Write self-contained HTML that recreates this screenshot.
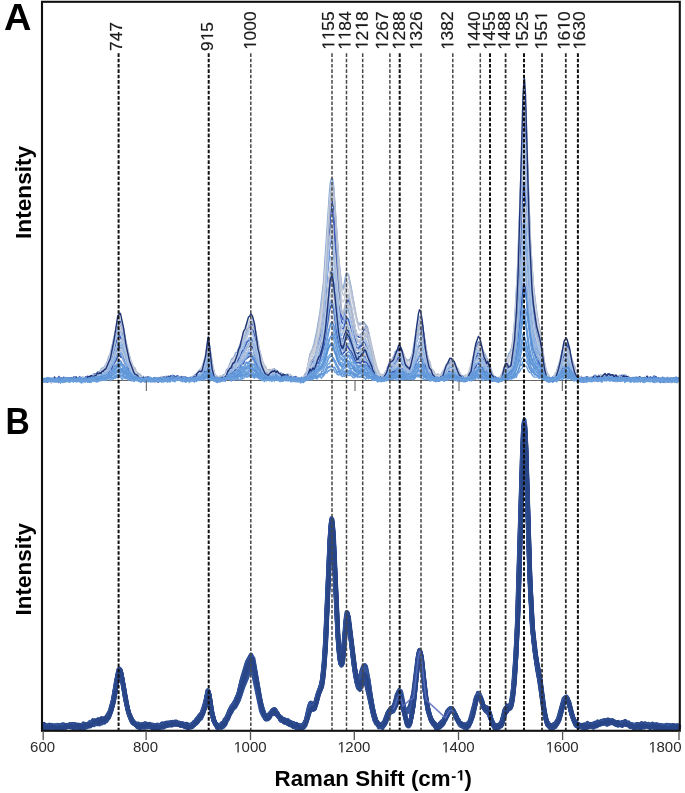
<!DOCTYPE html>
<html><head><meta charset="utf-8"><style>
html,body{margin:0;padding:0;background:#fff;width:685px;height:793px;overflow:hidden}
svg{display:block;will-change:transform;filter:blur(0.4px)}
text{font-family:"Liberation Sans",sans-serif}
</style></head><body>
<svg width="685" height="793" viewBox="0 0 685 793">
<rect width="685" height="793" fill="#fff"/>
<line x1="42" y1="380.5" x2="680" y2="380.5" stroke="#666" stroke-width="1"/>
<g>
<path d="M43 726.5l.5 .2 1.5-1.2 .5 .7 2-.6 .5 1 .5-.3 .5 .3 .5-.7 .5 .3 .5-.5 1.5 2.3 1-.2 1.5-1.3 1.5 .3 .5-.5 .5 .4 3-.4 1.5-1.4 .5 .8 1 .3 .5-.8 3.5 0 2 .6 1-1.6 1.5 1.1 2-.4 2.5 1.6 .5-.6 3 .1 1-.9 2.5 1.4 2.5-1.9 3.5 .5 2-.4 2-2 .5-.1 1 .8 1-1.2 1.5 .3 2.5-1.8 .5 1 2.5-1.6 1.5 .6 3-4.1 .5 .2 1-.9 1-2.4 4.5-17.1 3-19.4 2-6 .5-.3 .5 .5 2 7.1 4 24.3 3 13 3.5 5.4 .5 1.8 1 1.5 1.5 .7 .5-.8 1.5 .6 .5-.2 1.5 1.2 1-.8 1.5 .7 1-.8 1.5 .9 1.5-1.6 1 .8 1-.7 5 2.8 1.5-1 1.5 .5 1-1 1 .2 .5 .8 .5-.9 1.5 .8 .5-.8 2-1.1 1.5 .6 1-1.5 1-.2 .5 .5 1-.6 .5 .3 1.5-1.2 1.5 .7 .5-.6 1-.2 .5 1 1.5-.9 3 1.9 1.5-1.8 2 1.2 .5-.5 .5 .1 1.5 2.8 .5-.4 1.5 .5 .5-1 1-.4 2.5 .9 1-.7 1.5 .6 1.5-1.3 3-5.8 2-1.6 4.5-7.3 2.5-9.8 1.5-9.4 .5 .1 .5 2.4 3.5 21.8 1.5 5.6 3.5 5.8 1 .5 1.5-.8 1 .1 2-2.1 .5 .4 1.5-2.2 1-.6 4.5-10.8 1-.8 1.5-2.8 1-.6 1.5-3.8 2.5-3.8 4.5-15 3-8.1 1.5-6 3-6.6 1-.6 1 .5 2 5.3 7 37.7 2.5 6.9 2.5 4 1.5 .7 1.5-2.8 1 .8 1.5-3.3 2-2.7 .5-.4 .5 .5 .5-.5 1 .8 .5 1.6 4 6 .5 .4 1-.8 1.5 3.1 1.5-1.3 1.5 1.3 1-.4 3 4.1 1-.9 1.5 1.4 1-1.3 1.5 2.1 1-.7 .5 .3 1 1.9 1-.4 .5-.8 1.5 1.2 1.5-1 1-1.6 1 0 1-3 1.5-1.2 2-8.2 1.5-3.8 2-.7 .5 .5 .5-.7 .5 .5 1-1.3 3.5-12.3 2.5-6.7 2-10.2 1.5-15.4 1.5-25.4 4.5-103.8 1-11.4 .5-1.4 1 5.3 1 17.5 4 91.2 1.5 20.3 1 7.1 1 3.4 .5-.4 1-5.4 3.5-39.8 .5-3.1 .5-1.5 .5-.1 6.5 52.8 3 14.5 .5 .9 1.5-.4 .5-.7 3.5-9.1 1-1.4 1.5 2.3 2 6.4 2.5 16.9 4 20.1 2.5 5.8 1 .2 1.5 2.7 1-.3 1.5 1.2 1-1.5 1.5-.8 4.5-10.7 1-.3 1.5-2.4 1.5 .9 .5-.5 4.5-12.6 1.5-1.8 2.5 4.6 1.5 5.8 2 5.2 1 1 1.5-1.6 1-.2 2-5.1 3.5-15.7 4-34.1 1-4.5 1 .5 1 4.9 3.5 32.8 3 18.9 3.5 12 1 1.3 .5-.1 1.5 2.1 1-.1 1.5 2.9 1.5-1.7 2 0 2-3.7 1-.6 1.5-2.7 .5 .1 .5-.8 1.5-4.1 4-4.8 1 .2 .5 .7 2 4.9 .5-.6 1 1.4 2.5 7.1 1 1.6 .5-.4 1.5 .6 1 1.2 1.5-1.1 2 1.9 1-.6 1-.9 3.5-7.5 4.5-18.9 2-4.4 2 1.5 3.5 11.7 1.5 2.3 .5 .4 .5-1.4 .5 .1 1.5 2.1 1.5 5.5 3.5 8.4 2 2.8 1.5-1.5 .5-.1 .5 .6 .5-.4 1.5 .3 1.5-1.7 4-12.9 1-.6 1-2.5 1-.7 1.5 0 1-1.6 1-4.5 2-16.4 2-26.9 2-43.9 4.5-155.8 1-25.9 1-9.7 1.5 20.9 4 131.5 2.5 50.4 2 20.9 3 22.2 2 10.4 4.5 30.7 3.5 13.9 .5 .9 .5-.5 1.5 1.4 1-.9 1 1.3 1.5 .2 1.5-2.1 .5 .4 1-.7 .5-1 .5 .1 2.5-6.9 3.5-13.3 1.5-4.3 1-1.2 1.5 2.6 1 .6 4 15.3 3 6.2 2 2.9 .5 .4 1.5-.6 1.5 1.8 1 .3 .5-.6 1-.1 .5 .9 1-.4 1.5-1.7 1-.2 .5 .8 2.5 .2 .5-.9 1-.1 .5 .4 1-.9 1.5 .8 1-.3 1.5-1.9 1-.2 1.5 1 .5-.2 .5-1.2 1.5 .2 3.5-2.5 1.5 2.1 1-.8 2-.1 1.5-.7 1.5 1.9 1.5 0 1.5 1.9 1-.9 3.5 1.5 1.5-2.8 .5-.1 .5 .6 1-1 .5 .2 .5 1.3 1.5 0 2 1.7 1.5-1.1 1.5 2.8 .5 0 .5-.8 2 .3 1.5-1.7 1 .8 2.5 .5 1-.6 1 .4 1-.9 1.5 1.4 1 0 1.5-1.1 1.5 1 1-1.2 1.5 .7 1.5-.4 1.5 1.2 2-.8 1.5 1.6 1.5-1.3 2.5 1 .5-.4 2.5 .1 1-.9 1 .4 1.5-1 2.5 3.1 1.5-1.7 1.5-.7 1 1.7 1.5-1.9 2 1.8 1-.1 .5-.6 .5 .4" stroke="#2c4b8e" stroke-width="4.0" fill="none" stroke-linejoin="round"/>
<path d="M43 725.6l1.5 .4 .5 1 1 .2 1-.1 1-1.2 2.5 .3 1.5-1.4 1 1.6 2-.3 .5 .9 2-2.2 4 1.4 2-1.9 .5 .6 1.5 .1 1 1.2 4-1.3 .5 .6 1.5-1.4 3 1.5 1.5-.8 1 .3 2 1.9 1.5-1.3 2-.2 1-1.1 1 .1 .5 1.2 .5-.1 2-1.2 1-1.5 1 .2 1.5-1.4 1 .6 .5-1.1 1-.6 1 .7 2.5-2.1 1.5 1.4 .5-1.4 1.5 .4 .5-1 1 .3 .5 1 1.5-2.1 1 .7 2-3 1.5-3.4 .5-.1 1-3.4 2.5-10.5 4-22.9 1-4.5 1-2.1 1 1.1 1 4.4 4.5 26.4 3.5 14.4 .5 1.2 .5-.4 2.5 6.5 1.5 .2 .5 1.3 1.5 1.4 .5 .3 1-1.8 1.5 2.5 3-2.1 1 1.2 .5 0 .5-.7 .5 .2 1.5-.9 2.5 1.1 3.5 .5 .5-.3 1.5 1.3 1.5-1.1 .5 .9 .5-.7 .5 .4 .5-.9 .5 .7 .5-.3 .5 .4 1-1 1-.2 1-1.2 1.5 1.8 2-.8 1.5-1.7 3.5 .8 1.5-1.8 3.5 2.1 1.5-1.4 .5 .9 1 .2 .5-.4 2 .7 1.5 1.2 1.5-.6 1.5 1.2 .5-1.1 1.5 2.5 1-1 .5 .5 1-.4 .5-.9 .5 .1 1.5-1.4 .5-.9 .5 .4 1-.9 1-2.8 1.5-.7 2-3.7 1.5-.9 2-3.4 2-6.5 3-13.9 .5 .4 .5 2.2 2.5 17.3 2.5 10.1 .5 1 .5 .1 1.5 2.9 2.5 1.4 1-.2 .5 .3 1.5-2.1 1 .1 1.5-2 2-4.8 1.5-1.9 1.5-4.5 2-3.8 2.5-4.1 2-1.8 4-11.1 4-15.8 6-15.4 2 1.3 1.5 3.7 4 23.6 4 19.5 2 6 1.5 3 1-.3 1 1.2 1-.4 4-6.1 1.5 1.5 .5-.6 1 .2 2 2.7 3.5 2.9 1.5 2.7 1.5 .9 2-.3 1.5 .9 1-1.3 .5 1.1 1.5 .6 1 1.7 2-.2 1.5 2.3 .5 0 .5-.9 1.5 0 1.5 1.6 3.5-.3 .5 .6 3-4.8 2-6.9 2.5-11.5 .5-.5 1 0 2 2 .5 1.1 .5-.5 7.5-23.4 2-18.2 1-14 5-112 1-15.4 .5-3.1 .5-.1 1.5 19.4 4.5 98.5 1.5 19.4 1 6.1 1 .1 .5-.8 1-5.1 3-37.7 1-6.5 .5 .3 1 5.1 7 54.3 2.5 6.9 .5-.3 2-4.4 1.5-5.5 1.5-3.6 .5-.4 .5 .4 .5-.3 1 1.4 2 10.4 4.5 29.6 3.5 14 1.5 2.2 1 .6 1.5 2.3 1.5-1 1-.1 2-2.2 3.5-9.9 2-1.2 1.5-2.3 .5-.2 1.5 .7 1-.7 3.5-11.7 .5 .5 .5-.6 1 .8 1 2.7 4.5 17.3 2 5.1 .5 .9 1.5-1.6 1.5-4.7 2-12.5 4.5-42.9 1-8.4 1-3.8 1 1.9 1 6.2 3.5 33.5 2.5 15.3 2.5 9.8 .5 .2 1.5 4 2.5 2.2 1 2.7 .5 .4 .5-.6 1-.1 .5 .4 1-1 1.5 1.2 5-8.5 4-8.6 .5 .5 1-.5 1.5 .9 .5-.3 2.5 5.8 .5 .2 1.5 3.8 2 3.2 1.5 .5 2.5 3.4 2.5-1.5 1.5 1.4 2-2.7 2-4.9 4-17.3 2.5-5.5 .5-.1 2 3.5 2.5 6.8 2 2.1 1.5 .1 .5-.7 .5 .4 1.5 4.8 1.5 1.8 1 5.4 1.5 2.3 1 2.9 .5 .5 1.5-.2 .5 .8 1.5-.7 1 1.4 2.5-4.4 1-3 2.5-10.8 .5-.9 1-.3 .5-1.6 1 0 .5 .7 1-.8 .5 .1 1-2.1 2-10.2 1.5-15.7 2-33.5 1.5-35.6 5-166.1 .5-9.1 .5-4.7 .5-.7 1.5 26.6 4 129.7 2.5 44.5 1 11.7 2 14.4 4 20.2 5.5 38.1 2.5 9.3 .5-.2 .5 .5 1 2.4 .5 .2 1-.5 1 .8 1 0 1.5-2.1 1.5-.7 1.5-1.7 2-4.3 4.5-17.4 1.5 .2 .5-.6 1.5 .6 1 2 2.5 10.7 2.5 7.6 .5 .9 .5-.2 .5 .5 1.5 3 1 .5 1.5 1.9 1.5 .2 1.5-2 1 1.2 1.5-1.3 2 .8 1.5-.6 1.5 .4 1.5-1.4 1.5 .2 1-.5 1 .4 .5-.6 1 .4 .5 .8 1.5-2.5 1.5 .9 1.5-.9 1-1.6 2.5-.5 1.5 1.3 1.5-1.9 1.5 2.5 1-1.1 1.5 .5 1-1.1 1.5 1.9 1.5-.4 1.5 1.7 3-.2 1 1.1 .5-1.7 .5 .2 .5-.8 .5 .7 1-1.4 1-.4 .5 2.1 1 1.1 .5-.7 .5 .9 .5-.8 .5 .3 .5-.4 2 1.3 2-.3 1 1.3 .5-.4 1.5 0 2-1.2 3 .6 1.5-1.3 1.5 .9 1-1.1 1.5 1.3 2-.9 2 2.3 .5-.5 .5 .5 .5-.7 .5 .9 1.5-1.6 1 1 1-.8 1.5 1 2-1.1 1.5 1.6 2.5-.8 1.5 .6 1.5-1.3 .5 .8 2.5 .1 1-.5 2.5 2.1 1-.9 .5 .4 3-.6 1.5 .6 .5-.9" stroke="#2f4f93" stroke-width="4.0" fill="none" stroke-linejoin="round"/>
<path d="M43 727.1l.5-.5 1.5 .2 .5 .5 .5-.5 1.5 .4 1-.9 1 .2 .5 .9 1 .4 1-1.2 1.5 .4 1.5-.7 2.5 1 1.5-1.6 2 1.7 4-.8 .5 .8 1.5-1.7 1.5 1.3 .5-.7 .5 .6 .5-1.1 .5 .3 .5-.4 3 1.1 1-1.1 1.5 2.1 1-.6 .5 .4 1.5-1.7 .5 .8 1 .4 1-1.4 1.5 1.6 2-1.9 .5-.2 1 .7 1.5-1.7 2-.7 1.5 1.2 .5-.3 1-1.2 1.5-.2 .5-1.6 1-.7 .5 .8 1-.9 1.5 1.4 1 0 5-4.2 1 1.1 .5-.1 2.5-4.1 2.5-7.1 5.5-30.2 1-4.2 1-1.7 1 .6 2 8.6 3.5 21.1 3.5 13.7 2.5 5.8 1.5 1.8 2 .6 1.5 3.1 .5-.8 1-.4 1 .3 .5-.7 .5 .6 .5-.5 .5 .6 .5-.9 1.5 1.5 1-.9 2 1.4 2-1.4 1.5 .4 .5 .9 2-.9 1.5 1.3 .5-.9 1 0 1 .2 1 .9 1-.9 2.5 .3 1.5-1 .5 .6 1.5-.7 1.5 .3 2.5-2.5 .5 0 1 1.2 1.5-2.1 .5 .7 3 .4 .5 .8 .5-.5 .5 .3 .5-.7 .5 .5 2 .4 1.5-.9 1 1.4 .5 .2 1.5-.8 1.5 1.5 1-1.1 1.5 2 1-.1 .5-1.1 1.5 1.1 1.5-.4 2-3 .5 .1 1-1 1-2.2 1.5-1.1 4-5.9 3-8.7 2-9.9 1-2.9 1 3.9 3 19.5 2.5 7.9 1 2.5 2 .5 .5 1 .5-1 .5 .8 .5-.7 1.5 1.5 1-1.8 1-.3 2.5-3.5 3.5-9.2 .5 0 1-1.4 1-2.4 1.5-.7 4.5-8.7 5-16.6 4.5-12.8 2.5-6.1 1-1.4 4 11.9 5 28.4 2 6.7 .5 .4 1.5 5 1.5 3.1 1 .5 1-.5 4-5.8 .5-.1 1-1.5 1 0 .5 .7 .5-.3 1.5 2.4 2 1.5 1.5 3.4 2 2.4 1 0 1 1.1 .5-.7 1 0 .5 .7 1-.4 1.5 2.1 1.5-.3 1.5 1.6 1-.8 3 1.7 .5-.2 1 1.1 1-1 1.5 .3 1.5 1.6 1.5-1.1 1 .2 1.5-3.6 1.5-2.1 4-14.8 1 .3 1.5 2.9 1-1 2.5-6.5 2-8.5 3-7.4 1-6.2 1.5-13.2 2-30.9 4-96.7 1.5-20 1 3.1 1 14.4 4 91.1 2.5 31.5 1.5 3.6 .5 .3 .5-1.4 1.5-13.3 2.5-31.4 1-2.8 1 3 6.5 56.1 2.5 13.4 .5 1.3 2 1.8 3-6.8 2-.3 1 1.6 8 34.2 2 5.1 1 .5 .5-.6 1 1.4 .5 2 1-.1 3-2.5 3-5.4 3-8.8 2-2.6 1.5 .7 .5-1.2 .5 .3 1-1.1 1.5-2.7 1.5-6.6 1-.3 1 .8 1 .1 1 2.5 5.5 23 1.5 2.3 1-.9 3.5-15.9 4.5-44.5 1-7.7 1-3.9 .5 0 .5 .4 1 5.5 4 36.3 2.5 15.2 2 6.8 1.5 2.8 .5 2 2 2 1.5 2.9 1 1.1 1 0 1-1.2 .5 .3 2.5-2.6 .5 .5 1-.4 4.5-10 1.5-2.3 1.5-.8 .5-1 1.5 1.1 .5-.1 3.5 8.4 1 1.2 .5 0 .5 1.8 .5 .1 2 3.5 1.5-1.1 1.5 2.1 .5-.2 .5 .7 1.5-1.4 1 .1 1-.7 1-.9 2.5-7.8 4-16.3 2-5.2 1-.9 2 3.9 2.5 9.1 2.5 4.1 1.5 .4 .5 .8 2 3.9 2.5 6.9 2.5 3.3 1.5-.3 .5 .7 .5-.3 .5 .4 1-.3 1-1.6 1.5-.7 4-14.8 .5 .2 2-2.9 .5 .3 .5-.4 1 .9 .5-.6 2.5-12.7 1.5-14.9 3-54.4 5-169.4 1-24.5 1-7.6 1.5 23.6 4.5 145.5 2 35.5 2.5 23.1 4 21.6 4.5 32.6 2.5 13.8 2 5.5 .5 .6 .5-.1 1.5 2.7 1.5-1.8 .5 .4 .5-.5 .5 .5 2-2.4 1-.7 .5 .2 2.5-5.7 4.5-15.6 1-2.2 1-1 1 .8 .5-.3 .5 .8 4 15.3 3.5 7.7 3 2.5 1-.5 2 .8 .5 .7 2.5 .2 .5-.7 .5 .4 .5-.4 .5 .3 1.5-1.5 2 1.1 1-.7 1 0 1.5-1.3 1.5 1.6 .5-1.4 1-.8 .5 1.8 2.5-3.1 2-.3 .5 .7 1.5-.6 .5 .2 1-.7 1 .5 1-.9 1.5 0 .5-1.1 1.5 1.7 1-.7 1 .2 4.5 3.4 1-.8 1.5 .5 .5-1.3 .5-.2 1.5 2.2 1.5-2.5 1 .9 1.5-1.1 1 .5 1 1.7 1.5-1 1 1.6 1 .5 .5-.3 .5 .8 1-.6 .5-1.2 .5 0 2 2.3 1-.6 .5-1.4 1 .3 1.5 1.7 1.5-1.8 2 .4 .5-.3 .5 .5 1.5-.9 2.5 1.7 1.5 .5 1.5-.7 1.5 .6 .5-.7 .5 .9 .5-.3 .5 1.4 1-.5 .5-1.5 1-.3 1 1.1 1.5 0 1.5-.7 1 1.1 1.5-.8 .5 .9 1.5-2.2 .5 .1 1.5 1.9 3 .2 1.5-1.1 .5 1.3 1 .1 .5-1.2 .5 .2 .5-.5 .5 .9 1 .3 1-.7 .5 .3 .5-.8" stroke="#2a4789" stroke-width="4.0" fill="none" stroke-linejoin="round"/>
<path d="M43 726.6l.5-.6 .5 .9 1 .2 .5-1 1 .8 1 .1 3-1.3 1.5 .9 1.5-.8 1.5 1.4 2.5-.3 .5 .6 .5-.5 1 .3 1.5-1.4 1 .4 2-.8 .5 .6 2.5 .3 1-1.3 .5 .4 1.5-.4 .5 .7 1.5-1.7 .5 .5 1-.4 .5 .8 1 .3 .5-.9 .5 .1 1 1.2 .5-.3 1 .5 .5 1 1 0 1-.6 .5 .3 1.5-2.5 1 1.3 1.5-.8 1.5 1.1 2-1.6 1-.4 .5 .3 1.5-1.7 1 .6 .5-.3 .5-1.4 .5-.1 1 1.2 1.5-.9 3 .3 2.5-2.4 .5 .9 3-.9 1.5-2.3 .5 .1 2-3.9 3-11 4.5-25.5 1-2.7 1-.9 .5 .2 1.5 4.8 3.5 20.4 3 13.2 2.5 6.8 3.5 4.8 2.5 1.3 .5 .9 2.5-.8 2.5 1.8 1.5-2.1 .5 .6 1 .1 1-1.1 1 1.5 1.5-.6 1 .4 .5 1 1 .2 1-1.6 1.5 2.2 1-.5 .5-1 1.5 1 2-1.6 .5 .3 .5-.3 .5 .6 .5-.3 .5 .5 2-.2 1.5-1.3 2.5 .3 1-.1 .5-.6 1 .1 1-1.2 1.5 1.5 1 .1 2-2 3 2 2-1.1 1.5 1.3 1.5-.3 1 .8 1.5-.5 1 1 .5-1.1 1.5 1.7 1-.9 .5 .8 1 .2 1.5-2.4 .5-.4 1 1.2 1.5-2.2 2-1.1 1.5-3.3 2-2.1 3.5-9 2.5-12.7 1-3.1 5 28.3 2.5 4.5 .5 .4 .5-.3 1.5 2.1 1-.8 1.5 .7 1.5-2.5 1.5-.4 1.5-1.4 5.5-13.9 1.5-.9 1-1.5 2-3.9 1-3.3 2-3 3.5-14.2 3-8.7 1-4.4 2-5.7 2.5-5 .5 1.1 1.5 1.3 1 3.3 2.5 11.7 2.5 17.2 2.5 11.9 1.5 4 1 4.7 2 3.5 .5-.8 1 .4 .5 1.5 1-.2 1.5-3 2.5-2.1 1 0 1.5-.7 3 4.4 1 .3 1.5 2.6 .5-.6 .5 .5 1 2.1 1-.8 1 .1 1.5 2.7 1.5-.5 .5 .5 2 .6 .5 .9 1.5 .5 1.5 1.2 1.5-1.9 1.5 3.2 1-1.5 2.5 1.8 2.5-1.9 1 .5 1-.4 1-1.4 3.5-16.1 1-2.9 1-2.1 1 1.9 1.5 1 .5 1 1-.9 4-13.7 1-1.9 2.5-9.6 2-19.7 1-15.7 4.5-103.8 1-16.6 1-6.9 1 8.2 1 17.1 4 91 1.5 20.4 1 7.3 1 2.2 .5-.1 .5-2.1 4-42.6 1-3.8 1.5 5.7 5.5 45.7 2.5 13.5 .5 .8 2 .6 1.5-2.8 1.5-4.9 1-1.8 1.5-.6 1 .6 .5 1 7 39.4 1.5 5.3 1 2.3 1.5 1.3 1.5 4.8 1-1.7 1.5 1 1.5-1.8 .5 .4 1-.4 3-7.2 .5 .1 1.5-3.6 3.5-3.8 2.5-6.4 1.5-7.9 2.5-5.2 1 .9 .5 1.3 4 16.8 1.5 2.3 2 .4 1-1.1 3-9.4 1.5-7.6 4-34.2 1-6.3 1-2.6 1 2.1 .5 3.1 4 37.9 2.5 16.5 3 9.1 4.5 5.7 3 1.5 1.5-2.2 2 0 3-6 .5-.3 1.5-4.1 1-.8 1.5-3.4 .5 .3 1.5-1.9 3.5 5.6 .5 2.1 1.5 1.9 1.5 4.1 3 4 1.5-1 1.5 1.5 .5-.8 1-.1 1 1.1 2.5-4.3 .5 .1 2.5-7.2 5-19.7 .5 .1 .5-1 1-.1 4 12.5 .5 .7 1-.1 1.5 2.1 .5-.4 1.5 2.2 .5 1.7 .5 .3 2.5 8.2 1.5 1.7 1.5 3.6 1-.3 .5-1 2.5-.4 .5 .7 .5-.6 .5 .1 1.5-2.3 1.5-6.6 1.5-3.8 1-1.6 .5 .3 .5-2.1 1-1.5 1 1.3 .5-.4 2-5.6 1.5-9 2-21 2.5-47.8 5-168.7 1-25.9 .5-7.8 .5-1.8 1.5 22.5 4.5 145.6 2.5 42.1 2.5 22 5.5 33.4 3.5 25.3 2.5 11.3 1 2.4 .5-.1 .5 .5 .5-.9 1-.3 1 .9 2.5 .4 1-.1 1-.8 3.5-7.6 4-15.1 2.5-4.2 1.5 1.9 2.5 5.9 1.5 7.1 3 8.3 2.5 2.4 .5-.3 1.5 2.1 1 0 .5 .8 2-1.5 2.5 1.2 1.5-1.2 .5 .2 .5 1.5 1.5-2.1 .5 .6 1-.1 1.5 .9 2-2.2 .5-.2 1 1.4 1.5-1.5 1 .6 1-.4 2-2.1 .5 1 1 .5 2-2.7 1.5 1.6 1.5-1.4 1.5 1 .5-.9 .5 0 1.5 1.1 2-.1 2 2.8 1-1.4 1-.1 .5 .9 1-.3 .5-.9 2 1.5 1-1.3 .5-.2 .5 .8 .5-.7 1-.3 .5 .8 1.5 0 .5 1.1 1.5-.3 .5 .8 1.5-.7 3 2 2.5-1.3 5 .6 .5-.7 1-.1 2.5 .9 2.5-.5 1-.8 1.5 1.3 2-1.4 3 1.6 1 .1 .5-.7 .5 1.5 2-1.2 1.5 1.8 1.5-1.8 .5 .7 .5-.1 2 1 1.5-1.7 .5 .8 3-.3 3 1.4 2-1.3 2-.1 .5-.8 .5 .7 1.5 .4" stroke="#32529a" stroke-width="4.0" fill="none" stroke-linejoin="round"/>
<path d="M43 726.6l1.5-.2 1 1.2 1.5-.7 .5 .5 1-.4 .5 .6 .5-.6 .5 .5 .5-.8 .5 .1 1-.7 1.5 .6 .5-.5 1.5-.1 1 .4 .5 1 1 0 .5-.8 1.5 .1 1.5-1.2 1.5 .3 2-.2 1 .6 1.5-1.2 1 .9 2.5-.8 1 .2 1-.9 1 1.1 1-.8 1 .1 .5 .8 .5-.1 .5 1.4 1.5-1.6 .5 .6 .5-.6 1 .7 1.5-1 1 .7 3.5-.1 2-1.4 1.5 .4 1-.3 1-.7 1.5-2.5 2 .6 .5-.7 2-.6 2 .6 1.5-1.1 1 .8 2.5-2.6 .5 .2 1-.4 1.5-2.8 .5 0 3.5-9.4 2-9.4 3-18.8 1.5-5.5 1-1.8 .5 .2 1 3.1 5.5 32.1 2 7.5 2 5.5 1.5 2.2 2 1.4 2 2.8 1 .5 .5-.5 1 .7 1 2.1 1.5-2.2 1.5-.9 2 1.4 .5-.6 .5 .8 2-.5 .5-.5 1 .1 .5 .9 1 .1 1-1.4 1.5 .6 .5-.4 .5 .2 .5 1.1 2-.3 .5-.6 1.5 .9 .5-.7 .5 .7 2.5-1.1 .5-.9 1.5-.5 .5-.7 1.5 1.3 1.5-1.1 4-1.3 1.5 .8 1.5-.9 3 1.8 1-1 2.5 2 1-1 1.5 .9 .5-.5 1.5 2.1 1-.7 .5-1.2 .5 0 1 2.2 1.5-2.1 .5 .5 .5-.5 .5 .6 2 0 1-1.1 1.5-3.7 1 .1 1.5-2.9 3.5-4.4 3-8.2 3-13.9 1.5 6.7 2 14.3 2.5 9.3 2.5 3.8 1-.4 2 1.2 1-.6 .5-1.1 1-.2 .5 .5 1.5-2.7 1.5-1.1 1.5-4.9 3-5.3 1.5-4.4 .5 0 1.5-3.3 2-2.9 1.5-4.7 .5 0 4-17.3 5-16.4 4-7.1 2.5 4.2 6.5 38.6 2 9.1 3 9.2 2.5 .5 1-1.6 1.5 1.2 1-2.6 1-.8 1.5-3.1 1-.3 1 .6 .5 1.5 1.5 1.8 1 3.2 1.5 2.5 .5-.1 1.5 2 .5 .2 .5-.8 .5 1.5 1 .8 .5-1.2 .5 0 1.5 1.4 1.5 .2 .5 1.2 1.5-.9 .5 .8 1-.5 1 .7 1-.5 1.5 2.3 .5 .1 1.5-.9 .5 .8 2 .8 1.5-1.1 1 .5 .5-.6 .5 .4 .5-.5 .5 .4 3-8.1 2.5-10.2 1-.9 1-.2 1.5 2.3 .5 .4 .5-.3 1.5-6.4 4.5-13.1 2.5-11.1 2.5-29.1 5-114.2 .5-8.5 .5-4.5 .5-.3 1.5 12.3 4.5 100.3 1.5 19.4 1 7.2 1 3.8 .5-.3 .5-2.4 1.5-11.8 2.5-31 1-4.9 .5 .9 5.5 43.4 3 20.1 1.5 4.4 1 .4 2.5-3.4 1-3.5 1.5-2.9 1 .1 3 9.4 3 17.5 3 13.8 3.5 9.8 .5 .6 1 .2 1 1.1 1-1 1 .9 1-.5 2.5-3.9 4-11.2 .5-.5 .5 1.3 1.5-1.2 1 .4 1-1.4 5.5-13.1 1 1.1 2.5 8.9 2.5 12.2 2.5 7.1 .5 .7 .5 0 2.5-7.8 1-5.7 2.5-19.2 3-30.2 1-6.5 1-3.3 .5-.3 1 4.5 4 37.2 1.5 9.9 3.5 13.7 1.5 1.8 2.5 5.2 .5 .2 1-.4 1 1.9 .5 0 .5-.1 .5-1.3 1.5-.4 .5-1.2 1.5-.1 1.5-2.4 .5 0 3.5-8.2 1.5-.7 2-4 1-.2 2 2.8 1 3.5 2 4.5 1.5 1.3 1.5 3.6 .5-.2 3.5 2.5 1 .2 4-2.3 4-9.3 3.5-16.4 1-2.4 2-.9 4 10.9 2.5 3 .5-.3 .5 .5 .5-.5 1 1.5 2 6.5 3.5 8.2 .5-.3 1 .3 1 2.5 1.5-1.6 1 .3 1-1.5 .5 .2 1-1.1 1-2.3 2.5-8.9 1.5-1.2 1-2.5 1 .1 1-1 2-3.6 3-23 1.5-21.3 2-42.4 5-168 .5-12.8 1-10.9 .5 1.9 1 16.7 4 130.2 2.5 51.4 3 26.9 3 19.3 1.5 5.4 2.5 20.9 3.5 20.6 1 1.6 1.5 4.5 1 .6 2-.2 .5-.6 1.5 2.3 1-2.1 1.5-.1 3-6.3 5-17.2 1-2.4 2-.9 .5 0 3.5 10.6 3 12 .5 .8 1-.7 1.5 4.1 1 .2 1 1 1.5-1.3 1.5 0 1 2.2 .5-.1 .5-.7 1.5-.4 1-1.2 2.5 1 2-1.7 .5 .7 .5-.5 .5 .3 2-.6 .5 1.2 1 0 1.5-1 .5 .4 .5-.3 1-1.6 1.5 .7 1.5-1.6 1.5 0 1.5 .7 1-1.7 1 1 1-.7 1.5 .1 .5-.7 2 1.2 1.5-.7 1 2 2-.7 1.5 2.5 1.5-.3 .5-.7 .5 .4 1-.2 1.5-1.6 3 1.1 .5 .7 1.5-.8 1.5 2.3 1.5 .6 3.5-1.6 1.5 1.6 2-1.5 1 1 1.5-1.2 2.5 1.4 1.5-2 2 2.4 2-1.5 1.5 1.1 .5-.6 .5 .1 .5 1 1 .5 1.5-2 .5-.1 1.5 1.5 1.5-1.6 .5 .6 1.5-.2 1 1.1 .5-.6 2 2.2 .5-.9 1.5-1 2 .2 .5-.6 3.5 1.5 .5-.7 1.5 .5 1-.5 1.5 .3 1.5-1 1.5 1.4 .5-.5" stroke="#2d4c90" stroke-width="4.0" fill="none" stroke-linejoin="round"/>
<path d="M43 727.4l1.5 1.1 1.5-1.6 1 1 .5-.4 1.5 .5 1-1.2 1.5 .5 1.5-.1 .5-.9 1-.4 1 1.4 1-.8 1.5-.3 2 1.9 1.5-1.1 .5 .2 1-.5 1 .6 1.5-1.3 1-.1 .5 0 .5 .8 1.5 0 .5 .5 1-1.7 1.5-.5 1.5 1.6 .5-.6 1.5 .8 1-1 1.5 1.4 2.5-1.2 1 1 .5-.7 1-.1 1 .6 1.5-.6 1 .2 2.5-2.2 .5 .6 1-.1 .5-.8 .5 .3 1-.8 1 .3 2-2 .5 0 1 1.6 1.5-.8 1 .2 1-1.4 1 0 1-.8 1 .9 .5-.2 3.5-3 2.5-4.3 1-2.6 2.5-8.8 4.5-26.2 1-3.6 1-.8 1 .7 .5 2 6 32.9 2 7.6 4 7.9 1.5 .1 1 1.3 1.5 .2 2 2.6 3.5-1.9 1.5 1.1 .5 0 .5-1 1 .3 1 1.7 1-.2 .5-1.1 1 1 2-.7 2.5 .7 .5 .6 .5-.4 .5 .5 1-.3 .5-1.1 1.5 1 1.5-1.2 .5 .6 .5-.4 .5 .3 1-.9 1.5 .4 1.5-2.4 1 .3 .5 .9 1 0 1-.8 1.5 .3 .5-.5 .5 .5 .5-.8 .5 .4 1.5-.3 1.5 .9 .5-.9 1-.7 1.5 1.2 .5-.3 1 .5 .5 1 1 .6 .5-.8 .5 .3 1.5-.6 1 .8 2 .3 .5-.4 2 .9 .5-1.2 1 .3 .5 1.4 .5-.1 3.5-5.6 1 .2 .5 .6 3.5-6.1 .5 .7 .5-.6 1.5-5.2 2-4.8 2.5-13.5 .5-.9 1 3.3 1.5 11.6 3 13.6 1.5 3.3 3 2.4 1.5-1.3 2.5 1.2 2.5-2.5 1.5-4 1-.9 1.5-5.2 4.5-6.5 4-8.8 1.5-5.9 1.5-3.2 2.5-11.6 5-15.9 3-3.6 1-.1 2 5.8 6.5 37.9 2.5 9.7 3 7 1.5-.1 .5 1.1 .5-.3 1.5-3.9 3.5-4.2 2.5 1.6 1 2.1 1.5 1.2 .5 1.4 3.5 3.6 .5-.1 1.5 .9 1-.4 1.5 1.6 1-1.2 .5 .1 1.5 2.6 2 .4 1.5 1.1 3 .3 1 .6 1-.9 1.5 1.3 1.5-.2 1.5 .6 .5-.4 3-5.6 4.5-14.6 .5 0 1.5 2.1 1.5 .2 .5-1 2-6.5 1.5-7.9 2-3.2 2.5-11.1 2.5-28.9 5-112.5 1.5-15.7 .5 .3 .5 3.6 .5 7.1 4.5 99.2 1 16.3 1.5 13.2 1 3.3 1-1.6 1.5-12.2 2.5-29.6 .5-4.3 .5-1.9 .5 .1 6.5 51 2.5 15 2 4.3 1 .4 4-7.5 .5-.3 1 1 3 8.2 5 27.5 2.5 6.4 1.5 1.1 1 2.1 1.5 1.4 1.5 .6 .5 .1 1.5-1.1 3-6.4 1.5-1.2 1.5-4.8 .5 0 .5-1.2 .5 .3 1-1 2.5-4.1 3.5-15.3 1-1.4 1-.1 1 .6 1 4 4.5 25.1 1.5 4.5 1 .6 2-6 1.5-7.3 2.5-19.4 3-30.4 1.5-9.1 .5-1.5 .5-.1 2 12.4 3.5 32.7 2.5 15.2 .5 2.4 3 7.8 1.5 .9 .5 1.1 1 .5 1 1.3 .5-.2 1.5 1.7 2-2.6 .5 .3 2.5-1.7 1-3.7 .5-.8 .5 .3 1-1 1.5-4.9 1-1.4 .5 .2 1.5-1.7 1.5-.4 1 .2 2 2.8 3.5 8.7 3.5 4.3 .5 .5 .5-.6 1.5 .9 1.5-1 2 .9 2.5-5.7 1.5-2.3 4-17.4 2.5-7.9 2.5 3.9 1.5 5.8 3 5.9 .5-.9 1-.2 2 2.9 3.5 12.1 1 1.9 2 1.6 1.5-.8 1 1.5 1 0 .5-1.2 .5 .2 1-.9 1.5-2.6 3.5-12.3 1.5-2 1 .1 .5 .6 2-3.5 1.5-5.3 2-17.1 2-29.5 1.5-33.8 5-169 1.5-23.9 .5 1.2 .5 5.7 .5 10.2 4 129.8 2.5 51.6 1 12 4 31.8 2.5 13.2 4.5 31.1 2 8.1 1.5 1.8 .5 1.8 1.5 .9 1-.1 .5-.5 1.5 3 1.5-3.7 1 .5 .5-1.2 .5 .5 1.5-3.3 1.5-1.1 4.5-17.3 2-2.6 1.5 .4 2 3.9 3 11.9 1.5 3.5 1 4.4 .5 .4 .5-.5 1 .6 1 1.4 1 .1 .5-.7 .5 1.1 .5-.7 .5 .3 .5-.4 1 1.2 .5-.4 .5 .7 .5-1.2 1 .6 .5 1.2 1.5-1.5 2.5-.4 1.5-1.4 2 .6 1.5-.7 1 .4 1.5-.8 1 .2 1.5-1.9 1-.2 1 .5 1.5-1 1.5 1.6 3-2.5 .5 1.2 1.5-.3 1.5 .8 1.5-1.2 1 1.7 1.5 .2 .5 .6 1-.3 1.5 .7 2-1 1 .2 1 1.1 1-.6 .5-1.4 1.5 .4 1-1.1 1.5 2.2 1.5 .1 1 2 .5 .1 2.5-1.5 1.5 1.3 1.5 .3 1.5-.4 2 1.7 2.5-2.6 1-.1 1.5 2.1 1.5-1.7 2 .8 2.5-.6 1 0 .5 .6 .5-.3 .5 .5 .5-.4 1.5 1.6 1.5-1 .5 .9 .5-.1 1-1.1 1 1 1 .1 1-.6 1 .9 1.5-.8 .5 .7 1-.3 1-1.1 1.5 1.3 1-.6 1-1.7 2 2.1 .5-.4 .5 .5 2-.6 .5 1 2-2 1-.1 1 1.8" stroke="#35569c" stroke-width="4.0" fill="none" stroke-linejoin="round"/>
<path d="M43 727.6l.5 .8 2-1.6 1.5 .6 1-.7 1.5-.1 1.5 1.4 1.5-.1 3-1.7 1.5-.2 2.5 .6 1-.9 1 .3 .5 .7 2 .3 2-1.2 3 1.3 2.5-1 1.5-1.2 1 .8 .5-.5 2 1.8 2-2 1 .4 .5 .9 1.5-.4 1-.9 1 .3 1.5 2 1-1.4 3.5-2 2 .1 1.5-1 .5 .6 .5-.2 1-1.6 1 .3 1.5-1.7 .5 .9 1.5 .7 1.5-1.5 .5 .5 1.5-.6 .5 .4 1.5-2.3 1 0 .5-.9 .5 .6 1-.2 2-4.9 2.5-9.8 5.5-30.5 1.5-3.8 1 1.4 1.5 6.2 4 24.7 2.5 11.3 2 5.2 3.5 5.2 2.5 1.8 1.5-.4 1.5 2.3 2-.8 .5-1.1 1-.1 .5 .7 1.5-.5 .5 .3 2-1.3 1 1.5 2.5 .4 1.5 1.1 .5-.1 .5 .7 1-.1 .5-.8 .5 .7 .5-.8 .5 .4 .5-.8 1.5-.8 .5 .6 1 .2 .5-1.4 1-.8 .5 .9 .5-.2 1.5 1.4 1-1.6 .5-.3 2 .5 1-1.3 1 .4 .5 .7 1.5-.7 1.5 .9 1.5-2.2 2.5 1.6 1-.8 .5 0 1.5 2 1-.3 1 .6 .5-.9 1-.2 .5 .6 .5-.5 1 .4 1.5 1.9 3-1 1 .7 4-3.9 1-.1 2-4.1 2-.8 .5-1.2 1-.5 4-10.5 1.5-8.9 1-3.7 .5-.2 3 18.6 2 9.1 1.5 2 1 2.8 .5 .5 1-1 2 2.3 .5-.7 1.5-.6 .5 .3 1.5-1.3 1.5-4.3 1 .1 .5-.5 2-3.5 1.5-4.3 .5 .1 1-.9 .5-2 1-1.6 1-.4 3-3.6 2-4.8 4.5-14 3.5-8.6 1.5-5.6 .5-.1 2-3.4 1 1.1 2 4.5 4 22.1 3 13.4 2 5.8 3 5.3 2.5-2.6 .5 .3 2.5-4.5 1-.1 .5 1.3 1.5-1.7 1.5 1.2 1.5 2.5 1.5 1.4 1.5 2.9 1.5 .1 .5 .9 .5-.3 2.5 2.2 1.5-.3 1 .3 1 1.9 1-.1 .5-1.1 1-.4 .5 1.3 1 .6 .5-.3 1 1.2 2 .3 .5-.7 1 0 .5 .8 1.5 0 1 1 1-1.3 1.5-.3 .5-1 1-.4 .5-1.1 5-17.4 1.5 .7 .5 1.3 .5 .2 1.5-.8 .5-1.2 2-9.1 3.5-7.9 2-10 1.5-13 2-30.1 4-95 1-14.6 .5-2.6 .5-.4 1.5 17.3 4.5 98.2 1 13.9 1 6.8 1.5 4.5 1-3.4 3.5-40.8 .5-4.5 1-2.6 1 4.8 5.5 45.6 3 17.5 .5 1.3 .5-.1 2-2.2 2.5-8 1.5-1.9 .5-.2 1 1.5 2 6.6 5.5 33 2.5 8.8 2 4.2 1.5 .7 2 2.1 2-1.6 3-6.7 1.5-2.1 1.5-4.7 2.5-3.2 1.5-.5 1-1.6 4-12 .5-1 1-.6 2 5.1 3.5 12.6 1 1.1 1 .1 1-.6 .5 .1 1-.9 1.5-3.7 2.5-9.5 5-41.8 1-4.6 .5 .2 .5 1.9 1.5 10.4 4.5 39.7 1 3 1.5 8 2.5 6.5 1 2.1 .5 .1 1.5 3.6 1.5-.4 1 .6 .5-.9 1.5 .7 1.5-1.4 .5-1.4 1-.5 .5 .4 7.5-14.8 1 1.1 2.5 1.1 1.5 4.6 1.5 2.9 1.5 1.6 3 5.2 2 1.2 .5-.9 1-.3 1 1.5 1.5-1.6 .5 .3 1-.4 .5 .5 1-1.9 3-10.4 3.5-15.3 1.5-2 1-.1 1.5 2 3.5 11.6 2.5 1.5 1.5 2.7 .5-.2 .5 1.6 .5 .2 3 10.1 1 1.6 1.5-.9 1.5 1.2 1-.8 1.5 1.4 .5-1.3 1.5-1.2 4.5-12.2 .5-.9 .5 .4 2-3.3 .5 .5 .5-.8 1-3.9 1-1.7 1-4.8 1.5-14.7 2-29 1.5-32.5 5-169.3 1.5-27.1 .5 .1 .5 4.5 1 20.1 3.5 116.9 2.5 55.7 2 21.8 3 21.9 3.5 19.1 2 16.2 3.5 18 2 4.6 2 1.9 .5-.6 1.5 .9 1.5 0 2-2.5 .5 .1 1-1.1 3-8.1 1.5-7.1 3-9.2 .5 .1 .5-1 1-.4 2 3.6 3 12.4 3 7.8 2.5 3.6 .5-.2 1 .9 1-.9 1.5 1.6 2-1.4 1 1.3 .5-.2 .5 .6 .5-.3 .5 .7 .5-1.4 1-.5 .5 .6 2-.7 .5 .4 1-.3 2 .4 1.5-1.6 .5 1.6 1-.7 1-1.6 .5 .7 1 .2 .5-.8 2-1.2 3 .4 1.5-1.3 2 .1 .5-.4 2 .7 1 1.7 1 0 .5-.5 1.5 .6 1.5-.3 1.5 1.1 .5-.6 1-.1 .5 .9 .5-.4 .5 .3 .5-1.4 1-.1 .5 1 .5 0 1.5-2 1.5 1.7 1.5-.3 2.5 3.5 1.5-.7 .5 .7 .5-.6 1-.3 .5 .9 2-.4 1.5 .8 1.5-1.6 1 .1 .5 .8 1 .3 .5-.7 1.5-.1 1.5-1.4 1.5 1.8 1-.6 1 .4 1-.9 .5 .5 .5-.5 .5 .2 .5-.9 1.5 .7 .5 .8 1.5-.4 1.5 1.3 1 .1 .5-.6 1 1 2.5-.9 .5 .3 1-.7 3 1.4 3-1.6 2 .3 1 .8 1-1.8 1.5 1.6 1 .1 .5 1.2 1-.3 .5-1 .5 .5 .5-.5 .5 .5 .5-.5" stroke="#284588" stroke-width="4.0" fill="none" stroke-linejoin="round"/>
<path d="M43 725.9l2 1.5 .5-1.3 1-.5 .5 .9 1 .3 2-.6 1.5 1 1-1 1.5 .6 1-.3 2.5 1.4 1-.7 2.5-.1 1.5-.8 .5 .5 1.5-.7 1.5 1.5 2-2.8 1.5 1.1 1.5-1.2 1 0 2 2.2 1-.4 1-1.6 .5 .1 .5 1.4 .5 .1 1-1.9 2.5 1.9 2-.9 2 1.3 .5-.8 1.5 .1 3.5-3.1 2 1 .5-1.1 .5 .4 .5-1.3 .5 .3 .5-.4 .5 .9 1.5-2.4 .5 .8 .5-.6 1 0 1 1.2 1-.7 1 0 1.5-1.8 .5 .8 1 .4 3.5-4.9 2.5-5.1 3.5-15.9 3.5-20.7 1-2.5 1-.9 .5 .6 2 8.5 3.5 22 4 15.1 1 2.4 2 1.9 1.5 2.3 2 1.3 1 2 3-1.5 .5 .9 1 .4 1-.6 2.5-.3 2 1.2 1.5-2 1.5 2.6 1-1.3 1 0 1.5 2.2 .5-.7 .5 .3 .5-.8 2-.6 .5 .2 .5-.3 .5 .8 2.5-2.7 1.5 1.4 2.5-.4 1-1.1 1.5-.5 1 1.6 1.5-2.9 1.5 1 1-1.5 2-.4 2 1.3 .5 .9 2.5-.3 1.5 1.2 .5-.3 1.5 1.8 3-1 .5 .9 .5-.2 .5 .5 .5-.4 .5 .6 .5-1.1 1-.7 .5 1.6 .5 .5 .5-.1 1-2.8 1-1 .5 .6 3.5-5.3 1.5-.8 1-2.6 1.5-1.6 1-2.8 1-.7 2-7.1 2-11.1 .5 0 .5 2.1 2.5 17.7 2.5 9.7 3 4.4 1.5-.3 .5 1.1 1 .4 .5-.8 1.5 .3 3-3.7 .5-1.9 4.5-9.5 1.5-4.8 2-.9 2-3.9 1.5-1.8 10.5-33.8 2-5.1 1.5-.1 .5 .1 1 1.5 2 6.2 4 25.7 3.5 15.2 2.5 6.4 2 .8 1.5-.5 1 .7 1.5-2.5 1-.5 1.5-2.3 1 0 .5 .8 1.5-.2 .5 .5 1.5 3.7 .5-.4 3 4.3 3-.6 3 3 1.5-.9 1 .2 .5 1.2 2 1.6 2.5-.4 1.5 2.4 1.5 .2 1.5-1.4 2.5 .7 .5-.5 .5 .6 1-.5 2.5-4.7 4-13.2 .5-.5 1 .4 1 1.6 .5 0 1-1.5 4-14.9 2-4.4 2.5-12.9 2.5-31.2 4.5-105.8 1.5-18.9 .5 .7 .5 4 1 14.8 4.5 97.9 1 14 1.5 12.7 .5 .8 1.5-5.2 2-19.3 1.5-21.3 1-5.8 .5-.3 1 4.5 6 49.1 2 10.6 1 2.8 .5 .3 1.5-1.5 .5-.6 1.5-6.7 1.5-3.3 1-1.5 1.5 1.4 1 2.2 2.5 12.8 1.5 12.3 4 21.5 4 8.4 .5-.7 .5 .9 .5-.3 1.5 1.2 1.5-1.6 .5-.2 .5 .3 4.5-11.9 2-2.9 1.5 1 1 .1 2.5-4.8 1.5-4.6 2-2.7 1 .7 2.5 5.4 4 17.6 1.5 1.2 2-1.7 2-7.6 2-15 4-40.4 1-7.1 1-1.2 1 3.1 1 6.7 2 20.8 3 24 2.5 9.7 1.5 2.2 .5 2.4 2 4.3 1 0 1 1.7 1 0 1 1.3 2.5-1.6 2.5-3.2 .5 .1 1-1.2 1.5-4.2 2.5-2.9 1.5-3.8 1.5-1.9 1.5 2.4 2 1.9 5.5 11.3 3.5 3.2 .5 0 1-2.2 1.5 1 1 .1 2.5-3.9 2.5-6.7 3.5-15.6 1-3.8 1-1.9 1.5 1.8 2 4.7 1.5 5 .5 .3 1 2.6 .5 .5 1-.1 .5 1.5 1.5 1 1 1.6 1.5 5.1 2.5 5.9 1.5 1.3 1.5 .3 1 1.4 1.5-1.8 .5 .8 1-.2 1.5-2.3 1.5-4.2 2.5-9.9 1.5-.4 1.5-2.3 1.5 .6 1-2.6 1.5-7.2 1.5-12.5 2-29.4 1.5-32 5-169 1-24.3 .5-5 .5-.9 1.5 26.3 4.5 142.9 2 34.6 1 11.2 3.5 26.3 4 22.4 1 9.2 2.5 15.4 2.5 9.4 2 3.6 1 .6 .5-.3 .5 1.1 1.5-1.4 1 .8 1-1.2 .5 .3 1-1 2.5-4.8 5-17.8 2-3.9 2.5 1.1 2 6.9 1.5 7.8 4 9.4 1 1.8 1.5-.5 1.5 1.3 1.5 .4 1.5-1.1 1.5 .1 1.5 1.1 .5-.5 2-.1 .5 .7 1-1.2 1.5 .1 .5-.9 1 .4 .5-.8 1-.2 1 1.1 1-.4 .5-1.3 1.5 1.6 1-1.4 1.5 .2 2-2 .5-.1 1 1.3 1-.8 1-.2 .5 .5 1.5-1.9 2 1.6 .5-.8 1.5 .4 1-.4 1.5 1.1 .5-.1 1.5 1.8 .5-1 1-.5 1 2 1 .4 .5-1.1 1.5 .3 1.5-.6 .5-1.3 .5 .2 .5-.9 .5 1.2 1 .7 1-.6 .5 .9 .5-.1 2 1.5 .5-.6 .5 .8 1.5-.5 1 1.3 1.5-.3 1.5 .7 .5-.9 .5 .3 .5-.9 1.5 .6 1-.6 1 1.4 1.5-1.6 2.5-.7 1.5 1.8 2-1.1 3 1 .5-.9 1.5 2.6 2-1.6 2.5 .6 1 1.2 .5 0 1-1.6 1-.3 2 1.4 1 0 1-.6 1.5 1 1-.7 1.5 .7 .5-.9 1-.2 .5 .6 3-1.1 1 .5 .5-.3 .5 .7 .5-.9 .5 .6 .5-1 .5 1" stroke="#2c4b8e" stroke-width="4.0" fill="none" stroke-linejoin="round"/>
<path d="M43 726.9l1 0 .5 .7 .5-.7 1 .2 1.5-.7 1 1.2 2-1.4 2 .8 1.5-.6 2 .6 1-1.4 1 .3 .5 1.7 1.5-.9 1 .1 .5-.7 1 1.7 3-1.4 1 1.2 .5-.1 1-1.6 1.5-.4 1.5 .6 .5-.6 1.5 .6 1.5-1.4 .5 .5 .5-.2 .5 .8 .5-.1 1 1 1 .2 .5-.7 1.5 .5 1.5-.2 1 .5 1.5-1.2 2-.4 2-1.5 1.5 .2 1.5-2.1 .5 .9 .5-.6 1 0 .5 .6 .5-.2 .5-1.3 2.5-.2 .5 .6 .5-1.3 .5 0 1.5 1.1 .5-.9 1 .4 .5-.3 1-1.9 1 .6 1-1.4 1.5-.3 1-.8 1-1.9 3-8.5 5-26.9 1-4.8 1-2.6 1 .6 1.5 4 4 23.3 2 8.9 2 5.3 1.5 6.1 1 2.1 1.5-.4 3 2.9 .5-.4 2 1.7 1.5-.3 .5 .4 1.5-1 .5 .2 1.5-.6 1.5 1.9 1-1.3 2.5-.5 1 .4 1 1.6 2-1.6 .5 .6 .5-.9 2 2.4 1-.2 1-1.8 1 1 .5-.1 1-.8 1-.1 1-1 1.5 1.2 .5-.1 1-1.6 1 .5 1-1.3 3 1.9 1.5-1.8 1 .7 1.5-.9 1.5 .4 1-.9 .5 .4 .5-.4 .5 1.8 1 1 .5-1.2 1.5 .5 .5-.7 1.5 2 2.5-1.7 1 .4 1.5 3 1.5-2.3 1 1.1 .5-.1 2.5-4.9 1-.4 1.5-2 .5 .2 1.5-3 1 .1 .5-.4 1-2.1 1-.6 3.5-12.1 1.5-8.6 1-.8 3 20.3 2 8 1 2.5 2 3.2 .5 .4 1.5-1.2 1.5 1.9 4-4.5 2-1.3 2-6.6 1-1.2 1.5-3.9 1.5-1.7 1.5-3.9 2-2.3 3-7.8 3.5-14.1 6-19.2 1-1.4 .5 .3 1.5-1.5 .5 1.2 .5-.1 1 3 2 9.1 5.5 32.4 3 10.7 1.5 2 1 .8 2 .2 1-1.5 .5 .6 1-1 .5-2.1 2-.7 1 1.5 1.5-1.3 .5 1.4 3 3 1.5 3.2 .5-.3 .5 .5 .5-.6 .5 .7 .5-.3 .5 .8 1.5 .5 1 .9 1-.4 2 .3 .5-.5 1 1.7 .5 .3 .5-.8 2.5 2.7 1 .4 .5-1 1-.2 2 2.3 2 .2 1-.3 1.5-1.7 .5 .5 2-3 4.5-15.2 2-.8 1.5 2.7 .5-.4 4-14.7 4-11.7 .5-3.4 2.5-27.3 4.5-101.4 1-18.7 1-8.5 1 5.5 1 14.7 4.5 97.3 1.5 16.7 1 5.9 1 1.5 1-4.5 3.5-40.4 .5-4.3 .5-1.7 .5 0 1 4.6 5.5 46.6 2.5 16.1 1 2.5 1 1.3 1 .3 2.5-7.5 1.5-.8 .5-.9 2 1.8 2.5 10.4 3 17.7 2 8.6 2 5.9 3 4.6 1 .4 1-1 .5 .3 .5-.7 .5 .2 .5-.9 1-.2 1-1 3-9.1 2-3.5 1 .3 1.5-1.6 .5-1.3 1-.9 .5 .5 4-11.6 .5-.3 1 .3 1 2 6 24.6 1.5 2.3 .5 .2 .5-.7 1-.3 3-16.8 5-47.4 1.5-6.9 .5 .2 2 10.5 3 29.3 3 18.6 2.5 8.7 1.5 2.6 1.5 1.2 1.5 2.4 1 0 1 1.5 2.5-2.9 1.5 1.4 3-4.7 1.5-4.3 1.5-1.8 .5-1.9 2-2.4 3.5 .1 1.5 2.8 .5 .1 3 7.4 3 4 1.5 .2 1 .9 1 0 1.5-1 .5 .9 1-.2 .5-1.3 1.5-1.3 2-5.1 3.5-14 1.5-8.2 1-.8 .5 .3 1-1.2 .5 .2 3.5 10.5 3 3.4 1.5 .3 1.5 1.9 2.5 10.4 1.5 2.2 1 2.5 1 .4 1-.2 1.5 1.6 1.5-2.2 1.5 .1 5-16.9 3-2.7 .5 .5 1.5-.9 2-8.6 1.5-13.9 2-29.2 1.5-32.3 5-167.3 1.5-27.2 .5 .7 1 14.6 4 129.3 2.5 52.3 2.5 23.6 2.5 15.7 2.5 11.7 5.5 40.1 1 5.2 1 2.6 2 3.3 1-.3 2 1.4 1 .1 2.5-3.1 3-4.9 5.5-20.2 1-1.6 .5 .3 1-1.3 1 1.8 4 15.9 1.5 2.6 1.5 5.7 1.5 1.9 .5-.3 1 .5 .5 2.1 .5 .2 1-1.1 1.5 1.3 .5-.6 .5 .7 1-.7 1-1.9 .5 0 1 1.2 4.5-.2 .5 .3 1.5-1.6 .5 .8 2 .9 1-1.5 1 .2 1-1.3 1.5 1.4 1-1.3 3.5-2.1 1.5 1.3 1.5-1.2 .5 .5 1.5-1.4 3 2 3-.8 1 2.3 1.5-.3 1 1.2 2.5-2 1.5 .7 3-.2 .5 .7 1.5-1 1 .1 .5 1.2 .5-.4 .5 .9 .5 0 1 1.9 1.5-1 .5 .3 1-.9 1.5 .6 1-.5 1 .2 1-.7 1.5 1.5 1-.4 1-1.2 1 1 1 .3 1-1.3 1.5 .1 1 1.3 1-.4 1 .7 1.5-1.2 1 1.8 1.5-1.4 1 .2 1-1.3 1.5 2.7 1-.2 .5 .9 2-1.6 .5 1 1-.5 .5-1.1 2 2.5 1-2.4 1.5 1.7 1-1.1 .5 .7 1 .3 1.5-1.4 1.5 .4 .5-.4 .5 .6 .5-.5 .5 .5 .5-.2 .5 1 1-1.1 1.5 1.3 .5-1 1 .7" stroke="#2f4f93" stroke-width="4.0" fill="none" stroke-linejoin="round"/>
<path d="M43 725l1-1.1 2.5 2 3-1.3 3 1.8 1.5-1 1 .3 1-.6 1 .2 .5 .7 .5-.6 1-.1 .5 .6 1.5 0 1-1.4 .5 0 1 .6 .5-.5 1 .7 1-.4 .5 .5 2 .1 1-1.1 1.5 1.5 1-1.5 1 .6 1.5-1 2 1 1.5-.1 3 1.3 1-.2 1.5-2.6 1.5 2.7 .5-1.4 .5 .6 .5-.6 .5 .3 2.5-2.4 .5 .5 1 0 2-3 1 .7 1-.5 1.5 1.6 1-1.1 .5 .4 .5-.5 .5 .3 .5-1.1 .5 .4 1.5-2.2 3 .5 1-.4 4-6.7 3.5-12 3-18.4 2.5-11.9 1 1.2 2 5.6 3 19.3 3.5 16.6 4 8.8 1 .3 1 2.2 1.5 .3 .5 .9 1.5 .4 .5 .9 1-1.9 1 .5 .5 .9 1 .3 3.5-2.4 2.5 2.1 2.5-1.4 1.5 1.5 .5 .1 .5-.9 .5 .2 1 1.4 1 .4 1.5-1.3 .5 .3 .5-.9 3 1.3 1.5-2.1 1 1.1 1.5-1.5 .5 .5 .5-.1 1-1.1 1 .8 1-1 1-.1 .5 .8 .5-.9 .5 .3 2-.7 .5 .5 1-.6 2-.3 1.5 1.7 1 .2 1.5 2 2.5-2 1.5 1.1 1.5-.8 1 .3 .5 1 .5-.2 .5 .7 .5-.5 1.5 .2 2.5-1.9 .5-1 1.5 .4 1.5-3 .5-.1 .5-1.6 4-4.6 3.5-11 2.5-11.8 .5 .4 .5 2.4 2.5 17.8 2.5 9.5 1.5 2.5 2 1.8 1.5 0 1.5 .7 1.5-2.4 .5-.5 1 .1 .5-.7 1-2.5 2-2.1 3-7.4 1.5-1.8 .5-1.7 2-2.8 .5-.5 .5 .3 .5-.7 2-4.3 4-11.4 1.5-6.7 6-17.7 2-1.5 1 .9 2 5.6 5 28.8 2 8.8 3 9.2 1 .1 1 1.7 1 .5 1-.1 1-.6 1.5-3.1 1.5-1 .5-.9 2-1.1 1 .4 .5 .9 .5-.1 1.5 4 1 0 2 3.6 .5 .3 1.5-.3 1.5 2 .5-.3 1 .6 .5-.3 .5 .5 .5-.3 2.5 .7 1 1.9 1-1.2 .5 0 .5 1.1 1.5 .4 .5 .9 1 0 1-1.2 1 .9 .5 1.4 1.5-1 1 .7 .5-.5 1.5 .8 3.5-5.9 2-8.2 2-5.8 .5-.3 1.5 1.7 1.5-.1 .5-.7 4-14.4 3-7.7 1-5.8 1.5-14.2 1.5-22.7 4.5-102.4 1.5-16.2 1 2.9 1 14.6 4.5 97.2 1.5 18.1 1 6 .5 1.3 .5-.1 1.5-7.2 3-37.1 1-6.8 .5-.3 1 4.5 6 51.6 1 7.1 2 9 1 1.5 .5-.3 .5 1.2 .5-.8 .5 .2 3.5-7 1 .1 1 1.7 1.5 5.4 6 28.9 2 5.5 2 2.3 .5 1.4 4 0 2.5-2.3 3.5-9.3 2.5-3.3 2-1 .5 .2 .5-.7 4-12.6 2-3.2 2 4.7 3.5 12.8 2 1.7 2-2.8 1.5-3.1 3-11 4.5-36.7 1.5-7.1 1 1.6 1 5.5 3.5 32.3 3.5 21 3 8.2 2 3.1 2 1.2 1 1.9 1.5-.4 .5 .6 3.5-4.1 1.5-.9 1.5-3 .5 .4 2-6.8 1.5-1.7 2.5-.6 .5 .7 .5-.2 .5 1.2 .5 0 2 4.4 3.5 4.7 1.5 3.6 1 .9 1-.4 1.5 2.9 1-.4 .5-1.9 1.5 .4 1-1.5 1-.4 1-1.3 5-18.4 .5-3.3 1-2.6 .5 .3 1.5-4.9 .5 1.3 1.5 1.7 3 9.6 1 .8 1 2.3 .5 .3 1-1.6 .5 .3 1.5 3 2 5.6 1.5 6.5 2.5 2.9 1.5-.3 1.5 1.2 3.5-4 2-5.8 1-5.6 .5-1.2 .5-.3 .5 .3 .5-.9 1-3.4 1 .6 1 1.7 .5-.5 1.5-5.3 2-14 2.5-34.7 1.5-32.8 5-167.8 1-22.9 .5-5.4 .5-1 1.5 27.8 4 130.7 2.5 46.8 3 25.6 4.5 26.8 3.5 26.9 2.5 11.8 .5 .4 1.5 4 .5-.5 2.5 2.5 1.5-1 .5 .3 .5-.3 1-1.4 1 .3 .5-.7 1-2.4 .5-.1 1-1.9 5.5-19.9 1-1.3 1.5-.4 .5-.7 1 1.6 3.5 13.8 2.5 6.7 .5 .5 1.5 5.2 .5 .1 1.5-1 .5 .9 .5-.3 2.5 1.4 1.5-.7 .5 .6 1.5-1.1 1 1.1 2-2.6 1 1.9 1.5-.7 1 .5 1.5-.6 .5 .5 1-1.4 .5-.2 1 .5 2-1.9 1.5 1.2 2-1.7 1 0 .5 .5 .5-.3 .5 .5 1-.5 1 .9 2.5-1.3 .5-1.1 1.5 3.3 1.5-2.4 1-.3 1 2.2 1.5-.3 .5 .6 1 0 1.5-.8 .5 1 .5-.2 .5 .5 .5-.6 .5 .4 .5-.4 .5 .2 .5-.8 .5 .7 .5-.7 2 .3 .5-1 1.5 2 1.5-.9 1.5 3.3 1-1.1 .5 .5 1-.6 1.5 1.5 1.5-1.6 2.5-.5 1.5 1.5 2-2.3 1 1.4 1.5-.8 .5 .9 1.5-1.1 1.5 1.1 3 .1 .5 .6 1.5-1.7 2 1.6 2-.1 .5-.9 1.5 1.6 1-.1 .5 .4 1.5-.5 2 .3 .5 1 1.5-1.6 1.5 1.3 .5-.4 .5 .2 1.5-1.2 2 .2 1 1.1 1.5-1.1 1.5 1.3 .5-.7 1-.1 1 .7 1.5-.1" stroke="#2a4789" stroke-width="4.0" fill="none" stroke-linejoin="round"/>
<path d="M43 726.4l.5 .4 1.5-.2 1 1.2 2.5-1.3 1 .9 1.5-.1 1-1.3 1 2.8 1.5-2.4 1 .6 .5-.2 .5 .8 3-1.4 1.5 1.9 1-.3 1-2.4 1.5 1.4 2-1.2 2 1.1 1.5-.3 1.5-1.1 1 1.4 1.5-.1 .5 .7 .5-.8 .5 .5 .5-.8 .5 1 .5-.6 .5 .4 1-.3 .5-.6 1.5 1 1-.5 .5-1.2 .5 .1 .5-.7 1.5 3.2 1.5-2.2 1.5 .2 1-1.6 1.5 .3 1-1.2 1 .4 1.5-.2 1 1 1.5-2 1-.3 .5 .8 1-.2 .5-.8 2 0 .5-.9 1.5 .6 2-3 1 .6 .5-.1 2-3.2 3-8.3 6.5-35.7 .5-1.6 1-.4 1 .8 1.5 7.1 5.5 31.5 3 9.3 .5 1.3 1.5 1.3 1.5 2.3 3 .8 3 2.1 1.5-1.9 2 2.6 2.5-3.1 1 1 1.5-.5 .5 1.1 3 0 1 1.2 1-.3 .5-1.4 1 .2 1 1.1 1-.3 1.5 .5 1.5-1.4 1.5 1.4 1.5-2.3 1 1.2 .5 0 3-2 1 .8 1.5-.4 .5 1 1-1.3 2 .4 1.5-.8 1 .1 1 1 1.5-1 1 1.3 1.5-.7 1.5 1.1 1 0 1 1.4 1.5-.6 .5 .6 .5-.7 .5 .5 .5-.7 .5 .4 .5-.6 1.5 1.1 1.5-1.8 .5 .3 .5-.6 .5 .2 1-1.9 1.5-.6 3-6 .5-.5 1 .4 1-3.7 1.5-2.8 4.5-19.1 1 3.9 3 21.5 2 6.2 1 2.2 2 .4 .5 1.3 1 .9 2-.8 1-1 1-.2 .5 .5 1-1.5 1.5-4.1 4-6.2 1-2.9 2.5-3.1 .5 .6 1-.5 1-1.2 3.5-6.7 4-12.1 4-9.5 1.5-4.8 1-.8 1 .4 1.5-1.8 1 2.2 8 37.7 2 4.3 2.5 3.5 1.5 .3 3.5-6.2 .5 .1 2-2.8 1.5 2.1 1.5-.5 .5 1.2 1 .7 2 4.2 .5-.2 1.5 1.7 1.5 .8 .5-.4 .5 .6 .5-.4 .5 1 1.5 .8 1-.7 2.5 3.3 .5-.5 .5 .9 1-.2 1-1.2 3 2.8 1 .4 .5-1 1.5 1.5 1.5-1.6 1.5 1 1.5-2.4 .5 .1 1-1.4 1-2.3 3.5-15 .5-.6 2 .7 1.5 2.6 .5-.5 2-5.9 2.5-9.9 2-4.3 2-9.5 1.5-15.5 1.5-24.2 4-94.2 1-16.5 1-6.7 .5 1.7 1 12.7 4.5 99.4 2.5 27.2 .5 1.9 1 .7 1-5.6 3-36 1-8.2 .5-.8 1.5 5.9 4.5 39.9 3.5 22.9 1 2.8 .5-.1 .5-.7 .5 .2 1-.7 2.5-7.3 1-.4 2 2.1 1.5 4.6 2 9.2 3.5 20 .5 .5 1.5 7.6 2 1.3 2.5 4.9 .5 .1 1-.8 1 .4 .5-.7 1.5-.6 5-12.4 .5-.8 1 .1 .5-.3 .5-1 1.5 .3 .5-.6 4-9.4 2-2.9 2 2.5 5.5 22.7 1 1.7 1-.4 .5-1.2 .5 0 1-3 1.5-7.8 2.5-20.2 3.5-35.1 1.5-5.7 .5 .4 1.5 8.9 4 36.7 2 11.4 3 9.6 .5 .1 1.5 4.1 .5-.3 .5 .9 .5 0 .5 1.5 1 .7 .5-.4 1.5 1.6 .5-1.2 1.5 .8 2-2.3 .5 .8 2.5-6.1 2-3.1 1.5-4.2 2.5-3.2 1.5 2.3 1.5 1.1 2 4.9 3 3.8 2 4.5 1.5-.3 3 2.4 1.5-.8 .5-1.4 1-.8 .5 .4 1-2.4 1-.5 6-24.4 2-1.4 .5 .9 .5-.2 2 3.9 1.5 6.9 1 .4 .5-.3 3 4.3 .5-.3 .5 .4 1.5 5.9 .5 .2 1.5 4.9 .5 .1 2 4 1 0 1.5-1.8 .5 .8 1 .5 1.5-1.7 1-.1 4.5-14.8 .5 .5 1.5-2.9 1 .3 .5-.3 2-2.6 1-5.1 2-18.7 3-52 5.5-181.8 1-19 .5-1.7 1.5 20.7 3.5 116.3 3 62.9 3.5 31.2 4.5 22.6 4.5 33.1 2.5 9.4 1.5 2.3 2 1.6 .5-.3 1.5 1.1 1-1.4 1.5-.4 1-1.2 2-5 .5 .2 5.5-20.4 .5-.1 1-1.8 3 5.8 4.5 16.3 1.5 2.1 .5 0 1.5 3.3 2 2.5 1-1.9 .5-.2 1 1 1.5-.7 1.5 .7 1-.8 3-.4 .5-.4 1.5 2 1-.6 1-1.4 1.5 .6 1-.8 .5 .5 1.5-2.1 1 .4 .5 .8 1-.2 .5-1.2 1-.5 .5 .2 1-1 1.5 1 1.5 .2 1.5-.6 1 .7 3.5-1.9 1.5 1.4 .5-.5 .5 .8 .5-.3 .5 1.2 4 1.6 2-1.1 1.5 .1 1-.5 1.5 .3 2-.9 3.5 2.8 3 .3 1 .6 1.5-1.5 1.5 1.8 1 0 .5-1 1.5 1.1 1-1.1 .5-1.5 1 1.2 .5 1.6 .5-.8 .5 1.1 1.5-3 .5-.2 1 1.4 1.5-.7 1 1.4 1-1.4 .5-.1 1 1.2 2 .4 .5-.5 1.5 1.3 .5-1 1.5 .8 1.5-1.4 .5 .3 .5-.3 .5 1.4 1 0 1-1.5 3 1.5 1.5-1 1 .1 2 2 2-1.7 1.5 .4 .5-.5 1 .1 .5 .7 .5-.3 .5 .8 1 .1 .5-1 1 .1" stroke="#32529a" stroke-width="4.0" fill="none" stroke-linejoin="round"/>
<path d="M43 728.6l1 0 1.5-1 1 .5 .5-.6 1.5 .7 1-1.1 1 .6 .5-.4 1.5 .4 .5-.8 1 .3 .5 1.2 2.5 0 1-1 1 0 2 1.1 1.5-1.4 1.5 .9 1.5-1.4 .5 .6 .5-1 .5 .7 .5-.5 1-.1 .5 .6 1.5-1.1 .5 1 .5-.6 .5 .4 1 1.6 2-.7 1 .2 1-1 1.5 1.7 .5 .1 .5-1.2 1 0 1 1 .5-.7 .5 1 1 .4 1.5-2.4 1 .1 .5 .6 .5-.5 .5 .3 1.5-1.6 1 1 1-1.2 2-1 1 .8 1.5-2 1.5 1.1 .5-.7 2 .9 .5-.5 1.5-.3 1-1.1 2 .2 1.5-1.7 .5 .2 2.5-3.7 2.5-6.7 2.5-9 4-24.1 2-6 1 1.4 .5 1.8 5 28.6 2.5 11.3 4 8.3 3 1.6 .5 1 .5-.1 .5 1.3 .5-.1 .5 .9 .5-.1 .5 .9 1 0 1.5-2.2 1 .2 1 1.1 1 .2 1.5-1 1.5 .2 1.5-.4 2 .8 1 1.1 1-1.3 1.5 1.3 1-.9 2 .4 1-1.1 2.5 .9 .5-.9 .5 .4 .5-.3 .5 .7 .5-1.1 1-.5 .5 .5 1.5-1 .5 .4 1.5-1.5 1 .2 .5 .6 2 .1 1-.8 2-.1 1-.7 1.5 .7 .5-.8 .5 1.3 1 .5 .5-.4 .5 .5 2 .2 2 1.4 1.5-.6 1 1.8 1-.9 .5-1.3 .5 .8 1 .4 2.5-2.1 3.5-1.9 3.5-4.5 1-.2 1.5-3.9 .5-.3 2-6.4 3-13.8 1-1.5 3.5 22.2 2.5 8.2 2 4.7 1 .1 .5-1.3 .5 .6 .5-.3 .5 .4 .5-.3 2 .3 1-.6 2-2.5 1.5-4.3 1-.7 2-5.8 1-.7 2.5-4.8 1-1.3 .5 .3 .5-.9 5-12.5 4.5-15.7 4.5-11 1-.9 2.5 .5 1 3 7 37.4 4.5 12.3 .5 .1 .5-.8 1.5 .7 .5-1.2 .5 .1 1-.8 2-4.6 1.5 .3 1-1.2 1-.1 3 4.5 .5-.3 2.5 4.8 2 .8 .5 .9 2.5 .8 .5-.6 1-.1 .5 .8 .5-.2 1.5 2.3 1-.6 .5 .9 1 .4 .5-.8 3 3.3 1-1.5 2.5 1.2 .5-.7 1-.3 1 .7 1-.5 2-2.2 2.5-7.7 1.5-7.3 2-5.1 1.5 3 1.5-.5 1.5-2.6 4.5-16 1.5-2.3 1-6.5 1.5-14.4 1.5-23 4.5-103.8 1-13.5 .5-3.3 .5-.2 1.5 20.2 4.5 98.2 2 22 1 3.1 1-1.7 .5-2.2 3-35 1-8.3 1-3 6 48 2.5 15.3 1 3.2 1 1 1.5-.6 1-1.1 2.5-7.4 1-2 .5-.2 2 5.3 1.5 6.7 4 24.4 3 12.8 1 2 1 .9 1.5 3.7 1.5-.5 2 1.2 .5-1.2 1.5-1.6 1.5-2.5 3.5-9.8 2.5-1.7 .5 .5 1-.6 4-9 1.5-4.5 1.5 1.6 1 .1 .5 1.5 1.5 9.7 3.5 14.6 1 1.1 1 .1 1-1.8 3.5-17.8 5-47.1 .5-4 1-3 1 1.4 1 4.8 4 38.9 2 10.2 3 12 2 4.5 1.5 .6 1.5 3.5 1.5-.2 1.5-1.8 .5 .9 .5-.1 1-1.5 1-.2 1-2.4 .5-.7 .5 0 1-2.3 1-1 1.5-4 .5-.2 1.5-2.9 2.5-3.1 2 4.3 1.5 .9 1 4.1 1.5 2.2 1.5 4 .5 .6 1.5 .2 1 1 .5-.1 1.5 1.5 1-.7 1.5 1.1 1.5-2.4 .5 .6 1.5-4.2 .5 .1 5.5-21.6 2-5.5 .5 0 3 6.2 1 3.1 1.5 2.8 1 3.8 .5 .3 .5-.9 1-.5 1 .8 6 17.9 1.5-2.3 1 1.8 1-.7 1.5 0 .5-.9 1-.2 1-1.2 4.5-15.7 1-.1 1.5-1.5 1.5 .4 1-2.1 1-4.4 1.5-12.1 2.5-35.5 2-45.6 4.5-158 1.5-24.6 .5 0 .5 4.4 .5 10.1 4.5 144.2 2.5 46.8 3.5 29.7 4 22.4 4.5 32.1 2.5 8.9 2 3.1 .5-.2 2 1.5 2-1.8 1-.5 .5 .3 1.5-3.2 1-.6 .5-1.1 5.5-19.8 1-2.8 1-1 2 2.7 1.5 3.5 2 9.5 1.5 2.9 1 4.5 2 4.3 1.5-.6 .5 1.1 .5-.2 .5 .7 .5-.8 1.5 1.5 2-.5 1.5 2 1-1.6 1 .6 1-1.3 1 .6 1.5-1.7 .5 .8 1 .4 .5-.4 .5 .9 1 .4 2-2.3 .5 .9 .5 .1 1.5-1.8 2 .2 1-2.1 1.5 1.1 1.5-.7 .5-.9 1 .3 .5 1.3 1 1 1.5-1.1 .5 .2 1.5-2 .5 0 2.5 .9 .5 .7 1.5 .2 1 1.2 1.5 .6 1.5-2.1 1 1.7 .5 .1 1-.3 .5 .4 1-.8 1.5 .3 .5-.7 2.5 .6 2 2.2 .5-.2 .5-1.2 1.5 1.9 1.5 .7 1-.6 .5 .5 .5-.9 .5 .4 .5-1 .5 1.2 .5-.3 .5 .5 1-1.1 1.5 1.3 1.5-1.7 2 .5 .5-.6 2.5 0 2.5 1.7 1.5-1.2 1 .6 1-.4 1 .8 1-.8 1 .3 .5-.4 1 .4 .5 1.2 3-1.1 .5 .7 .5-.7 1-.1 .5 .9 1.5-.9 1 1.1 1.5-1.5 2 1.3 1.5-.8 1 1.7 1.5-2.1 1 1.7 1-.1 1.5-2.5 1-.5 1 1.8" stroke="#2d4c90" stroke-width="4.0" fill="none" stroke-linejoin="round"/>
<path d="M43 726.7l.5 .6 1 .1 2-1.2 .5 .6 2 .5 2-1.1 2.5 2 1.5-2.7 .5 .9 .5-.5 .5 .5 .5-1 1 .3 1.5 1.7 2-1.6 .5 .7 .5-.7 .5 .4 1.5-1.2 1.5 .9 .5-.3 .5 .4 .5-.6 2 .4 1.5 1 1-1.3 .5 .3 1.5-1.1 1.5 1.9 1.5-.8 2.5 .9 1.5-1.3 1 .5 1-.9 .5 0 .5 1.2 1.5-1.9 1.5 1.2 3-3.6 1 .8 .5 1.3 .5-.9 .5 .4 .5-.6 .5 .9 2-1.8 1.5 .8 3-1.5 1.5 .7 2.5-2.3 1.5 .3 4-4.5 2.5-7.7 6.5-34.1 1-1.5 1-.3 1 2.2 2.5 13 2 13.9 2.5 10.9 2 6.2 1.5 .9 2 3.8 2 2.1 1-.5 3 2.4 1 .2 1.5-1.5 1-.2 1 .7 1.5-1.4 1 0 1.5 1.7 1.5-2 1.5 2 1-1.1 1.5 1.7 2.5-.5 1.5 .4 1.5-1.8 1 1.1 3-.2 1.5-1.8 .5 1 1 .3 1-.8 1.5 0 .5-1 1-.5 2.5 .3 1-1.1 1.5 1.6 1-1.1 1 .9 2.5-.3 1.5 1.2 .5-.9 .5 .7 2 .3 1.5 1.1 1-.3 1.5 1.2 .5-.4 1.5 .3 1.5-2.1 1.5-.2 1-1.8 .5-.4 1 .8 .5-.4 2.5-5.1 1.5 .3 1-1.6 2.5-7.1 .5 0 .5-1.1 3.5-15.9 1 2.9 3 19 2.5 8.9 1 1.6 .5-.3 1.5 1.8 1-.4 2 1.1 1.5-3.4 1-.3 1.5-1.6 .5 .4 6-14.8 2-2.2 1-1.9 1 .1 .5-.7 6-19 4.5-16.2 3.5-7.9 1-.5 1.5 .8 1 2.4 6.5 38.3 5.5 16.9 2 0 1-.9 1 0 3.5-4.7 2 .3 2 1.8 4 6 1.5 .7 1 2 1.5-.4 .5 1 .5 .3 .5-.4 1 1.2 1 .2 .5-.6 .5 1.2 3-.4 1.5 1.6 1-1 1.5 1.8 1-.7 .5 .5 2.5 .4 1.5-1.9 .5 .7 1-.6 1.5-1.4 1.5-2.4 2.5-10.9 1.5-3.7 1-1 .5 .4 1-.1 1.5 2.3 2.5-9.6 1.5-4.9 1.5-2.6 2.5-9.2 2-19.2 1.5-22.5 4-94.3 1-17 1-6.9 1 5.5 1 17 4 89.3 1 15 1.5 12.4 .5 2.2 .5 .9 .5-.1 1-4.7 3.5-40.6 1-4.5 .5 .5 6.5 50.4 3 15.9 .5 1.1 1 .2 4-12.7 1-1.5 .5 .5 .5-.7 .5 .8 2.5 8.8 2.5 16.9 3.5 18.5 3 9.9 .5 .4 .5-.5 1.5 3 .5 0 .5-1.3 1-.1 1 .9 .5-.5 2-3 4-9.2 .5-.7 1.5-.2 1-2.8 .5-.3 1 .6 2-4.2 2-6.7 2-3.6 1 .4 .5 1.1 3 10.6 2 4.3 1-.1 1.5 .8 1-2.7 1-1.2 .5 .1 2.5-10.1 1-6.3 3.5-30.9 1-6.8 1-3.3 1.5 5 5.5 47.8 4 14.9 1.5 3.5 1.5 1.1 1.5 2.9 .5-.4 2 1.6 1-.4 2.5-2.8 .5 .2 3.5-6.6 1.5-1.6 1.5-3.9 3-2.1 1.5 1.9 .5-.2 1.5 1.3 2.5 6.3 2.5 4.1 1 .8 .5-.3 1.5 1.8 1-.1 .5 .9 1-1.8 .5-.3 1 .6 1-1.7 2-1.1 3.5-10.6 4-16.5 1-1.4 .5 .4 .5-.4 2.5 6.3 2.5 8.7 .5 .5 1 .1 1.5 3.6 1.5 .2 1.5 5.5 2.5 4.7 3.5 2.9 1.5 0 1-.7 1.5 .3 1-1.1 1-2.6 3-10.5 2-3 .5 .2 1-1.8 1.5-1 1-2.3 1.5-8.5 2-21 1.5-24.7 2-48.2 4-143.2 1-27.3 1-11.3 1 7.5 .5 10.8 4 132.6 2.5 53.6 2 21.2 3.5 23.5 3 15.6 3.5 27.7 2 8.9 1.5 3.8 1 .8 1-.1 1.5 1.2 1.5-.3 2-2 .5 .3 1-.2 .5-1.8 1.5-2.4 3.5-11.7 .5-3.1 2-5.5 1-1.8 1-.8 1 .6 2 4.9 1.5 8 4 11.2 2 2.7 2.5 1.4 .5-.2 .5 .9 .5-.5 .5 .4 .5-.9 .5 .7 .5-.4 1 .9 3.5-2.7 2 1.5 1.5-.9 2 1 1.5-2.5 1 1.2 1.5 .2 1.5-2.2 1.5 .2 1-1.3 .5 .7 1 0 .5-.6 1.5 1.6 1.5-2 .5 .6 1.5 .1 1 .7 1.5-2.1 1.5 1.1 .5-.4 1 .3 1.5 1.6 1-.1 3 1.4 2-1.2 .5 .6 1.5-1.3 .5 .5 2 .1 .5 .5 1.5-.1 2.5 1.6 1.5-.9 1 .4 1 1.8 .5 .2 1-1.3 1 .4 3-.7 1 .9 .5-.7 1.5 .9 .5-1.1 4 .3 1-.9 1.5 1.4 1.5-.6 4 1 .5-.2 .5-1.4 1 .9 .5 1.4 1-1.4 1-.4 1.5 1.1 1-1 1.5 1.8 .5-.3 .5 .4 2-.3 1.5-1 3 1.2 3-1.3 1.5 1.4 .5-.8 2 .2 .5-.4 1.5 1.1" stroke="#35569c" stroke-width="4.0" fill="none" stroke-linejoin="round"/>
<path d="M43 728.1l1-.4 .5 .4 .5-1.2 2 .6 .5-.4 2 .3 4-.9 2 1.6 2-.1 1.5-1.1 .5 .4 1.5-.2 1.5 1.2 1.5-1.5 1-.2 .5-.8 1.5 1.1 1.5 .1 .5-.6 1.5 1.1 1-1.6 1 .2 .5 .8 1 0 2.5-1.1 1 .4 1-.5 1 1.2 .5 .1 .5-1 2.5 .9 1.5-1.5 .5 .5 1.5-1.1 1.5 .8 1.5-1.3 1.5 1.6 1.5-2.1 2.5-1.8 1.5-.3 .5 .7 2 0 1-1.7 1.5 .3 1.5-1.6 1 0 .5 .9 1.5-1.9 .5 .4 2-.9 2.5-6.4 2-6.9 2.5-12.2 2.5-15.7 1.5-5.6 .5-1.1 .5-.1 1 3.4 7 38 4.5 10.9 .5 .6 .5-.1 1.5 2.2 1 0 2 1.7 1.5-.5 .5 .8 1-1.6 1 .1 .5 1 .5-.6 1.5 .7 1.5-1.3 .5 .2 .5-.8 1.5 1.2 1-.8 1.5 2.1 1 .2 1.5-1.1 1 1 1-.3 .5-.8 1.5 1.8 1-1 1 1 .5-1 1.5-.1 .5-.7 .5 .6 1-.2 .5-1.3 1-.7 1 .5 2-.6 1.5 .6 1.5-1.5 1.5 .6 2-1 .5 .7 2 .4 .5 .7 .5-.4 .5 .3 .5-.6 1 .1 .5 .8 1 0 .5-.7 1.5 1.9 1 0 .5 .8 .5-.1 1-1.9 1.5 2.2 1-.5 1 .4 .5-.3 .5 .5 1-1.7 1.5-.4 1.5-3 1.5-.1 1.5-2.7 4.5-6 3-7.8 2-9.7 1-2.7 .5 1 3 19.3 2 7.3 2.5 5.7 .5 .3 .5-1 1.5 1.6 1.5 0 3-4.6 1 1.4 2-5.1 .5-.1 2.5-4.7 1.5-4.8 .5-.9 1-.2 1-1.8 1-.7 5-13.7 7-24.9 2-5.1 2-3.4 1.5 .4 .5 .8 9 48.1 2 6.2 1 1.3 .5 0 1 1.8 1 .6 1.5 0 1.5-3.2 3-4.2 .5 .1 1 1.8 2 1.5 1-.1 2.5 4.8 1 .4 .5-.2 1.5 2.2 1 .6 1.5-.1 .5-.5 2 2.8 .5 .1 1-1.3 3 4 1.5-1.2 1 .4 1-.8 2.5 1.8 1 .5 .5-.3 .5 .6 .5-.3 .5 .6 .5-1.3 .5-.1 1 .6 2.5-5.5 4.5-13.1 .5 .3 1.5-1.5 1 1.6 .5 0 .5-.7 3.5-13.5 3.5-8 1-5.7 1.5-14 1.5-21.6 4.5-104.9 1-16.1 .5-4.3 .5-.9 1.5 18 4.5 100.5 1 14.8 1 7.2 1.5 4.7 1-2.3 3.5-39.4 1.5-8.4 1 3.5 6.5 53.2 2.5 12.3 .5 .1 .5 1.3 .5-.4 .5 .3 .5-1.7 .5 .5 1-1.8 1-5.3 1-2.4 .5 .9 .5-.3 1.5 2.7 1.5 4.9 5 28.3 3.5 11.6 1 .5 1.5 2.4 1 .6 2.5-.3 2-1.4 5-12.6 2-2.2 1 .4 1-1.6 1 .2 1.5-3.5 .5-.1 1.5-5.9 2.5-2.1 .5 .3 2 7.1 2 11.2 2 7.5 .5 1.3 1 .6 1 0 1-1.4 3.5-19.6 4.5-43.1 1.5-8.5 1 1.3 1 4.9 4 36.7 2.5 15.6 2.5 9 .5 .9 1 0 1 3 1.5 1.1 1.5 2.3 1.5-.4 1.5 1.3 1.5-2.5 2-1.9 .5 .2 1.5-4.1 1.5-2.7 1-.7 1-2.8 1-.3 1.5-2.8 1 0 3 4.1 1 .7 1.5 5 2.5 3.1 1.5 .6 1.5 1.8 1.5 .2 .5 .6 .5-.3 .5 .4 .5-.7 1 .8 1-.6 4.5-9.3 4-18.1 1-1.7 1-.2 1.5 1.2 1 1.6 1 2.3 1.5 6.2 1 1.9 .5-.5 3.5 1.7 3 10.6 1.5 3.5 .5 .7 1-.1 1.5 1.8 .5 0 1.5-1.5 .5 1.2 1-.2 .5-1.3 .5 .3 .5-.9 2-5.3 2-7.8 .5-.7 1 .4 1.5-4 2 .5 1-2.2 1.5-7.5 2-18.8 3.5-66.9 5-170.1 .5-10.4 .5-5 .5-.7 1.5 23.3 4 131.7 2.5 46.8 3.5 29.9 4 20.9 4 29.9 2 10.7 1.5 4.9 1 1.4 2-.1 1.5 .8 1.5-.8 1 .3 1.5-1.2 1.5-4 .5 .1 1-2.1 4-15 1.5-2 1-2.3 1-.7 2 2.6 4.5 17.5 2.5 5.1 .5 0 1.5 2.4 1-1.1 1.5 .8 1.5-1.1 1.5 1.7 1-.1 1.5-1.2 1.5 1.4 1-.2 1.5-1.4 1.5 .5 1.5-.4 1 .5 1.5-1.6 2 1.1 1-.5 1.5-2.3 1.5 1.5 .5-.8 .5 .2 .5-.7 .5 .3 1.5-1.3 4.5 .7 .5-1 1.5 .5 .5-.6 1 .1 .5 .9 2.5 .4 1 1.5 .5 0 .5-1.1 1.5 1.8 1.5-.2 1.5 .7 1.5-2 2-.3 1.5 1.9 .5-.5 1 0 .5 .7 2.5 .2 1.5 1.8 .5-.6 1.5 .1 1-.8 1.5 .3 1-.9 1.5-.2 1.5 1.9 1.5-1.9 1.5 1 1 .1 1-.6 1 .9 1-.7 1.5 1.4 2-1.4 2 .6 1-1 1.5 1.8 1.5-1.6 2 1.9 2-.3 .5 .6 1-1 1-.1 1.5 1.4 1.5-.3 1 .7 1.5-1.2 1.5-.3 1-1.1 .5 1.1 1 .3 .5-1.7 1.5 1.1 1-.1 1 .8 .5-.6 .5 .3" stroke="#284588" stroke-width="4.0" fill="none" stroke-linejoin="round"/>
<path d="M393 709.3l1.5-2.5 3-8.6 1.5-2.4 1 .4 1 2.1 2 7.6 6-5.3 4.5-2.6 5-42.4 1-4 .5 0 1.5 7.4 3.5 32.4 1.5 8.9 19 17.6 2.5-5 2-2.5 1-.3 1 .3 2 2.5" stroke="#5a6fc0" stroke-width="1.6" fill="none" opacity=".85"/>
<path d="M43 379.7l.5-1.1 1 .3 .5 1.8 1-.2 .5-1 1.5 2 .5-.7 .5 .3 1.5-1.9 2 .1 1 1.8 1-1.1 1 .4 1-1 1 .9 .5-.4 1.5 .5 2.5-.4 .5 .4 1-.6 1-1.3 1.5 1.3 1.5-2 1.5 2 2-.7 1-1.2 1.5 1.9 .5-.3 .5 .6 1 .1 .5-.8 .5 .6 .5-.9 .5 .1 .5-.5 .5 .7 1-.9 1 1.4 1.5-1.4 .5 1 1 .6 2.5-2.7 1 1.8 .5-.3 1-2.1 1.5-.5 1.5 1.9 2-4.3 .5 .5 .5-.4 .5 .5 .5-.6 1.5 .1 1-1.9 .5-.1 .5 .6 2.5-4 3-1.7 3-5.8 1-3.8 1.5-2.9 7-29 1.5-4.4 1-1.4 .5 0 .5 .2 1.5 5 1 .9 2.5 14 3.5 14.7 2 7.7 1.5 2.5 1.5 4.5 2 4 .5-.4 .5 .8 2.5 1 3 3.8 1-.6 1 .2 1 .5 .5 1.1 2-.3 1.5 1.5 1-.5 .5-1 1.5 .5 1.5-1.4 2.5 1.8 .5-1.3 .5 .6 .5-.5 .5 1.8 2.5-1.9 1.5 .5 1-.7 .5 .5 .5-.6 .5 .6 .5-1 .5 .7 .5-.6 .5 .5 .5-.4 1 .8 1-.7 .5-2 .5-.1 1 1.1 .5 0 1-1.3 2 .4 1 1.4 1-.7 1-.2 .5 .5 1-.7 1 .5 .5 1.3 .5-.8 .5 .9 .5-.7 .5 1 2-.9 3 2.2 1-1.1 .5 .1 1-.8 .5 0 .5 1 .5-.2 1-2.7 .5 .6 2-2.2 .5 .3 .5-1.3 .5 .6 .5-.3 2-4.6 .5 .7 .5-.2 1-1.6 3.5-11 3-15.7 .5 .1 .5 1.5 3.5 23.5 1.5 6 1 1.7 .5-.3 1.5 4.4 .5 .6 .5-1.5 .5 .1 1.5 2.6 1.5-1.7 1.5-3.8 2.5-1.3 1-4.2 1.5-1.1 3.5-9 .5-.8 .5 .2 2-3.2 1-2.7 .5-.6 1 0 5-13.4 1.5-5.5 2-3.3 1-4.3 1-1.6 .5 .3 .5-1.9 .5 0 1.5-3.6 1 .6 .5-.4 1 1.6 1.5 4.8 6 28.6 3 9.8 1.5 2.4 1.5 3.8 2 .7 1.5-1.5 1.5 2.2 .5-1.6 2-1.4 .5 .1 1.5 3.1 .5-.5 1 1.1 .5-.5 1.5 2.6 1.5-2.1 1.5 3.4 .5-.7 1-.2 .5 .7 1-.7 .5 1.2 .5 0 1-1.4 1.5 1.9 1.5-1.9 1 2.2 1 .6 .5-.7 3 2.6 .5-.1 .5-1.1 .5 .5 .5-.5 1.5 1 2-.5 1-1.3 1 .6 3.5-7.6 3-16.5 2-3.6 2-6.7 2.5-11.4 3.5-20.1 3.5-30.1 6-90.5 1-10 1-3.5 1 .5 1 6.8 5 72 3 27.1 1.5 3 .5 0 2.5-13.3 .5-1 .5 1 .5-.9 1 1.9 2.5 11.4 5.5 31.9 2 6 1.5-1.5 .5 .8 1.5 .1 .5-1.4 1-.8 4 5.5 8.5 40.8 1.5 4.9 1.5-.3 1.5 5.2 1.5-3.1 1.5 1.2 1-2.7 2-2.5 3.5-10.5 1.5 .1 3-6 .5-2.3 .5-.7 1.5-.1 1.5-3.6 1.5 1.2 1-1.3 1.5 4.2 .5 .2 2 6.3 1 1.2 .5 .1 .5 1.2 .5-.1 .5 .5 .5-1.2 .5 .4 1-1 2-4 5.5-31.2 2-7.6 1 1.1 1.5 4.9 6 36.8 2.5 9 1 1.7 1-.5 2 4.6 .5-.2 .5 1.2 2.5 2.4 1-1.5 2-1.6 2.5-3.9 .5-.1 1.5-4 1.5-.5 1-2.5 1.5-2.1 2-1.7 1.5 2.1 .5-.4 1 1.1 4 9.5 .5-.4 1 1.5 1 2.9 1 .9 .5-1.3 1.5 2.1 .5-.8 .5 .3 .5-1 .5 .7 .5-.6 .5 .2 1.5-2.1 2-6.6 5.5-21.9 2-4 .5-.1 1.5 3.2 1.5 .9 1.5 5.3 1 2.1 .5-.2 2 4.6 1.5 2.2 2 6.4 1.5 7.4 2.5 2.2 1.5 2.7 .5-.3 1.5 1.8 .5-.8 .5 .3 .5-.6 .5 .4 3.5-7 3.5-13.7 1-.9 1.5-4.4 .5 .1 .5-1.1 1.5-4.4 1-5.5 2-20.7 3-52.5 5-139.1 1.5-21.9 .5 .1 .5 2.5 1 14.4 4.5 118.2 3 42.6 3 24.3 3 18.7 1 3.8 3.5 28.7 4 15.2 1 .6 .5-.3 1.5 2.1 .5 .1 .5-.8 .5 .3 1-.6 1.5-4.1 1.5-2.2 1.5-5.6 1-1.7 4-16.9 .5 0 1.5-4.3 1 1.3 1-1.5 1.5 4.2 .5-.7 1.5 7.9 4 14.5 .5 .9 .5-.1 2 6 .5-.6 .5 .3 1.5 2.3 .5-.1 .5 1 .5-.3 .5 1.6 .5-.7 .5 .3 1-2 1 2.1 .5-.1 .5-1.9 1-.5 .5 1.1 .5-.7 .5 1.2 .5-.2 .5 .5 1-.9 1.5 .8 1.5-1.4 .5 .2 .5-.4 1.5-2.2 1 3.5 1-.8 .5-1.2 .5 .7 1-.9 .5-1.5 .5 0 1 1.4 .5 1.6 .5-.9 .5 .5 .5-1.3 .5 .3 1-1.6 1.5 .9 1-1.7 1-.5 1.5 1.7 .5 .2 .5-.5 1 .9 1.5 0 .5-.4 1.5 1.3 2-.1 1.5-1.6 .5 0 2.5 3.2 2-3.4 1.5 2 .5-.5 1.5 .7 .5-.7 1.5 2.5 .5 .2 2-1.7 1 .6 .5 1.7 .5 0 .5 1 .5-1.8 1-.4 1 1.3 2.5-2.3 .5 .8 1-.1 .5-.5 .5 1.2 1 1 .5-.7 1 .6 1-2 .5-.2 .5 .9 3 1.5 1.5-2.3 .5 1.4 1.5 .9 1-1.9 .5-.1 1 2.3 1.5-.2 1-.6 1.5 .1 2 2.3 1-1.4 1.5-.4 .5-1.1 1.5 0 .5-.6 1.5 1.7 1-1 .5-1.7 1 .7 .5 2.4 .5 .1 1.5-2.2 1 .4 1.5 2.5 2-2.6 1 .9 .5 1.3" stroke="#86a9db" stroke-width="1.4" fill="none" stroke-linejoin="round"/>
<path d="M43 381.5l.5 0 1-1.6 .5 .4 1.5 0 1 1.3 1 .2 1-1.4 1 .9 1 0 .5-.8 .5 .4 .5-.3 .5 .8 .5-.2 .5 .6 2.5-2.1 1 1.1 .5-.8 .5 .6 .5-.6 1 1.1 .5-.1 .5 1 .5-1.1 .5 .6 .5-1.7 1-.5 2 1.8 3-2.3 2.5 .9 1.5-.5 1 .9 1.5-.9 .5 1.1 1.5-2.4 1 2.6 1.5 1.1 1-1.9 1 .1 .5 .8 1.5-2 1 1 1-1.4 .5-.1 1 1.2 1-.8 1.5 .4 1-.6 .5-1 1.5 .4 .5-1.6 1.5-1.8 .5 .9 .5-.7 .5 1.4 .5-1.7 1.5-.9 .5 .3 1-1.2 1-.3 1.5-3.2 1.5 1 2-5.6 3-4.4 3-11.5 1.5-9.3 2.5-10.3 2.5-7.8 .5-.7 .5-.3 .5 .3 .5-.6 3.5 13.6 3.5 18.1 3 11 1.5 2.4 3 7.8 .5-.3 1.5 2.5 1.5 .7 2.5 4.2 .5-1.1 1-.4 .5 .8 1.5 .3 1.5 1.7 1-1 .5 .2 1 1.6 1.5-2.2 1-.4 1.5 1.5 .5-1.1 1.5 1.5 1-.9 1 1 .5-.8 .5 .6 .5-.5 .5 .9 .5-1 .5 .2 .5-.5 .5 1.1 1-2 .5-.2 1 .5 1-1 1 .2 1 2.2 3-4.4 .5 1.9 .5 .3 1-1.5 .5 0 .5 1 1.5-1.9 1 1.2 1.5-1.6 .5 2 .5-.3 1.5 2 1.5-1 2 2.6 .5-1.7 1-1.2 2 3.5 1-1.3 1 .6 .5-.8 1 .9 1-2.3 3 .7 1.5-2.4 2-.6 1.5-2.9 1-.6 .5-1.8 1.5-1 1.5-3.4 1-.4 3-14.3 1.5-5 .5 .2 .5 1.5 3 17.3 3.5 13 .5-.5 1 .6 .5 1.3 1-.5 1.5-2.9 1.5 2.4 1-.3 1.5-3.7 1.5 .5 1.5-4.2 .5 .1 .5-1.9 .5-.4 .5-1.9 1.5-1.1 .5-.9 .5 .4 4-7.2 1-2.8 1.5-.7 2.5-8.5 1.5-1 1-4.1 2.5-4.3 1.5-5.4 1.5-2.5 1-3.1 1 .7 1-1.3 2.5 5.6 4 16.7 2 10.5 3 8.4 3.5 5.6 1.5-.5 1 1.6 1.5-.4 1.5-1.8 .5 .7 .5-.8 .5 .9 .5-.6 1-.1 .5 .7 1.5 .2 .5 1.3 1 .5 .5-.8 1.5 2.5 1-.8 1 .5 1 1.8 .5-.6 1.5 .5 1-1.1 1.5 2 1-.2 .5-1.9 1 1 .5 2.2 .5-1 1-.2 .5 1.6 .5 0 1.5 2 1-2.5 1.5 1.1 1-.4 .5 .4 1.5-1.8 1.5 1.3 .5-.8 1.5-.6 .5 .6 .5-1.1 .5-.1 .5-3 1.5-3.1 2.5-13 2-3 .5 1.5 2.5-6.3 7-30.8 2.5-23.1 4.5-54.6 1.5-12.7 .5-2.4 .5-.6 1 1.4 1 7.3 5.5 61.4 2.5 14.6 1 1.4 1-1.5 3.5-14.8 1 1.1 4.5 21.9 3.5 11.9 1.5 2.8 .5-.2 .5 .9 .5-.6 .5 .5 .5-.6 .5 .4 1-2.1 1-1.1 .5 0 .5-1.5 1-.4 1 .7 5 16.5 4 19.9 3.5 8.4 .5 0 2.5 3.5 1 .6 1.5-2.5 .5-.5 .5 .6 2-4.2 1-4.4 1.5-3.2 2-2.7 1 .5 .5-1.4 .5 .3 1-.7 1-2.6 .5 .1 1-2.2 1.5-1 1-1.9 1 .5 1.5 3 .5-.7 1 1.1 2 6.3 1 1.1 1.5 1 1.5-1.3 .5 .9 .5-.2 3.5-11.4 4-20.2 1.5-4.4 1-1.1 1 1.8 1 3.9 3.5 19.4 2 9.2 2 6.4 1 2 .5-.6 1 1.4 1 3.1 2 1.3 .5 1.4 .5-.5 .5 .9 .5-.4 1.5 .8 1-1.7 1 1.2 2.5-4.9 1.5-.9 .5-1.6 1.5-1.2 3-8.1 1.5 2.3 1-1 1 1.5 2 1.4 1 3.1 1 1.7 .5-.2 3 6.4 1.5 .7 .5 .8 .5-.4 .5 .3 .5 1.2 1-.2 1-1.8 3-3.4 2-4.9 3.5-14.8 3-8.5 1 .2 .5 1 1 .3 1.5 3.9 .5-.1 1.5 6.6 1 .5 .5-.9 1 1.3 .5 2.1 1 1.4 1 3.3 1 1.7 1.5 6.9 2.5 5.4 1.5 1.3 1 .2 .5-.3 2 1 .5-.6 .5 .5 .5-1 .5 .2 1.5-5.7 1-.8 1.5-4.9 .5-.1 .5-1.6 1.5-.8 1.5-3 1.5-5.4 1.5-3.3 2-15.8 2-23.9 1.5-26.7 5.5-149.2 1-15.4 .5-4.9 .5-.9 1.5 23.1 4 106.9 2.5 41.1 2 19.4 7 41.5 1.5 11.7 1.5 7.1 3 8.6 2 2.1 .5-.6 1.5 2.1 .5 0 1.5-3 1-.2 .5-1.1 .5 .2 .5-1.4 .5 0 2.5-6.8 1.5-6.9 1-2 1.5-6 3-4.4 1 .9 1.5 4.3 .5-.1 2 8 1 .6 1.5 7.2 1 .5 1.5 4.3 .5 .7 1 .3 1 1.9 1.5 .6 2.5 2 .5-.8 .5 .8 .5-.4 .5 .8 .5-.5 2-.4 .5 .6 2.5-2 1.5 1.3 1-.1 .5 .5 1.5-.7 1 .2 1.5-3.1 .5 .8 1 .3 1-.5 .5 1.2 .5-.5 .5 .5 .5-1.8 1.5 1.8 2-3.4 1.5 2.1 .5-.4 1.5 1.7 .5-1.3 .5 .7 .5-1.1 .5 .5 .5-2 .5-.1 .5 .2 1 2.1 1-.6 1 2.2 .5 .1 1-1.7 1.5 2 .5 0 2-2.2 1 .5 .5-.6 1.5 1.4 1-1.5 .5 .3 .5-.8 2 1.1 1 1.7 1-.7 .5 .3 1 1.9 1 0 .5-1.4 1-.8 1 1.3 .5 0 .5-.9 1 .1 1.5 1.1 .5 1.1 1.5-2.8 .5 .2 .5 1.6 .5-.8 .5 .1 .5-.6 .5 1.3 1 .2 .5-.7 2 .8 1-2.4 .5 .3 .5 2.5 1 .7 1.5-2.2 1.5 .4 1 1 .5-1.3 1.5 .4 .5-.9 1.5 2.4 2-.1 1.5-.7 .5 .5 .5-.4 .5 .7 .5-.7 .5 .8 .5-1.4 1.5 2.3 1-2.3 1.5 1.5 1-1.2 1 1.2 1-.9 .5 .6 1-.4 .5-1.4 1 .8 .5-.2 .5 .8 .5-.7 1 .4 1 1.1 .5-.7 .5 .3 .5-.4 .5 1" stroke="#c4cbd8" stroke-width="1.4" fill="none" stroke-linejoin="round"/>
<path d="M43 380.6l.5-1.6 1-.1 .5 .6 1.5-1.2 1.5 1.6 2.5 .9 1.5-2.8 1 1.2 .5-.3 1.5 1.3 1 0 1.5-2.3 1 1.1 1.5-1.7 1.5 .7 1 1.5 .5-.9 .5 .2 1 3 1.5-2.5 1.5-1.5 1 1.7 1-.5 .5-1.2 .5 .8 .5-.6 1.5 1.6 1.5-2.6 1 1.5 1-1.1 1 1.6 1.5-.1 1 1.1 1.5-1.2 1 .9 1 .3 1-1.9 1.5 1.1 1-1.5 .5 .8 .5-.2 1-1.8 1 .3 .5 .9 .5-.2 .5 .7 .5-.8 1 .3 .5-.5 1.5-2.2 1.5 1.5 1.5-4.1 1-.1 .5 .8 .5-.3 1 .9 4.5-5.7 2-.8 2.5-7.8 3-12.2 4-21 2-4.1 1.5 2.4 1 2.6 5 25.1 4 13.9 1.5 3.4 1.5 1.3 1.5 3.6 1 .5 .5-1 .5 1.3 1 .5 .5-.6 1 .8 1 2.2 .5 0 .5-.9 1 1.5 1.5-1 .5 .8 1.5 .3 1.5 1.3 1.5-2.7 1 1.6 1-.5 1.5 2.3 1.5-2 1.5 1 2-.8 1-1.2 1.5 1.8 1.5-3.3 .5 1.2 .5-.3 .5 .6 1.5-1.4 2 1 .5-1.1 .5 1.4 .5-1 .5 1 .5-.9 .5 .3 .5-.9 2 1.9 1-.7 .5-2.1 1 .7 1 1.5 .5-.5 .5 .4 .5-.3 .5 .6 1-.6 1 1 2-.9 1.5 2.1 .5 .2 1-1 .5 .5 .5-.5 .5 .3 1-1.8 1.5 3.9 2-3.3 2 1.6 .5-2.2 1-1.4 .5 1 .5-.6 .5 1.2 .5 .2 1-2.9 .5-.4 1 .4 .5-2 1-1.5 .5 .1 .5-.5 1.5-3 1-.1 2.5-10 1.5-9.5 .5-.3 2 9.4 1.5 11.1 2 7.3 1.5 1.3 .5 1.8 2.5-.1 1.5-.8 .5 .8 .5-.5 .5 .7 1-.1 1.5-1.6 1.5-.2 1.5-4.2 1.5-1.4 1-3 1-.7 .5 1.1 2-4.8 1.5-.9 1.5-1.7 4-10.7 1.5-.7 2-7.7 3.5-6.7 2-6.7 .5-.3 .5 .6 1.5-1.1 1.5 1.6 .5 1.9 3.5 15 1.5 9.1 2.5 6.6 1.5 7 1 1.2 .5-.1 3 4.2 1.5-1.3 1 .7 2-1.7 .5-.1 1.5 1.1 2-1.8 1-.2 .5 .9 .5-.2 .5 1.3 1 .8 .5-.5 .5 .6 2 .3 1.5 1.9 1-.6 2 .9 1-1.8 1.5 1.9 1-.1 1-.8 1.5 0 2 3.4 1 .7 1-1.3 1.5 1.1 1-.6 1.5 .1 .5-.7 .5 .1 1 1.8 1-.6 .5-1 .5 0 1-1.6 2.5-5.8 1-4 1-.6 2.5-7 1 0 .5 .6 1-1.7 7.5-30.7 3-29.7 4-59.2 1.5-13.8 1-2.4 1 3.7 1.5 15.2 4 56.7 1 10.2 2 11.8 .5 1.7 1 .3 3.5-17.7 1-2.2 1 .8 2 5.9 5.5 28.1 1 2.8 .5 .2 .5 2.2 .5-.4 .5 .3 .5-1.3 .5 .6 .5-1.5 .5-.1 .5-1.2 .5 .1 1.5-4.3 2.5 2.3 2.5 6.5 4.5 19.4 3 9.6 3 5.2 .5-.3 .5 1.5 1 .7 1.5-1.9 .5-.3 .5 .6 1.5-1.8 1-.2 1.5-5.7 .5 .3 .5-.9 1-3 1 .5 1.5-1.3 4.5-11.2 .5 .9 .5-1.3 .5 .2 .5-2.2 1-1.3 1.5 3.3 .5-1 1.5 2.9 2 9.5 2 1.1 1.5 2.5 .5-.6 1-2.1 1-.7 2.5-7.8 4.5-27.1 2-4.6 .5 .4 1.5 5.8 5 30 1.5 2.9 1 3.7 3.5 6.7 .5 .2 .5-1.1 1.5 2.2 1.5-.7 2.5 2 1-2.1 .5-.4 .5 .8 .5-.3 1.5-4.7 1.5-2 .5-1.8 1.5-1.9 3-6.3 1 .8 1.5-.1 2.5 4.2 2 5.5 3.5 7.1 1.5-.5 2 3 1.5-.9 .5 .4 .5-.8 .5 0 1.5-2.5 .5 0 2-5.1 4-17.6 3.5-10.9 2.5 5.5 2 8.4 1.5 3.6 1 .8 1.5 2.7 .5 0 .5 .7 3 9.8 2 4 .5 .5 .5-.5 1.5 .9 1-.6 1 1.2 1.5-1.2 .5 .6 1 0 1-2.1 1-.5 1.5-5.9 1.5-3.6 .5-.5 .5 1.2 .5-.5 .5 .5 .5-1.7 .5 .6 .5-.8 1 1.7 .5-.4 1-2.5 2-9.7 1-7.2 3.5-50.3 5-134.3 1-14.5 .5-2.1 .5 2.2 1 15.9 3 82.4 3 54.5 1 10 3 16.4 4 15.6 4.5 25.5 2 7 1 1.7 1 1.4 .5-.8 .5 .9 .5-.3 2 1.1 1-.4 1-1.3 .5 .4 2.5-6.1 1.5-.3 3.5-12.9 1-5.4 2-4.6 1.5 1.4 1-.8 1 1.2 2.5 10.6 4.5 12.9 2 3.7 1-.5 .5-1.1 1.5 3.3 .5-1.7 1-.8 1 .4 1 1.3 1.5-1.3 2.5 1 1.5-1.4 1.5 1.3 1-1.4 1-.4 1 1.6 1-1.1 1 .4 .5 1 .5-1.2 .5 .5 1-1.3 .5 .5 1.5-.8 1 2.2 1.5-3.4 .5 1 .5-1.4 1-.3 1 2.1 .5-.6 .5 .3 .5-1.4 1 1 1.5-.6 1 1.4 1-1.7 .5 .8 1.5-1 1 1.1 .5-.1 1 1.4 .5 .1 .5-1 1.5 2 1-2.4 1 .5 .5 1 1-.4 .5-1 1-.1 1.5 1.4 1-.2 1 .7 .5 1.2 .5 0 1.5-2.2 1.5 2.5 1.5-.2 .5 1.2 1-1.5 .5-.1 .5 .5 1-.8 .5 .5 1.5-.9 1 .4 .5-.4 .5 1.2 1.5-1.7 1.5 2.3 1.5-2 .5 .2 1 2.5 .5-.3 .5-1.6 .5 .8 .5-.5 .5 .7 .5-.8 .5 .4 2 0 .5-1 .5 .6 .5-.4 1 .3 1 1.5 .5-.1 1.5-2.3 1.5 1.9 1-1.9 1 1.3 2 .6 1-1.9 1.5 1.1 1 .2 1.5 1.8 1-.6 1-2.7 1.5 2.3 .5-.3 1 .7 2-2.3 1.5 1.7 1-.4 .5 .5 2-2 .5 .2" stroke="#bcc5d5" stroke-width="1.4" fill="none" stroke-linejoin="round"/>
<path d="M43 381.4l.5-.7 .5 .4 .5-1 2 1.2 .5-.7 1 1 1.5-1.6 1.5 1.3 .5-.9 3 .9 1-.4 .5 .4 .5-.5 2 1.8 .5-.2 1.5-3.4 .5 .6 .5-.7 2.5 3.2 2-1 1.5-1.8 1.5 2 1 .5 1.5-2.5 1 1.8 .5 0 1-1.9 1.5 1.4 .5-.5 .5 .7 1-.4 1-1.5 1.5 2 .5-1.1 .5-.3 .5 .3 .5 1.9 .5-.1 1-1.2 1 .1 .5-1 1.5 .9 1-1 1 .4 1.5-2 1.5 1.7 1-1.5 1.5 .6 1-.3 1 1.4 1 0 2-3.3 1.5 .9 1.5-1 .5 .5 1.5-2 1 .5 .5-.7 1-.1 1.5-3.9 3-2.2 2-3.9 1.5-4.9 .5-.2 .5-1.8 2-2.9 .5-.6 2 .7 1-1 .5 .3 4 10.9 .5-.1 .5 2.8 1.5 1.7 1 3.1 .5 .1 1.5 2.9 .5 .5 1.5-1.1 1.5 2.8 .5 .2 .5-.6 .5 1.1 1 0 .5-.9 .5 .4 1 0 2 2.8 1.5-.2 1 .7 .5-.5 .5 .7 1.5-1.1 .5 .8 1-.5 1 .2 1-1.1 2.5 1.8 1-2.1 1.5 1.6 1-1.7 .5 .7 1.5 0 .5 1.7 2-1.4 .5-.1 .5 .8 .5-.3 1-2.3 1 1.2 1.5-1.2 1-.1 .5 1.6 1 .3 .5-1.1 1 .7 1.5-.5 .5 .7 .5-.6 .5 .3 .5-1.6 1.5 .2 .5 .8 .5-.4 .5 .4 .5-1 1 .8 .5-.5 .5 .8 2 .5 1.5-.4 1 1.6 .5-.2 1-1.8 1.5 1.8 .5-1.2 .5 .2 .5-.7 .5 1.2 1.5-.8 1 1.3 1.5-1.3 2 .2 2.5-2.6 1.5 1.1 2.5-3.6 .5 .7 1-.6 2.5-3.1 1.5-4.8 2.5-3.3 2 6.6 .5 3.2 .5 1.1 1 .6 1.5 4.3 .5-.4 1.5 .8 .5-.5 1.5 2.1 1.5-3.1 .5 1.7 1 1.2 .5-1.6 1-.8 1 .6 1.5-2 .5 .7 1-1.5 1-.5 1-1.8 1 .2 1.5-3.4 1.5 1.4 1-.6 2-3.3 .5 .4 .5-.5 1.5 .2 1.5-4.1 2-1.9 .5 .1 .5-1.7 1.5-1.6 1-2.2 .5-.7 .5 .7 .5-.4 2-4.2 .5-.3 .5 2 .5 .2 1-2.3 1.5 .9 1 2.5 .5-.1 1 1.7 1.5 5.7 1 .6 1 1.9 3.5 8.6 .5-.7 .5 .7 .5-.7 1 2.2 1.5-.8 1.5 1.8 1 2.1 1.5-1.3 1.5 0 1.5 .9 .5-1.1 1-.4 1.5-2.2 1.5 3 .5 .1 1-1 .5 .5 .5-.2 .5 1.3 .5-.4 .5 1.4 .5-1.5 1.5 3 2.5-2.7 1.5 1.8 1.5-1.5 1 1.1 1-1.3 1.5 2.5 1 0 .5 .6 .5-.7 .5 .3 .5-1.6 2 1.9 1.5-1.6 1.5 .4 .5-.4 1 .2 .5 .6 .5-.7 .5 .4 1.5-2 1.5 .1 1.5-3.2 .5 .3 1.5-5.4 2 0 .5 .8 1-1.2 3-4.9 2-5 2-3 2-6.5 2-10 5-34.2 .5-2.4 1-.3 1-2 1 2.7 1.5 7.6 4 26.7 1.5 6.9 2 2.3 2-2.7 2.5-7.1 .5-.9 1 .5 1 2.5 .5-.2 .5 .7 1.5 6 1.5 2.1 1.5 6.6 1.5 2.5 .5 1.9 .5-1.2 .5 .4 .5-.9 .5 1.2 .5-.6 1.5 2.3 3-6 .5 1.7 .5-.2 .5 .9 .5-1.1 1.5 5.3 .5-.6 1.5 4.4 .5-.2 .5 1.9 .5-.3 .5 1.8 .5-.6 1.5 5 2.5 2.5 1.5 2.6 2 .7 1.5 1.8 1-.2 1.5-1.8 .5 .6 1-.3 1.5-1.9 1 .2 1.5-2.3 .5 1 1.5-4 .5 .9 1-.4 1.5-1.6 .5-1.3 .5 0 .5-.8 .5 1.1 .5-1.4 .5 1.1 .5-1.3 .5 .3 1.5-1.1 .5-1.4 1 1.4 1 .1 1 2.6 1 .7 1 2 .5-.3 .5 .9 .5 0 .5 1.1 .5-1.1 .5 .9 .5-.6 .5 .4 .5-1.1 1.5 .1 3-5.3 2-4.6 2.5-8.7 1.5-1.2 1 .7 2.5 5.2 2 8.8 1 1 1.5 4.7 1.5-.3 1.5 3.6 .5 .4 1-.6 .5 .2 1 1.5 .5-.6 1.5 2.9 2.5-2.2 .5 .5 .5-.5 1 1.8 3-4.3 .5 .6 2-.1 2-2.4 1.5 .1 1-1.8 1 .1 .5 .7 .5-.3 2.5 .4 1.5 1.6 .5-.3 2.5 4.3 .5-.6 1 .6 .5 1.6 1.5 1 .5-1.2 .5 .1 .5-.7 1.5-.3 .5 .8 .5-.8 .5 .4 1-1 .5 .1 1.5-2.8 2-2.5 1.5-4.2 1-.9 1.5-3.1 .5-.4 .5 .5 1.5-1.9 1 1 .5-.9 1.5 2.9 1 .2 .5 2.1 .5-.2 .5 .9 .5-.6 .5 1.3 2.5 1.6 2 3.2 1 2.8 .5-.2 1.5 2.1 1.5 .1 1 1.3 1-1.7 2 .1 1 1.1 .5-.7 1.5 .7 1-1.7 1-.5 2-2.5 2-4.2 1.5 1.6 1-1.4 1 0 2-5.4 2.5-10.1 3.5-32.8 3.5-52 1-9.5 1-3.4 .5 .2 .5 3 1 9.5 4 51.3 3.5 22.8 2.5 7.2 1.5 2.6 1 4.4 2 5.8 .5 .4 1.5 6.3 1 1.1 2 6 .5-.7 .5 1 .5-.5 1.5 2.7 1 .6 1.5-1.7 1-.4 .5 .7 2-2.1 .5 1.2 .5-.4 1-1.8 .5 0 1.5-4.2 1-.4 .5-2.1 1-1.8 .5-.1 .5-1.5 2-2.8 1 .2 1-1.3 .5 .8 1-.4 .5 .7 1 2.6 3 5 1.5 4.9 .5-.5 1 .5 .5 1.4 2 .3 .5 1.4 1 1.1 1-1.8 .5 .2 .5 1.3 .5-.6 .5 .6 .5-1 1 .2 1 1.9 .5-.3 .5 .4 .5-1.3 1-.5 1.5 .9 1 0 .5-1.3 1-.3 1.5 1.6 .5-.1 1-2.4 .5 .2 .5 1.4 1 .1 .5-1.8 .5 .2 .5-1.2 .5 1.2 1 0 1-1.7 2 3 1.5-2.8 1 2.1 1-.9 .5 .3 2.5-.9 .5-1 1.5 2.8 1.5-2.4 1 1.4 .5-.2 .5 1.5 .5-.7 .5 1.3 .5-.8 .5 1 2-2.3 1-.6 .5 1.4 1 1 .5-.9 1.5 1.6 1.5-2.7 1 1.1 2 .1 .5 .6 .5-1 .5 .4 .5-.9 1.5 2.6 2.5-2.5 1.5 2.5 .5-.4 1.5 .1 1-1.6 1 1.8 .5 0 1.5-2.3 1.5 1.7 1-2 2 1.5 .5-.5 .5 .6 1.5-.3 .5 .5 .5-.2 .5 .6 .5-.1 .5 .9 1.5-2.4 1.5 2 1-.2 1.5 1.5 1-1.7 .5-.1 .5 .6 1-.8 .5 .9 .5-.5 .5 1.4 .5-.6 .5 1 .5-1 2.5 .5 1.5-1 1 .8 1.5-.1 .5-.7 2 1 1 .2 .5-.6 .5 .7 .5-.1 1.5-1.9 1-.4 .5 .7 1-.4 .5 .6 1.5-.3 1 .8" stroke="#4a70c4" stroke-width="1.4" fill="none" stroke-linejoin="round"/>
<path d="M43 380.7l.5-.9 4 1.4 1.5-1 2 2.6 1.5-2.6 1 1.4 1 .5 1.5-1.3 1 0 1.5-2.1 1.5 2.2 1.5 .6 2-1.2 1.5 2 1-.5 1-1.6 .5 .8 1-.3 .5-1 2-1.3 .5 .6 1.5-.3 .5 1.5 .5 .1 .5-.1 .5-1.1 1.5 1.8 1-2.3 .5 .4 .5-.5 2 3.1 .5-.3 1.5 .8 1-.6 1-1.4 .5 0 1 1.5 1.5-2.9 1 2.2 1.5-2.9 1.5 1.3 .5-1.4 1-.6 1.5 1.9 1.5-1 1.5-.2 .5-.7 .5 1 .5-.9 .5 .9 .5-1.6 .5 .4 .5-.2 .5 .7 2.5-3.2 .5 .5 2.5-1 .5-.6 .5 .5 .5-.2 1-2.5 1.5-1.6 2-3.8 1-2.5 1.5-7.2 3-4.6 1.5 .8 .5-.2 .5 .7 .5-.2 1 1.6 6.5 17.8 1 1.5 1 .5 1.5 3.4 1.5 1.1 2.5 .3 1.5 2.3 3-1.5 .5 1 .5-1.8 1-.4 .5 .7 1-.2 1.5 2.3 1-1.2 1 .9 1-.7 1.5 1.7 1.5-2 2 2 1.5-.7 1.5-2.5 1.5 1.9 .5-.6 1.5-.4 .5-1 .5 .2 1.5 3 .5-1.7 1-1.1 1.5 1.1 1-1.2 1 1.2 .5-.3 .5 .7 3.5-2.7 .5 1 1.5 .5 .5 1 2-2.7 1 .3 1 1.4 .5-.3 .5 .9 .5-.3 .5 1.3 .5-.9 2-1 1 1.6 1 .6 .5-.6 1 .3 .5-1 1-.4 .5 1.3 4.5-1.5 .5 .6 .5-.2 .5 .9 .5-1.5 1-1.2 .5 .1 .5-1.1 1-.6 .5 .6 .5-1.2 .5 .3 1.5-2.1 1 .7 1-.9 2.5-4.9 1.5-6.5 1-1.6 1 1.9 1 3.9 1 6.1 .5 1.3 .5 .1 1.5 3.7 2 2.4 .5 .2 1-.8 .5 .3 1.5 2 1.5-1 .5 .5 .5-1.3 1.5 1.5 .5-1.2 .5 .4 .5-.3 1.5-4.3 2 .3 1-.5 2-5 1.5 1.7 1-2.2 1.5 .8 1.5-2.4 1 .2 1-1.3 1.5-4 2.5-2.6 1.5-3.7 1.5-1.4 2-4.1 2-.4 1.5-3 .5-.2 .5 .2 2.5 8.2 .5-.6 1 1.5 3 11.1 2.5 3.2 1 3 .5 .8 .5-.3 1 .8 .5 1.5 2.5-1.1 .5 1 1 0 .5-1 1 1.1 1.5-1 .5 .6 .5-.1 1.5-2 1.5 1.5 .5-.6 .5 .4 1 1.6 1.5-.9 1.5 .4 .5 1.7 1 .4 1.5-.9 1 .7 1-1.8 2-1.2 .5 1.4 1 1 .5-1.2 1.5 1.3 1.5-.1 1.5 .9 1.5 2.2 1-1.9 1.5 1.6 2-2.5 .5 1.1 1 .2 .5-.5 1 1.1 2.5-3.2 1-.5 3-6.1 1-.4 .5 .8 1-.8 .5-1.4 .5-.5 .5 .3 .5-.8 2-7.3 5-11.9 2.5-14.5 6-54.2 1-2.8 1 .3 1 5.2 5.5 48.2 3 13 1-.2 3-10.1 1.5-3.2 .5 .2 1.5 4.1 1 1.5 1 4.7 1 1.3 1.5 6.6 .5 .6 .5-.3 1.5 6 3 3.1 1.5-4 1-1.3 2.5-2.2 .5 .8 .5-.1 .5 1.4 .5-.2 2.5 5.3 2.5 8.2 4 8.9 1 1.8 .5-.3 .5 1.3 .5-.3 .5 .8 1-.8 1-.1 1.5 3.7 2-2.9 4.5-4.2 1.5-3 1.5 .7 1-1.3 .5 .9 .5-.6 .5 .2 4.5-6.9 2 .9 1.5 3.2 1 0 .5 .6 2.5 4.9 1.5-.7 .5 1.3 1-.1 .5-1.7 1.5 .8 1.5-1.9 1-3.7 1.5-3.3 2.5-10.3 1-1.3 .5 .1 .5-1.5 1-.9 7 20.9 1 1 1.5 3.6 .5-1 1.5 4 .5-.4 .5 .5 .5-1 .5 .9 .5-.2 .5 1.2 .5-.9 .5 .3 .5-.4 1 .7 1.5-1.8 1 1.3 1-.5 1 .1 2-3.8 .5 .1 1-1.5 1.5-.5 1.5-2.4 1.5-.4 1.5 1.2 .5-1.6 1-.2 .5 1 1 .1 1.5 3.3 .5-.3 .5 1.3 .5 0 1.5 3.3 1.5 .9 1.5-.9 1 1.9 1.5-1 .5 .9 1.5-2.8 .5 1.1 1 .1 2.5-2.5 2-4.5 .5-2.8 .5-.1 1-2.8 1.5-5.8 1-.9 .5 .4 .5-.8 .5 .2 1-2.4 .5 .6 1 4.2 1.5 .5 2.5 8 1-.7 1.5 2 1 .2 2 5 2.5 3.6 1.5 1.1 3.5-1.6 .5 .4 1.5-.6 .5 .4 2-1.9 1.5-3 .5 .8 1.5-4.5 .5-.3 1 1.2 1-.3 1 1.1 1.5-1.8 .5 .1 1-2.8 2-9.8 2.5-21.6 2-29.8 3.5-70.3 1-13 1-5.3 .5 2 2 30 2.5 50.3 2.5 27.5 2 13.7 1 3.6 1 1.6 2.5 8.2 2 4.5 2.5 10.2 2.5 6.4 1.5 2.2 1.5-.3 1.5 2.3 2-2.4 1.5 1.8 .5-.5 .5 .6 1-.7 .5-1.2 1.5-1.3 3-6.6 1.5-2.3 3-8 1.5 1.5 1-.8 1 1.1 2.5 8 1.5 1.8 1 2.9 2.5 4.4 1 .1 2 1.5 1-.1 .5-1 1-.2 .5 .7 1.5-.5 1 1.6 .5-.2 1-2.1 1 1 1.5-.3 .5 .9 1 .2 .5-.9 1-.1 1 .7 4-3.5 1.5 3.6 1-.8 .5-1.4 1-.5 2 .7 .5-.8 2 2.2 1.5-3.3 .5-.1 2 1.6 1.5-.9 3 2.2 1.5-1.5 1.5 .5 .5-.3 1.5 1.5 1-.7 1 .2 1-1 1 1.2 1-1.2 1.5-.5 1.5 .4 1 2.1 1 .1 .5-1.6 1.5-.5 .5 .9 .5-.1 .5 1.5 .5-.4 .5 .4 2-.6 2.5 2.1 .5-1 1-.5 .5 .8 1.5-1.3 .5 .4 1.5-1.6 1 1.1 1.5-.5 1.5 1.7 .5-.1 .5-1.3 1-.5 .5 1.2 1.5-.2 1 .7 1 0 1.5-2.2 5 2 1-2 1.5 2 .5-.7 .5 .8 1-.3 .5-1.1 2.5 2.9 2-2.3 1.5-.6 1.5 1.1 1-.5 .5 .7 .5-.6 .5 .8 .5-.8 .5 .7 .5-.4 1.5 .5 .5-.4 1.5 1.3" stroke="#a6c2e8" stroke-width="1.4" fill="none" stroke-linejoin="round"/>
<path d="M43 379.4l.5-.3 1.5 1.4 1-.1 .5 .5 1.5-.5 1 .5 1-1.2 .5 .3 .5-.6 .5 .8 1 .2 1.5-.8 1.5 .2 2.5-1.8 1 2.6 1 .9 .5-1.7 .5 .3 .5-1.1 .5 .2 1-.9 1.5 2.1 1.5-3.1 .5 1.5 1.5-.6 1 2.2 2-1.5 1-1.4 1.5 1.8 .5-.7 1.5 .3 1-1.5 1 1.5 1.5-.2 .5 1.2 1.5-2.6 .5-.1 1.5 .7 .5-.3 1 1.5 1.5-.1 .5 1.1 1-2.2 1-1.1 .5 .2 .5-1 .5 .6 .5-.4 1.5 .3 1-.9 1 .1 1-1.6 1.5-.2 .5-.6 1 .1 .5 1.4 1-.2 1.5-3.6 .5-.4 .5 .5 2-3.3 2.5-2.1 1.5-4.6 1-1.3 3-10.4 1-1 2.5-13.3 1-2.2 1.5-6.1 .5-1.1 1.5-.9 1 .3 2 4.9 3 10.9 1 6.7 6 19.4 .5 1 .5-.6 1 .4 1.5 4.6 1-.3 2.5 2.8 .5-.6 2 3.1 1-1.1 1.5 2.2 .5 0 1-1.5 .5 .2 1.5 2 2.5 .9 1-.9 1 .5 .5 1.2 .5-1.6 .5 .2 .5-.8 .5 2.1 .5 .3 2-2.4 1 .5 .5 1.2 .5-1.7 1-.8 .5 1.8 .5 .1 1-.9 1 1.5 1-2.7 1-.3 .5 .7 1 0 2-1.9 1.5 1 .5 .9 .5-.9 .5 .5 .5-.7 .5 .4 1-1.1 2.5 1.5 .5-.8 .5 .5 .5-.3 2 .8 1.5-1.3 2 1.3 .5-1.3 .5 .8 .5-.1 .5 .7 .5-.1 1 1.7 .5 .1 1-.9 .5 .3 1.5-2.6 .5 1.5 .5 .5 .5-.2 2-1.4 2-3.2 1 .5 1-2.3 1-1.5 .5 .8 2-4.3 1-1 5.5-21.8 .5 .3 1 3.9 3 18.3 2 8.3 .5 1.5 1.5-.5 1.5 1.9 1-.9 .5-1.3 1.5 1.2 .5-.7 1 .2 1-.5 3-5.5 .5-.3 .5 .2 1.5-4.4 1-.9 3-7.1 1.5-2.1 1.5 .3 1-1.7 3-8.6 2.5-5.1 1.5-5.9 .5-.2 3.5-8.2 1-1.5 .5 .2 1.5-2.8 1 .7 2 4.4 5.5 26 .5 .3 2.5 9.4 1 2.1 1.5 1.1 1.5 3.4 1.5 0 1 1.2 1-1.4 1.5 .2 .5-.5 .5 1.6 1.5-1.2 2 2.5 1.5-.3 1.5 2.3 1.5-.8 1 1.8 1.5-.6 1.5 1.6 1.5-.3 .5 1 .5-2.2 1-.5 .5 1.3 1 .4 1 1.3 1.5-.6 .5 2 .5 .3 .5 .1 1-1.9 1 1.2 1 2.6 1.5-2.5 1.5 1.5 1.5-.3 1.5 .7 .5-.2 2-4.4 5.5-24.3 .5-.1 .5-1.1 1-3.4 1-.6 2.5-9.7 5.5-34.8 3.5-37.4 4-62.9 1-9.8 1.5-7.5 .5 .2 1 2.4 .5 4.6 4.5 63.5 2.5 26.4 1 5 1 3.4 .5 .3 1-2.4 2.5-13.2 .5-.5 1 1.7 9 46.2 1 2.7 .5-.3 1 1.3 1.5-2.1 1.5 1.3 2-.3 3.5 7.4 8.5 37.1 1.5 1.7 1.5 4.8 .5-.3 1 .4 .5-.4 .5 .6 .5-.3 .5 1 2-2.1 1.5-6 1.5-2 1.5-4.1 2.5-3 2.5-4.9 1.5-.9 3.5-4.4 1 1.4 1 .5 1 1.8 1 3 1.5 2.5 .5 2.1 .5-.6 .5 1 .5-.9 .5 .5 .5-.2 1.5 1.8 3-7.5 4.5-25 1.5-6.5 1-2 1 1.5 1.5 4.4 3.5 22 2 8.6 1.5 4.1 .5 .4 1.5 8 1.5 1.7 1-.1 1.5 3.4 1 0 .5-.4 .5 .3 .5-.9 2.5 3.2 3.5-5.6 4-8 2-1.4 .5 .4 1.5-.6 1 .9 1.5 .4 1.5 4 2 1.3 1.5 4.3 1.5 1.6 1.5 3.7 2.5-2 .5-1.1 1 1.3 3.5-4.9 2-6.3 2.5-10.9 .5-.5 2.5-8.8 .5-.9 .5 .4 1-.3 2 3 2.5 5.6 1.5 5.1 3 3.1 5 15.4 4.5 4.9 1.5-4.1 .5 0 .5 1.1 1-.6 1.5-5 .5-.1 .5-1.1 4-14.1 .5-.8 .5 .8 2-2.2 2.5-14.2 1-9.1 2-26.4 2-40.6 4.5-119.1 1-16.5 1-1.9 1.5 18.6 4 96.9 3 45.4 3.5 28.1 3.5 16.9 4 29.7 2.5 11.3 1.5 .5 .5 1.5 2.5 3.7 .5-1.3 .5 0 .5-.8 .5 .7 .5-.6 2.5-5.3 .5-2.1 1-1.2 1.5-7 2.5-8.2 4-9.6 1 .7 2.5 4.4 1.5 6.9 3 8.6 1 1.6 1.5 6.3 1 1.8 1 .4 1.5 3.8 1.5-2.8 1.5 3 1.5-1.8 2.5 3.5 1.5-3.4 1-.1 1 1.5 1-1.4 1.5 1.9 1-1 .5-1.8 1-1.3 .5 1.6 2 1.2 1.5-1.6 .5 1.4 .5-.9 .5 .2 .5-1.4 1.5 .6 1.5-1.3 1 .8 .5-.9 .5 .2 .5-.7 .5 1.2 .5-1.2 .5 1.5 .5-.8 .5 .5 1-.5 .5 .6 1-.1 1.5-.9 2 1.7 1.5-.2 .5 1.8 .5 .1 1-1.2 1 2.1 1.5-2.2 1.5-.7 .5-1.1 .5 .5 .5-1 .5 1 .5-.4 1 1.9 1 .1 .5-.8 1 1.8 1.5 1.1 1.5-.7 .5 .4 .5-.2 .5-1.5 2.5 1.9 1 .1 .5-.8 .5 .2 1-.5 3 1.8 2-.3 1.5-1.1 1.5 1.2 .5-.9 1 .3 1-.3 1 .5 1-.7 .5 1.6 1 .2 .5-1.8 1-1 1.5 2 1.5-1 1 1.5 1-1.8 .5-.1 1 1.9 1.5-1.1 1 3.2 1.5-3.7 .5 1.3 .5-.7 .5 .8 .5-1.3 .5 1.2 .5-.8 .5 .8 .5-.6 .5 1.2 1.5-1.5 1 .8 1.5-.7 1 .6 1-.2 1.5 .6 .5-.6 2-.7" stroke="#b2bccd" stroke-width="1.4" fill="none" stroke-linejoin="round"/>
<path d="M43 380.5l2-1 1 .5 .5 1.2 .5 .1 1.5-2.9 1 .5 .5 1.3 1 .8 1.5-1.6 1 .5 1-1.1 1-.1 1.5 2 1-1.7 1.5 2.2 1.5-.8 1 1.1 1-1.7 1-.2 .5 .8 .5-.6 1 .6 1.5-1.4 .5-.3 .5 .4 1.5-1.2 1 .7 .5 1 .5-.3 2 .6 .5-.7 .5 .3 1-.5 1 1.1 .5 0 .5-1.4 .5-.1 1 1.4 1.5-1.5 1.5 1.2 1-.9 1.5-.2 1 .4 .5 .9 1.5-.9 1.5-1.7 .5 0 .5 1.6 .5-.2 .5 1.2 1-.4 1-1.7 2 .8 .5-1 1-.5 .5 .5 2.5-.2 1-1.1 1.5 1.3 1.5-2.9 .5 .8 1-.4 1-.6 2-3 .5 .7 2.5-1.8 .5-2.2 1.5-2 2-5.8 1 .1 1.5-3.9 1-1.3 .5 0 1 1.6 1.5 .7 1.5 4 1.5 1.8 1 2.3 .5 .2 2 4.8 2 1.6 1 2.9 1.5-.1 2 1.8 .5-.2 1.5 2.6 1-.2 1.5-1.4 1.5 2.1 .5-.8 .5 .3 1-.4 1 .2 .5 .6 1.5-1.7 1 .3 .5 1.4 .5-.7 .5 .6 1 .3 .5-.3 1 .7 .5-1 1.5 1.4 .5-1.2 .5 0 2 2 1-.2 1-2.8 1-1.2 1 2.4 1.5 .3 .5 .6 1.5-2.1 1.5 2.6 1.5-2.6 1 1.1 1.5 .3 1.5-2.1 2.5 2.1 1.5-1.6 .5 .7 .5-.5 1 0 .5 1.1 .5-.9 .5-.1 .5 .5 1-.2 .5-.8 1-.3 1.5 1.3 .5-1 .5 .3 1.5 3.1 .5-1.1 1.5-.9 .5 .7 1-.1 1-1.8 .5 .8 2 .8 1-.7 .5-1.1 1.5 .9 1-2.3 1 1.3 1.5-1.4 .5 .8 .5-.6 .5 .5 2-3.9 1.5-.1 1.5-.9 .5-1.8 .5-.1 1.5-5.8 .5 .9 .5-.3 .5 2 .5-.2 1 1 3 9.2 1 1.9 1.5 1 2-2.1 1.5 2.7 1-.1 .5-.6 .5 .4 1.5-1.1 .5 .5 .5-.2 2.5-2.4 1 .7 1.5-2.4 .5 .4 1.5-2.6 2.5-.5 1.5-2 .5 .3 .5-1.6 1.5 .4 1.5-2.2 .5 .3 1.5-4.7 1-.4 1-1.9 1.5-1 1-2.3 1-.7 .5 .4 2.5-2.4 1 .2 .5-.3 1-1.4 1 .7 1.5 4.8 1.5 3.1 .5-.7 .5 1 1.5 4.8 .5-.5 .5 .7 1.5 5.2 1 1.4 .5-.9 1.5 2.9 1-.7 1.5 2.5 1.5-1 1.5 1.7 .5-.5 1 .1 2-3.2 .5 .3 .5-.8 1.5 2.2 1.5-.9 1 1.7 1-1.1 1 1.2 2.5-.6 1 .7 .5 1.1 2-1.4 1 1.4 1-.2 .5-1.8 1.5 1.5 .5 0 .5-.8 1 2.3 .5 .3 1-1.3 .5 .8 1.5-1 2 1.7 1-.4 1 .6 1-1.7 1.5-.2 2 1.9 2-3.7 .5 1.1 .5-.4 .5 .6 1.5-3.8 1-1.3 .5 0 1.5-2.8 1.5 .5 1-1 1.5-3.1 .5-.2 1.5-4.1 3-3.4 1-2.5 3-14.1 5.5-34.6 .5-2.5 1-.9 2 6.5 5 31.6 1.5 7.9 1.5 4.1 5-9.8 .5 1.1 .5-.4 .5 1.1 .5-1.1 1.5 2.9 1 .5 3.5 11 .5-.2 2 3 1 0 1 1.9 .5 .6 .5-.1 1-1.6 .5-1.9 1.5 .7 .5-1.1 1.5-1.1 2.5 4.3 1.5 1.6 .5 2 1 1.1 .5-.5 .5 .5 1.5 5.3 1.5 1.3 1 1.7 2 .4 1 1.4 1 .2 .5-.4 1.5 1.9 .5-.1 1.5-3.2 1.5 .8 1.5-1.9 1.5-.7 1-2.7 .5-.3 1 1.7 1-1 .5-1.6 .5 .4 .5-1.7 1.5 .6 1.5-2.4 1 1 1.5-3.1 1 2 .5-.2 1-1.8 1 2.2 1.5 1.5 2 4.6 1 .2 .5-.9 .5 1.2 1 .6 1.5-4.2 .5-.2 .5 .5 1-.8 2-5.5 1-1.4 2-7.4 .5 .1 2-3.1 1 .2 .5 .7 2 5.2 1.5 6.3 2 2.3 1 4.3 1 1.9 .5-.3 .5 1 .5-.3 3 3.1 1-.4 1 .3 .5 .6 1 0 2 1.6 2-3.9 1.5 2.2 .5-.5 .5 .5 1.5-4.1 1-1.4 1 1.4 1.5-2.5 1 0 .5 .5 1-1.6 1.5 1.1 1-1.6 1.5 3 .5-.3 3 3.9 1 .2 .5-.6 1.5 3.3 1.5-2.8 1 1.5 .5-.1 1 1.1 1.5-1.6 .5 1.1 1 .5 1.5-4 1.5 .7 .5-.9 3.5-8.5 .5-.4 .5 1 1.5-2.3 1.5-.4 .5 .5 1-.1 1.5 5.1 2 .1 1.5 3.5 1.5-1.9 2.5 4.3 1 .5 .5-.3 2.5 3.8 3 .3 .5-.3 .5 .8 3-3.7 .5-.1 .5 .5 1.5-.7 1.5-3.8 1.5-.9 2 2.3 .5 0 1.5-2.3 1.5 .7 2.5-9.4 3.5-24.7 5-61.8 1-6.9 1-.9 1 7.4 4 50 2 16.4 4.5 15.4 1.5 1.6 .5 1.6 .5-.2 6.5 15.2 2 2 1 .4 .5-.3 .5 1.8 .5-1.3 .5 .4 .5-.8 1 0 .5-.6 .5 1.6 1 .6 1.5-3.7 .5 .2 .5-.8 1.5 .2 2-4.3 .5 .4 1.5-3.6 3-4.7 .5 1.3 1 .2 1-1.2 1 2 .5 .4 1-.3 2.5 6.6 1.5 1.2 1.5 3 2-.8 1.5 3.2 1-.9 .5-.1 .5 .5 2-1 1.5 1.4 1-.8 .5 .5 1.5-1.2 .5 .7 1.5-.7 .5 .8 2.5-.9 2 3.1 1-1.1 1-2.6 1 1.1 .5 1.6 1-1.4 .5 .7 1 .3 1.5-.6 .5-1.6 .5 .3 .5-1.4 .5 .8 .5-.3 .5 1.1 1.5 1.1 1-1.9 1-.7 .5 .2 .5-.7 2.5 1.7 1 2 1.5-2.4 1 .8 1-.6 1 1 .5 1.4 .5-1 .5 .4 .5-1.7 .5 1 2-.9 2 2.7 1.5-3.3 4.5 2.2 .5-.8 1 .4 1-.7 1.5 .1 .5-1 .5 1 .5-.6 .5 1.4 .5-.2 .5 .7 .5-1 1 1.3 1-.9 1.5 1.9 1-1.2 1-.5 .5 .2 .5-.5 .5-.1 2 2 1.5-2.1 1.5 1.2 1-.9 .5-1.5 1.5 1.9 1.5 .2 1-1.6 .5 .1 1 2.8 1-.7 1.5 .1 .5-1.3 1-.8 1 .9 1-1.6 1.5 2.1 1-.6 .5-.9 .5 .7 .5-.7 .5 .3 .5-.3 1 2.2 1.5-1.6 .5 1.1 .5 .2 1.5-.4 .5 .5 .5-1.5 2 1.4 1-1.1 1.5 .8 1-1.1 .5 .8" stroke="#c4cbd8" stroke-width="1.4" fill="none" stroke-linejoin="round"/>
<path d="M43 380.2l2-1.8 .5 .7 1.5-.4 .5 .7 1 0 1-.7 1-.1 1 1 .5-.7 .5 1.5 .5-.5 .5 .1 1-3.1 1.5 3 2-1.3 1 .9 .5-.3 .5 .7 1-1.2 .5-.2 1 .6 1.5-.6 .5-1 1.5 1.7 1-.7 1 1.5 .5-1 1-.6 .5 .4 1-.4 .5 .3 .5-.5 .5 .2 .5-.8 1.5 2.2 1-1.1 1-.1 1 1.4 1-.7 1 .7 1-.5 .5 .5 1-.7 .5-1.3 .5 1 .5-.2 .5 2.4 1.5-4 1.5 .5 .5-1.1 1.5 1.3 .5-1 1-.5 .5 .8 2.5-.8 .5 .2 .5 1.6 2.5-2.4 1 1.3 1.5-3.7 1 .3 1-.8 4 1.3 1.5-3.6 1 .5 1-.4 3-9.4 1.5-1.5 1-4.4 1.5-2.9 .5-2.2 2.5-4.1 2.5 4.6 1.5 4.9 2.5 5.2 3 8.6 .5-.2 1.5 3.4 1 .5 1 1.9 1 .5 .5-.6 .5 .2 2.5 2.8 1-.7 1.5 .3 .5-.9 2 3.7 1-1.2 1 1 .5 0 .5-1.3 1.5 .5 1.5-2.6 2 2.9 .5-1.2 1 .6 .5 1 1 0 .5-.7 .5 .1 .5-1.4 1.5 2 .5 .1 1.5-1.8 .5 .8 .5-.2 .5 .9 .5-.7 .5 .8 1.5-1.1 .5 .6 1.5-.6 1 .3 .5-1.2 .5 .2 .5-.7 1.5 1 .5 1.2 1.5-3 1-.6 .5 1.1 1 .5 .5-.6 2 1.6 1.5-2.2 1.5 1.2 1.5 0 1 1.2 1 .4 .5-1 2 1.3 1-2.3 .5 0 1 2.7 1.5-1.3 .5 .4 1.5-1.5 2 1.7 3.5-3.2 1.5 .3 7-6.9 2-8.6 1.5-3.5 .5 .3 .5 1.7 3 14.9 .5 0 2 2.1 2 3.4 1 0 .5-1.1 1.5 2.2 1-1.8 1-.1 1.5-1.2 1.5 .7 1.5-3.9 1 .8 1-.3 .5-2 .5 .3 .5-1.8 1-1.1 1.5-1.1 1 .1 1-.6 1-1.6 1.5-.9 3-3.7 1.5-3.8 2-1.8 4.5-9.4 .5 .1 1.5-1.1 1-1.2 1 1.5 1.5-.2 6.5 20.9 1 1.7 1.5-.2 2 5.3 1 .9 .5-.3 .5 .4 1.5-1.2 1 1.1 1.5-.8 1 .5 1.5-2.2 2 1.9 1.5-.3 1.5 .6 .5-.4 .5 1.1 .5-.7 .5 1.2 1 .5 1-.7 .5 1 1.5-1.8 1.5 2.7 2.5-2.2 2.5 3.3 .5-.7 .5 .3 1-.9 .5-.9 1.5 2.4 .5-1.1 1-.3 1.5 1.5 1.5-.2 .5 1.1 1 .4 1-1.2 1.5-.3 1 2 .5-.4 2-7 1 .7 .5-.2 1.5-4.3 .5-.6 1 .3 1.5-3.6 .5-.3 1 1 .5-.8 1-3.5 4-9.1 3-9.7 4-28.7 4-38.6 1-4.5 .5-.1 1 1.8 1 5.1 5 46.7 1 7.4 1 3.8 1.5 3.2 1 1.1 3.5-10.9 1 0 .5 .6 .5-.3 1.5 3.1 3.5 13.2 2 5.2 2.5 1.8 .5-.2 2.5-2.6 1-1.7 1.5-.6 1-1.4 2 .8 2.5 9.3 1.5 3.8 1.5 6.9 .5 1.2 1.5 1.1 1 2.4 1.5 1.3 1 3.1 1.5 1.5 1 .4 1.5-1.6 .5 .4 .5-.3 .5 1.2 .5-1 .5 .4 .5-.9 .5 .4 2-4 2.5-3.6 .5 .3 1-1.3 .5-1.4 .5 .1 1.5-1.9 1 .7 4-8 1-.1 1.5 1.1 4.5 10.7 1-.8 .5 .7 .5-.4 1 1.2 1.5-.8 .5 .8 3-6.5 4-14.3 1-1.5 .5-2 1-.7 .5 1.2 .5-.2 .5 .9 1.5 8.2 .5 .2 1 2.7 2 8.3 .5-.2 1 1.2 .5 2.3 1 1.5 1.5 4.4 1.5-.1 1 2.1 1.5-2 1.5 .9 1 2.5 1 .1 .5-.9 .5 .4 .5-.8 1.5-.7 1-2.5 2-2.4 1-.2 1-2.4 1-.6 1.5-2.3 1-.3 1 1.1 1-.4 1.5 .7 .5-.3 1.5 4.1 2.5 1.3 3 4.5 .5-.2 1 .8 .5-.2 .5 .7 .5-.2 .5 1.4 1-.1 1-3.2 2.5-1.9 .5 1.1 4-9.4 3-9.6 1-1.9 1 1.8 3 3.2 .5 2.1 2.5 4.3 1 .5 1.5 2.8 1 .7 .5-.4 .5 .3 1.5 3.9 2.5 4 .5 .3 1-.4 1 1.2 1-.4 1 .5 .5 .9 1.5-1.1 1 .1 1.5-4 .5 0 1-1.5 2.5-5.2 1 1 1-.7 1 1.6 .5-.6 .5-1.5 1-.6 2.5-8.3 2-12.8 1.5-15 2-29.4 3.5-67.3 1.5-13 .5 .4 .5 2.3 .5 5.6 3 56.4 1.5 21.4 2 20.1 2 10.7 2 7.1 1 2.8 1 .3 .5 1.3 6 22.6 2 4.9 1.5-.8 .5 .8 2 .6 .5 .7 .5-.2 .5 .7 1-.1 3-4.5 .5 .3 2.5-3.7 4-10.6 1.5-.2 1.5-3.4 1 1 1 3 2 2.5 1.5 5.8 .5-.8 1.5 4.2 2.5 4.6 .5-.4 2 1.3 2 .4 .5-.3 .5 .7 .5-.4 .5 .3 .5-1.2 .5-.1 1.5 1.8 1-1.6 1-.5 1 .4 1-.7 1.5 2.4 1.5-2.3 .5 .3 .5-.6 1 .4 1-1 .5 .1 1 2 1-1.7 .5 .7 1 0 3-2.1 1 0 .5 1 .5-.5 2 .3 .5-1 .5 1.5 .5-1.7 .5 .7 .5-.6 .5 .7 1-.7 1 .1 2.5 3.2 1.5-1.9 .5 1.7 .5 0 .5-.3 .5-1.8 .5 .5 .5-.7 .5 .8 .5-.2 .5 .7 1-1.5 1.5 1.6 1.5-1.8 1.5 .5 1-.7 1 1.4 .5-.1 1.5 2.3 1.5-1.8 .5-.1 1.5 1.1 .5-.9 .5 .8 .5-.8 .5 1.3 .5-1.2 .5 1 .5-.4 .5 .5 .5-.5 1 .8 1-1.8 1-.9 .5 1.3 .5-.1 .5 1.5 1.5-1.8 .5 .1 1 2 2-.8 1.5 1.7 1-1.8 1.5 1 1-.8 .5-1.3 1.5 2.7 .5-1.7 1.5 .9 .5-1.2 1.5 1.1 .5-.8 .5 .3 1 1.6 1.5-1.6 1 1.5 1.5-1 .5 .5 1-.9 1.5 1.3 .5-.8 .5 .1 1.5-1 1.5 .5 1 2.2 1-1.3 .5-1.8 2 1.9 1-1.7 .5 .1 1 1.7 1 .6 1.5-2.3" stroke="#243a80" stroke-width="1.4" fill="none" stroke-linejoin="round"/>
<path d="M43 379.7l.5 .2 .5-.9 .5 .1 2 1.8 .5-.7 .5 .3 .5-1.3 1-.5 1.5 1.9 1.5-2.2 2 2.9 1.5-2.3 2.5 1.6 .5-1 .5 .2 .5-.8 2 .3 .5 .8 1.5-1.8 2-.1 1.5 2.1 1-1.2 1 1.2 .5-.8 .5 .5 1-.2 1-.8 2 2.1 1.5-2.9 .5 1 1 .4 .5-.9 1.5 2.5 1.5-2.8 1.5 1.6 1 0 1 1.5 1.5-3.6 .5-.2 1.5 .9 1-.7 .5 1.3 2-1.1 .5 .7 .5-.6 .5 1.2 .5-.5 .5 .6 2.5-2.5 1 .1 .5 .9 .5-.4 .5 .8 1-1.2 .5-2.5 .5-.6 1 2.2 1-2 1 1.3 .5-.3 1-3.2 1.5 1.2 2.5-5.7 .5 .4 1.5-3.5 1.5 1 1.5-6.3 1-2 .5-.1 1.5-4.5 3-3.5 1 1 2 7.5 1.5 2 2.5 7.8 1 .8 .5-.5 3 6.1 1 1.2 .5-.4 1.5 2 1-.5 1 2.2 .5 .5 .5-.3 .5 .8 .5-.8 .5 .3 .5-1.7 .5 .7 .5-.6 1 1.8 1-.8 .5-1.4 2.5 3.3 .5-.7 1 .9 1.5-1.4 .5 1.3 1.5 .9 1.5-1.8 1 .8 1.5-1.1 1.5 2.2 1-.4 1.5-2.5 1 1.5 .5 .1 1-1.1 .5 1.2 1 .4 .5-1.2 .5 .4 1-.9 1 1 .5-.1 1-2.3 1.5 2 1.5 .5 .5-.6 .5 .4 1-.6 .5-.9 1.5 .8 1-.9 1.5 .3 .5-.6 1 1.8 .5 0 1-1.6 1.5-.6 1.5 1.7 .5-.2 1.5 1.3 .5-.9 .5 .3 2-.8 .5 .8 1 .3 .5-.7 3 .4 1-1.9 .5 .1 .5 1 1-1.4 1 .3 1-1.4 1 1.7 1-2.8 2.5-2.8 1.5-.3 .5-.5 2.5-5.9 1.5-2 1 1 1 4.2 2 5.1 .5-.2 1.5 4.2 .5-.1 1.5 2 1 .5 2-.7 .5 1 1-.7 .5-1.6 1 1 3-1.5 .5 .7 1.5-3.5 .5 .8 .5-2.1 1.5-.4 1-1.1 1 .1 .5-2.1 1-.6 .5 1.3 3.5-5.4 .5 .5 1-.5 2-3.1 1.5-3.7 4.5-6 1-.7 1-2.6 .5-.5 .5 .5 1.5-.1 .5-.5 2 1.7 2.5 7 2 7.9 .5 .6 1-.1 1 3.8 1.5 1.7 1 2.2 1-.2 1.5 1.4 2.5 1.4 2.5-.9 1.5 .1 .5-1.7 2 1.5 .5-.8 1.5 1.3 1-.6 1.5 .4 .5 .6 .5-.4 1.5 1.7 1.5-.7 .5 .5 1.5 .2 1.5-1.3 .5 1.6 1 .6 1-.9 1.5 1.6 1.5-1.6 1 0 .5 2.2 1 1.2 1-1.9 1.5 .1 .5-.7 1.5 2.8 2.5-1.1 1.5 0 2.5-2.5 1-3 1.5-1.5 .5-1.6 .5 0 .5-2.4 2.5-3.6 .5 .9 2.5-2.5 2.5-7.4 1.5-2.6 3-9.7 3.5-22.7 3-26.2 1.5-9.6 1-3.6 1 1.2 2 10.2 4.5 35 2.5 11.2 .5 .6 .5-.5 .5 1.1 1 0 2-5.2 1.5-2.1 .5 .3 2.5 4.2 2 7.4 2.5 6.5 .5 .8 1 .2 1.5 3.8 1.5-2 1.5 .1 1.5-1.7 1.5-.2 1-1.1 1.5 3.2 1 .3 1.5 2.8 1.5 4.5 .5-.1 .5 .6 1.5 6.1 1 2.2 1.5 2.8 1.5 .5 1 1.2 .5 1.7 .5 .1 .5 1.3 1.5-.6 1 .6 .5-1 1.5 .3 .5-1.5 1 1 1.5-4.6 1-1 .5 1.1 1.5-2.8 .5 .8 .5-1.3 3-2.2 .5-.9 1 0 .5 .6 1.5-3.9 3.5 1.2 1-.5 2.5 3.6 1.5 4.4 1-.1 .5 .9 1.5-2.4 1 .8 1 .1 1.5-2.3 3.5-12 .5-.3 1-2.3 2-5.9 1.5 .9 1 1.3 1.5 6.7 4 12 1.5 1.2 2.5 5 1 1.3 .5-.5 .5 1.5 .5 0 .5 .8 .5-1 1-.3 1.5 2 1 0 .5-.7 2 .6 .5-2 1-1.6 1 0 2-4 .5 0 .5 1 1-1 .5-1.6 .5 .3 1-.7 .5 .2 1.5-1.8 1.5 2.1 .5-.8 .5 .6 1.5 .3 2.5 4.7 1-.5 3 4.1 1.5-1.5 .5 .6 1-.1 .5-.8 .5 .9 .5-.1 .5 1.3 .5-.1 1-1.3 .5-1.9 1-.5 .5 .7 1.5-5.3 1.5-1.1 3-9 1.5-1 3 .2 1.5 4.3 .5-.2 2 2.2 1.5 2.7 1 .4 .5-.5 1 1.5 2 4.1 .5-.1 1.5 4.5 .5-.7 1.5 1.7 1-1.3 1 1.2 1.5-2.2 .5 1.3 1.5 .2 1-.7 .5-1.3 .5 .2 .5-1.2 1.5-.7 1-2.3 3-4 1.5 .1 2-3 1-2.4 1.5-7.1 2-13.1 2-21.7 4-61.3 2-15.5 .5 .1 1 7.5 4.5 62.7 2 16.2 2.5 12 1 3.6 .5-.1 1 1.8 1.5 6.8 1.5 2.7 3 12 2.5 6.2 2 1.9 .5 .4 .5-.6 1.5 1.5 2-.6 1-2.1 1-.8 .5 .9 .5-.3 1 .5 1.5-3.8 1-.9 .5 .4 1.5-5.3 2.5-4.7 1.5-1.2 2.5-.4 .5 .9 1.5 .4 2 7.1 2 3.2 1.5 3.6 1 .2 .5 1 1.5-.9 1.5 2.9 1-1.9 .5 .3 1.5 3.5 1-1.5 1.5 1.8 1-2.2 1-.1 1-1 1 .1 1-1.3 1.5 1.3 1-.7 1.5 1.3 1-.5 .5 .7 .5-.8 .5 .9 1.5-1.6 1 1 1 0 .5 .6 2-2.6 1.5 1.1 1-1.2 1 0 1 .7 2-1 .5 1.1 .5-.4 .5 .3 .5-.7 .5 .5 .5-.7 2.5 2.4 .5-.1 1.5-2.3 1 .8 .5 1.6 1.5-1.3 .5 .4 .5-.9 .5-.1 2.5 2 2-1.4 .5 1.3 1 .6 .5-.9 1-.2 .5 1.1 1.5-1.8 1 .9 2-.3 .5 1.1 1.5-1.4 1.5 .7 1.5 1.5 1-1.7 1-.5 1.5 2.3 1.5-1.1 1.5 2 1.5-3.6 1 0 .5 1.3 .5-.1 .5 .9 1.5-1.8 2 1.2 1.5 1.7 1.5-1.8 .5 .4 .5-.6 .5 1 1 .4 1-.9 .5 .4 .5-1 1-.1 .5 1.9 .5 .1 1-1.2 1 1 1-.5 .5 .3 1-1 .5 .4 1.5-2.3 1 1.7 .5-.4 1.5 1.7 2-1.6 .5 .4 1.5-1 1 2.4 1 .8 1.5-2.5 .5 .6 .5-.2" stroke="#9cbce6" stroke-width="1.4" fill="none" stroke-linejoin="round"/>
<path d="M43 378.7l1.5 2.3 .5-.4 2 1.2 .5-.9 2 .1 .5 .4 1.5-2.1 .5 1.1 1.5 .5 1.5-2.3 1 .2 1.5 2.9 1-2.5 1.5 .5 .5-.6 2 .3 .5-.6 .5 .4 .5-.5 .5 .6 .5-.2 2.5 1 1.5-2.4 .5-.1 .5 1.2 1 0 1.5 1 .5-.3 1 1.3 .5-.8 1.5 .5 1-1.7 1.5 2.1 1-1.2 1.5 .8 .5-.6 1.5 0 .5-1.2 1 0 .5 1 1.5-1.9 .5 0 .5 1.3 .5 .2 2-3.4 .5 .7 .5 0 .5 1.7 1-.3 1-1.9 1.5-.2 .5-1.2 1 1.6 1-.2 .5-1.3 .5 .5 3-1.2 .5 .7 .5-.3 .5-.4 .5-2.4 .5 .7 .5-.8 .5 .4 1.5-1.9 4.5-9.1 .5-3 1.5-2.3 1.5-7 2-6.5 1-.9 .5 .6 .5-.2 1.5 3.2 .5 .7 .5-.1 3.5 11.8 1 5.1 2.5 6.4 1.5 1.2 1 2.6 1.5 2.2 1 .5 .5-.3 1.5 1 1 1.7 1-.8 .5-1.8 1.5 3.5 1.5-1.1 1 2.3 2-.2 1-1.2 .5 .4 .5-.4 .5 .9 .5-.5 .5 .2 .5-1.2 1 0 1.5 2.6 1.5 1.1 1.5-2.4 .5 .4 .5-.5 1.5 2 .5 0 1-2.1 1.5 1.1 .5-.6 .5 .8 .5-.8 .5 1.2 .5-.6 .5 .8 .5-1.5 1.5 .6 1-2.1 .5 1.1 1.5-3 1 1.6 1-1.3 1.5 2 .5-.7 .5 .7 1-.2 .5-1.5 .5 .8 1-.5 .5-1.3 1.5 3 1.5-.7 .5 .6 .5-.3 .5 1.3 1-.2 .5-.6 .5 .9 1 .5 1-.3 .5-.6 1 1.1 1.5-1 1.5 .8 1.5-1.2 .5 1.6 .5 .1 1.5-3.2 1.5 .6 1.5-2.6 .5 .4 1.5-1 .5 .2 .5-.7 1.5 0 2-4.9 .5-.1 1.5-2.9 .5-.1 2.5-10.1 1-1.6 1 2.4 1.5 9.7 2 6.8 3.5 6.4 1 .9 .5-.6 1.5-.3 1-1.6 1.5 1.2 .5-1.2 .5 .7 .5-.7 1 0 2-2.8 1-2.3 1.5-1.2 .5-1.7 1-.9 1 .2 .5-1.2 .5 .4 .5-1 .5 1.3 1.5-5 1-.8 .5 .4 1-.4 .5-1.6 1.5-2.2 3-8.6 2-4.1 1-.2 1.5-4.8 1-.8 .5 .8 1-1.4 .5-2 1-.8 2 3.4 1.5 4 1.5 6.7 1.5 3.4 .5 3 2 6.2 1.5 4 1.5 1.8 1.5 3.6 1 .2 1-.7 1 .7 .5 1.6 .5 0 2-2 1 1.2 .5 1.4 1-.5 1-2.5 1.5 .5 .5-1 1.5 1.8 .5 .2 .5-.3 2 2.7 1.5-1.5 .5 1.2 2-.2 1-1.6 1 2.1 1 0 1 .9 1.5-.7 .5 1.1 2.5 2.5 .5-1.2 .5 .1 .5-1 .5 .7 .5-.8 .5 1.2 1 .5 .5-.7 .5 .4 .5-.7 1 .1 .5 1.8 1 .7 1.5-1.8 1-.4 .5 .5 1.5-3.2 .5 .2 1.5-3.6 .5 .1 2-7 1.5-.7 1-1.4 .5 .2 1-.9 2.5-7.4 1.5-2.9 2-6.8 3.5-16.7 6-62.7 1-7 1-3.7 1 .8 2 13.9 4 45.1 1.5 11.9 2 7.8 1.5-.9 3-10.9 1-.6 1 .4 2.5 6.4 1.5 7 1 1.3 1.5 7.5 2.5 3.8 .5-.3 .5 .8 .5-1.2 .5 .2 1-.8 1-2.3 .5 0 1.5-4.1 1.5 3.4 1.5 .6 2.5 6.2 1 5.5 .5 1.8 1 1.3 2 7.6 2 3.8 1.5 1.8 .5 2.3 1 1.6 .5-.2 .5 .9 1-1.5 1 0 .5 1.6 1.5-2.9 .5-.4 .5 .5 .5-.6 .5 .3 .5-1.1 .5 .1 2-2.8 1.5-4.1 1-.8 .5 .8 .5-.3 1.5-2 .5-.1 .5-1.1 .5 0 .5-2.9 .5-.1 .5-1.5 .5 .5 1.5-4.1 1.5 3.1 .5-.6 1 .1 3 7.4 .5 0 2.5 3.4 2 1 .5-.2 1-4 1.5-2.3 1.5-4.4 3-16.1 2.5-6.3 2 2.3 2 9.2 .5 .8 2 11.8 2 6.4 1 .9 .5-.3 2 6.9 1 1.3 .5-.3 1 .8 .5-.2 1 .4 .5 1.6 1 .9 2.5-1.5 1 .2 1-1.7 1.5-1.3 .5-2.4 3.5-3.8 .5-1.5 1-1 1 1.1 1.5-3.2 .5-.1 .5 1.5 1.5 1.3 1.5 3.1 2 1.2 3 5.6 .5-.2 .5 1 .5-.4 1 1.5 1-.7 1 .4 1-1.3 2.5 .7 1.5-3.8 1 0 .5-1 2-8.3 1.5-2.4 1.5-7.3 3-2.9 1 .4 .5 .9 .5-.2 1.5 5.5 2 4 1 1.2 2.5 1.6 4.5 13 .5 .7 .5-1.4 1-.4 .5 1.5 2-.1 .5 .9 .5-.4 1 .7 1-1.7 1 .4 .5-.5 1-3.3 2.5-4.3 2-1.8 .5-2.1 .5 1.1 .5-.5 .5 1.1 .5-.7 .5 1 1-.6 2.5-9.7 1-5.9 3-31.6 5-97.9 1-14.2 .5-3.8 .5-.6 1 9.2 5 90.3 2 19.2 1.5 9.4 4 13.8 3 13 3.5 12.8 1.5 1.3 1 3.9 .5 .6 .5-.4 .5 .3 1.5 2.3 3-1.6 .5 .5 2-3.2 .5-.5 .5 .1 2-3.5 4.5-15.5 2-2.4 1.5-1 1.5 4.5 1-.8 .5 .8 4.5 15.1 1.5 2.2 .5-.1 1 3.4 .5 .4 1-1.9 1.5 3.4 .5 .2 .5-.7 1 .1 1-.5 .5-.9 .5 .9 1-.8 .5 .4 1.5-.6 .5 .6 2-.3 .5-.6 1.5 1.9 1.5-3.1 .5 .8 .5-.8 .5 .8 .5-.4 .5 1 .5-1.1 1.5 1.2 1-1.9 1.5 2.4 1-1.8 2-1.6 .5 1.4 .5-.3 .5 .9 .5-.7 1.5 .7 1-.8 1.5-.1 .5-.7 1.5 1 1-1.3 1.5 2.7 1.5-1.8 1 2 .5 0 1-1.9 1.5 1.3 2 .3 1.5-2 1.5 1.9 .5-.1 1.5-2.3 .5 1.7 .5 .1 .5 .9 1-.7 1 .8 1.5-.5 .5 1 1-1.3 1.5 1.3 .5-1 1.5 2.2 .5 0 .5-1.1 1-.1 .5 .7 1 .2 .5-.2 1-1.9 .5-.2 2.5 2.1 1.5-2 1.5 1.5 .5-.6 1 .3 1.5-1.7 1.5 2.3 1-1.5 .5 0 1 2.5 1.5-1.6 .5 .3 .5-.4 1.5 3 1-2.6 2-1.2 1.5 1.3 .5-.2 1 1.2 .5 0 1-1.7 .5 .1 1 2 1-1.3 1.5 0 1-1 .5 .2 .5-.9 1.5 2 1-1.9 .5-.1 1 1.8 2 .1 .5-1 1-.4 .5 1.3 1 0 .5 .7" stroke="#84aee2" stroke-width="1.4" fill="none" stroke-linejoin="round"/>
<path d="M43 379.1l2 .9 2-2 1.5 1.2 .5-1.3 2 1.9 1-.1 .5-1.1 1 1.4 2.5-.8 .5-.7 .5 .5 2-2.6 1 2.5 .5 .4 1-1 .5 1.2 1.5-2.3 1 2 1-.5 .5-.9 1 1.1 1.5-1.2 1 1.4 .5-.9 1 0 1 1.6 1-.8 1-2.3 1.5 2.6 1.5-1.1 1 .2 1.5-1.8 1.5 2.1 1 .2 1-1.7 .5 .8 1 0 1-1.1 .5 .7 .5-.2 1-1.2 1 .5 .5 1.3 1-.3 1-2 2.5 .7 1.5-2.6 1.5 .5 .5-1.4 1-.9 .5 1.1 .5-.6 .5 1.1 1 .5 1-2.3 2-1.9 1 2.4 .5 .1 5.5-11 2.5-7.7 5-21.5 1-2 1 1.3 1 .7 .5-.4 5 22.5 1.5 4.2 1.5 7.8 2 2.5 1 3.2 .5 .7 1 0 1.5 4.6 1-.4 .5-1.2 1-.4 2 3.2 3-.4 1 1.1 1.5-1.9 .5-.2 .5 1.3 1-.1 .5-1.2 1 1.4 1 0 .5-.5 .5 .8 .5-.2 1 .5 .5-.8 .5 0 .5-.6 .5 .9 .5-.8 .5-.1 1.5 2.5 1-1.1 2-1 1 .3 1.5-1.1 1 1 .5 0 .5-.7 .5 .2 1 1.4 .5-.1 1-1.6 1.5 .3 1-1.2 2.5-1.3 1.5 .5 1.5 2.8 1.5-2.8 .5-.1 1.5 3.1 2-1.3 .5-1.1 1 1.6 1.5 .1 .5 .8 .5 .1 .5-.7 .5 .5 .5-.9 1-.3 .5 1.5 1 .1 1-1.6 2 1.4 2-1.4 1.5-3 1-.6 1.5 .1 1.5-3 3-2.4 2-5 3.5-17.1 .5 .2 1 5.1 2 14.6 3 9 2.5 2.9 1.5-.3 1.5 1.1 1.5-2 .5 1 1 .6 .5-1.4 .5 .2 1.5-2.6 .5 0 .5-1.4 .5 .2 .5-1.3 1.5-1.8 1.5-5 1 1 .5 1.4 2-5.9 1.5-.4 .5-1.3 .5 .1 11.5-31.3 2-2.8 1.5 1.6 1-.2 .5 1.5 3.5 14.1 4 20.2 .5 .3 2.5 6 .5 0 1.5 2.7 1.5 .5 1.5 1.7 1-.5 1 .2 .5-.3 1.5-3.9 1.5 1.8 1 .4 1 2 1.5-1 1 .8 1-.7 1.5 1.6 .5-.6 .5 .9 1.5-.8 1 1.3 1-1.3 1 0 .5-.5 1.5 1.9 .5-.2 1.5 1.2 .5-.6 1 .4 .5 1.7 .5-1.2 1-.6 .5 2.1 1-2.4 .5-.2 1 2.5 2-.9 1 1.2 1.5-1.3 .5 .5 .5-.3 1.5 1.6 7-17.4 1-.5 .5 .7 2.5-4.4 7-30 3.5-38.3 4.5-70.6 1.5-11.1 1 2.5 1.5 14.8 4 64 2.5 26.9 1 5.9 .5 0 .5 1.4 .5-.8 .5 0 1.5-5.3 1.5-8.5 .5-.8 1.5 1.9 2.5 8 3.5 18.8 2 7.4 2 1.5 1.5 2.3 3.5-6.8 1-.5 1.5 1.6 .5 2.4 1 1.2 .5-.1 3.5 16.3 1.5 3 1.5 5.9 1.5 1.4 2 4.6 1 .7 .5-.5 1 .1 1 1.3 .5 .2 .5-.5 .5 .6 4-8.5 1.5-4.2 1-.6 1.5-2 2.5 1.1 1.5-5.5 1 .1 1-3.1 2-2.8 1 1 .5-.3 1 1.2 1.5 6.2 4 6.5 .5 .5 1-.3 1 .5 1-.9 1-2.3 2.5-10 3-18.6 2-10.1 .5-.3 1.5 2.5 1 4.4 3.5 21.2 2.5 10.5 4 8.9 1.5 2.2 3 1.7 .5 .9 1-1.8 .5-.2 .5 1.2 1-.8 .5 0 1-1.2 .5-1.6 .5 1.2 .5-.9 .5 .4 1.5-3.9 2-3.4 1-1.3 1 .7 1-2.4 1-.7 .5 .4 .5-.4 1 1.2 1 3.2 .5-.8 1 .5 2.5 6.2 .5 .1 .5-.9 2 3.3 1.5-1.1 1 1.2 2 .4 .5 .9 .5-1.2 .5 .2 1-1.1 1-2.8 1.5-.3 .5-.9 3-15.6 2-7.9 2.5-2.9 1-.4 3.5 12.6 .5 .9 .5 0 1.5 3.1 1-.4 1.5 3.3 .5-.7 .5 .7 3 11.7 1.5 .1 1 .9 1-1 2 3.3 2-.4 1-1.2 1 .4 3.5-12.2 .5 .5 .5-.4 .5 .5 1 3 1.5-4.1 1 .8 .5-.4 1.5-3.9 2.5-15.1 2-24.5 2-35.5 4.5-120.6 1-11 .5-.3 1.5 21.6 3.5 91.5 2 34.8 2 17.3 4.5 18.2 1 1.4 1 3.8 4 22 3 10.5 .5 0 1.5 1.7 1.5-.8 .5 .7 1 .1 1-1.4 1.5-.2 .5-1.3 .5 .3 1-.3 2-5.1 5.5-21.5 2-4.2 .5 .2 2 6.3 1 1.8 4.5 18.6 3.5 5.7 2-.7 1.5 2.5 1-.4 2 .4 1.5-1 .5-1.2 1-.3 1 2.1 .5 0 .5 1 .5-.5 .5 .5 1.5-2 1 .3 2-2.7 2.5 1.9 1-.8 .5-1.2 .5 1 .5-.4 .5 .9 1 .5 .5-.1 1.5-1.6 1.5 .3 1 1.3 2.5-3.5 3 1 .5 1 1 0 .5-.8 1 1.5 2.5 .5 .5 .7 1-.5 2 .1 .5 .5 1.5-2.7 2 2 .5-.7 1 .1 .5 1.7 1 .3 .5-1.5 2 1.1 .5-.5 2 1.9 1 .3 1-.6 1.5 .2 .5-1.4 1-.3 1.5 2.7 1-1.7 1-.2 .5 .4 .5-.5 .5 1.1 .5-1.1 1-.4 .5 1.1 1 0 1-1.5 1.5 1.8 1-1 .5 .1 .5-.9 1.5 1.8 .5 0 2.5-3.4 1.5 2.3 .5-.6 .5 .3 1 1.8 1-1.9 1.5 1.8 .5-1.1 .5 .7 1.5 .5 1.5-1.9 1 2.1 1-.1 1.5-1.5 .5 1.2 1 .7 .5-.9 .5 .5 1.5-.4 1 1 2-.6 .5-1.5 1-.8 .5 .9 3 1.9" stroke="#3f62bc" stroke-width="1.4" fill="none" stroke-linejoin="round"/>
<path d="M43 380.9l1 1.1 1-1.2 .5-1.7 .5-.2 1 1.5 1-1 .5 .5 .5-.6 .5 1.2 .5-.8 .5 .1 1.5 1.3 1.5-1 1.5 1.8 .5-1.4 1.5 1 1.5-1.5 2-.2 1-.9 1 .9 1.5-.1 .5 .7 1.5-2.1 .5 .8 .5-.6 1.5 1.2 2.5-2.1 1 1.1 .5-.5 1.5 1.1 1-1.4 1.5 2.6 1-.3 1.5-1.3 1 1.6 1.5-1.2 .5 .7 1 0 .5-2 .5 .6 .5-.6 .5 1.4 2 .3 1-1.1 1.5 .1 .5-1.4 .5-.3 .5-.1 .5 .9 1-.1 1-1.4 1 .1 1.5-.8 .5 .7 .5-.8 1 .4 .5 .8 .5-.9 1-.7 .5 .4 1.5-1.7 .5 .5 1-.5 1.5-2.7 1 0 3-4.2 1.5-4.6 1-1.4 3-10.9 2.5-12.4 .5 .6 1-.5 1.5-2.7 1.5 2.9 1.5 9.7 4.5 16.7 1 2 1.5 5.5 1-1.2 .5 .1 1 3.4 1 1.2 .5-.4 .5 .6 .5-.5 1.5 2.8 1 .8 .5-.3 .5 .4 .5-.5 1 .4 .5-.3 .5 1.1 .5-.4 .5 .7 1-.6 1.5 .8 1-1.6 1.5-.1 2 1.3 1-.5 1.5 2.1 .5 .1 1.5-3.2 .5 1.5 2-.1 .5 .8 3-1.2 1.5 2.3 1-1 1 0 .5-1.7 .5-.2 1 1.5 .5-.6 .5 .7 1.5-1.7 1 .5 1.5-1.2 .5 .8 1.5-2.3 1 .4 .5 .8 .5-.5 .5 .9 .5-.9 .5 .8 .5-.9 1.5 3.1 1-1.9 .5 .2 1.5-1 .5 1.4 1.5-.5 1.5 2.6 1.5-.6 .5 1 .5-1.5 1-.7 .5 1.2 .5-.8 .5 .7 .5-.6 .5 1.3 1.5-1.9 1.5 .6 .5-1.7 1-1.3 .5 .4 1.5-1.5 1 1.5 1-1.9 1-.7 .5 .7 .5-1.5 .5 .4 .5-.6 3.5-7.6 2.5-12.7 1 1.2 2.5 16.7 3.5 7.9 1 1.7 .5-.6 2 .5 1.5-.2 1.5-1.1 1 1.1 3.5-2.7 2-3 1-2.7 1-.7 .5 .4 1.5-3.2 1 1.2 1.5-2.4 1.5 .1 1.5-4.4 3.5-6.5 1.5-5 1-2.2 .5-.1 1-3.4 .5-.8 .5 .8 2-5.5 .5 .5 2.5-3 1-.2 2.5 5.9 3.5 15.6 2.5 8.6 1 1.9 1 .3 1 1.5 2 4.7 1 .5 .5-.5 .5 .8 1 .3 1.5-1.7 2-.1 .5 .4 1.5-2.1 1 1.9 1-.8 1.5 2.8 1-1.3 .5 .4 2-.6 1 .9 .5-.6 1 .6 .5 .9 .5-.7 2 .3 .5-.7 .5 .3 .5-.5 .5 1.9 1 .2 .5-.9 2 1.9 1-.4 .5-1 2 2.2 1.5-.2 1 1.6 .5-.1 1-1.9 1.5 1.5 1-2.3 1.5 1.9 1-2.7 1 .3 .5-.5 2-7.3 1-.9 1.5-3.7 1-.7 1 .5 1-.1 1.5-5.8 .5-.3 1-3.1 .5-3.2 .5-.3 1.5-5.8 1-.9 1.5-5.9 2.5-15.4 5.5-72.1 1.5-12.4 .5-1.6 .5-.1 1 4.2 5 63.3 3.5 27.9 1 0 .5-.8 .5 0 1-2.5 1.5-8.4 1-2.3 .5 .4 .5-.8 1 1.5 2.5 6.9 1.5 8.5 1 2.4 2.5 9.9 .5 0 .5 1.2 1.5 .4 1-1 1-3.5 2.5-4.7 2 1 2 3.5 2.5 9.2 1.5 8 1.5 3 2 7.2 1 2.4 1 .2 1 1.2 1 2.9 .5-.5 .5 .5 .5-1.8 .5 1.1 .5-.7 .5 1.2 .5-.5 .5 .5 .5-1.2 .5 .1 2-4 .5 0 1.5-2.1 1.5-3.9 .5-.1 .5-1.2 1 .1 2.5-2.5 .5-1.4 .5 0 1-1.1 1.5-4.9 .5 .6 1.5-.2 1 .4 3 5.2 1.5 4.7 1.5 2.5 1.5 .5 .5 1 2-4.6 .5 .9 .5-.7 3.5-14.2 3.5-20.5 1.5-2.6 1 2.3 2 7.8 2 15.5 3 11.4 2 6.2 .5 .7 2 0 2 3.8 .5 .3 .5-.8 1.5 1.9 1 .1 1.5-1.8 1.5 1 .5-1.2 .5 .4 .5-1.5 .5 .2 .5-2.1 .5 .4 1.5-4.7 1-.5 1.5-2.3 .5-1.6 2.5-2.5 1.5 2 .5-.3 1.5 2.9 .5 0 2.5 6.8 .5 .2 1.5 2.7 1 0 .5 .6 1.5-1.1 1.5 2.6 1-1.2 .5 .6 1-.6 .5-.9 .5 .5 .5-.2 .5 .4 .5-1.5 .5 .3 2-6.4 .5 .3 1.5-6.6 1.5-3.3 2-7.2 2-4.1 .5 .5 4.5 14 2 3.3 1.5 .7 1 1.3 1.5 4.2 .5-.4 .5 .6 1 3.4 1.5 .8 1 1.6 1 .5 .5-.9 1.5-.1 .5-.6 1 .9 .5-.1 1-1.7 1 .5 2.5-4.2 2-4.9 3 3 1.5-3.7 .5 .4 2.5-8.1 1-6.6 3-33 5-112 1-16.8 .5-4 .5-.3 1.5 18.8 3.5 80.1 2.5 33.4 1.5 9 1.5 5.1 1.5 10.3 .5 1.5 .5-1 1 1.5 7 29.9 .5 0 .5 1.3 .5 0 .5 1.4 1 .5 .5-.9 .5 .4 1.5-.4 .5-.5 .5 .7 .5-.4 .5 .5 1.5-1.6 1 .1 3.5-6.5 1.5-6.7 3.5-11.1 .5-.3 1.5-3.4 1 .4 2 5.4 5 17.9 1 1.8 .5-.2 2 3.9 .5-.2 .5 .8 3-1.9 1 1.6 .5-.1 .5 1.6 .5 0 1-1.9 2-.2 .5-.6 .5 .4 .5-1.2 1.5 2.2 2.5-1.9 1.5 2.3 1-.9 1-2.3 1 1.5 1.5 .7 3-2.7 2 .3 1.5 1.4 1.5-1.3 1.5 .7 .5-.6 .5 .9 .5-.5 .5 .8 1.5-2.2 2 1.3 1.5-.9 .5 1.1 1.5 .7 1 1.4 1.5-.2 1.5-2.1 .5 1.6 .5 .2 1.5-.9 .5 .6 1-.1 1.5-1.8 1.5 3.3 1-.7 1 .6 1-1.7 1.5 1.3 1-.1 1.5 2.2 1.5-3.2 .5 .4 1-1.2 1.5 3 .5-.5 .5 .4 .5-1.6 .5 .8 .5-1.3 .5 .7 .5-.9 .5 .5 .5-.7 .5 .5 .5-.4 1 .3 1 1.8 1-1.8 .5 .1 2 2.1 .5-.3 .5 1 .5-.8 .5 .8 .5-.6 1 .1 1.5-2.6 1 1.7 1.5-1.8 .5 1.3 1.5 .2 1 1.5 1-.3 1.5-2.2 1.5 .9 .5-.7 1 .1 .5 1.6 1-.2 .5-.9 1.5 1 1.5-1.9 .5 .7 .5-.1 1 2 1-2.5 .5 .2 1 3 .5-1.7 .5 .3 .5-.6 .5 1.9 .5-1.2 .5 .5 .5-1 .5 1.9" stroke="#9cbce6" stroke-width="1.4" fill="none" stroke-linejoin="round"/>
<path d="M43 379.6l1 0 .5 .9 1.5-1.1 1.5 1.6 .5-.5 .5 .5 1 0 1.5-2.1 .5-.1 1 1.7 1.5-1.8 1.5 2.5 .5-1.3 1-.1 .5 1.3 .5-1.1 1-.6 2 1.4 .5 0 .5-1.3 .5 1.1 1 .7 1-2.9 2.5 2.3 1.5-.9 .5 .7 1.5-1.6 .5 .5 .5-.3 .5 1.7 .5-.5 .5 .4 .5-1.5 .5 .8 .5-.3 .5 .7 1.5-1.5 1.5 .8 .5-1.3 2.5 .8 1 1.1 1.5-1.3 .5 .7 1-.4 .5 .5 .5-.5 .5 .6 .5-1.3 1 .3 .5 1.2 1 0 1.5-2.7 .5 1.1 1 .7 1-1 1 .6 1-.1 .5-1 .5 .4 1.5-1 1 1 4.5-3.3 .5 1.3 1 .1 1-1.9 .5 .2 .5-.5 .5 .5 2-4.3 1.5-.6 .5 .8 .5-1.9 2-1.9 3-5.9 .5 .8 1.5-1.8 1 1.4 .5 0 .5-.8 1.5 3.7 .5-.2 .5 .8 .5-.3 .5 1.5 .5-.1 1 1.4 .5 1.7 2 2.8 1.5 0 1.5 3.7 1.5 2 .5-.4 .5 .6 .5-.7 1 .2 1 1.7 1-.4 .5 .7 .5-.4 1.5 .6 .5-.4 .5 .5 1-.5 .5-.9 .5 .6 1 0 .5-.6 1.5 1.5 1.5-1.9 .5 1.1 2 1.5 1.5-2.1 1.5 2.5 1.5-2.6 1 2.9 1-.4 1 .6 1-2.1 1 2 .5-.1 1.5-2.8 1 0 .5 .9 .5-.4 .5 .7 .5-.6 .5 1 2-.7 1-1.5 1 .8 1-.4 1 1.2 1-.1 1.5 .8 2-2 1.5 1 .5-.6 2.5 1.7 1 1.2 .5-1.4 1-.3 .5 1.4 1-1.8 1 0 1 .9 .5-1 .5 .5 .5-1.1 .5 1.1 .5-.6 .5 1.1 1.5-1.7 1 .7 1.5-2.6 2.5 2.8 1.5-1.1 .5 .5 1.5-2.2 .5 .1 .5-1.5 .5-.2 1 .9 1.5 .3 .5-.5 4.5-9.2 .5-.1 2.5 8.6 2 3.5 1 .1 1-.8 1 1.7 1 .4 .5-.9 1 .3 .5 .8 .5-.5 1.5 .1 .5-1 1 1 2-.4 3.5-2.6 1-2.6 1.5 .7 .5-1 .5 .1 .5-.9 .5 .2 .5-.5 .5 1.1 1-.2 1.5-2.2 1.5 .1 2.5-2.8 .5 .7 1.5-2.5 .5-.3 .5 .6 .5-.1 2.5-3.9 1-.6 1 .5 2-1.7 .5 .2 1.5-1.5 1.5 2.8 1 .6 1.5 2.3 .5 0 3 6.5 1 .6 .5 1.5 .5 .4 1.5-.2 1 .5 3.5 3.8 1-1.7 1-.6 .5 1.4 .5 0 1.5-2.9 .5 1.1 .5-.5 .5 1.3 .5-.5 .5 1 .5-1.5 1.5 2.3 1-.9 .5 .8 1 .3 1 .1 .5-.8 .5 .5 .5-.4 1.5 2 3.5-2.5 1 .4 1.5 2.2 .5 0 .5-.6 .5 .1 .5-1 .5 .2 .5-1.4 2 3.3 1-.3 1.5-2.2 1 2.3 .5 .1 1-1.1 1.5 1.7 .5-1.2 1.5 .2 1-.9 1.5-2.8 1 1.6 1-.1 2-4.7 .5 .1 1.5-2.5 1 1.7 .5-.5 1.5-3 1.5-1.1 2.5-4 .5-1.9 .5-.1 2.5-5.9 3.5-12.4 1-4.3 1.5-11.3 3-11.4 .5-.3 2 .8 3.5 19.3 3.5 14.1 2 3.1 .5 .6 1-1.4 2-5.4 2-.6 .5 .3 2.5 6.4 2 1.2 1.5 4.7 1 .6 1 2.4 .5-.4 1.5 1.8 .5-1.6 .5 1 1-.1 .5-1.7 .5-.3 .5 1.2 1.5-1.6 .5 1.1 1.5-1.8 1.5 4.1 1-.3 .5 .4 1 2.5 1 1.2 .5-.8 .5 .1 1.5 6.3 1.5-.7 1 .7 1.5 3.4 .5-.2 1.5 1.6 1-1.1 1.5 2.5 1-.7 .5 .4 1-.2 .5-1.5 1 .7 1.5-2.6 .5 .7 .5-1 1.5-.7 1-2 1.5 .8 .5-.3 1.5 .4 4-4.6 1.5 .8 .5-1 .5 .6 .5-.5 2 2.7 1.5-1.4 2 3.6 .5-.8 2.5 3.3 1.5-4 .5 .5 1-.2 2-2.7 2.5-7.8 .5 0 1.5-2.6 .5-.4 .5 .8 .5-1.4 1 1 3 7.9 .5 .7 .5-.1 1 3.4 1.5 .7 .5 1.8 1.5 .9 1.5 3.5 .5-.6 1.5 1.1 .5-.2 1 1.4 3-2.5 1.5 1.3 .5-.2 .5 .4 1.5-2.5 1 1 .5-.8 1.5-.8 .5-1 1.5 .6 .5-1.2 1.5 .8 .5-1.6 1-.2 .5 .5 1-1.2 .5 .4 .5-.4 .5 .5 .5-.3 1.5 1.4 .5-.5 1.5 2.9 .5-1.3 1 .4 3 4.3 .5-1 .5 .3 .5-.4 .5 .6 1-1.1 1.5 1.4 1.5-1.9 1-.2 1 .6 .5-.5 1-2.6 1-1.5 1-.5 1.5-2.6 2.5-1.1 1.5-1.8 1.5 1.4 .5-.1 1 .6 .5 1.1 1-.3 1.5 2.9 1 0 .5 1.5 .5-.3 .5 1.7 1.5-1.3 1 .9 .5-.2 1.5 3.4 1 .1 1 1.5 2-1.9 1 1.4 1 .3 .5-1.2 1 .4 .5 1.2 1.5-2.2 1.5-.9 2-3.1 .5 .3 .5-.9 2-.9 1-1 .5 .3 4-4.8 2.5-11.6 2-14.2 5-53.7 .5-2.1 1-.7 1 2.8 1 7.3 3 30.4 3 21.3 1 1.7 2.5 9.2 2.5 3.3 1 3.1 1.5 2.5 1 3.6 3 5.4 1.5 1.5 1 3 1-1.3 1.5 1.8 1.5-1.8 1 1.4 1 .1 2-3.1 1-.1 .5 .7 1.5-4 .5 1.6 1 .3 1-3.8 .5-.7 1-.1 3-4.9 .5 .7 1 .2 2 1.6 1 3.1 1 1 .5-.1 1.5 2.9 1-.7 1.5 2 1.5 .5 1-.9 2 3.2 1-.3 1-1 .5 .7 .5-.6 .5 .1 .5-1.2 1.5 .3 3 2.1 1.5-1.7 .5 .9 2 1.2 2-1.4 .5 1 .5-1.3 .5 .1 .5-1 1 1.2 1.5-1.1 .5 .9 1 .5 .5-.9 .5 .2 .5-1.5 .5 0 .5 .1 1 2.4 1.5-1.6 1 .3 1.5-.4 .5 .4 1-.4 .5 .8 1 .1 2.5-2.6 1.5 3.4 1.5-.1 .5 .5 2-1.3 1 .8 .5-.6 2-.7 1 1.6 .5 .1 .5-.7 1.5 .1 1-1.3 .5 .1 1 1.7 .5 0 .5-.9 1.5 .9 2-.7 1 1.6 1 .3 1-1.8 1 .4 .5 .9 .5-.8 1 .6 1.5-1.9 2 1.4 1.5-.8 1.5 2.1 .5-1.8 1-.7 .5 1.2 1-.4 1.5 1.8 1-.6 1 .3 1.5-2.6 .5 1.5 1 .7 1-2 1.5 2.4 1.5-1.3 1-.2 .5 .5 .5-.3 .5 1.4 2.5 .7 1-2.8 1 1.1 1.5-1.7 .5 .6 1-.4 .5 .5 1.5 3.6 1.5-4.6 1 2.1 1-.9 2 .9 .5-.5 .5 .7 1-.1 .5-.9 1 .1" stroke="#c8cfdc" stroke-width="1.4" fill="none" stroke-linejoin="round"/>
<path d="M43 379.8l1 1.8 1-.6 .5 .3 1-.5 1-1.9 1.5 .8 .5-.3 1 .5 1 1.2 1.5-1.5 1 .6 1-1.6 2.5 2.3 1-.7 .5 .7 1.5-.9 2 1.7 3-3 2 1.2 1.5-1.4 .5 .3 .5-.3 .5-.8 1.5 1.2 1-1.3 1.5 2.2 1.5 .5 1.5-1.1 .5 1.1 1 .3 .5-.6 1.5 .9 1-1.6 1.5 1.6 1.5-1.1 .5-1 .5 .2 .5-1.1 .5 1.1 .5-.4 .5 .2 1-.7 .5 .1 1-1.4 1 .8 1 0 1.5 1.4 .5-1.3 1-.9 1 0 .5-.6 1.5 1 .5-1.8 1-1.2 1 .5 .5-.8 2 .3 .5-1.1 1.5-.1 1-2.8 1.5-1.8 2-6.4 1.5-2.2 5.5-21.7 2-2.4 1 .6 1 3.2 1 1.4 5 19.5 1 1.4 2.5 8.8 .5-.3 1.5 3.7 1.5 1.4 1.5-.4 3 4 .5 0 1-1.1 2 1.9 1.5-1.5 1.5 .1 .5-.5 2 2.4 .5-.8 2.5-.4 1.5 .9 .5 .9 1-.3 .5-.9 1-.3 .5 1 1 .4 .5-1 .5 .1 1 1.4 2-.6 .5-1.3 1-.1 .5 1.1 2-.7 .5 .6 .5-.4 .5 .4 1-1.8 .5-.1 1 .7 1-.3 1.5 .5 1-.3 .5-.9 1.5-.7 1 .5 .5 1.1 .5-.6 .5 .4 2-2.5 1.5 1.8 .5-.9 1.5 1.2 1.5-1.5 1-.1 2 2.4 .5 .1 .5-1.3 1.5 2.4 1.5-.8 .5 .6 .5-.7 1.5 1.2 1-2.9 .5-.3 .5 .4 1-1.6 1.5-.3 .5-1.3 .5 .1 .5-.7 .5 .3 .5-1.5 .5 .7 .5-.6 .5 .8 .5-2.1 .5 0 1.5-6.5 1-1.2 2.5-11.9 .5 0 3 16.9 3 9.2 1 .6 1.5 2.2 .5-.1 1.5-1.8 .5 .6 2.5-.9 1.5 1.5 1-2.5 .5-.4 .5 .3 1.5-3.8 1 .5 .5-.3 1-2.6 2-3.1 1 0 1.5-.9 .5 .6 1-.7 2-3.8 1-4 1 .2 .5-.8 3-8.6 1 .4 .5-.8 3-7.8 1-1.1 2.5-1.3 .5-.9 4 8.4 2 10.5 1.5 1.6 2 9.2 .5 .3 .5 1.8 .5-.3 .5 .6 .5-.2 1.5 3.3 1 .5 1.5 1.6 1 .5 .5-.6 1 .1 1-1.5 .5 .5 1.5-1.6 1 .2 .5-.7 1.5 .8 1 2.2 .5 .1 .5-1.1 1.5-.2 1.5 2.5 1-1.8 2 .4 .5 .6 2-.1 .5 .6 1 .1 .5 1 1.5-.9 1 1.2 1 .3 2 2.3 1.5-2.9 3 3.6 .5-.8 .5 .3 1.5-.6 1.5-1.3 1 .7 1.5-3.1 .5 .7 .5-.7 2-4.1 2-7.2 .5 .4 1.5-2.1 2-1 .5-.9 3-11.9 2-5.5 2-7.6 3-22.2 5.5-66.9 1.5-8.2 1 .8 1 6.4 5 59.7 3 21.6 .5 .7 .5-.9 1 .4 .5-.4 3-9.9 1-.3 .5 1.2 .5 .1 4 17.2 3.5 10.4 2 2.2 2-3.2 .5 .6 .5-.8 .5 .5 1.5-4.7 .5 1 .5-.5 1 .8 1 3.3 1.5 2 1.5 3.6 1.5 7.7 1.5 3.1 2 8.9 .5 0 1 2 .5 2 1.5 .5 1 2.7 .5 .3 .5-.7 1.5 1.7 .5-1.4 1-.7 .5 1.4 .5-.2 .5 .5 1.5-4.3 1-1.4 .5 0 1.5-3.8 .5 .4 1.5-3.6 .5 .5 1-.8 1.5-.3 4.5-8.1 1-.8 .5 0 2.5 4.3 1 3.2 2.5 4.5 1 .6 .5-.8 1.5 1.4 1.5-1.3 1-1.8 1.5-7.4 2-6 3-17.3 1-3.3 2 2.7 1 2.6 2 11.7 3.5 15.8 2.5 4.5 1.5 4.2 1.5 .4 1 2.5 1-.1 1 2.1 1.5 .1 .5-1.3 1-.9 1 1.1 1-1.1 .5-1.6 1-.6 .5 .8 1.5-3.7 .5 .5 1-1.3 .5 .1 2.5-4.3 1.5-1.6 .5 .1 3.5 3.6 1.5-1 1.5 5 1 1.6 .5-.1 .5 1.1 .5-.2 1.5 3.4 1-1 2 1.9 .5 1.3 3-4.3 1 .1 .5-.9 .5-2.1 2.5-5.3 1.5-6.7 2.5-6.4 1.5-2.8 1-.2 1 .1 1.5 4.8 1.5 1.5 2 5.5 1 1.8 1 .9 .5-1.2 1.5 3.6 1 .9 1.5 5.5 1.5 .6 1.5 3.3 1 .7 .5-1.1 1.5 .6 1-1.3 .5 1 1 .2 2-1.8 1-1.7 1.5-4.6 1.5-1.9 .5 .4 1.5-2.2 2 1.2 2.5-8 1.5-8.3 2-18.9 2-26.9 4.5-102.9 1-14.2 1-5.6 1.5 17.2 3.5 77.9 3 40.1 3.5 18.1 2.5 8.7 1 1.7 2 11.1 6 19.5 .5-1 1.5 2.1 1-.5 1 1.2 1.5-2.2 .5 1.3 .5-.5 .5 .2 .5-1.4 1.5-2 1.5-4.5 1.5-1.3 2-9.2 1-2.2 1-1 1.5-3.7 1.5-.1 1 1.3 1 3.6 1 1 1 2.7 2 7.6 2 3.2 1 .4 2 4.2 2 1.3 1-.7 1.5 2.7 2-2.1 1-.1 1.5 1.2 .5-.2 .5 .3 1.5-.9 1 .3 1.5-2.2 1-.3 1.5 2.9 1-.7 1.5 .2 1.5-3.1 .5-.2 1.5 1.7 2-1.5 1.5 1 .5-.6 1.5 .6 1.5-2.2 1-.6 1 1 1-.6 2 3 1-.3 .5-.9 1 1.2 1.5-.9 1 .8 1.5-.4 3 1.5 2-2.7 1.5 2.3 1.5-1.3 1.5 1 .5-.3 1.5 1.8 1.5-1.1 .5 .5 .5-.5 .5 .9 3-1.4 3.5 .9 1-1.4 1-.3 1.5 2.4 1-.9 .5-1.3 .5 1.3 1 .5 2.5-2.9 .5 1.2 .5-.4 1 .3 1 1.1 1-.5 1.5 3.3 3.5-2.9 1 .4 .5 1 .5-.4 1 .8 .5-.5 .5 .3 .5-.9 .5 .9 .5-.3 1 .7 5-2.3 1 .5 1 1.5 .5-.4 .5 .6 .5-1.1 .5 .4 1-.2 .5 1.3 .5 .1 1.5-2 .5 .9 .5-.5 .5 .4 .5-.9 1 .9 .5-.3" stroke="#3a5cba" stroke-width="1.4" fill="none" stroke-linejoin="round"/>
<path d="M43 379.6l1.5 1.6 1-.4 1.5 1.5 1-1.5 1 .5 .5-.8 2.5 1.4 .5 0 .5-.8 2.5 .5 1-1.5 .5 1.4 1 .7 .5-1.3 1 .6 1.5-1.5 1.5 1.8 .5 0 1.5-2.3 1 .7 1.5-.3 1.5 .3 1-.1 .5-.9 .5 .9 .5-.1 .5 1.2 .5-.9 .5 .5 .5-1.4 .5 .8 1 .1 1-1.1 3 2.1 .5-1 .5 .4 .5-.7 .5 .6 .5-.7 1.5 1.1 2-1.3 1 1.4 .5-.5 .5 .5 .5-1 .5 .9 .5-.6 .5 .3 1-2.5 2-.3 .5 .8 1 .4 4-4.1 .5 .7 .5-.2 .5 1.1 .5-1 .5 .3 .5-1.2 1-.2 1.5-2 1.5-.4 1 .8 1.5-4.3 2-3.9 .5 .7 1-1.5 .5-1.7 6-29.5 3-12.2 1.5 2.3 1 .7 6.5 34.1 3.5 12.1 3 5.3 1-.5 1.5 2.4 .5-.8 .5 1.4 .5-.4 .5 1.6 .5-.7 1 .8 .5 1.5 .5 .2 1.5-1.6 1 .5 1-.9 1.5 1.3 1 .2 1.5-1.5 3 2.6 1.5 .3 1 .9 1-.8 .5-1.1 .5 .9 1.5 .9 1.5-2.3 .5-.1 .5 1 1 .7 .5-.6 .5 .4 1.5-1.2 1 .5 1-1 .5-1.5 .5 .6 .5-.6 .5 1.3 2-2.1 .5 .7 .5-.7 1-.2 .5 1.9 1 .5 .5-1.4 1.5 .4 .5-.6 1.5 .7 .5 1.4 1-.3 .5-1.8 1.5 1.4 1-.7 1.5 1.2 2-.5 1.5 1.2 2-.2 .5 1 .5-.7 1.5-.1 1-1.6 1 .6 2-2.8 1.5 .1 1-3.2 2 0 .5-2.1 1-1.3 .5 1.1 2-4.2 3.5-22.1 .5-2.5 .5 0 3 22.3 2.5 12.2 1 2.3 .5-.4 .5 1 .5-.4 1.5 2.3 3-2.5 .5 .4 .5-.6 .5 .9 1.5-2.1 .5 .3 1-.6 1.5-3.7 1.5-.4 2-5.9 .5 1.1 1.5-3.6 1 .5 1-2.6 1-1.3 1.5-.9 3-11.5 3-7.3 4-13 2-1.4 1.5-3.3 1.5 .7 .5-.4 1 3 5 26.3 3.5 14.9 2 5.2 .5-.1 1.5 2.1 1-2 1.5 2.7 1.5-2.6 .5 .4 1-.3 2-2 1 1.3 1.5-.8 1 1.5 1.5 .6 .5 1.8 .5-.3 .5 .5 .5-.4 .5 .6 1.5-.2 1-1.3 .5 0 1 1.2 .5-.3 .5 .7 .5-.8 1.5 .5 1.5-.5 1 2.1 1.5-.4 2.5 3.5 1.5-1.6 2.5 .6 1.5 1.8 1-.6 .5-1.1 2 0 2-2.6 1.5-4.1 .5 .2 1.5-7.4 1.5-3.7 3.5-5.5 .5 .3 1-3 2.5-13.2 1.5-4.4 3-16.1 2.5-26.7 5-80.6 1-9.9 .5-2.2 .5-.1 1.5 9.3 6 92.7 1 9.5 1 4.7 1 2 .5-.1 .5-1.2 2.5-14.8 .5-2.1 1-1.5 1.5 2.2 2 5.4 4 22.1 1.5 5.5 2 1.9 .5-.3 .5 .4 1.5-3.4 1-.7 3-6.7 1 3.6 1.5 3.2 6.5 34.9 1 2.4 .5 0 2.5 7.9 1 1.1 .5 .1 .5-.7 1 .2 .5 1.1 3-3.1 5.5-12.9 .5-.8 1 1.2 .5-.5 1-2.5 1.5-1.5 1.5-4.9 3-7.1 2 2.6 4 12.7 2 4.1 1 .4 .5-1.5 .5 .2 1.5-1.4 2.5-7.5 5-34.7 1-4.5 .5-.3 1 .7 1 2.7 4 30.5 3 12.9 2 7.1 1.5 1.7 1 2.7 1.5 .6 1.5 3 .5-.7 1.5 1.5 .5-.1 1.5-2.2 .5 .1 2-4.6 .5-.5 .5 .7 .5-.2 2.5-6.5 4.5-7.3 1 1.6 1 0 .5 .5 1.5 4.8 2.5 4.4 1.5 4.2 1 .1 1 1.8 .5 .1 .5-.7 2.5 4.3 .5 .1 1.5-1.1 2-3.6 2.5-8.1 1.5-1.9 2-12.7 2-8.1 1.5-3.6 .5 .4 .5-.9 1 2.1 4 15.6 1.5 1.2 .5 1.2 1.5 .5 .5 .7 3 11.7 1.5 3.7 1 1.7 2-1.5 2 2.6 .5-.8 1 0 1.5-3.1 1 .5 .5-.2 2.5-8.1 2-3.9 .5 .7 1.5-1 .5 1.4 .5 0 1.5-1.7 2-8.6 1.5-12.5 3-45.3 5.5-160.4 .5-9.6 1-6.7 1 12.7 4.5 127.8 2 35.5 2 18.9 3 15 1 3.6 .5 .3 1 2.5 6 37.7 1.5 1.2 1.5 3.1 1 .6 4-.8 1-1.7 2-1.7 1.5-3.7 2-7.3 3.5-16.4 2.5-5 1 3 1 1.5 .5-.2 2.5 12.4 4.5 16.4 1 1.8 .5-.1 .5 .7 1.5 .2 .5-.4 1 1.7 1.5-1 .5 1.5 .5-.1 1-2.2 1 1.7 1.5-1.7 1 1.4 1-1.5 .5 .5 1.5-2.7 1.5 2.1 1-.2 1-1.7 2 1.7 .5-1 .5 .2 1 1.7 1-1.3 .5-1.9 1 .7 .5 1.7 .5 .1 1-2.7 .5-.4 1 .7 1.5-2.1 1 .9 1 2.5 1-1.6 1-.6 1.5 1.4 .5-.6 .5 1.2 1 .7 2-1.3 2 1.9 1.5-.8 .5 .7 .5-.5 .5 .3 .5-1.8 .5 .9 .5-1.4 .5 1.3 1-.1 1-1.2 1 1.4 .5-.6 1 0 1.5 2.1 .5-.6 .5 .4 1 1.7 2-2.2 .5 .9 2.5 1.2 .5-.9 1-.5 1 .8 2 .4 .5 .8 1.5-3.2 2 2.3 3-1.6 1 1.1 1.5-.8 .5 .4 .5-.9 .5 1 .5-.6 .5 .8 .5-.9 1 .7 .5-.4 .5 .8 .5-.7 .5 .3 1-.4 .5 .7 .5-.3 .5 1.1 1 .1 .5-1.3 1-.5 1 1.5 1-.5 1.5 .7 .5-.3 1 1.6 1.5-1.9 1 1.5 1-.4 .5-1 .5 .3 .5-.6 2 .7 .5-.6 .5 .5 .5-.5 .5 1 1.5-1.5 1.5-.5 .5 .4 .5-.2 1 .9" stroke="#3554b4" stroke-width="1.4" fill="none" stroke-linejoin="round"/>
<path d="M43 380.1l2 1.4 2-1.2 .5 .1 1-1.4 .5 .1 1.5 2.7 1.5-.8 1 .9 1.5-2 1.5 2.1 1.5-2.9 .5 .9 1 .3 .5-.7 1.5 1 1-.7 1 .4 1.5-.8 1 .5 .5-.9 .5-.1 1 1 1.5-1.4 1 0 1 2.1 .5 .1 1-1 1 0 1-1.6 1 .4 .5 .9 1.5-.6 .5 .9 .5 0 1-1.2 1 .8 1-.5 1.5-1.7 1 .5 1.5 1.9 1-.8 2-.3 1.5-1.7 1 .5 1.5-.8 .5 .6 1.5-2.2 .5 .7 1.5-1 .5 .3 1.5-1.8 .5 .7 1-.9 .5-1.5 1 .2 2.5-3.7 1.5-.9 2-3.4 5-13.9 2.5-10.7 3-6.4 2-.5 2 3.8 2 8.4 7 22.9 1.5 1.9 1 3.7 1.5 .7 .5 1 .5-.9 1.5 2.8 .5-.5 .5 .6 1 .5 1-.3 .5 .5 .5-.7 .5 1.1 .5-.5 .5 1.8 .5-.9 .5 1.3 .5-.5 .5 1 2.5-1.9 .5 1.2 1.5 1.5 1-.6 .5-1.4 .5 .9 .5-.4 .5 .4 .5-.4 1 .2 1.5 1.7 1.5-2 2 1.5 1.5-1.8 1 1.5 1.5-1.6 1-.4 1 .2 .5 .9 1-.2 .5-1.5 .5 .7 1-.3 1-1.2 .5 .8 2 .6 1-1.2 2 1.4 3-.9 .5 1 .5 .1 1-.9 1 .9 2-.1 .5 1.1 .5 0 .5-1 1.5 1.6 .5-.9 1.5 .2 1.5-1.4 1.5 2.1 1.5-2.2 1.5-.4 1.5-2.1 1.5-.4 3-5.1 .5-1.7 1-.3 .5 .4 1-1.6 3.5-14.6 1-3.3 .5-.3 4 21.1 2.5 6.5 .5 .1 2 3.4 1-1.5 1.5 2.8 2-4.2 .5 .1 .5 1 1-.4 1-2.2 1 .3 2.5-5.7 1-1.1 .5 0 1.5-5 1.5 .1 1-2.2 1-.7 .5 1 1-1.3 3-7.2 1-1.1 4.5-12.2 .5-.7 .5 .5 1-1.1 1.5-4.4 .5-.6 1 .8 1.5-2.5 1 2.4 1 .8 1 2.9 2.5 8.2 2 9.3 1.5 3.7 1.5 5.6 2 4 .5 .1 1.5 2.1 .5-.5 1 .3 3.5 1.7 1 0 .5-1.8 .5-.1 1.5 2.4 .5-.7 .5 .6 .5-.7 .5 .9 .5-.6 1.5 2.1 2.5-.1 .5 1 1.5-1 .5 1 1.5 .9 1.5-2.1 1.5 2.4 2 .2 1-1 1 .5 1.5 2.3 1 .2 .5 .9 1.5-1.3 1 1 .5-.8 2.5-.7 .5 1.7 .5-.1 .5 .6 2.5-5 .5 .4 .5-.7 .5 .3 .5-.9 2.5-11.2 3-7.5 1-.6 2-4.6 1.5-8.2 1.5-3.2 3.5-16.8 2.5-19.9 6-63.8 1-5.9 .5-1.3 .5-.1 .5 .3 .5 2.3 2.5 21.8 3 36.2 2 14.1 1.5 7 1 1.3 3-7.4 .5-2.4 1-.6 1 .4 7 29.8 1.5 4.5 1 .3 1 1.4 .5 2 .5-1.2 .5 .7 .5-1.6 .5 .9 .5-.8 1 0 .5-.6 .5 .4 .5-.5 .5 1.5 .5-.1 .5 1.4 .5 .1 2 4.8 .5 0 2 6 1.5 6.8 3 7.3 1 4 2 3.4 1 1.1 .5-.1 .5 1.3 1-.4 .5-1.5 1.5 1.8 2-3.8 .5-.3 1.5-4 1-.9 2-4.7 1.5-.3 2.5-5.7 1.5-1.3 1-1.7 .5 .1 1.5-2.1 1 1.4 .5-.2 1.5 1.1 2 4 .5 .1 2.5 7 2 1.3 1.5-4.6 .5 .3 2.5-7.8 4.5-20.7 1-2.5 1-.5 1 .5 .5 1.2 3 15.8 1 4.2 .5 .5 1 3.3 .5 4.1 1 3.5 4 9.1 1 .5 .5-.3 2 2.8 .5-.3 .5 .9 .5-.4 .5 .6 1.5-1.4 .5 .5 .5-.4 .5 .4 3-5.2 1.5-.5 1.5-1.5 1-2.7 1.5-.1 1-2 3 .7 4 7.2 .5 .5 .5-.2 .5 1.2 .5-.2 1.5 1.7 .5-.2 1 1 .5 1.7 1 .4 1.5-2.8 1 .6 1-.5 1-1.5 3.5-11.3 1.5-2.3 1.5-7.2 3-4.5 1-.3 3 4.4 1.5 4.4 1.5 1 .5 1.4 3 3.4 2 8 .5 1.4 .5 .1 2.5 7.3 .5 .3 .5-1.8 1-.2 2 2.9 1-2.6 1.5-.1 2-6 2-2.2 2-6.9 1-1.1 2.5-4.9 2-6.8 1-6 3-32.8 1-16.1 5.5-129.4 1-12.5 1-4.6 .5 2.3 1 15.2 4 88.6 2.5 36.8 4.5 34 4.5 23.8 1.5 11.3 4 16.7 .5-.6 1 .1 1 1 .5-.2 1.5 3.1 1-1.2 1-2.7 2-3.4 .5 .1 2-4.1 3.5-12.5 2.5-5.3 1-1.3 1.5-.1 2 3.5 2 4.9 2 8.4 .5 .2 2 5.8 2 1.8 .5 1.5 1.5 1.7 1.5 .2 .5-.5 1.5 1.6 1.5-1.5 .5 .3 .5-.4 .5 .7 .5-.4 1 .2 1 1.4 .5-.5 .5 .3 .5-1.5 .5 1 .5-.8 .5 1.2 .5-1.7 1-1.3 2 2.3 1-1.1 .5-1.5 1 1.2 .5 0 1-1.9 .5-.1 .5 1.3 .5-.7 .5 .3 .5-.6 1 0 .5-.7 1.5 1.6 1-.8 1 1 2.5-.7 .5-1.3 .5-.2 1.5 1.8 .5-1.5 1 1.3 .5 1.8 2-.9 .5 .3 .5-.5 .5 1.3 .5-.2 .5 .4 1-2 1 .7 1.5 .2 .5 .8 1-.1 .5-1.9 1-.6 1 2.6 1.5-1.8 .5 0 .5 1.2 1 .4 .5-.7 1 2 .5 .2 .5-1.1 .5-.1 1 1.3 .5-.5 1.5 .8 1-.2 1.5-2.1 .5 .9 2-.6 .5 1.5 .5-.2 .5 .6 2.5-1.7 1 .4 .5 1.2 1-.4 .5 .3 .5 1.2 1.5-3.9 1 .3 1 2 1.5-1 3 2.7 1.5-2.6 1.5 2.1 1 .6 1-.5 1-1.6 1.5 2.3 1.5-.7 1.5 1.2 1-.5 1.5-2.9 1.5 .2 1.5 1.5 .5 .1 .5-.7 .5 1.1 1 .2 1-1.4 1.5 .7 2.5 0 .5-.8 1 .2" stroke="#c1c8d6" stroke-width="1.4" fill="none" stroke-linejoin="round"/>
<path d="M43 381.3l1 .2 1-2.3 1 1.9 1 .1 .5-1.3 .5-.3 .5 .5 1 0 .5-.7 1.5 3.8 1-2.8 1.5 1.2 1 0 1-2.4 1 2.4 1-.2 .5-1.4 1 .6 .5 1.1 .5 0 .5-.7 .5 .8 1 .2 .5-1.1 4 .2 1.5-1.6 .5 .3 .5-.8 1.5 1.5 2 .2 1-2.1 2.5 1.7 .5 .9 .5 .2 1.5-.6 .5 .5 1.5-.9 1.5 1.8 2.5-3.3 1-.2 1 .8 .5-.7 .5 .7 .5-.8 .5 .6 1-.4 1.5-1.8 .5 .7 2-1.7 .5 .8 1.5-1.8 .5 1.1 1 .5 1.5-2.7 .5 .3 2-1.6 1.5 0 2-3.6 .5-.1 4-8.8 4-11.3 2-9.4 1-.9 .5-1.9 1-6.6 .5-1.2 1.5-.1 .5-.6 1.5 4 1 .5 .5 1 1.5 8.4 .5 0 1 3.6 3 15.2 .5 .1 1 1.7 .5 2 .5-.3 1 1.6 1 3.8 1.5 2 .5 1.7 2 2 .5-.2 3 3.2 1.5-.2 .5-.7 .5 1.2 .5-.4 .5 .6 .5-.1 .5 1 1-1.6 .5 .1 1 2.9 2.5 .2 .5-1.2 .5 1.2 .5-.6 .5 .7 .5-1.2 .5 1 1-1.5 1-.3 .5 1.3 .5-.3 .5 .7 .5-1 1-.3 .5 .9 1.5-.1 .5 .7 1.5-2 .5 .3 1-1.1 3 1.5 1.5-2.1 .5 1.3 .5-.7 .5 0 .5-1.1 1.5-.3 1.5 .9 .5-.9 .5 1 .5 0 .5-.1 .5-1 1 .6 .5 1.4 .5-.3 .5 .3 1.5-1.4 2.5 2.3 1.5 .8 1.5-2.1 .5 .6 1-.3 .5 1.2 1 .7 1.5-1.3 .5 .2 .5 1.6 1-.3 .5-.9 .5 0 .5-1.5 2-2.8 1.5-.4 6.5-9.4 2-6.7 2-10.4 1-1.4 1 2.4 3 17.9 3 10.4 1 .7 1.5-1.4 .5 1.2 .5-.6 .5 .7 .5-.6 .5 .8 1-.2 2.5-2.9 1-2.2 .5-.5 1 .6 2-5 1.5-1.8 2.5-4.9 .5-.1 2-4.4 1-.8 .5 .4 1.5-3.6 1-.9 1-2 2-7.3 3-6.9 .5-1.1 1-.6 1.5-5.7 .5-.6 .5-.2 .5 .4 .5-.4 1.5-2.4 .5 1.9 1 1.3 .5-.5 1 2.9 3.5 16.5 3 10.9 1 3.1 1 .7 1.5 5.2 2 3.3 .5-.3 1 .9 .5 1.3 .5-.3 .5 .4 2-3.4 1.5 3 .5-.4 .5 1.4 .5-1.1 1-.4 .5 .4 1-.7 3 3.9 .5-.6 .5 .6 1.5-1.1 1 2.8 1.5-1.2 .5 .4 1-1.4 1.5 1.5 .5-.3 1.5 1.7 1.5-1.9 1 .9 1 2.4 1 .4 1 1.4 1.5-1.9 1 1.4 2-1 .5 1.2 .5-.1 1.5-2.5 .5 .3 3-4 2-7.1 2.5-12.7 3-6.1 1.5-4.2 5.5-29.8 2.5-17.3 1-11.9 5.5-77.6 1.5-11.1 .5-2.8 .5-.1 1.5 4.6 .5 4.9 4 55.8 3 29.9 1.5 4.7 .5 1 .5-.3 1-2.7 2-9.3 1-1 1 .8 4.5 23.9 3 13.7 2.5 8.9 1 .8 1-.3 1-1.6 2 .3 1.5-1.4 4.5 12.3 3.5 18.1 3 7.6 2 8.1 1 .9 1-.3 1.5 3.7 .5 .1 1-1.8 .5-.1 .5 1 .5-.7 1.5-4.3 1-1.4 .5 .5 1.5-3.5 .5 .7 3-8.1 1-1.1 1-.2 2.5-3.6 1-.3 1.5-3.8 1.5 2.1 1-.4 3.5 8.1 1.5 1.5 1 2.4 1 .3 2.5-5.2 3-11.2 3.5-18.2 1-4 1-1.5 1.5 3.6 2 9.1 3.5 20.2 1.5 3.9 1.5 6.4 2 2.8 .5 1.9 2.5 3.9 3 .6 1 .7 1.5-3.6 2 .1 1.5-3.7 1-.7 1.5-2.3 .5 .1 1.5-3.2 1.5 .7 .5-1.3 .5 .4 .5-.9 2 1.9 .5-.2 2.5 4.7 .5-.1 1 .8 2 5.9 1-.8 2 3.4 1-.3 1-1.3 .5 .8 1-.2 1.5-2.1 .5-1.6 1.5-1.6 2.5-10.2 3.5-10 1-4.8 .5-.5 1 .4 1-1.3 .5 1.1 .5 .1 4.5 11.4 2.5 2.1 3.5 11.6 2.5 6.3 2.5 2.2 2-1.5 .5 .5 2-.7 2-2.2 1-4.7 1-1.7 1.5-6.2 2.5-5.4 .5-.1 2-4.8 2.5-12.2 3.5-45.9 5.5-134.1 1-15.2 1-6.3 1 6.6 1 17.3 4 92.1 3.5 44.6 3.5 22 3 14.9 3.5 24.7 2 9.9 2 4.7 3 1.3 1.5 1.6 2-2.5 3-6.2 2.5-9.7 5-14.3 .5-.2 2.5 3 .5-.2 4 13.1 1 4.7 2.5 5.1 1 3.6 1 1.3 .5-1 1.5 2.3 .5 .1 .5-.8 1.5 1.5 2-.3 .5 .7 .5-.6 1.5 1.4 2-1.3 .5-1 1.5 1.9 1.5-1.7 .5 .2 1-.8 .5-1 1 .1 1 1.3 1.5-.6 .5 .5 2-2.6 1.5 1 .5-1.4 1-.1 1 1.1 1 .3 1-.4 .5 .3 1.5-2.1 2 3.4 1.5-2.2 1.5 .9 1.5 .1 1.5 1.2 1.5-.8 1 1.5 .5 .1 1.5-2.2 1-.3 .5 1.4 1 .6 1-1.5 1 .2 1 1 1-.4 2 1.3 .5 1.6 1.5-1.4 1 .1 1.5 1.5 1-1.2 .5 .5 .5-.9 .5-.1 .5-1.8 1 .5 1 1.6 1.5 .3 .5 1.2 1-.6 .5-1.1 1.5-1 1 2.4 .5 .1 .5-1.7 1.5 1.6 2.5-1.3 1 .1 1 .9 1.5-1.4 1 2.1 1 .6 3-2.1 .5 1 1 .1 1-1.3 1 1.2 2-.8 1.5 2.2 .5-.9 2-1.2 2 1.2 1.5-.5 1.5 .8 1.5-3.1 1.5 3.3 2.5-1 .5-1.1" stroke="#c1c8d6" stroke-width="1.4" fill="none" stroke-linejoin="round"/>
<path d="M43 381.4l3-2.2 .5 1.1 1 .3 .5-1.1 2 2.6 1.5-1.5 1.5 .5 1-1.2 .5 .5 .5-.4 1.5 2.1 .5 .1 1.5-.8 .5-.7 1 .5 1.5-2 1.5 2 .5-.9 1-.5 1 1.7 1 0 2-1.4 .5 .2 .5-.4 .5 .4 1-1.2 1 .6 .5 1.3 .5-.6 .5 1.3 2.5-1.4 .5 .4 .5-2 1 1 .5 1.9 1.5-.2 1-.9 1.5 1.2 1.5-1.8 1-.1 .5-.6 1 .3 .5 1.3 .5 .2 .5-.1 .5-1.1 .5 .6 .5-.9 1 0 1 .8 .5-1.6 1-1.4 .5 1.3 1 .5 .5-.9 1.5-.7 .5-1.4 .5 .4 1-1.2 1.5-.8 1.5 .5 1-.4 1.5-1.9 2-1.3 .5-1.4 1.5-.9 .5 .6 1-1.5 2.5-6.2 1.5-6.2 2-5 2-7.5 .5-1 1 .1 1.5-2.8 1 .4 2 5.5 4 16 .5-.3 1.5 5.3 .5 .1 1 2.1 .5 2.3 .5-.1 .5 1.3 .5 .1 1.5 3 1-.8 .5 .7 1 3.4 1-1.6 .5 .2 2 1.5 1.5 .4 1 1.2 .5-.8 2.5-.7 1.5 1.8 1-.5 .5 .8 1.5-.1 .5 .8 1.5-1.3 1 1.2 1-.1 .5 .9 1-.6 .5-1.7 .5 .2 .5-.6 1.5 1.1 .5-.6 1 1.2 .5-.1 .5-1.3 .5-.2 2 .5 1.5 1.4 1-1.4 1 0 1-1.2 1 1.3 1.5-1.3 .5 .6 .5-.5 2.5 .6 2-.4 1 1.3 1.5-2.1 1 .7 .5-.8 .5 .5 .5-.5 1.5 1.6 1-.2 1 .7 1.5 .1 1-.7 1 1.1 .5 1.9 1-.8 .5-2.1 1 0 .5 1.2 1-.1 1-1.5 1 .1 .5 1.2 1.5-2.8 1.5-1.4 1.5 0 1.5-3.9 .5 .7 1-1.1 2.5-6.9 1.5-6.9 1.5-3.8 .5 0 .5 .1 .5 2 3.5 17.9 2 4.2 2 .5 1.5 2 3-2.9 1 1.7 1 .3 .5-.7 .5 .3 1.5-4.2 1.5 .5 1-3.3 1 0 1-3.1 2-1.1 1-1.4 1-.5 1-2.6 1.5-.5 3-5 1.5-4.5 .5 .1 1-1.5 1.5-3.8 3-5.4 1-.3 1.5-1.4 .5 .5 .5-1 .5 .9 .5-.4 1.5 .6 1 1.8 2.5 8.2 2 8.7 1.5 3.4 .5 2.4 1.5 2.7 .5 2.1 1.5 .2 1.5 3.9 1 0 .5-.7 .5 .5 .5-.1 .5 1.1 .5-.8 .5 .4 .5-.4 .5 .3 1-1.3 1-.2 1-1.8 2 2.1 1 .2 .5-.7 .5 .5 .5-.3 .5 1.1 .5 0 1.5 1.9 1-.7 2 .5 .5-1.1 .5-.1 1.5 .9 .5-.2 .5 .8 1-.7 .5 .2 1 2.2 .5-.1 .5-1.5 1.5 .8 .5-.4 1 1.1 .5 1.7 1-1 .5-1.4 .5 0 1 2.5 1-.7 1 1.1 1-.9 1 1.5 1.5-2.7 .5 .5 1-.1 2-4.7 1-1 2-6.3 1-.6 1-2.6 1.5-.2 1-1.6 3-8.4 2-8.3 2.5-6.7 1-4.4 2.5-19.9 5-51.7 1-5.5 1-.9 1.5 6.6 4.5 45.8 3 19.9 1 2.1 1 .7 .5-.1 2-6.4 .5-1 1.5-1.2 2.5 6.8 5.5 18.1 1 1.1 .5-.7 1.5 2.3 .5-.9 .5 .7 .5-.6 .5 .5 2-5 1-.3 .5 .9 1-.3 1.5 3.3 1 .5 2 4.2 4 14.6 2 2.5 1 3.7 1 1 1 2.1 .5-1.2 .5 .2 1 1.8 2 1.8 2-1.9 2-3.1 2.5-6.5 .5 0 .5-.9 1.5 2 1.5-4.8 1-.9 1-.1 1-1.4 .5 .5 .5-.4 1.5-4.1 1.5 .4 1 1.7 1-.1 2.5 7.2 .5 .7 .5-.4 1 .8 2 3.3 2-3.3 2.5-6.5 5-19.8 1-2.6 1-.1 .5 0 2.5 7.7 3.5 14.2 3 9.7 3 5.2 1.5 .5 1 1.3 1-1.1 .5-2 1.5 4 1.5-1.4 .5 1 1 .3 1.5-3.5 1 .2 1-2.5 .5 .1 1-1 1.5-2.7 .5 .6 .5-.7 .5 1.1 .5-1.6 .5 .8 .5-1.4 .5 .5 .5-.7 .5 .3 .5-.8 1 .3 1.5 3.8 .5-.4 .5 .6 1 2.5 1-.6 .5 .3 .5 1.3 1.5 .6 2 3 .5 .4 1-.3 1.5-1.8 1.5 .5 .5-1.4 2-.8 6-16.2 2-2.9 .5-.5 1 .2 .5-.7 1 1.2 .5 1.6 1 .4 1.5 5.2 1.5 1.7 1 2.3 .5 .5 .5-.5 .5 .5 3.5 5.6 .5 1.6 3 4.2 1.5-.4 .5 .5 2-1.2 2 1 4-8.6 1-1.2 .5 .3 .5-1.1 .5 .1 .5-.9 .5 .4 .5-.5 .5 .4 2-3.5 2-5.2 1.5-9.3 3.5-40.3 5-95.4 1.5-10 .5 1.5 1 11.9 4.5 82.8 2.5 24.4 .5 3.6 5 19.3 3 8.5 1.5 10.2 1.5 4.5 .5 .4 .5 3.1 1.5 3.7 1 .4 .5-.7 .5 .6 .5-.7 .5 .5 .5-.2 .5 .9 1.5-1.6 .5 .5 .5-.1 .5 1.3 2-4.5 .5 .5 1-1.9 3-8.9 1-2.3 .5 .1 1.5-5.1 .5 .4 .5-.3 1-1.5 1-.5 1 .9 1.5 3.8 .5-.3 3 9.6 .5 1 .5-.1 1.5 4.3 1 .9 1-.2 1 2.1 2.5 1.8 .5-1.3 1-.5 .5 .9 1-.5 2 .7 .5-.3 1 2 .5 .2 1-2.1 1 1.6 1-.5 .5-1.1 .5 .3 1.5-.2 1 .9 1.5-1.4 .5 1 1-.1 1.5-1.9 2 1.9 1.5-1.6 1 1.4 .5-1.2 1.5-.9 .5-.9 1.5 1.9 1.5-.7 .5 .4 .5-1 .5 .8 .5-.5 .5 .8 1 0 1 1 1.5-2 1 1 1-.1 1 1.3 1-.8 2.5 .1 .5 .5 .5-.5 1.5 1 1-1.3 1.5 .9 2-.6 .5 .3 1-.4 .5-1 1.5 2.5 .5-.7 1.5 1 2.5 .5 1-.7 1 .8 1.5-2.1 1 .4 1.5-.2 1 1 .5-.5 .5 .8 .5-1.3 .5 1.5 .5-.8 .5 1 2-1 1.5 .8 1-2.4 1.5 2.9 .5-2.2 .5-.5 1.5 2 2.5 1 .5-2.3 1-1.2 .5 .4 1-.4 1.5 2.3 1-.8 1 .9 .5-.2 .5 .5 1.5-.9 1 1 1-1 1 2 1.5-1.4 .5 2.1 1.5-3.4 .5 2.5 1.5-2.3 2.5 3.3 1.5-4.1 .5 .6" stroke="#c4cbd8" stroke-width="1.4" fill="none" stroke-linejoin="round"/>
<path d="M43 379.8l.5 .8 1.5-.1 1 .8 .5-1 .5 .4 .5-.6 2-.1 .5-.7 .5 .9 1.5-.8 .5 1.1 .5-.4 .5 .6 1.5-.9 1.5 .3 .5-.6 1 .8 .5 1.4 1.5-2.7 .5 1.5 1.5-2.2 1 1.7 1 .1 .5-.9 1-.1 .5 1.6 1-.3 .5-1.4 1.5 .1 .5-.7 1 1.7 1.5-1.3 1 .6 1 0 .5-1.4 2 2.2 1.5-2.2 1 1 1-1.5 .5 0 1.5 2.6 .5 .1 1-1 1 .7 2-1.4 1 .7 1-.5 1 .4 1-2.4 .5-.2 .5 .9 1.5-1.4 .5-.1 .5 1 1 .3 1.5-3.4 .5 .4 1-.6 .5-1.2 2-.1 1-2.1 .5-.3 .5 .7 1.5-2.3 .5 .8 3-5.3 4-11.7 6-29.6 1-1.9 2-1.7 .5 .6 1.5 5.7 4.5 22.8 5.5 19.5 2 4.4 1.5 1 .5 1.5 1 1 .5-.2 .5 1.1 1.5 .1 .5 1.6 1 .1 .5-1.2 1.5 2.5 1.5-.5 .5-1 1 0 .5 1.3 1-.2 .5-1 1.5 2.8 1.5-2.1 .5 2.2 .5 .2 1.5-2.8 1.5 3 .5 .2 1.5-2.5 1.5 1.7 1-.7 .5-1.2 2-1.3 .5 1 1-.2 .5-1.4 .5 .6 .5-.2 .5 1.2 .5-.8 .5 .6 .5-1.8 .5 .1 .5-.7 .5 1 1.5-.2 2 1.3 1.5-1.1 1.5 .2 1.5 1.3 1.5-1.6 .5 .4 .5-.4 1.5 2 1-1 .5 0 .5 1.4 1 .1 1-1 2 1.6 1.5-.5 1.5 1 2.5-.1 1.5-3.3 1.5 .9 .5-2.2 .5 0 .5-1.3 .5 0 .5-1.3 2.5-1.7 1-1.9 .5-2.3 1-2.1 .5-.1 1-3 2.5-16.4 1-4 .5-.2 1 3.7 3 22.3 1 4.1 3 7.2 1 1.2 .5-.9 .5 .5 .5-1.2 .5 .3 .5-.3 1 1.6 2-3 .5 .5 1.5-3.2 .5 1 .5-.2 1-3.6 2-3.2 3-7.6 1 .7 .5-.9 .5-.1 2-4.3 .5-.1 1-1.9 3-9.7 2-4.3 1.5-6.8 2-5.4 2.5-4.6 1-3.2 .5-.1 .5 .6 1-2.3 .5-.1 2.5 7.7 3 18.2 .5-.3 1 4.9 .5 4.6 1.5 4 1.5 7.2 .5 .3 1.5 4.9 .5 .4 .5-1.3 1 1.8 1 .7 .5-.3 .5 1.6 1 .6 1.5-2.6 .5 1.3 1 .6 .5-1.2 1-.8 1 1.5 .5-.1 .5-1.3 1.5 2.3 .5-1.2 .5 .6 .5-.3 1.5 2.8 1 .2 .5-1.2 .5-.1 1.5 2.8 2-1.6 .5 .5 .5-.5 .5 1.2 .5-.3 .5 .6 .5-.5 1 0 1 1.6 .5 .1 .5-.8 .5 .2 1 3.3 1.5-1.3 1.5 1 1 0 .5 .8 1-.2 .5-1.5 .5 .6 1.5-.5 2 .8 .5-.3 2.5-5.2 3.5-15.3 1-2.7 1-2 .5-.1 1 1.3 .5-.8 3.5-15.7 3.5-20.5 2-17.7 2-25.8 5-79.8 1.5-11 1 .6 1.5 13.8 5 75.8 2.5 24.8 1 2.6 1-.4 1-2.8 1.5-8.6 .5-1.7 1-.9 1 2.3 1 4.6 5 29.8 2 9.2 1 1.5 1 .5 .5-.5 1 1.3 1-.9 1-2.1 1-.9 .5 .8 .5-.7 2 1.2 2 3.7 1 2.5 3.5 17.5 5.5 18.3 .5-.2 .5 .9 1 .2 1-1.1 1.5 2.9 5.5-8.8 3-8.9 1.5-.3 .5 .5 .5-1 .5 .1 1.5-5.3 1 .3 1.5-3 .5 1.1 .5-1 .5 1 1-1 1 .4 3.5 8.6 .5 1 1 .5 1.5 2.9 .5 .1 1-1.5 .5-.1 3-9.4 4.5-28.1 2-8.4 1 .7 1 2.6 3.5 23.3 5 24.5 1 1.6 .5-.4 1 1.1 1.5 3.7 1-.2 2.5 2.3 1.5-.9 1-1.9 .5 .8 .5 0 .5 1.3 2-3.3 4.5-11.2 1-.3 1.5-2 1 0 1 .2 2 3.5 .5 .1 2.5 6.2 3 4.1 1.5 3.8 1.5 1.7 .5-1.1 1-.8 1 .3 .5-1.2 .5 .4 1-1.1 .5-1.8 2.5-4.2 1.5-8.2 .5 0 .5-1.3 1-5 2-6 2-3.9 2.5 4 3 7.8 1 .9 2.5 4.9 .5-.3 .5 .5 1.5 6.4 2 5.9 .5-.4 2.5 3.9 2 1.7 1-.4 1.5-3.7 .5 2 1 1.4 2.5-9.7 .5 .1 1-3.5 1-2.2 .5-.1 1.5-6 .5-.7 1 .6 2-3.8 2-12.2 1-10.3 1.5-22.1 2-43.8 5-149.7 1-12.7 .5-.8 1 8.8 .5 10.3 3.5 102 3 58.2 2 19.4 2.5 17.8 4 22.3 3 22.7 1 5.6 2.5 7 .5 .4 1-.2 1.5 1.7 .5-.6 1 1.8 1.5-1.7 1-.2 1.5-4.4 1-.9 2.5-7.5 5-19.2 2 1.6 1 2.1 .5-.6 1.5 2.3 1.5 8.2 1 2.1 1.5 6 1 .6 1.5 6.1 .5 .6 1-.5 1 3 .5 .5 .5-1.3 .5 .1 1 2.1 1 .7 3.5-1.1 1 .3 .5 1.2 .5 .1 1.5-1.7 1-.1 1 .6 1.5-1.5 1 .9 1.5-2.7 .5 1 1 .6 1-.3 1.5 1.4 1-.7 1-1.7 1.5 .4 .5-.3 1 1.1 2.5-2.1 2 2.2 .5-1.5 .5 .2 .5-.6 .5 .8 .5-.9 .5 .1 3.5 3 1-2.4 .5-.2 1 2.4 1-.7 .5 .6 .5-.2 1.5-1.2 .5 1 1-.2 .5-1.8 1.5 1.7 1-1.7 .5 0 1.5 2.2 1 .8 .5-.4 1.5 1.7 1-.1 1-1.1 1.5 .1 .5-.8 .5 .9 1.5 1.1 1-.5 .5-1.1 1 .8 .5-1.1 .5 .4 .5-1.1 .5 1 .5-1.1 1.5 2.5 1.5 0 3-.5 1.5-2.1 2 2.4 .5-.7 1 0 1 1.2 1.5-3.4 1.5 3.4 .5 0 .5-1.3 .5-.2 .5 .9 1 .3 .5-.9 .5 1.6 1 .8 1-1.4 1 .2 .5 .7 1.5-1.7 .5 .9 1-.1 .5-.6 .5 .9 1.5-1.5 .5 .8 1 .4 1-1.4 .5 0 1 1.8 1.5 .4 .5 .8 3.5-1.8 .5 1" stroke="#ccd2de" stroke-width="1.4" fill="none" stroke-linejoin="round"/>
<path d="M43 379.9l1-.5 .5-.9 1.5 2.5 1.5-1.8 1 .7 1-1.1 1 1.1 2.5-1.8 3 2.4 1.5-1.8 .5 .3 .5-.6 1 1.1 .5 .1 .5-.6 .5 .3 1 1.9 1.5-2.4 1.5-.3 2 .9 .5-.3 .5 .7 .5-1 .5 .8 .5-.6 1.5 1.8 .5-2.1 1-1.2 .5 1.6 1.5 1.2 1-.3 .5-1.3 1 .8 .5 1.2 1.5-2.2 1 1.5 2-1.1 1.5 1.9 .5-.7 .5 .3 1-1.7 1.5 .8 1-1.9 .5 .3 .5-.6 .5 1.5 .5-.1 .5 .8 .5-.3 .5 .4 1-.9 .5-1.6 .5 .7 .5-.8 .5 .4 1-1.7 1.5 1.8 1.5-2.2 1 1.5 1.5-2.8 1 1 1-.1 .5 .8 1-.8 .5-1.6 .5 1.3 1.5-3.9 1 1.3 1-2.6 .5-.9 .5 0 1-2.1 1.5-4.2 .5-.6 1-.1 .5-.8 1.5-7 3-4.9 1 .1 1 .7 2.5 4.1 1.5 5.7 .5 .4 .5 2.1 .5 .1 3 8.4 .5 .1 1.5 2.8 1.5 .6 .5 1.2 .5-.4 .5 1.9 .5-.4 .5 1.3 2 .2 1 1.3 1.5-2.3 2 2.5 1-1.5 1.5 1.7 1-1.6 1-.3 1 1.2 .5-.5 .5 .7 .5-.8 .5 .4 .5-.8 .5 1 1-.7 .5 .3 1 2 .5-.8 1 0 1-1.3 1.5 1.5 .5-1 2 2.2 .5 0 1.5-1.9 .5 .3 .5-.3 1.5 1.1 1.5-2.3 1 1.3 .5-.2 2-2.1 2.5 1.9 1-2.4 1 1.8 .5 .3 1-.7 1 1 1-.4 .5-1.4 1.5 1.3 1-1.6 2 2.5 1 .4 1-2.6 .5 .2 1 3.2 2-1.6 1 .2 .5 1.3 .5 .1 .5 .1 1.5-1.3 2 .7 1-1.2 2-.2 1-.8 1.5-2.5 .5 .3 .5-.6 1 .2 .5-.6 1.5-3.5 2-1.2 2.5-8.8 1-.4 1.5 2.7 1.5 8.7 1 2.6 1 2.1 1-.3 1.5 3 1.5 .8 .5 .9 1.5-1.5 .5 .3 1-.9 1.5 .1 .5-.6 1.5-.2 1-1.2 .5 0 .5-1.2 .5 .3 .5-1.4 .5 .3 .5-1.9 .5 .2 .5-1.6 .5 .4 .5-1 .5 .4 1.5-.3 2-4.3 1 1.1 1-1.5 .5-1.9 .5 .9 .5-1.5 .5 .1 2-5.7 .5 .4 .5-.7 .5 .6 1.5-4.5 1-.1 1.5-4.8 1-.4 2.5-4.1 1.5-.4 2.5 1.9 5 16.5 3 5.6 1.5 5.5 1 1.3 .5-.2 1.5 .9 1-.2 .5 .8 .5-.5 .5 .5 .5-.2 .5 .9 .5-1.2 1.5-.7 .5 .3 1.5-.4 .5 .9 1-.4 .5-1.8 .5 .7 .5-.3 1.5 2.6 1.5-.5 .5 1 1 .4 1-.5 1 .7 3-.7 .5 .6 1.5-1.6 .5 1.4 .5 .1 .5-.7 1 .1 .5 1.6 .5-.2 .5 .9 .5-.7 1 .6 .5 1.9 1.5-2.9 1 .4 1-1.5 .5 .1 1 1.8 1.5 1 .5-.6 .5 .2 .5-1 2 .5 1-2.2 1 1.2 1.5-3.8 1.5-1 1.5-3.7 1-1.3 2-1.4 1.5 .1 2-6.2 3-5.7 1-3.1 1-.9 .5-1.4 3-16.4 5-40 1-1.8 1.5 2.1 1 5.4 5 38.3 1 5.3 1 2.7 1 1.4 1-.3 .5-.7 3.5-11.6 .5-.6 .5 .4 .5 1.9 1.5 1.7 2 7.8 1.5 2.3 3 8 1.5 .2 1 1.9 1 .6 1.5-1.7 1.5-.5 1-2 .5 .1 .5 1.4 1-1 .5 .2 1 3.2 1 .8 1.5 5.4 1.5 2.6 1.5 4.2 .5-.2 1 2.1 .5 2.1 1-.5 1 1.9 .5 .5 1-.3 1 1.6 2.5-.3 1-1.1 1.5 1.8 1.5-3.2 .5 .6 1.5-4.2 1-.3 1-1.4 1 .7 1.5-1.7 1.5-.3 .5-.8 .5 .4 1.5-2.8 .5-.4 1.5 .8 1-1.6 1.5 1.6 .5-.4 1 .6 3 6.1 .5-.7 .5 .8 .5-1.1 1.5 2.3 4-4.8 3-9 2.5-9.5 2-3.7 .5-.1 2.5 6.6 4 16.2 1 2.3 .5-.1 .5 1.9 .5-.4 .5 .6 1.5 3.7 .5-.8 1 .1 2.5 3 2.5-.3 .5-.5 1.5 .2 1-1.7 2.5-1.3 1.5-2.3 1-.1 .5 .7 .5-.3 .5-.3 1.5-4 .5-.1 .5-1.2 .5 .7 .5-.7 .5 1.5 1 1.1 1.5-1 1 2.2 1.5 .8 .5 .9 1 .1 1 1.9 2.5 2.3 1-.1 .5-.8 .5 1.1 .5-.6 .5 .8 .5-1 .5-.1 1.5 1.3 1-2 1-1 .5 .1 1.5-2.3 1-.5 1-3.8 1.5-2.3 .5-2 1-.1 1.5-3.4 1-.3 1 .2 2 4.3 .5-.9 1 .4 .5 2.5 1 2.1 1 .3 1-2 .5 0 1 4.2 1-.4 1 2.4 1 .8 2.5 4.1 1 .2 .5-1 1.5 1.2 .5-.6 1-.2 .5 .9 .5-.5 .5 1.2 1-.4 1-2.6 1.5-.4 1-1.3 1.5-4.1 .5 .8 .5-.6 .5 .1 .5-1 .5 .8 .5-.5 .5 .2 .5-.7 1 .9 1.5-1.4 .5 .1 2-9.4 3.5-28.4 4.5-64.9 1-10.6 .5-2.7 .5-.5 1 4.7 .5 5.5 4 56.7 2.5 19.9 4.5 13.4 1 1 .5 0 2 4 3.5 12.7 1 1.2 .5 0 1.5 4.5 .5 .1 1 2 2 .3 .5-.8 3 .6 3.5-5.4 1-.1 1.5-3.4 .5-.2 2.5-8.1 .5-.2 .5 .7 .5 0 1-1.8 .5 0 1-1.1 .5 0 1.5 3.1 1 .7 1.5 5.9 2 4.1 1.5 1.2 2.5 4.2 .5-.7 .5 .9 .5-.4 1 .2 1 1.4 1-.4 1-2.3 1 0 .5 1.8 1-.1 .5-1.3 1.5 .3 1-.8 1 1.7 1.5-1.7 .5 .8 .5-.9 .5 .7 .5-.6 .5 1.3 .5-.9 .5 .4 .5-1.1 1.5 1.4 1.5-3.1 1 1.7 1-.9 .5 .3 .5 1.3 .5-.9 .5 0 .5-1.5 .5 .7 .5-.1 .5 1.5 1-.7 .5-2 .5 .1 2 2.7 2-1.9 .5-1.3 .5 .5 1.5-.2 2 2.4 1-.2 1.5 1.9 1-.2 1.5-2.3 1-.1 .5 1.1 1 0 .5-.9 .5-.1 2 .8 1 1.2 1.5-.6 .5 1 1.5 .8 2-.5 .5 .5 .5-.5 .5 .7 .5-.8 .5 .7 1 0 .5-1 .5-.3 .5 .6 1.5-1.2 1 1.9 .5 .1 2.5-2.1 1 1 1.5 .3 .5-.7 .5 .2 .5-1 .5 .1 .5 1.7 1 .3 .5-.6 1 1.7 1.5-2.5 1 .2 1-.5 .5 .2 .5 1.4 .5-.3 .5 .5 .5-.3 .5 .3 .5-.7 1.5 .9 1-.7 1 1 1-1.2 1 .1 1-1.4 .5 0 .5 1.3 2 1 .5 .9 2-3.8 1.5 2.8 .5-.3 .5 .8 .5 0 1-1.8 1.5 .2 .5-.8 1.5 1.5 1-.4 1.5 .7 1-.2" stroke="#c1c8d6" stroke-width="1.4" fill="none" stroke-linejoin="round"/>
<path d="M43 379.2l1 .9 1-.4 1.5 .6 1.5-2.8 1.5 2.5 1-.8 1 .7 .5-.7 .5 .4 .5-1.2 .5 .7 .5-.6 .5 1.3 1 .9 1-1.4 1 1.3 1-1.6 1 2 1-2.9 1.5 2 2.5-2.3 1 1.3 1.5-.8 .5 .4 .5-.3 1.5 1.4 .5-.1 .5-1.3 1-.3 .5 1.2 1-.3 .5-.9 1.5 1 1.5 2.1 2-3.5 1 2.2 .5 0 .5-.8 1.5 .8 .5-.2 .5-1.3 2 .4 .5-.5 .5 1.3 .5-1 2 2 .5-.8 .5 .3 .5-.8 .5 .5 .5-1.2 2-.4 .5-.9 1 2 .5-.1 .5-1.4 .5 .5 .5-.4 .5 .3 1-1 1.5-.1 1.5-1.1 .5 .3 .5-1.2 .5 .7 .5-.5 2 1.1 .5-.7 .5 .2 3-3.9 2-4 .5 1.1 .5-.7 1-3 3-4.9 1.5-4.1 .5 .1 1-1.5 1 .5 .5 1.6 1 .3 .5-.4 1.5 1.9 1.5 4.4 1 1.1 4 8.5 .5 .3 .5-.6 .5 .4 2 3.5 1.5 1.5 1-1.1 1 1.4 .5 .2 .5-.9 .5 .6 .5-.2 1.5 1.9 1-1.3 1.5 1 2-1.5 1.5 1.8 1-.2 1-1.3 1-.1 .5 .8 1-.3 1 1.4 .5-.1 1.5-2.4 2 2.6 .5-.6 .5 .7 .5-1.3 1.5 .7 1-1.8 1.5 2.6 1-1.2 .5 .7 1 0 .5-1.2 .5-.3 .5 .6 .5-.7 1-.2 .5 1.6 1-.4 .5-.9 .5 .6 .5-1.4 .5 .4 .5-1.4 .5 .8 .5-.7 .5 .3 .5-.4 1 .6 .5 .9 .5-.5 1.5 .7 .5 .8 .5-.2 .5 .7 .5-.5 1 .9 1-.9 .5-1.6 1 0 .5 1.5 .5 .1 1-2 1 2.1 1.5-1 .5 .3 .5-.7 2 1.9 1.5-2.2 1.5 .2 1-1.2 1.5 1.5 2.5-2.2 1 .7 .5-.5 1.5 .4 1.5-2.6 .5-.2 .5 .6 1.5-3 .5 .6 1.5-.8 2-4 1 1.3 .5 1.8 .5 .2 2.5 7.6 2 .4 .5-1 2 2.2 .5-.1 .5 .5 2-1.5 2 1.9 1.5-2.6 1 .2 .5 .8 1.5-3.1 1-.2 1-.9 1 .3 .5-1.7 1-1 .5 .7 .5-1.1 1 1.4 1.5-3.1 .5 .1 .5-.7 1 0 .5 .8 3-4.9 1-.6 .5-1 1.5-.2 1.5-4.1 2-1.2 .5-1.4 .5-.3 .5 .6 1.5-1.7 1 1.5 .5-.8 1 .2 1.5 3.3 1-.7 3.5 9.4 1 1.6 .5 0 .5 1.5 .5-.2 .5 1.4 .5-.6 .5 1.8 2.5 3 1-1.7 1 .4 .5 1.7 .5-.7 .5 .7 .5-1.1 .5 .4 .5-.5 .5 1.1 2-2 1 .2 .5 .7 .5-1.1 1 2.5 .5 .1 1-1.7 1 .4 1 1.9 1.5-1.4 1 1.5 1 .1 .5-.8 .5 .6 1-.2 .5 .5 .5-1.3 .5 .3 .5-.8 .5 .7 1.5 0 1 .9 1.5-.6 .5 .6 1-.2 .5 1.3 1 .5 .5-.8 1.5 .2 1.5-1.1 1 1.6 1-.6 1 1.8 1.5-3.1 .5 1.3 1-.2 1 1 .5-.2 1.5-3.3 .5 .4 1-.2 2-4.5 1.5-.8 1 .3 1.5-2.6 .5-.5 .5 .5 2-6.3 1 .5 1-.9 5-16.2 5.5-36 1-3.8 .5-.2 1-2.1 .5 .2 .5 1.6 1 5.8 3.5 25.9 1 2.7 1 6.2 1.5 4.8 .5 3.3 1 .7 .5-2 1-1.2 .5 .3 2.5-6.6 .5 1 .5-.1 .5 1.6 .5-.1 .5 1.8 1 .2 1 1.7 4.5 10.4 1.5 .5 1.5-.8 .5 1 1 .2 2-3.2 1.5 2.7 .5-1.2 2.5 1.1 1.5 3.6 1-.3 1 3.8 .5 .7 1-.3 4 7.8 .5 .4 1-.2 1 1.6 .5 0 1.5-3.2 .5 1.1 1 .7 .5-1 .5 .8 1-.1 .5-1.3 1-.1 .5 .6 .5-.8 1 0 3-4.3 1.5 .3 1-.9 .5 .6 1-.8 .5-1.5 .5 .4 1-1.9 1.5 1 .5-1.1 1-.7 1.5 1.8 1.5-.5 1.5 3.6 .5-.3 .5 .3 .5-.8 1.5 3.1 2-1 2-.1 1.5-3.9 1.5-2.3 .5 .4 .5-.7 1.5-6.5 .5 .3 2-4.5 1-.7 1 2.3 .5 .7 .5-.1 2 5.8 .5-.4 1 1.9 .5 3.1 .5 .1 .5 1.5 .5 .2 .5 2.1 .5-.4 1.5 3.8 1-.4 2 1.5 .5-.8 1.5 2.3 1-.9 1.5 2.2 1.5-2 1 .3 1.5-2.5 1 .4 .5-.4 .5 .7 2-2.4 1.5 .4 2-3.5 1 .3 1 1.4 1-1.4 1 2.5 1 .8 1.5-1.1 2 2.1 2.5 1.1 .5-.7 1.5 3.6 1.5-1.6 1.5 1.1 2-1.3 .5 .9 1-.9 2-4.1 1 .6 .5-.4 2-5.3 1.5-1.1 1.5-4.2 1-.5 .5 1.1 .5-.9 .5 .4 1.5 3.2 .5-.3 1 1 .5 1.8 2 3.3 .5-.3 1.5 .4 .5-.6 .5 1.3 .5-.3 1 1.3 1.5 3.1 1-.5 .5-1.2 1 .4 .5 1.4 2.5 2.3 1.5-.5 .5-.9 1.5 2 2.5-3.7 .5 .4 .5-1.9 1-1.1 .5 1.1 2-1.8 1.5 1.2 1.5-3.2 1-.5 .5 .6 .5-.5 1.5-3.7 2-7.9 2.5-17.4 4-44.1 1.5-14 .5-.9 1 3 1 6.4 3 34.3 3 20.1 4 10.2 1.5 .4 1 4.7 1.5 1.9 .5 2.2 .5 .1 1 1.6 2.5 8 1 1.5 .5-.4 1.5 2.6 1-.5 .5-.9 .5 1 1 .6 .5-1 1-.4 .5 .6 .5-1.2 1-.4 .5 1.1 1.5-.7 1.5-1.6 .5-1.7 .5 .1 .5-1.2 .5 .2 .5-2.5 .5 .6 1.5-3.1 3-2.4 1 .1 1.5 1.7 1.5 .7 .5 1.9 1 1.5 1 .5 2.5 4 1.5 .1 1 2.3 .5 .2 .5-1.2 1.5 0 1 1.9 2-2.4 1 .3 1 2 .5 .1 1-1.3 1-.1 1 .3 1.5 1.7 1.5-2.4 1 .7 1-1.1 1.5 .5 .5-.5 .5 1.1 .5-.5 .5 1.1 .5-1.5 .5 .4 .5-.7 2 .9 .5-.9 .5 .2 1-.5 1.5 .4 .5-.9 1.5 1.1 .5-1.3 1.5-1.3 1.5 4.2 2-2.6 .5 1.2 .5-.4 .5 .4 .5-1.3 1.5 1.6 1-.6 .5 .1 1.5-1.5 1 1.7 .5-.3 1.5 .5 1.5-1 1.5 .5 1-.7 2 .7 .5-.3 .5 .6 .5-.3 1 1.7 1.5-1.5 2 1.7 .5-.7 .5 .3 1-1.3 .5-.1 .5 .8 .5 0 1-1.4 .5 1.1 .5-.1 1 .7 2 0 .5 .8 .5-1.2 .5 .9 2-1.7 .5 .8 1-1 1.5 1.7 1-1.6 1.5 .9 1-2 1 1.3 1-.3 1 2.1 1.5-1.9 .5-1.5 .5 .6 .5-.1 .5 2.6 .5-.4 .5 .7 .5-.8 .5 .6 .5-.2 .5 .4 1-1.8 1.5 1.3 2-.5 1 1.3 2-2.8 1.5 2.3 1 0 1-1.6 1.5 1.2 .5 .2 .5-.7 .5 .7 2-1.5 1.5 1.8 1-2.1 1 2.9" stroke="#3356b6" stroke-width="1.4" fill="none" stroke-linejoin="round"/>
<path d="M43 380.5l2.5 2 2-1.9 1.5 .2 1-1 1.5 1 .5-.3 .5 .8 1 .4 1-.9 .5 .6 1.5-1.6 1 1.2 .5-.4 2 1.7 1-1 .5-1.9 1.5 2.6 1-.7 1 1 1.5-1.9 1.5-.5 1.5 2.3 .5-.9 2-.8 1 .1 1-1 1 .6 1-1.6 1.5 1.6 .5-.6 1 .5 .5 .8 2 .5 1.5-1.4 1 .8 1.5-2.2 2 2.8 2.5-4.6 .5 1.4 1 .9 .5-1.2 .5 .8 1.5-1.3 2 1.1 1-2.2 1.5 0 .5-1.1 2-.2 1-.3 .5-1.1 .5 .7 1-.7 3.5-4.4 2.5-5.2 1.5-7.5 2-6.6 4-19.9 1.5-4.8 1.5-.9 2.5 6.6 3.5 19 3 11.5 2 4.9 1.5 5.9 .5 .1 2 3.3 .5-1.2 1.5 3.7 2.5 .5 .5 1.4 1 .1 .5 .5 1.5-.7 1 .3 .5-1.7 1.5 1.3 .5-.2 .5 1 1.5-2.3 .5 1.1 2 1.3 1-.4 1 .3 .5 .8 1.5-1.5 1 1.4 .5-.1 .5-1.7 2 1 1.5-1.8 1 1.7 1-.5 1 1.6 .5 .1 1-1.8 1 .4 .5-.4 1.5-3.5 1.5 2 .5-.7 .5 .6 1-.2 .5-1.1 .5 .5 .5-.4 .5 1.2 .5-.8 .5 .9 1.5-.8 3 1.9 1.5-1.7 4.5 4.2 2.5-2.8 1.5 1.9 1.5-1 .5 .3 1-.3 .5-.8 1 .7 1.5-1.5 1-.1 1-1.3 .5-1.7 1.5-.1 1-2.1 1.5-1.5 1-2.7 1.5-1.7 2-8.1 2-11.4 .5 .2 .5 1.8 3 19.2 2 9 1.5 2 1.5-.6 .5 1 1 .4 .5-.6 1.5 .6 1-1.2 .5 .4 .5-.5 1 .1 3-4.8 .5 .1 4-8.6 1.5-.7 1-1.6 .5 .3 1-.2 3-8.8 2-4.1 5-17.4 2.5-5.5 1.5-1.9 1.5-4.3 .5-.2 1.5 1 1.5 7.8 1.5 3.9 1.5 12.8 3 11.1 1 5.6 3.5 9 1.5 .1 .5 .8 .5-.2 .5 1.3 .5-.5 1.5 1.1 1.5-3.1 .5 .3 1.5-.6 .5 1.1 2-3.5 2 4.8 1-.9 1.5 1.1 .5-.7 .5 1 .5 0 1.5 1.6 1-.6 1.5 .5 1-.5 1.5 1.9 1-1.2 1 1.7 2-.9 1.5 1.9 1-.9 .5 .1 .5 1.4 1 .8 .5-.3 .5 .8 1-1.8 1.5 3.5 1-2.1 1-.9 1 .3 .5 1.1 1.5-4.4 1-.7 2-4.2 2.5-10.4 2-1.6 .5-1 .5 .2 .5-1.7 .5 .1 3.5-18.1 2.5-9.8 1.5-9.5 3-33.4 5-91 .5-5.8 1.5-6.7 1 4.9 1 13.1 4.5 80.1 2.5 27.3 1 3.8 .5-.2 .5 .8 1-2 2.5-15.4 1-1.4 .5 .4 3.5 17.3 2.5 17.2 3 11.6 .5 .7 1 .2 1.5 .1 .5-.5 1.5-5.8 1.5-2.4 1 .5 .5 2.2 .5 0 .5 1 .5-1.2 4 14.4 3.5 19.5 1.5 2.4 1 3.3 1.5 1.3 1.5 3 1-.2 1 1.2 3.5-2.8 .5 .2 1.5-6.2 1.5-2.3 2-4.7 .5-.5 1 1.2 .5-.6 1-5.4 1.5 1.4 3-8.9 1 1.1 1.5-.6 1 1.5 1 2.3 1.5 6.4 3.5 6.4 1.5 .7 .5-.3 4-12.3 3.5-23.6 2-10.9 1-1.6 2 6.7 3.5 23.8 3.5 16.1 .5 .1 3 8.2 1 1 1.5-.8 1.5 3.3 3-1.1 1.5 .6 .5-1 1-.6 1-3.7 1-1.5 .5 .1 .5-2.5 1.5-1.9 1-2.5 .5-.6 .5 .1 1.5-3.9 1.5-.2 3.5 5.9 2.5 7.8 1 1.6 1-.1 .5 .7 1.5 .6 1 1.8 1.5-1.1 1 1.8 .5-1 1.5 .5 3-6.8 2.5-9.6 3-14.7 2.5-5.4 1 .9 2 4.7 3.5 13.8 1 .9 .5-.9 1.5 3.8 1 1.3 1.5 6 .5 0 2 4.7 .5-.4 1 1 1 2.8 1.5-.2 1 .7 1-1.3 2.5-1 4.5-14 .5-.5 .5 1.3 .5-1.2 1-.3 .5 1.1 1 0 .5-.9 2-7.8 1.5-12.3 2-25 2-41.1 4.5-151 1-22.9 1-6.3 1 10.5 4.5 142.3 2 38.7 1.5 16.7 3 22.6 .5 3.1 1.5 4 5 28 3 13.9 .5 .7 1-1.1 1.5 3.5 .5-1.2 1.5 .6 .5-2 .5-.2 1 .8 1-1.8 1 .3 .5-.6 3.5-9.2 2.5-12.1 3.5-9 1.5 1.1 .5 1.1 7 23.9 4 8 1-.2 2.5-2.7 .5 0 1 1.6 1 .2 1.5 1.4 2.5-2.9 1.5 1.3 2-.3 .5 .9 1-.2 1.5-2.1 .5 .8 1.5-.2 1 1.4 .5-.5 1 .3 .5-.3 1-2.2 .5 .2 .5-.6 .5 .8 1.5-1.1 1.5 .7 2.5-1.1 1.5 .9 .5-.9 .5-.1 1.5 1.7 1.5-1.7 .5 1.7 1 .4 .5-1 2-.5 .5 .9 .5-.2 1 .9 .5 1.4 .5 .1 3.5-1 .5-.6 .5 .3 1-1.2 .5 .1 1 2.1 1-.2 .5-.7 .5 1.6 1-.1 .5-1.1 .5 .4 1-.2 1 .9 1-.9 1.5 1.9 1-1.2 .5 1.1 1 .1 .5-1.8 1.5 1.1 1-1.5 .5 .6 1-.5 1.5 1.3 1.5-1.4 1 .8 1.5-.8 .5 .8 1.5 .2 1 .8 1-1.1 .5 .2 .5 1.8 1.5-1 1.5-2.5 .5 1.2 1 .7 3.5-.9 1.5 2.8 1.5-1.7 2 1.7 1-1.5 .5-.1 .5 .7 1.5-1.1 .5 1.3 1-.3 .5-1.2 .5 1.1 1-.7 1.5 1.4 2-1 .5-.7 1 0 .5 .8" stroke="#aab8cf" stroke-width="1.4" fill="none" stroke-linejoin="round"/>
<path d="M43 381.8l1-.2 .5-.9 .5 .3 2-.9 1.5 .3 1 1.1 1-.6 1-1.3 1.5 2 1-1.2 1 .3 .5 .7 .5-.1 1-1.8 1 1.3 2 .9 1-1.3 1 0 .5 1.1 1.5-1 .5 .6 .5-.2 1.5-2.2 1.5 2.2 1.5 1.1 2-1.5 1.5 1.1 1 .1 1-1.7 1 1.8 1.5-1.7 .5 1.5 .5-.1 1-2.6 1 1.6 1-.9 1 2.8 .5 .1 1-1.5 .5 .4 1-.2 2-1.7 .5 .2 1-1.2 .5-1.7 .5 1.4 1 .8 1-1.3 1.5-.8 1-.1 1 1.4 1.5-2.3 1.5 1.4 1.5-2.3 2-.4 1-2.5 .5-.4 1 .4 3-4.2 3-6.6 5.5-24.5 2.5-6.9 1 .7 1 2.1 .5 .1 1 2.8 3 15.5 4 12.8 1 4.8 2.5 5.3 .5-.3 .5 1 .5-.6 1.5 3.4 1-1 1 1.9 1.5 1.4 1.5-1.3 .5 1.4 .5 .1 1-1.3 .5 1.6 1.5-2.3 1.5 2.9 1 .5 .5-.8 .5 .6 .5-1 1-.1 1 2.3 .5 .1 1-2.3 1-.6 .5 1 .5-.4 .5 .3 .5-1.3 1.5 1.6 .5-1.1 1-.3 .5 .9 .5-.8 .5 .9 .5-.7 .5 .5 1-.9 .5 1 1 .3 .5-.7 1 1.2 1.5-2.4 .5 .9 1.5-1.6 1 1.1 1-.9 .5 .6 1.5-.5 1 .9 .5-.7 .5 .5 .5-1.3 .5 1 1 .1 .5-.6 1-.1 1.5 1.4 1.5-.8 1.5 2.3 1.5-2 2 2.9 1-1.2 .5-.3 .5 .7 .5-.8 1 .6 .5 1.1 1-1.5 .5 .4 .5-.7 .5 .4 .5-2.1 2 .6 .5-1.4 .5 .1 2-1.5 1.5-3.1 2 2.3 1-4.1 .5-1 .5 .6 1-2.8 3-14.7 .5-.4 .5 .3 1 3.6 3 16.8 3 5.7 .5-.5 1.5 2.3 1.5-1.5 .5 .9 1 .2 .5-.9 1-.1 1.5-2.7 .5-.2 .5 .8 .5-.4 .5 1.1 .5-.4 3-8 1 .1 1.5-3.2 .5 .9 1-2.4 .5-.3 1 .6 .5-1.4 1-.9 1.5-4.9 2-2.9 2-7 .5-.2 2.5-7.9 1.5-2.4 1.5-4.7 .5 .2 .5-1.4 .5 .1 1-.9 1-2.1 1.5 2.2 1.5 4.4 2.5 12.8 5 18.7 2 2.9 1.5 4.8 1.5 1.9 2-.9 .5-1.3 1.5 1.1 1.5-2.1 1-.5 .5 .3 .5-.3 1.5 2.5 .5-.4 1-3.2 1 .4 .5 1.3 .5-.2 .5 1.1 .5-.8 1 .8 .5 1.4 2-.6 1.5 .7 .5-.6 .5 .2 2.5 5.4 1.5-3.2 .5-.2 1.5 2.2 1-1 2.5 2.1 1.5-3.4 1.5 3.8 1-.9 .5 .7 1-.2 1-2 .5 .9 .5-.2 .5 .5 2-2.7 1.5-4.3 2-3.5 1.5-6.3 2-.8 1 .9 .5-1 .5 0 7.5-27.8 2.5-18.9 5-66.5 2-13.7 1 2.2 1 6.3 5.5 66.9 1 7.6 1.5 6.6 1 1.6 .5 0 .5-.9 3-17.1 .5-.9 .5 .2 1.5 3.9 2.5 10.5 3 16.1 2 6.2 2 1.3 1.5-2.6 2-1.3 1.5-3.2 2-.4 3 7.7 6 24.5 1 2 .5 .1 3.5 7.1 1-.2 .5-.9 1.5 1.6 2.5-3 1-1.7 2-7 1-1.1 .5 .1 1-2.3 1-.7 1 .2 1.5-3.4 .5 .4 1.5-4.2 3-5.2 1 0 .5 .7 .5-.8 .5 .3 1.5 7 4 11 1-.4 1 .9 1-1 2-3.9 2-6.1 3.5-21.4 2-4.5 1 .2 1 2.2 4.5 23.8 2 5 1.5 6.6 2 4.1 3 1.8 1.5 2.3 1.5-.9 1.5 1.4 2-1.7 2-4.5 1.5-.8 2.5-5.6 1-1.3 .5 0 .5-1.3 1-.9 1 1.1 1 .2 1-1.1 1.5 4 1.5 1.7 1.5 4.6 .5-.2 .5 .5 .5-.4 .5 1.7 2.5 3.2 1.5-1.8 1 2.1 1.5-1 .5 .5 1-.9 .5 .1 3-4.4 1.5-7.8 5-17.3 .5-.1 1 2.6 1-1 .5 .4 2.5 9 1.5 1.7 2 4.5 1.5 1.5 2.5 5.2 1.5 4.7 1.5 1.6 1.5-.7 1.5 .5 2 2.1 .5 0 1.5-1.5 .5 .4 2-5 .5-.3 1.5-6.4 1-1.8 1.5 1.8 1.5 .3 2.5-4.2 2.5-16.6 3-39.2 2.5-58.8 3-94.3 1-20.3 .5-4.9 .5-1.1 1 12.1 4 112.7 2.5 47 2 17.8 2 11.6 4.5 18.8 4 20.8 3 8.5 1 1.3 1 .3 1.5-.4 2 1.1 1.5-3.4 1.5-2.2 1.5-1.1 .5-2.3 3-7.8 2-10.5 1-2 .5 .1 .5-1.5 .5 .1 .5-.8 1-.4 2.5 9.1 1 1.5 2 9.3 3.5 8.3 .5 .8 .5-.8 1 .5 1 1.5 .5 .1 .5-.9 1.5 .4 .5 .6 .5-.2 .5 1.4 1.5-1.9 1.5 1.3 .5-1.2 1-.3 1 1.8 1-.6 .5-.9 .5 .2 1.5-1 1 1.1 1.5-.8 1 1.1 1 .1 .5-.9 .5 .2 1.5-1.5 .5 .5 .5-.4 1 .3 .5 .6 1.5-.5 1.5 1 1.5-3.2 .5-.1 .5 1.1 2 .6 1.5-1.4 .5 .5 1.5-.4 2.5 2.3 1.5-.5 2 1.4 1-.5 .5-1.3 .5 .9 .5-.6 1.5 .9 1-.6 1 1.1 1-1.4 1 0 .5-.4 1.5 3.1 1-1.7 2.5 2.5 1-1.1 1 0 1 .1 1 1.1 .5-.6 1.5-.2 1-1.7 .5 .8 1 .3 .5-.9 1.5-.3 .5-1 .5 .8 .5-.5 .5 1.4 .5-.4 .5 1.2 .5-.5 1.5 .6 1-2.3 2 2.6 1.5-2.5 .5 1.8 1 0 .5-.6 .5 .6 .5-.3 2.5 2 1.5-2.1 1-.4 .5 .7 .5-.4 2 2.3 1.5-1.7 1 1 1.5 .2 1.5-2.5 .5 .7 .5-.6 1 .4 1.5 1.4 1.5-.2 .5 .7 .5-.5 1.5 1.1 1.5-2.6 1.5 .8 1 1.2" stroke="#a6c2e8" stroke-width="1.4" fill="none" stroke-linejoin="round"/>
<path d="M43 380.5l.5 .2 .5-.7 2-.9 .5 1.3 1-1.1 .5-1.5 1.5 2.5 1-1.8 .5-.1 1 1.1 .5 .1 .5-.8 1 .4 .5 .9 .5-.7 .5 .6 .5-.8 .5 .6 .5-.4 .5 .9 1-.8 1 .4 .5 .9 2-.9 .5 .9 .5 0 1-2.2 .5-.1 1.5 1.7 1-1.4 1.5 1.4 .5-.4 1 1 .5 0 .5-1.2 1 .1 .5 1.3 1.5-1.8 .5 .5 .5-1.2 1 0 1 2 1.5-2.8 1.5 3.3 1-1.2 2 .5 1-.4 .5 .2 .5-.5 2-.1 .5-.5 .5 .7 1.5-.3 1.5 1.4 1 0 .5-1.5 1-1.2 .5 1.3 1-.7 2.5-4.3 1.5 2.3 .5-1.1 .5 .4 1.5-.8 1.5 .2 2-3.3 1 .3 .5 .8 2-2.2 1-3.6 1-1 .5 .4 6.5-21.3 1-2.4 1-.2 1-.8 .5 .4 3.5 11.2 1 1.8 1.5 8.9 .5 1 .5-1.3 2.5 6.8 1 1.5 1-.2 .5 .4 1 3 .5 .2 .5-1.2 .5-.2 1.5 3.7 .5-.6 .5 1.2 .5-.1 .5 1.4 1 0 .5-.9 1-.4 .5-1 1 .3 .5 1.4 .5 .1 1.5-1.9 1 2 1 .7 .5-1.4 .5 .7 .5-.4 .5 .8 1 .4 .5-.7 1 0 .5 .5 .5-.8 2.5 1.1 1.5-.7 2 .3 1.5-1.3 .5 .5 1.5-.2 1.5 1.9 2-.9 1.5 0 .5-.8 .5 .6 1-.7 1-1.8 1.5 .9 .5-.8 .5 .1 1 1.2 2.5-1.6 1.5 .6 1.5 1.8 2 1.3 1.5-1.8 .5 .4 .5-1 3 2.6 1.5-1.5 1.5 .9 3-1.9 2-.6 .5 .4 .5-.8 .5 .1 .5-1.8 3.5 .1 .5-1.6 2.5-3.3 1.5-3.2 2.5-9.1 1-1.8 1 2.8 3 14.1 1 .9 .5-.2 1.5 5.2 .5-.5 1.5 1.1 1-.4 .5-.8 .5 .7 .5-.3 .5 .8 1.5-1.7 .5-.2 .5 .8 1.5-1.9 .5 .7 1.5-2.6 .5 .7 1.5-1.1 1.5-3.3 .5 0 1-1.6 3-1.2 .5-.6 1.5-4.9 1.5-1 .5 .5 .5-1.3 .5 .2 1.5-5.3 7.5-12.4 1.5-3.6 .5 .4 .5-.6 .5 1.8 .5-.1 .5 1.5 .5-.1 1 1.5 1 2.4 3 13.5 2.5 6.3 1 1 1 4.5 .5 1.1 2 2.1 1-1 1.5 1.4 2-.9 1 1.3 1.5-1.2 .5 .9 1.5-2.1 1.5 1.4 1-1 1 .2 .5 1.4 .5 .1 1-2 .5 .2 1.5 3.2 2-1.2 1 .4 .5 1.2 1.5-2.1 .5 .8 .5-.3 1 1.8 .5 .1 1-.9 1 1.4 1 .2 .5-.7 .5 1.3 .5-.4 .5 .9 .5-.2 .5 .6 1-1.8 .5-.2 .5 .4 .5-.6 1.5 2.3 .5-1.2 1 1 1.5-.9 .5 .8 1-.4 .5 .5 1-1.8 1 .3 1-1.7 2.5-7.8 1.5-.6 .5 .3 1.5-2.2 .5 .4 1.5-4.5 2.5-2.8 1.5-6.9 1-2.5 1 0 1-2.8 2.5-14.3 5.5-48.5 2-8.6 .5 .2 1 5.6 5 43.6 3 17.6 .5 .5 1-.3 1-1.4 .5-2.1 .5 0 1-2.3 1-4 .5-.3 1.5 4.3 .5 .7 .5-.5 .5 .7 2.5 8.7 2.5 6.4 1.5 2.4 .5 .2 .5-1.2 1.5-.8 .5-1.6 .5 .1 .5-1.3 .5 .2 2-3.4 1 .3 1 2 .5-.4 1 .7 2 4.3 3 8.8 1.5 7 2.5 2.7 1 2.1 .5 .2 .5-.5 1.5 2.5 1 .1 1 1.6 1.5-.8 1.5 .3 1-2.8 3.5-6 2-2.3 1.5-.2 1.5-1 1.5-3.7 1-1.2 .5 0 .5-1.5 .5 .2 .5-.8 .5 .2 .5-1 .5 .6 .5-.2 2.5 3.4 1.5 5.4 1.5 1.2 1 2.8 .5 0 1-1.5 2 0 1-.8 1-1.5 2-7.1 4-17.2 1-2.4 .5-.1 1 1 1 3 3.5 14.8 4 13.1 1 .8 2 .4 1 2.7 1.5-.1 .5 1 1 .5 1.5-.6 1 .6 1.5-1.4 .5 .8 1 .2 2.5-5.2 1.5-1.7 1-3 .5 1.4 1 .1 1-2.6 1-1.2 1-.4 2.5 3.8 1-.2 1.5 3.4 .5-.4 5.5 7.8 .5 .3 1-1.5 2-.4 .5 .6 .5-.4 .5 .7 .5-.1 2.5-4.4 .5-2.1 .5-.1 .5-1.3 .5-.2 2-9.3 4-6.7 .5-.2 2 2.5 1.5 4.7 1 .8 1.5 3.3 1-.3 2 2.1 3.5 8.7 .5 .6 .5-.2 .5 .9 .5-.5 .5 .3 1.5 2.5 1-.3 1.5-1.5 1 .8 2.5-2.4 1-1.7 1.5-1.1 1.5-3.4 1-1.1 1 1 1-1 1 1.8 1.5-2.4 .5 .8 .5-.4 3.5-18.5 1.5-14.4 2-29.1 4-78.2 1-10.3 .5-.5 .5 .9 1 11.7 4.5 78.3 2 18.1 2 10.3 4 12.3 1 2.7 .5-.2 4.5 19.9 .5 1.6 1 .5 2 5 1.5 .1 .5-1.1 1-.6 .5 1.5 1.5-1.5 2.5 .4 2-5.2 1-.2 1-1.4 4-12.3 1-.3 1-1.5 1 2 1-1.9 1.5 4.1 .5 .1 1 2.2 1.5 6.2 2.5 5.5 1.5 1.2 .5 1.8 .5 .4 1-.5 1 1 1.5-2.3 1.5 2 .5-.7 1 .2 .5-.3 1.5 .8 1.5-1.9 1.5 1.7 .5-1.1 1-.6 2 2.3 3.5-1.3 .5-.9 1-.6 1.5 2.7 1-1.3 1.5 1.3 1.5-3.2 .5 .3 .5-.6 1 .6 1.5-.5 2 1.7 1-1 1-2.2 1.5 2.2 1-1.9 1.5 2.4 2-1.3 1 .9 1.5-.3 1 2 1-.1 1 .6 1-1.6 .5 .4 1.5-1.2 .5 0 .5 1.1 1.5 1.2 .5-1 .5 1 2-1.4 2.5 2.1 2-1.9 3 2.1 1.5-1.3 .5-1.3 1.5 2.6 1-1.3 .5 .2 2.5-1.5 1.5 1.5 1-.6 1 .1 .5 1 .5-.3 2.5 1 1.5-2 .5 1 1 .5 1-1.1 1.5 1.3 .5-.9 1 .2 .5 1.3 .5-1.8 .5 0 .5-.9 .5 1.3 1 .6 .5-.7 .5 .6 .5-.5 1.5 1.4 1-1.3 .5 1 1 .2 1-1.4 1-.1 .5 .7 1.5-1.2 1.5 2.3 3.5-1.5 1 1.5 1.5-1.4" stroke="#92b6e4" stroke-width="1.4" fill="none" stroke-linejoin="round"/>
<path d="M43 380l.5 1.2 2-2 1.5 .7 1.5-1 1 1.3 1.5-1 1.5 .6 1.5-1.1 1 1.5 1.5-1.6 .5 .6 1-.4 1.5 1.3 1-1.6 2 .8 1 2.2 1-3.6 1.5 1 .5-.8 2 .5 1.5-.1 1.5 1.7 1-1.3 1 .4 .5 1.1 .5-1.4 .5 .8 .5-.5 .5 .8 1-.9 .5 .9 1.5-1.1 .5 0 .5 1.3 .5-1.2 .5 .5 .5-1.1 .5 2.1 1.5-2.2 .5 0 .5 1.2 1.5-1.5 .5 1.1 1-.4 .5-.9 1 2.1 .5 0 1-2 1 2.3 1.5-1.4 .5 1.3 .5-.8 .5 .1 .5-2 1 0 .5 .6 .5-.9 1-.6 1 .8 1-1.3 1.5-.7 .5-.1 1 1.9 2.5-4 1.5 .8 1-2.2 2-1.7 1.5-5.5 1.5 .3 1.5-4.9 2.5-5.1 .5-.1 1 1.2 2-3.5 1 1.5 1.5 5.1 3.5 6.4 1.5 5.7 .5-.2 .5 .6 .5-.4 1 1 1.5 3.2 1 .2 1-.6 2 3.5 .5-.8 1-.2 1 1.7 .5-.9 1 .1 1 1.6 2-1.9 2 .9 1 1.2 1.5-2 1.5 0 .5 1.5 .5-1.1 .5 .6 .5-1.6 1 1.9 1 .1 .5-.5 1.5 .8 1.5-1.6 2-.3 1.5 3.4 .5-.7 .5 .2 .5-2.2 1-.6 1.5 1.1 1.5-.8 1 .9 3-.8 1 1.8 1.5-2.8 1 .8 1-.1 .5 .9 1.5 .3 1-.2 .5-1.6 1 .7 .5 1.2 2-1.6 2 2.1 1-1.2 .5 0 .5 1.1 1.5-.9 1 1.5 1-1.4 2.5-.2 .5-.7 1.5 1.5 .5-1.1 2 1.1 1-.5 .5-1.6 2-2.4 .5-.4 1 1.3 1.5-2 .5 0 1-3.4 1.5-.7 3-8.5 3 10.8 1 1.5 1 3.3 2.5 1.9 1.5-.3 .5 .8 .5-.4 1.5 2.5 1.5-3.3 .5 .4 .5-.8 1.5 .3 1-1.6 1.5 1.4 .5-.4 .5-1.3 1.5-1.5 .5-1.9 1.5 0 2.5-1.4 1 .1 .5 .6 1-.1 .5-1 .5 .2 .5-1.4 1.5-1.1 1.5-4.8 1.5 .9 1-3.2 4.5-4.7 .5-1.7 1-.4 .5 .7 1-.8 .5-1.1 1.5 1.9 .5-.4 1 .5 4.5 9.1 2 5.7 1 .7 1.5 2.5 2 .2 1.5 2.3 .5-.9 1 .1 .5 .8 .5-.3 1 1 1.5-.8 1 .9 2-2.3 1 2.1 1-.3 .5-1.2 1 1.8 .5 .2 1-.6 1 .4 .5-.6 .5 .7 1.5 .3 1 1.5 .5-1.7 1-.3 1 1.3 .5 0 .5 1.2 1-.9 .5-1.3 1 .1 .5 1.2 .5-.5 .5 1 .5-1 .5 .4 .5-.7 .5 1.9 .5-.5 .5 .8 .5-1 .5 1.4 2-1.6 1-.1 .5 1.1 1-.1 1-1.4 1 .6 .5 1 .5-.8 .5 .4 .5-.4 .5 1 1.5-2.6 1.5-.3 3.5-7.5 1.5 0 .5 .5 1.5-3.4 2-1.3 1.5-6.1 .5-1.2 .5 .6 4-11 3-14.4 3-23.6 2-8.5 1-1.3 .5 .2 2 7.5 2.5 19 4 20.8 2.5 2.7 1.5-3.4 2.5-3.1 1.5 .5 1-1.3 .5 .3 1 3.9 2.5 4.4 3 8.3 .5-1.2 .5 .7 .5-.8 .5 1.6 1-1 1 .9 2 .4 1.5-2.7 1 .3 .5 1.6 1 .8 .5-.1 1.5 2.8 1 .8 5 10 .5-.5 1.5 3.6 .5-.4 .5 .3 2 2.7 .5-.7 .5 .3 .5-1.1 .5 .1 .5-.7 1 1.5 .5-.3 1-2.6 2-.1 2-2.3 .5-1.7 1.5-.2 2-2.4 1 .9 .5-.1 1-1.5 1 .8 1.5-2.3 1 1.1 1-1.6 2 2.9 1 .6 .5-.9 1 1 2.5 3.9 1-.1 1 1.3 .5 0 1-3.1 .5-.6 .5 .4 .5-.3 1-2.3 .5-.2 1.5-4.9 .5-1 .5 0 1.5-4.4 1-.7 1.5-3.7 .5 .7 .5-.5 1.5 5.4 1 .6 .5 1.4 1.5 6.2 .5 .9 1 .4 1 3.6 5 3.6 .5-.2 .5 .5 1.5 .4 1-.8 .5 .1 1 2.4 .5-1 .5 .2 .5-1.2 1 1.7 1-.1 3-4.8 .5 1 1.5-2.1 1 .9 1.5-1.4 .5 1.2 .5-.8 .5 .2 .5-1 .5 .9 1.5-2.3 1.5 1.8 1.5 .5 1 3.2 1.5-2 1.5 4.2 1 .3 .5-.5 1 0 1 2.2 1.5-2.6 .5 1.4 1-.3 .5 .4 1-.1 2-4.2 2-3.2 1-.7 3-7.3 1.5 .5 .5-1.7 2-.5 2 4.1 2 .5 1.5 2.7 .5-.6 1 1.1 1-.1 1.5 5.1 2 .7 1.5 3.3 1 .5 1.5-1.3 1 2.1 .5 .1 1-1.1 1-.4 1.5 .5 .5-.9 1-.3 1.5-2.6 .5 .6 .5-.4 1.5-3.1 2-1.5 1.5 1.5 1.5-2.8 1-.5 2-4.9 2-12.1 3-26.3 4.5-59.3 1-2 .5-.1 1 5.6 3 39.2 2.5 24.9 2.5 11.2 2 4.2 2.5 9.7 1.5 .6 .5 .7 3.5 11.9 1.5 1.7 2.5 5.3 1-1.1 1.5-.5 3 1.7 2-2.4 1-.8 .5 .3 1-1.8 1.5-1.1 .5-2.1 1-.7 1.5-4.2 .5-.4 1 1.1 .5-.4 2-3.9 1.5 4.2 1.5-1.8 1.5 5 .5 1 .5-.4 .5 .4 1.5 4.4 .5 .4 .5-.7 1 1.8 1 .7 .5-.5 2 2.6 1.5-.4 .5-1 2-.5 1 1.2 1-2.1 1.5 1.9 .5-1 1.5 1.6 1-.3 .5-1.6 .5 .6 .5-.9 .5 .7 .5-1.2 1.5 1.4 .5-1.1 2 1.6 1.5-1.6 1 2.1 1.5-1.6 .5 .2 2.5-1.7 .5 .8 .5-.3 .5 .6 .5-.4 .5 .8 .5-.6 1 .6 1.5-1.6 2 1.9 1.5-1.6 1.5-.2 .5 2 1 .4 1.5-1.2 .5-1.3 .5 .2 2 3.3 1-1.5 2-1.3 1.5 2 1.5-3.9 2 2.4 1 0 .5 1 2 .6 .5 .8 .5-1 1-.2 .5 .7 1 0 1.5-1.2 1 1 1 0 .5 1.1 1.5-1.4 .5 .8 1-.3 .5-1.2 1.5 0 .5 1 .5-.3 .5 .4 2-1.4 .5 .6 .5-.5 .5 .9 1.5 .5 .5-.4 .5 1.7 .5-1 .5 .8 .5-1.8 .5 .6 .5-.6 .5 1 .5-.9 2 .8 1.5-1.5 .5 0 .5 .9 1.5 .1 1 1 2-1.6 .5 .7 .5-.7 .5 .4 .5-.2 .5 .9 1.5-2.1 1.5 2.8 1-1.1 2 .8 1.5-1 1.5 0 1 1.4 1.5-1.2 1 1 .5 .1 .5-.8" stroke="#84aee2" stroke-width="1.4" fill="none" stroke-linejoin="round"/>
<path d="M43 379.9l1.5 .8 1.5-2 1.5 1.2 .5-.1 1 1.4 1-.5 .5-1.5 .5 .2 .5-.6 .5 .8 1-.4 1.5 .2 1.5 1.3 2.5-1.7 1.5 1.1 1 0 .5 .8 2-1.7 1.5 1.7 1-.8 1 .3 1-1.9 2.5 .7 1.5-1 .5 1.1 1.5-1.4 .5 1.6 .5-.3 1-2.5 1.5 4 .5 .1 1.5-1.2 .5 .3 .5-.4 .5 .6 1.5-1.5 1 .4 1-.2 1 1.6 .5 0 .5-.2 1.5-3.6 2.5 .2 .5-1.2 .5-.1 1.5 1.4 2-1.2 .5 .3 2-3.1 1 .8 1-.8 .5 .3 .5-.3 .5 .5 .5-1.4 1-.9 .5 .5 1.5-2.3 .5 .3 1-1 4.5-10.7 3.5-17.9 3.5-22.5 .5-2.1 1-.5 1-1.7 .5 .5 3 13.9 2.5 17.2 3.5 16.1 4.5 11.8 1 1.4 2.5 1.3 2.5 4.1 1.5 .2 2-2.4 2 1.4 2.5-.9 2.5 2.5 1.5-1.8 1 1.5 1.5-.8 1 2 1.5-2.4 .5 .9 1 .4 .5-.7 .5-.1 .5 .5 1.5-1 1 .5 1.5-2.3 1 1 1.5-.8 .5 .7 1.5-1.5 .5 1.4 .5-1 .5 .3 .5-.8 1 .7 2.5 .6 1.5-1 2 1 1.5 .2 1-.5 1.5 1.6 .5-1.1 .5 .7 .5-.9 1 .2 2 2.7 .5-.3 1.5 .7 .5-1.2 2.5 .4 2-1 1.5-2.1 1 1 2-5.4 1.5-1.1 1-.4 1 .6 1-.8 3.5-14 2.5-19.6 .5-.4 3.5 31.4 2 8.3 5 4.1 3.5-3.4 .5 1.3 1-.4 2.5-2.8 1.5-4.8 .5 .5 1-2.4 1.5-.9 2-4.7 .5 .1 .5-.9 .5 .1 3-8.4 1-4.3 1.5-3.3 3.5-15 1.5-2.4 3.5-12 1-.6 1.5-2.5 1.5 2.3 2 7.6 3.5 25 1.5 5.9 1 6.8 1.5 5.1 2.5 6 1.5 1.9 1 .1 1 1.3 3-4.1 .5 .4 1-1.2 1 .6 1-1.2 1.5 2.3 1-1.7 .5 .2 1 1.9 2 .7 1.5 2.5 1-2.3 1 1.3 .5-.6 1 .2 .5 1.5 .5-.9 1-.5 2 3.3 1.5-1.5 1 2.3 .5 .2 1.5-1.4 1.5 1.4 .5 0 .5-.9 2 2.3 2-1.4 .5 1.8 .5-.1 .5-.1 .5-2.2 1.5 2 1.5-3.7 .5 .6 .5-.7 .5 .6 3-8.5 .5 1.1 1 .8 1.5-3 .5 1.2 1.5-1.1 2.5-7.9 1.5-3.5 .5-.1 1-2 2.5-9.5 2.5-16.2 4.5-46.6 1-5 .5-1 .5 0 1 3.3 1 7.9 4.5 44.6 2.5 13.8 .5 0 .5 2.4 .5-.6 .5 .4 1.5-4.5 1.5-6.8 1-2.9 .5 .3 .5 1.4 1.5 1.7 7.5 22.9 1-.9 1-2.5 1.5-.3 1-2 1-1.3 .5 .1 1.5-3.3 .5 .5 .5-.2 2.5 7.5 4 9.2 .5 3 1.5 2.3 .5 3 1 1.4 .5-.4 3.5 4 1-1.3 2.5 1.3 1.5-4.2 2-3.2 2.5-8.1 1.5-2.5 2-1.3 1-1.2 3.5-9.8 .5-.3 1-4 .5-.4 1.5 1.5 1.5 4.2 3 12.5 1 2.2 .5 .1 .5 1.1 .5-.1 .5 1 1 .4 .5 1.2 1-2.6 3-13.5 3-25.4 2-14.4 1-3.8 1 1.8 1.5 7.5 3.5 30.2 1.5 9.1 2 8.6 .5 1.5 1.5 1.5 2 5.8 .5-.4 3 5 .5-1.6 1.5 2 1-2.5 .5 .2 .5-1.1 2-.3 4-12.3 1-.9 2.5-5.6 1.5 .4 1.5 2.6 1 0 3.5 9.6 2 4.5 1 .2 1 2.7 .5 .5 1-.9 1.5 3.3 2.5-.9 2.5-6.7 1.5-1.8 4-23.9 1-4.7 2.5-6.7 1 1.4 1 3 3.5 16.3 1.5 2.9 1 4 1-2.5 .5 .4 3.5 13.1 .5 0 1 1.6 .5 2 1 .4 1-.7 1.5 2.8 1-.6 .5-1.2 .5 .4 .5-.5 .5 .4 1-.6 1.5-3.7 2-8.7 1.5-3.1 1 .2 1.5 3.6 1.5-.5 .5-1 .5 0 3.5-25.7 2-29.3 1.5-33.7 5-181.8 1-16.2 .5-.3 1 15.9 4 143 2.5 52.5 1.5 15.1 3 20.6 3.5 13.7 2 11.1 2.5 18.4 2.5 9.8 2 .4 1 .8 2.5-2.3 1 .8 1.5 .2 1-2 2.5-7.7 2-8.4 3.5-18.6 .5-1.7 1.5-2.2 1 1.1 2.5 8.8 2.5 14.2 2.5 10 3.5 7.4 1.5-.2 .5 1.2 .5-1 2-.9 1.5 2 1-1 .5 .6 1.5-2.6 1.5 1.6 .5-.8 1.5 1.9 1-1.7 1.5-.9 .5-1.4 2 2.6 .5-1.4 1-1.1 .5 .8 1.5-1.2 1.5 1.8 4.5-4.5 1.5 2.5 2-1.7 1 0 .5 1 2.5-.5 1.5 2 1-.4 .5-1.2 .5-.1 .5 .3 .5 1.7 1.5 .2 .5 1.4 1.5-1.3 1 .9 .5-.1 1.5-2.4 .5 .8 .5-.2 .5 .6 1.5-.6 1 .3 2 3.4 .5 .1 1.5-.8 1.5 1 1-.2 1.5-1.4 .5 1 1.5-2.1 2 3.6 1.5-3.1 1.5 0 .5 .6 1-.6 1.5 1 1.5-3 1.5 3.3 .5-.1 .5-1.4 1-.2 .5 1.1 1-1.1 1.5 1.7 1-1.5 1 2 1 .4 2-.8 1.5 .6 1.5-.5 .5 .5 1.5-1.6 1.5 1.6 2-.3 1 1.3 1.5-1.3 1.5 1 1.5-1.7 2 .3 .5 .4 1.5-.2 .5 .8 1 .3 1.5-.1" stroke="#1f3478" stroke-width="1.4" fill="none" stroke-linejoin="round"/>
<path d="M43 381.1l1-1.9 1 .3 .5-.4 1.5 1.3 1-1.8 1 .6 .5 1.1 .5-.8 .5 .6 .5-.5 .5 .7 1.5 .1 .5-.8 1.5 .9 1-.7 1.5 .4 1-1.1 2 0 1.5 2.5 1.5-3.1 .5 .1 1 2 1.5-.9 1 .9 .5-.2 .5 1.1 1-.5 1-1.5 1.5 1.4 1-.5 1-1.6 1.5 .3 .5-.6 .5 .5 1.5-1.1 1.5 2.3 2-1.4 1.5 .6 1-.5 1.5 1.6 .5-1.3 1 .8 .5 2.2 .5-.2 1.5-4.3 1.5 3.3 1.5-3.9 1.5 2.1 .5-.6 .5 .2 .5-1.7 1.5 1.9 .5-.1 1.5-2.3 1 .2 1 1.2 .5-1.4 1-.8 .5 .6 1.5-.3 .5-.6 2 .1 .5-.6 1.5-.6 2-2 .5-1.7 1-.6 .5 .4 .5-.6 1.5-4.3 .5 .5 2.5-2.5 1.5-3 1.5 1.2 1 2.4 1 .9 .5-.2 1.5 2.7 1.5-.2 2.5 4.7 1 .5 3 4.3 .5 .4 2.5-.4 2.5 1.4 .5-.3 2 1.4 .5-.3 1 .4 .5 1.3 1-.6 .5-1.2 1 .1 1-.6 1.5 1 .5-.7 1-.4 1.5 1.8 1.5 .9 3-1.3 .5 .6 1-1.3 1.5 .6 .5-.8 .5 .1 .5 1.1 1 .8 .5-2 .5 .2 .5-.6 .5 1.2 .5 .2 1-.6 .5-1.4 .5 .9 .5-.4 .5 .5 .5-.9 1-.5 1 1.3 1 .3 1.5-1.6 .5 .8 1.5-.7 1 1.2 2-.7 .5 .8 1 .3 1.5-1.7 .5 .1 1 1.9 .5-.6 1 .2 .5 .6 .5-.3 1.5 1 1-1.3 1.5 1.1 1-1.4 .5 .7 2-.8 .5 .9 1 .1 2-1.5 1 .4 .5 .9 1.5-1.8 .5 .9 1 0 1.5-1.7 .5 .7 1 0 2-3.4 1 .5 1-.6 1-3.3 .5-.9 1-.5 .5 .2 1 2.9 3 4.5 1.5 .4 1.5 2.3 .5-.7 2 .8 .5-1.2 1 .5 1 1.6 1.5-1.5 .5 .3 1-.7 .5-.9 .5 1 1 .6 2-4.2 .5 .3 1.5-.6 .5 .8 .5-.6 .5 .4 .5-.9 .5 .3 1-3 1 .3 1 2.3 .5-.1 1-2.5 1 1.1 1-2.9 1-1 1-2.4 .5-.4 1 1.3 2.5-2.3 1.5-3.3 1 1.3 .5-.7 .5 .1 2-2.5 1-.1 1.5-2.2 2.5 6.6 1.5 1.5 .5 1.7 .5 0 1.5 2.9 1 .1 .5 2 1.5 1.1 1 2.4 .5 .2 1.5-.9 1 1.5 1.5 .8 1.5-.9 .5 .7 .5-.8 1 0 .5 .7 .5-.7 1.5 1.2 2-3.5 1.5 3.8 1.5-.3 .5 .7 2-.1 1.5-2.4 .5 1.9 .5-.2 .5 .5 1-2.3 1.5 1.7 1-.7 .5 .5 1.5 .3 1.5-1.2 1.5 3.5 .5 .1 2-2.7 1.5 2.7 1.5-1.1 1.5 1.8 1.5-2.5 .5 .7 1.5-.9 1 2.3 1-.7 .5-1.5 1-1.2 3-2.3 2.5-4 1 .3 2-1 2-4.1 1-.1 1-2.2 .5-2.7 1-1.4 1 0 1.5-2.7 7-33.3 .5-.9 1.5-.7 2 5.7 1.5 8 4.5 18.1 .5 .5 1-.4 1 2.5 1 .4 2-3.3 2.5-1.9 2 1.6 2.5 6.2 2.5 4.1 1 .5 1.5 2.2 .5-.8 1.5 .5 1-.7 1.5 .6 2-1 1 1 1-.6 3.5 4.5 .5 1.4 1 .6 .5-.1 1 1.3 1.5 3 .5-.3 .5 1.6 .5-1.1 .5 1.1 .5-1.4 .5 1.5 .5-.8 .5 1.4 1 .2 1-1 1 .5 1.5 2.7 .5-.1 .5 .5 .5-.3 1.5-4 1.5 .5 1.5-2.8 1.5 1.6 1.5-2.6 .5-.1 1 1.7 2.5-3.7 1.5 .9 2-.7 .5-.9 1 1.1 1 .3 1 1.3 .5 .2 .5-.9 1 1.9 1 .3 .5-.6 .5 1.4 1 .8 1-.3 1-1.7 1 1.2 1.5-1.3 2-3.4 1.5-5.8 1-.8 .5 .3 1.5-2.8 2-.6 .5 .2 3 6.1 1 .7 .5-.2 3 7.6 1.5-.1 .5 1.1 .5-.8 1 .5 1.5 1.9 .5 0 .5 1.1 1-.1 1-1.5 1 .1 1.5 2.8 2-2.8 .5 .2 .5-.6 .5 .3 2-1.5 .5 .7 .5-.1 1.5-1.8 .5 .5 .5-.7 .5 .4 1-1.4 1 0 .5 .7 .5-.2 .5-1 3.5 2.7 .5-.3 1.5 2.5 1 .6 1.5-.2 1 .9 1.5-.6 .5 .3 .5-.6 3 .9 1-1.2 1-.3 1-1.6 1 .3 1-2.5 1.5-.2 1.5-3 1.5-.5 1.5-3.2 1-.9 1.5 3.3 .5-.5 .5 1.2 1-1.3 .5 .2 1 3 1.5-.7 1 .6 1.5 3 1.5-1.3 1.5 3.3 1 1 .5-.4 .5 1.5 .5-.8 .5 1.1 .5-.8 .5 1.3 1.5-1.8 1.5 2.1 .5-.5 .5 .6 .5-1.1 .5 .2 .5-.5 1 .1 1.5-1.2 1-1.2 .5-2 1-.1 .5 .9 1.5-1.9 .5 .8 1-.7 1.5-2.6 1-.1 2.5-3.1 1-2.4 4-27.1 4-40.6 1-4.1 1-1.9 1 4.9 4 35.3 3 17.5 3 9.2 2 4.8 2 3 3.5 8.3 2 2.2 1-.9 1.5 4.1 1.5-2.2 1.5 2.4 2.5-2 1.5 .5 1.5-2.1 1-.1 2-1.3 .5 .3 1.5-3 2-1.7 1-2.6 2 .7 1-.6 .5-1.2 1 .7 1.5 4.4 .5 .1 1.5 2.7 .5 .5 1.5-.1 1.5 2.9 1.5-.4 .5 .3 1.5 3.2 1.5-1.8 1 .7 2-.2 .5 .7 1.5-3 .5-.2 2 2.8 .5 0 .5-.1 .5-.9 1-.3 .5 .6 .5-.7 .5 .4 1.5-1.4 .5 .7 1.5-.4 .5 1.3 1 .4 1.5-2.4 .5 .4 .5-.4 5.5 1.2 .5-.3 .5 .7 .5-.5 .5 .9 2-2.1 .5 .6 .5-.9 1 .1 1 1.1 1-.8 1 1.2 1.5-1.8 2 2.8 .5-1 1-.1 1 1.1 1.5-1.9 1 1.2 1 .1 .5-1.8 1-.1 1 1.8 .5-.3 .5 .7 .5-.4 .5 .5 .5-.5 1 .5 1-1.4 1.5 .4 1.5-1.3 .5 1.1 .5-.2 1-1.4 2 3.3 1 .3 1.5-.1 .5-.6 .5 .5 .5-.6 1.5 .8 3-2.3 .5 .5 1-.1 .5 .6 1.5-.6 .5 1.3 1 .9 1.5-2 1.5 1 .5-.5 .5 .6 .5-.7 1 .3 1 1.1 .5-1.4 .5 .4 .5-.5 .5 1 .5-.6 1.5 1 1.5-1.8 1 1.3 1-1.6 .5 .2 1 2.1 1-1.8 1 .7 2 .1 .5 .6 .5-.3 .5 .3 .5-1.6 1-.6 1.5 1.3 .5-.2 1 2 1.5-1.8 1 .1" stroke="#5890d6" stroke-width="1.4" fill="none" stroke-linejoin="round"/>
<path d="M43 378.7l1.5 3.1 1-1.3 1-.5 .5 .2 1.5-2.6 1.5 3.4 .5-.9 1-.5 1.5 1 1.5-1.4 .5 .7 .5-.9 .5 .5 .5-.3 .5 1.4 2-2.6 .5 .9 .5-.2 1.5 3 1.5-2.4 1-.8 1.5 2 1.5-1.5 1 1.9 .5-.3 .5-1.6 .5 .8 .5-.6 .5 .6 .5-1 .5 1.6 1 0 1.5-1.7 .5-1.6 1.5 3.3 1.5-2.3 1 1.5 1-.7 1.5 2 .5-1.1 2-.3 1.5-1.7 1.5 1.9 .5-.6 .5 1.7 .5-.7 .5 .3 .5-.7 .5 .2 2-1.8 1 1.1 1.5-1.5 .5 .6 .5-.1 .5-1.3 1 .8 1.5-.7 .5 1.3 2 0 1.5-3.4 1.5 3.6 1-.5 .5-1.6 1-.8 .5 .5 .5-.9 1.5-.6 1.5 .1 1.5-2.9 2.5-2.4 1.5-4.2 1-.4 1-1.5 1-.2 .5 .8 .5-.3 1.5 1.4 .5-.1 1.5 2.6 1.5 .1 1.5 5.4 .5 .4 1.5-.9 2.5 3.3 .5 1.4 .5 0 .5-1 .5 .6 .5-.1 .5 1 1-.3 2 2.1 .5-1 2 1.1 2-1.5 1.5 .6 1.5 2.1 1-.9 .5 .5 .5-.3 1-1.2 1.5 .2 1.5-2.1 2 3.7 .5-1.6 1-1.2 1 1.8 1 .2 1-1.4 2.5 1.1 .5 1.2 .5 .1 1-1.2 1 .7 1.5 0 1.5-1.9 1 .7 .5-.5 .5 .6 .5-1.2 1.5-.6 1.5 2.5 .5-.5 .5 .6 1.5-.2 .5-1 .5 .5 .5-1 .5 .6 .5-1 1 .1 1 1.6 1-.5 1.5 1.1 .5-1.2 .5 .7 .5-.5 .5 .5 1.5-2.3 1.5 2.2 .5-1.4 1 .3 .5 1 .5-.6 2-.5 .5 .8 1-1.6 1-.3 .5 1.2 1-.3 1.5 1.8 1-.5 2-3.8 .5 0 .5 1.5 1 .7 1-1.5 .5 0 .5 .7 .5-.2 1.5-3.3 1-.7 .5 .8 1.5-4.3 1 .3 .5-.5 1 1.9 .5 3.4 1 2.6 1 1.2 1.5-.5 .5 1.1 1 .6 .5-1 1.5 2.4 1-.2 1.5-2 1 .7 1-.6 1 .1 .5 1 .5-.8 .5-.1 .5-1.2 2-.3 .5-1.5 .5 .1 .5-.8 .5 1.1 .5-.5 .5 1.2 .5-1.1 .5 .6 .5-.7 1.5 .6 1-2.1 .5-.1 .5 1.2 .5 .1 1-2.5 1-.2 1-1.4 1-.2 .5-1.1 2-1.9 1.5-.6 1.5-1.5 2 .7 1.5-2.9 1-.8 1.5 .6 .5-.8 1.5 1.5 1 0 2 4.6 1.5 .7 1.5 3.6 1 .2 1.5 3 .5-.6 .5 .7 .5-.5 .5 .7 1-1.1 .5 .1 2 3.2 1-1.7 2 1 1 0 .5-1.6 1.5 2.3 .5-.3 .5 .3 .5-.2 1-2.3 .5 0 1 1.5 .5-.6 2 1.4 1.5-1.2 .5 .3 1.5-.1 1.5 1.3 3-1.7 3 1.8 .5-.1 .5 .8 .5-.6 .5 1 .5-.4 .5 .4 1-2.1 .5-.1 1 1.7 3-1.7 1.5 2.5 1.5-.9 .5 1.5 .5-.1 1-2 1.5 .8 1.5-3.1 .5-.7 .5 .4 1.5-2.7 1 .1 .5-.6 1 1.4 1.5-2.8 .5 .7 1.5-.5 1.5-5.2 .5 1 1-.5 1.5-1.9 1.5-4.2 .5-.2 2.5-7.7 4.5-23.7 2.5-6 2 4.1 5.5 26.2 2.5 5.5 1-.4 1.5 .7 1-2.4 2-2.4 1.5 .1 3 6.2 1 1.6 .5-.5 1 .7 1.5 3.5 1 1.1 .5-.7 .5 .6 .5-.5 .5 1 1 .3 .5-.9 .5-.1 .5-1.8 .5 .4 .5-1 .5 1.5 .5-1.5 .5-.1 1 1.3 1-.6 1 1.9 .5 0 1 1.5 1.5 .7 .5 1.9 1 1.2 .5-.2 2 4.5 1-.5 .5-1.1 1.5 2.5 .5 .4 .5-.4 .5 1 .5-.5 .5 .5 .5-.5 .5 .6 1-1 1.5 2.2 1-2.2 1-1 .5 .1 .5-.5 .5 .4 1.5-2.7 .5 .8 1.5-3.2 .5 .1 1 1.9 1.5-.2 .5 .3 1-.9 .5 1 .5 0 1-2.2 1-.5 1.5-2.3 1.5 2 1-.6 .5 1 .5-.1 .5 1.6 .5-1.4 1 1.4 .5 1.6 1-.7 1.5 2.7 .5-1 .5 .5 .5-.9 2 0 3-4.6 .5 .4 3.5-5.6 1.5-.8 .5-.9 1 .9 1 .5 .5-.4 1 .7 2.5 6.3 1.5 1.9 .5 0 1.5 3.3 1.5 .1 1.5-.7 1.5 0 1.5 2.2 1-1.3 .5 .4 1 3.2 1-2.2 1 .6 2-.5 1-2.2 .5 0 .5 1 .5-.2 1-2 1.5-.5 1-1.1 .5 .6 1-.6 .5-1.5 1 .3 1.5 3 .5-1.1 1.5 .1 1-1.5 1 2.3 2 2.7 1-.8 1 .9 1-1.2 1.5 1.3 .5-.7 .5 .2 1 2.1 1-.9 2 .1 1.5-2.8 1 2.8 1.5-2.8 .5 .6 1.5-3.4 1.5-2.2 1.5-1.1 1.5-2.1 1 1.6 1.5 .3 2.5 2.7 .5-.1 .5 1.2 .5-.3 1 .6 1 1.3 .5-.4 .5 .5 .5-.9 1.5 1.9 1-.1 1 1.9 .5-.7 1 .7 .5 1.1 1-1.2 2 1.7 2-2 2 2.7 2-3.6 1 0 .5 .5 2-3 2-.4 1 1.6 2-2.4 .5 1 .5-.4 .5 .5 1.5-5.7 1-1.2 3-14.5 5.5-43.7 1.5 1.9 .5 1.9 4.5 35.1 2.5 10.4 .5 1.2 .5-1.5 1.5 5.3 .5-.7 .5 .9 .5-.7 1 2.6 .5 .5 .5-.6 .5 .5 1 3.6 1 .8 1.5 3 .5-.3 1.5 4.1 1-.4 1.5 2.3 1-.5 1 1.2 1.5-1.2 .5 .7 1.5-.4 1 1 .5-.7 .5 .3 1.5-1.2 1 .2 1.5-2.9 .5 .4 1-1.3 1-3.7 .5 .8 .5 0 .5 1.2 .5-1.4 .5 .4 1-.6 1-2.2 .5-.1 3 2.6 .5 0 1.5 3 .5-.6 1 .6 2 3.4 1.5 .2 .5-.3 1.5 .7 .5-.4 2 1 2-.8 1.5 2.2 1.5-2.8 .5 .6 .5-.5 1.5 2 1.5-1.5 .5 1.6 1.5-2.5 1 1.3 1.5-.2 .5 .6 .5-.3 1.5 .4 1-1.2 1.5 2.2 1.5-1.9 .5 .8 .5-1.6 .5 1.3 1.5-1.5 .5 0 .5 1.1 .5-.3 1 .8 .5-.8 2-.6 .5-.7 1 .9 .5 1.3 1 .2 .5-.7 1 1 1-.6 .5-1.7 1.5 2.8 3-1.5 1.5-1.7 1.5 2.8 .5-.9 .5 .5 .5-.8 .5 .1 .5-1.2 2.5 .7 2.5-.7 1.5 1.9 .5-.7 .5 .7 .5-.6 .5 1.2 1.5-1.8 1 1.3 .5-.1 .5 .5 1 .1 1-.9 1 1.6 1-.8 .5-1.2 1 1.4 1.5-1.7 .5 .8 1.5-1.5 1 1.3 .5-.8 1.5 2 .5-1.4 .5 0 1.5 2.5 1.5-1.2 1.5 .3 1.5-2.7 .5 .8 .5-.3 .5 1.5 1 .7 1.5-2.3 2 1.9 .5-.8 1.5 .7 .5-.6 .5 1.1 .5-.5 .5 .5 .5-.5 .5 .8 1-1.3 .5-.2 .5 .4 1.5-.9 .5 1.6 1 .4 .5-1.8 1-1.2 1.5 2.7 1 .3 1-1 .5 .5 1.5-2.7 1.5 2.3" stroke="#74a6e0" stroke-width="1.4" fill="none" stroke-linejoin="round"/>
<path d="M43 379.7l1-.3 1 .6 1.5-2.2 1.5 2.4 1.5 0 .5-.8 1.5 1.7 1.5-1.1 .5 .8 1.5-1 .5 .8 2-2.3 2 1.6 .5-1 2.5 .5 .5 .7 .5-.7 1.5 .4 2.5-1.3 1 1.3 1-.9 1.5 1.1 .5-1.3 .5-.1 1 1.2 1-1.1 1-.4 .5 1.5 1 .3 1-2.1 1.5 1.1 1.5-1.9 2.5 2.8 .5-1 1 .1 .5 .7 .5-1.2 1-.2 1 2.9 1.5-2.5 .5 1.5 2.5-2.3 .5-.1 1 1 1-1.9 1.5 .9 .5-.7 1.5 .6 1-.4 .5 .3 1.5-1.1 1 .9 1.5-1.1 1 .9 .5-.1 3.5-3.1 1 .5 .5-.4 3.5-5.1 1 .5 1.5-4.2 .5 .6 1-.1 .5-1.3 .5 .2 .5-.8 1.5-.8 .5 1.3 1 .8 1-.3 .5 .6 1 2 1.5 1.6 .5 2 1.5 .8 1 2 .5-.8 2.5 2 .5 1.4 .5-.6 .5 .8 .5-.6 1 1.2 2.5 .7 .5-.9 .5 .2 1 1.7 2-1.6 1.5 2.7 1-2.2 1.5 .5 1 1.1 1.5-.9 .5 .9 .5-.9 .5 .6 .5-.6 1.5 1.6 1-1 1.5 .2 1.5-1.9 1.5 1.7 .5-.5 .5 .5 1 1.7 .5-1.3 1-.7 .5 .7 .5-.5 2 1.5 1.5-2.9 1 .8 .5 1.3 1.5-1.7 .5 1.3 .5 0 .5-1 2-1.9 .5 .1 .5 1.7 1 1.1 1-2.2 .5-.2 1 .9 1-.2 1 .6 .5 .8 1-.2 .5-1 1 1 1 0 .5-1.1 1.5 2.8 .5 .1 2-2.4 .5 .3 1-.8 1-.1 .5 1.1 .5-.4 .5 .8 1 .2 2-2.3 1.5 2.5 1-1.8 1-.7 .5 .8 .5-.7 1-.3 .5 .6 1.5-.8 1.5-2.3 1.5 2.2 3.5-5.4 2-1.8 1.5 5 .5-.5 .5 .2 1.5 2.9 1 .2 1.5 1.5 2-1.5 .5 2.1 1-.5 .5-.9 1.5 .9 3-1.4 1 1.5 1.5-3.4 .5 1 1-.4 1.5-1.8 1 .4 .5 1.6 1-1.3 .5-1.6 1-.1 1.5 1.3 3.5-4 .5 .7 3-3 .5-.1 .5 .7 1-1.2 1.5-.3 1-1.1 .5 .3 2-2 2 0 .5-.9 .5 .9 .5-.6 1 .5 1.5 2.8 .5 0 1.5 1.9 .5-.7 .5 .4 1 3.5 .5-.3 1.5 3.4 1.5 .3 .5 1.2 1-.2 .5-1.6 .5 .4 .5-.5 1 1 .5 1.5 .5 .2 .5-.5 1.5 .9 1-1.9 .5 .9 .5-.3 .5 .5 .5-1.2 1.5 1.5 1-1.6 .5 1.1 .5-.5 .5 .4 .5-1.5 .5 1.2 .5-.2 .5 1.1 1.5 1.2 .5-.9 .5 .7 1.5-1.1 1 1.1 .5 0 1-2.3 1-.7 .5 .9 .5-.4 1 .2 1 2.8 1.5-2.1 1 1.7 3-.6 1 .8 1.5 0 1 .9 .5-.7 1.5-.6 1-1.6 1.5 2.3 2-.1 1-2.5 1 .2 .5 .7 1.5-2.3 2 .2 1-.6 .5-1.1 2-.6 1-1.9 1.5-.9 1.5-2.2 3-2.5 4.5-11 3.5-15.8 2.5-4.3 .5 .4 1-.8 2.5 7.5 1 5.4 3 9.5 .5 1.2 1-.4 1.5 3.7 .5-.2 1.5-2.6 .5 .7 .5-.6 1 0 1.5-3.3 1 .3 1.5 2.6 1.5 1.2 1 2.9 1 .8 .5-1.1 1.5 3.9 .5 .3 .5-.4 .5 1.3 1 .4 .5-1.1 2-1.2 .5 1 1.5-1.1 1 .9 1-1.8 1 2.2 1 .3 .5 .8 1 2.2 1 .3 .5-.5 1 1.4 .5 1.8 1 1.1 .5-.1 1.5 3.2 1.5 1.2 .5-1 1 0 1 2.2 1-.3 .5 .6 .5-.3 1.5 1.3 .5-1.3 1-.9 .5 .7 1.5-1.4 1 .3 1.5-2.1 .5 .1 1-.7 .5-1.6 1-.2 .5 1.7 1.5-.5 .5 .8 .5 0 1-2.1 1.5-.5 .5-.6 1 0 .5 .5 .5-.4 .5 .7 3-1.6 1.5 1.8 1.5 .6 .5-.3 1.5 2.4 1-.9 1 1.7 1.5-1.3 .5 .1 1.5-4.6 1.5 1 .5-1.8 2.5-4.6 .5 .4 .5-1.1 .5 .3 .5-1.1 .5 0 1.5 1.4 .5-.1 2 3.5 1.5 .8 .5 1.9 1.5 1.9 .5 1.6 .5-1.1 1-.6 1.5 4 .5-.4 .5 .8 .5-.1 .5 1.3 .5-.4 1 .5 1-.2 1.5-1.9 1.5 1.4 .5-.5 .5 .6 .5-.3 .5 1 1 0 .5-1.1 2 .3 .5-.7 2-.9 .5-1.5 1-1.1 2 2.7 1 .3 1.5-2.6 .5 .6 1.5-.7 .5 1.4 1 1 3-.2 1.5 2.8 1.5-2.2 1 .3 1.5 2.1 1 .4 1-.3 .5-.6 1 .3 1.5-2 .5 .9 1-.7 1-2.4 .5-.3 1 .7 2-2.1 3-5 1.5 2.5 1-.8 .5 .3 2 4 1-.2 1-1.9 1.5 2.1 1.5 .3 .5 1.3 1.5 .9 .5-.1 1 1.3 .5 1.8 .5 .2 1-1.3 .5 .1 1 1.7 1.5-3 3.5 1.8 .5 1.1 2.5-2.8 1.5-2.8 .5 .9 1.5-1.4 1 1 2-.5 1-1.7 .5-.1 .5 .8 2-5.3 2-6.3 2-10.4 5-39.6 1-3.5 .5-.1 1 2.2 1.5 7.2 3.5 27.8 1.5 8.2 3.5 9.1 .5-.2 .5 .9 .5-.9 .5 .6 1.5 3.1 2.5 2 1 1.9 .5 2.3 2.5 4 .5 .6 .5-.7 1 .1 1 2.5 1.5-1.4 .5 .6 1-.7 .5-.9 1.5 2.8 1-2.4 .5-.2 1 .5 .5-.7 1.5-.1 4-6.3 1 .1 1-.8 1.5-2.4 .5 .8 1.5-.2 1.5 3.1 1-1.1 .5 .3 1 2.8 .5-.3 .5 .3 1 2.5 1 .5 1 2 1 .9 1-1.4 1.5 1.8 .5-.8 .5 .3 1-.3 .5-.8 2 1.6 .5-.5 1 .1 1 .6 1-.2 .5 .7 .5-.5 .5 .7 .5-1.8 .5 1 1.5-.7 .5 .5 1.5-1.2 1 2.1 .5-1.2 1-.1 .5 .7 .5-.1 .5-1.4 1.5 2.5 .5-1.1 .5 .7 .5-.8 1.5-.1 1.5-1.9 1.5 1 1-.8 .5 .3 1-.5 .5-1.2 2 2.6 .5-.8 .5 .3 .5-1.3 .5 1.3 .5-1.1 .5 1.3 .5-.3 .5 .9 1-1 2-.4 1 1 1-.1 1 .4 1.5-1.7 2 2.2 1.5-1.6 .5 .1 .5 1.1 1.5-1.5 1 1.4 1-.5 2-.1 .5-.7 1 1.8 .5 .1 .5-1.1 .5-.2 1 1.9 2-1.2 1.5-.4 .5 .5 .5-.9 .5 .6 .5-.5 2 1.1 1.5-2.3 1.5 1.6 .5-.7 .5 .4 2 2.3 1.5-3.1 1 2.6 1 0 .5-1.1 1-.5 2 1.9 1-1.5 .5 0 .5 1.2 1.5-1.7 .5 .9 1-.1 1.5-2.4 2.5 2.6 .5-.5 .5 .3 .5-1.2 .5 .6 .5-.6 1 .6 .5 1.4 2-1.4 2.5 2 1-1.1 1 1.1 2-3.1 1.5 3.3 .5 .2" stroke="#6298da" stroke-width="1.4" fill="none" stroke-linejoin="round"/>
<path d="M43 380.8l.5 .1 .5-.6 .5 1.3 .5-.6 1.5 .4 1-1.4 1-.2 3 1.3 .5-1.2 1-.5 .5 1.3 1.5-.7 1.5 1.8 1.5-.7 1 .5 .5-1 1 .8 1-.7 .5-1.2 .5 .6 1 .1 1 1.7 1.5-2.3 1.5 2.3 .5 0 .5-1.5 1 .8 1 .1 1-1.5 1 .2 .5 1.8 .5 .2 2.5-3.3 1.5 1.9 1-1.5 1.5 2.8 1.5 1.1 2-2.5 .5 .4 .5-.7 2 .3 .5-.9 1.5 1.4 1.5-2.5 .5 1 2 .4 1.5 1.5 1.5-2.3 1-.5 1 1.1 .5-.1 1 1.3 .5-.1 1-2.2 .5-.2 .5 .9 1.5-1.3 1 1 1-.8 1 .7 1.5-3.7 1 .4 1-1.8 1.5-.1 1.5-2.6 1 .6 1.5-3.7 1-.4 .5 .2 .5-1.7 1 0 .5 .9 1.5-1.7 1 0 1 .5 3.5 7 1.5 .8 1.5 3.3 2-1.4 1 2.7 .5 .6 .5-1.2 1.5 2.6 1-1.3 1 .2 .5-.5 1.5 2.2 .5-.8 1 .9 1.5-.6 .5 .8 1-.4 .5 .5 1.5-2 .5 .9 1.5-1.3 .5 1.5 .5-.2 .5 1.4 .5-.8 .5 .8 .5-1 1 .4 1-1.5 1.5 .7 1-.1 2.5-1.4 1.5 2 .5-.5 .5 .3 .5-.8 .5 .4 .5-.4 1 1.4 .5-.3 1.5 1.2 3-2.8 1 1.9 1.5-2.5 1.5 1.8 .5-1 1.5 1.2 1-1 2.5-.3 .5 .5 1-.1 .5-.5 .5 .8 1.5-.7 1.5 2.1 3-1.1 .5 .6 1.5-1.1 1 .8 1.5-.3 .5 1.6 1.5-1.9 1.5 1 .5-.8 .5 .6 .5-1.8 .5 .8 .5-.8 .5 1 2.5-1.2 1.5 .7 .5-.7 1 .3 .5-.7 1.5-.4 .5-1.2 1.5 .2 1-2.4 2.5-2.3 1 1.5 1 3.9 .5 .6 .5-.5 1 1 1 2.2 1 .3 1.5-1 .5 .3 1-.6 1 .5 .5 .9 1.5-1.2 1 .7 1.5-2.3 .5 .5 .5-.3 .5 1.2 1-.6 1-1.7 2.5 1.6 1-1.6 .5-.4 .5 .3 2-1.5 1 .7 1 0 .5-1.4 1-.9 .5 .5 1.5-1.8 .5 1.2 .5 0 1.5-3.2 1.5-.4 2.5-3 .5 1.2 .5 .6 .5-.2 1-3.1 1 .6 1.5-1.8 .5 1.5 .5 .2 1-1.4 1.5 3.3 1 .5 .5-.3 1.5 2.3 .5 0 2 4.1 1.5 2 1-.9 1 .8 1 1.9 .5 .2 1-.5 1 1.5 1.5-.9 1-1.9 .5 .7 .5-.4 1 1.8 .5-.2 1-2.7 1.5 2.4 3-.5 .5 .5 1.5-1.6 1 1.6 2.5 1.3 1.5-2.5 1 1.5 1.5-.3 .5 .6 .5-.8 .5 0 1 1.2 .5-.2 .5-1.3 1.5 3.4 .5-1.7 .5 0 .5-1.1 2 1.8 2-.8 .5 .7 1.5-.2 .5 .6 1.5-.7 1 .8 .5 1.3 2.5-2.4 1-2.3 1 .3 1.5-1.2 .5 .8 1-.6 .5-1.3 1.5 .2 1-2.1 .5 0 .5 1.6 1-.7 .5-2.4 2-2.8 .5-.3 .5 .4 .5-.4 1-2.1 .5 .7 .5-.1 1.5-4.2 .5 .3 2.5-7.6 3.5-16 2-3.5 1.5-1 1 .3 4.5 19.4 3 7.2 1.5-.4 1.5 2.4 2.5-5.7 .5 1.3 1.5 0 1 1.5 .5-.1 1 3.1 .5 .9 1 .2 1 2.8 1 .5 .5-.5 .5 .6 .5-.3 1.5 2.2 1.5-1.7 1 1.2 1-.6 1 .8 1-2.5 2.5 1.3 1-.6 4.5 4.7 1 2 1.5 0 .5 2.1 .5-.1 .5 1.2 1.5 .8 2-1.4 2 2.7 1-.3 1.5-2.7 1.5 1 1 .1 2-2.7 1 .3 1.5-.5 1.5 .7 1-.2 1.5-2.2 2 .2 1.5-2.6 .5 .5 1 0 1.5 2.1 .5-1.2 1-.8 1 2 1 .6 .5-.2 .5 1 .5-.2 .5 1 .5-.4 .5 .8 .5-.8 .5 .5 1-.8 2 .9 1-1 .5-1.5 1 .2 1-1.1 1.5-4.6 1-1 .5 .9 2-4.3 1.5 1.9 .5-.1 .5 1.5 1 1 .5-.2 3.5 6.3 1 0 1.5 1.2 1.5 4.2 1.5-2.4 1 .3 .5 .9 .5-.2 1 .3 .5-.5 1.5 1.3 1-.5 .5 .6 .5-.9 1 .2 .5 .7 1.5-1.8 1-.4 .5 .6 .5-.9 1.5 1.5 1-3 2-.2 .5 1 1-.8 1 0 .5-.8 .5 0 1 1.8 1-.3 .5 .6 1.5-.4 1 1.6 .5-.3 .5 .9 .5-.3 .5 .8 .5-.9 .5 .6 .5-.5 .5 .5 .5-.5 1.5 2.3 .5 .1 1-1.1 1 1 .5-.8 1.5-.1 .5-2 1.5 2 .5-2.3 1-1.4 .5 .8 2-3.7 1-1.1 1-.3 .5-1.7 1-1.1 1.5 1.2 2 .1 2.5 3.3 2.5 1.5 1.5-1.2 .5 .2 2 2.9 .5-.2 3.5 3.1 .5 .2 1.5-1.1 1.5-.1 .5 1 1-.1 1-1 .5 1 1-.4 1.5-4.3 1 .1 .5 .5 1-.8 .5 1 1 .3 .5-1 .5 1.1 2.5 .9 .5-1.3 3-2.7 1.5-6 1-2.1 4.5-29 2-16 .5-2.6 1-1.7 1.5 5.4 3 21.8 2 11.3 1.5 5.4 1.5 3.2 1.5 .5 2.5 5.7 1 .6 1-.8 .5 .5 1.5 3.9 2 1.6 2 4.2 1 .7 1-1.9 1.5 2.5 2-1.7 1.5 2.8 1.5-3.8 1 1.9 1 .2 1.5-3.3 1.5-1.9 1 .1 1.5-1.5 1 .3 1.5-3.2 1 .9 1-.2 1.5 2 1 0 3 1.9 1 1.8 1 .2 .5-.6 2 1.5 .5-.4 2 2.3 1 .5 1-.3 1 .6 1-.7 1.5 .8 1-1.2 1-.3 3 .5 1.5-1.6 1.5 2.8 .5-1.8 1 .1 1.5-1.3 1.5 1.7 .5 .1 1-.7 .5 1.1 1.5-2.5 2 2.6 1-1.6 .5 .8 .5-.4 .5 .7 1-1.8 .5-.1 1 1.2 1.5-1 1 .4 1 1.2 .5-.8 1.5-.4 .5-.9 1.5 2.7 1-2.1 .5 .2 1 2.7 1-1.1 1 .3 1-1.3 2 1.1 1-2.3 .5 .2 .5 2.3 1 1.5 1.5-2.8 1 .3 .5-.6 1.5 2.1 1.5-.2 1.5-1.2 1 1.7 1 .5 .5-1.6 2.5-2.6 1 1.9 1.5 0 .5 .9 1.5-1.3 1 2.7 1 .2 .5-1.8 .5 .6 1 0 1-.7 1 1 1.5-1.8 .5 1.6 1.5-2.5 1 1.7 .5-.9 .5 .6 .5-.4 .5 .6 .5-.3 .5 .4 2-.5 .5-.8 1 1 .5 1.6 1-.3 .5-1.4 .5 .6 .5-.6 .5 .6 .5-1.5 .5 .2 .5-.9 1.5 1.9 .5-.4 1 .9 .5 1 2-1.3 2.5 1.6 .5-.9 1.5-.1 .5-.5 1 1.2 1-.6 .5-1.3 .5 .2 .5-1.4 1.5 .6" stroke="#6ca0dc" stroke-width="1.4" fill="none" stroke-linejoin="round"/>
<path d="M43 378.3l1.5 .6 .5 .8 1.5-.5 .5 1.4 1 .5 .5-1.9 1-1 .5 .5 .5-.5 1 .1 .5 .9 .5-.4 .5 .6 2-.5 .5 1.2 1.5-1.8 1.5 1.3 .5-.6 .5 .3 .5-.9 1.5 1.6 1.5-1.5 1 1 1-1.4 1 .1 .5 1 1-.3 .5-.8 .5 .4 1-.1 .5-.6 1 .3 .5 .7 2.5 .1 2 1.4 1.5-2.4 2.5 1.4 1.5 1.6 1.5-1.1 .5 .2 1-1.5 1.5 2.3 1.5-2.2 2-.5 2 1.5 1.5-2.8 1.5 2.2 1-.6 1.5 1.2 2.5-2.6 2.5-.6 .5 1 1.5-1.6 .5 0 .5 1 2-1.4 1.5 .8 2-2.9 1 .7 1.5-2.9 .5 .7 .5-.4 1.5-2.7 .5 .1 2-2.7 .5-.1 1 .2 1.5 2.7 .5 .2 1-.8 1 2.2 1 .4 .5-.6 1.5 2.8 .5-.1 1 1.6 3.5 3.3 1-1.5 1.5 1.8 1.5 .5 1-.5 .5 .5 2-.7 1.5 1.2 1-1.4 1.5 2.6 2.5-2.8 1.5 1.9 1-1.8 .5 .4 .5-.8 1 2 1.5 .2 .5 1.3 1.5-1.5 .5 1.1 1 .3 1-1.3 1 0 .5 .7 1.5 .2 1-1.9 1.5 .9 2-1.4 .5 .4 .5-.7 .5 1 .5-.4 .5 .7 1.5-.4 1.5-1.3 1.5 1.2 1.5-1.1 1 2 1.5-.6 .5 .6 1.5 .1 1.5-1.5 .5 1 1-.6 .5 .8 1 .5 .5-.6 .5 .5 1.5-1.5 1 2.6 1.5-3.1 1.5 2.5 1.5-1.4 2 .8 2.5-1.7 2 1.2 2.5-.7 .5 .5 1-.2 1.5-1.4 1 .8 1.5-3 2-.3 1-2.3 1-.7 .5 .5 .5-.8 2 4.5 2 2.4 1 0 .5-.7 .5 .8 1.5-.9 1 2.6 2-1.8 .5 .5 1-.4 1.5 .9 1.5-.2 1-1.3 2.5 1.4 1.5-3.2 1.5 2.1 1-2.5 1.5 .4 .5-1 .5 1 1 .3 1.5-2.4 1.5-.2 1-1.7 1.5 1.8 .5-1.6 1-.5 .5 .4 .5-.3 .5-1.3 .5 .6 .5-1.4 .5 .3 .5-1.1 .5 .6 1-1.1 .5 .5 .5-.6 .5 .3 1.5-2.8 .5 .1 1 2.6 1 0 .5-.6 1.5 2.5 .5-.7 1.5 2.1 .5 .1 .5 1.4 1 .8 .5-.5 1.5 2.8 2-.5 1.5 2.7 1.5-.8 .5 .8 1-.2 .5 .8 1-.2 .5-1.2 .5 1.3 1.5-1.3 1.5 1.8 1.5-2.9 1.5 1.8 .5-.6 .5 .3 1.5-.3 1.5 1.3 .5-1 1 .2 2 2.6 1-.5 1-3.3 .5-.1 1 1 1-.6 1.5 1 .5-.7 .5 1.2 .5-.7 .5 1.1 1.5 1.3 2-3.2 1.5 3 1-1.5 1.5-.5 1.5 .7 1.5-.8 1.5 1.3 2-2 1-.2 .5 1.9 .5-.7 .5 .8 .5-2.1 .5 0 .5-1.6 1-1.3 1 1.2 2-1.4 1 1.4 1.5-4.3 1 1.4 2-2.8 1 .4 .5-.8 .5 .2 .5-1.1 .5 .4 .5-.7 3.5-7.5 4-14.3 .5-.1 1.5-3.2 .5 .2 1.5 4.2 .5 0 2 5.9 1.5 6.7 1 1.7 .5 0 1 2.7 2 2 2 .1 2-5.2 .5 .4 .5-.7 .5 1.2 1.5 1 .5-.5 2 .8 2 2.6 1-.3 1.5 4.8 1.5-2.1 2.5 2.5 1.5-2.7 .5 1 .5-1.8 .5 .6 .5-1.9 1 .7 1 1.6 .5-.5 1 .9 2 5 1-.5 1 .3 .5 1.1 .5-.6 .5 .6 1 .2 1 1.6 1.5-.7 1 1.6 1 .3 1.5 1.6 2.5-1.7 .5 .9 1-.2 .5-1.3 1.5 .9 1 .1 1.5-1.7 .5 .7 1-1 1.5-.1 1-1.5 1.5 .8 .5-1.1 1.5-.6 .5-1.5 .5 .6 1-1.5 1.5 .3 .5-1 1.5 3.1 1.5-.5 .5 .9 .5-.1 1 .9 1.5 3.7 1.5-3.1 1 .4 1-1.5 .5 0 .5 1.2 1 .7 1-1.4 .5-1.9 1-1.1 .5 .7 .5-.3 1.5-3.8 .5 0 1-2 .5-.3 1 .8 1-.4 .5-1.2 1 1 .5 1.6 .5-.1 1.5 4.6 4.5 5.1 1 .7 .5-.4 1.5 .3 .5-.6 1.5 0 1.5 1.3 .5-.3 .5 .5 .5-.4 .5 .6 .5-.6 1.5 1.8 1.5-2.4 1 .6 2.5-1.5 .5-1.1 1.5 .1 1.5-1.1 .5 .6 .5-.9 .5 1.1 1.5-1.3 1 1.2 1.5-1.2 1.5 2.7 1-.1 .5-.8 1 .9 .5-.1 1.5 2 .5-.7 1.5 .1 .5-.8 1-.1 .5 .8 .5-.2 .5 1.3 2-1.7 1 .1 1 1 .5-1.6 1-.4 .5 .5 1-2.9 1-1.1 .5 .4 .5-.3 .5 1.2 .5 0 1-3 .5-.5 .5 .9 .5 .1 1.5-2.2 1 .2 1.5 3 .5-1.1 1 .2 1 2.4 1 .2 .5-.9 1 1 .5 2.1 1-.2 .5-.8 1.5 2 .5-.8 1-.1 1 1.7 3-.1 .5 1.1 .5-.4 .5 .3 .5-.7 .5 .6 1.5-.3 .5 1.1 1-.6 .5-1 .5-.2 .5 .5 1.5-1.6 .5-1.6 1-.6 .5 .8 1-1.6 1 .6 .5-.1 .5 .7 .5-.3 .5 1.2 .5-.7 .5 .2 1.5-2.5 1.5-4.4 2-3.3 3-12.8 4-31.6 1.5-4.6 .5-.3 1.5 5.1 3 24.7 1.5 7.9 4 10.3 1 .8 1 1.9 .5-.5 .5 .7 .5-.1 .5 1.9 1 1.3 1.5 .8 .5-.3 1 1.5 1.5 5.4 .5 .5 1-1.2 2.5 2.2 2-1.7 1.5 1.7 1.5-1.4 1 2.2 1-2.8 .5-.2 .5 .4 .5 1.3 .5-1.2 1-1.1 .5 .3 1.5-2.1 .5 .8 1-.3 1.5-3.5 1.5 1.2 2-3.8 1 .8 1 2.1 .5 .5 .5-.6 1 .7 .5 1 1.5 1 .5 1.3 .5-.5 .5 .6 .5-.2 1.5 1.9 .5 0 .5 .8 .5-.3 .5 .6 1-1 1 .1 .5 1.1 1 0 .5-.5 1 .3 1-1.5 1 .8 .5 1.2 .5-.3 .5 .4 .5-1.2 .5 .7 .5-.5 .5 .7 .5-1.1 1-.2 1 1.6 1.5-1.5 1.5 .9 1.5-.4 2 .9 .5-.9 .5 .3 1.5-1.3 1.5 1 .5-.6 1.5 1.3 1-2.7 .5-.3 2.5 2.5 .5-.5 .5 .6 .5-1.1 .5 .5 .5-.8 .5 1.1 1.5-.4 .5-.6 2 1.2 1.5-1.2 1 .2 1.5 1.1 .5-1.4 1 .5 .5 1.9 .5 .2 2-2.7 1.5 1.1 .5-.3 .5 .8 2-.8 2 1.7 .5 0 1.5-1.9 1 1 1.5 .1 1 1.3 2-2.3 .5 .8 .5-.5 .5 1 .5-1.1 .5 .5 1.5-2.2 .5 1 .5-.3 .5 .5 1 2.4 .5 .2 .5-1 1 .8 1.5-2.6 .5 1.6 .5-.6 .5 .1 .5-1.5 1.5 3.3 1.5-2.8 1 2 1.5-3.1 2 3.3 2.5-1.9 .5 .9 1 .5 .5-1.1 .5 .7 1.5-.8 1 1.1 1.5-.5 1 .4 1-1 1.5 1.4 .5-.8 .5 .4 .5-.5 1 .9 .5 1.4 1.5-3.3 1-.1 .5 .8 .5-1 1 .3 .5 1.1 3 2.1" stroke="#5d95d8" stroke-width="1.4" fill="none" stroke-linejoin="round"/>
<path d="M43 379.4l.5-.8 .5 .2 1.5 2.6 .5-1 1-.3 .5-.7 1.5-.3 .5-.9 1 .4 .5 1.1 1.5-.5 1 .7 .5-.3 1 .4 .5 1.6 1-.6 1-1.8 1 .3 .5 .8 1.5-1.8 2.5 1.7 .5-1.2 .5 .5 .5-.7 1 1.3 1.5-2.4 .5 .6 .5-.5 2 4.4 1.5-4 1 2.1 1 .7 .5-1.2 3-1.2 .5 .5 .5-.4 .5 1 .5-.2 .5 .7 1.5-.5 .5 .3 .5-.8 1.5 .7 1-.7 1 1.4 .5-.2 .5-1.6 .5 .4 .5-.5 1 .1 1 1.9 1-1.7 1 .9 2-1.1 .5 .4 2-.6 1-1.1 .5 0 .5 .9 1.5-1.4 .5 1.7 1 .5 .5-.8 1 .5 1-.6 .5-.9 1 1 1.5-2.9 1 1.1 1-.9 .5 .1 2.5-3.2 1 .3 1.5-1.5 .5 .4 1.5-2.8 2.5-2.2 .5 1.8 .5-.2 .5 1.5 .5-.5 .5 1.2 .5 0 1-.6 2.5 3.5 1-.2 .5 .4 1 2.2 1-.2 1 1.5 .5-1.2 .5 .5 .5-.2 .5 2.5 1-2.1 1 1.1 .5 1.7 .5-.9 1-.5 .5 .3 .5 2.2 1-.7 .5-1.5 .5 .5 .5-.9 4 3 1.5-1.3 .5 .6 1.5-1.5 1 2.1 1 .7 .5-1.6 1-.5 .5 1.2 .5-.7 .5 .7 .5-1.4 .5 .4 .5-.7 2.5 2 2-1.3 .5 .5 .5-1 .5 .6 .5-.6 1 .8 .5-.8 .5 .3 1.5-.9 1 .9 .5-.2 .5 .5 1.5 .2 .5-.4 .5 .8 1 .3 .5-.2 1.5-2.5 1 1.9 1-2 .5 .3 1 2.7 1.5-2.3 1 1.7 .5 0 1.5-2.3 1 .2 .5 1.4 1.5-1.3 1.5 .8 1-1.4 .5 .1 .5 1.9 .5 .3 1.5-.2 .5 .8 1.5-.6 1-1 1.5 .1 1 1.1 .5 0 2.5-3.1 3 .8 .5 .9 1.5-1.5 .5 1 1-.1 .5-1.4 .5 .3 1.5-2.1 1.5-.4 1.5-3.3 2.5 5.5 .5-.4 2 2.9 .5-.3 1.5 1.3 .5-.4 2.5 .2 .5 .8 .5-1.1 1-.8 1 .7 1.5-.8 2 .5 1.5-.8 1 .8 1-.2 1-1.1 .5-2.1 1-.4 .5 .5 1-.1 1 .9 .5-.2 1-1.2 2-1.2 1-1.8 .5 0 .5 1 .5 0 .5-.9 1 1.2 1-.6 .5-1.1 .5 .5 1.5-3.4 1 1.6 1.5-2.5 .5 .9 .5-1 .5 .5 .5-.6 .5 .3 .5-.9 .5 0 1 1.8 1-.2 1.5 .6 .5-1.1 2 4.7 .5-1.3 1 .6 1 2.2 .5-1.1 .5 .2 1 2.4 .5 .5 .5-.8 1.5 .2 1.5 2.4 1-2.5 1 1.8 1-1.4 .5 0 1 1.3 .5-1.1 1 .4 .5 1.5 1.5 .5 1.5-2.1 .5 1.2 .5-.3 .5 1.4 1 .3 1-2.6 1.5 1.5 .5-.3 .5 .6 1.5-1.6 1.5 2 1 .1 1-1.5 1.5 1.7 1-1.1 .5 .3 1-.5 .5 .5 .5-.9 2 2.9 1.5-1.6 1.5 .8 2-1 1 1 .5-.1 .5-1.1 1.5 1.6 .5-1.1 1.5 1.3 2-1.9 1 1.7 1.5-3.2 .5 1 .5-1 .5 .1 .5-1.3 .5 0 1-1.4 1.5-1 1.5 1.8 2-2.9 .5 .7 .5-.3 1-2.3 1-.5 1 .6 1.5-3.5 .5 .6 .5-.5 1.5-4.9 .5 .2 1-1.1 1-4.8 3.5-10.6 .5 .5 1.5-2.2 2 3.1 2 6.3 3.5 7.6 2.5 3.8 .5-.8 .5 .8 .5-.7 .5 1.1 .5-1.6 .5 .9 .5-1 .5 .5 .5-1.5 1-1.1 1 .5 .5 1.5 .5-.8 .5 .7 .5-.6 1 1.9 1 .7 .5-.5 1.5 4.2 .5 .3 1 .3 .5-.6 1 .2 1.5 2.2 1.5-.7 1-1.5 1.5 2.5 .5-.7 .5 .2 .5-.8 1-.3 2 2.4 1.5-1 2 2.9 1-1 1 1.8 1 .2 1.5 3.4 1-2.3 .5 0 1 3.2 .5 .1 .5-1.5 1-.7 1.5 2 .5-.8 .5 .2 .5-.6 .5 .9 2-2.2 .5 1 1-1.4 1.5 1.2 .5-1.3 .5 .1 .5-.7 .5 .3 .5-1.1 1 .4 .5 1.4 1-.1 .5-.8 .5 .5 .5-.3 .5 .3 .5-.8 1-.2 2.5-3.2 .5 1.4 .5-.3 .5 1.2 .5-1.9 .5 0 1 .9 .5 1.8 .5 .1 1-.8 1.5 3.2 .5-1 1.5-.9 .5-1.4 1.5 3 3.5-5.5 .5 .6 .5-.2 3-4.5 1.5 .2 1.5-1.8 .5 .1 1 2.1 1 .7 1 2.4 .5 .4 .5-.6 3.5 6.3 1 .2 1-2.4 1 .4 .5 2.3 1 .7 .5-.6 .5 1.1 .5-.5 1 .2 .5 1.3 .5-.8 2 .2 .5-.9 1-.4 1.5-1.6 .5 1.2 1.5-1.3 1.5 1.3 1.5-2.4 .5 .1 1.5-1.2 1.5 2.9 .5 .2 1.5-2 .5 1.1 .5 .1 .5-.9 2 0 1.5 2.2 1.5 .1 1 1.7 1-1.6 1.5 2.1 1.5-2.8 1 .8 1-.8 1.5 1.5 1.5-2.2 .5 .9 .5-.1 .5 1.4 2-4.7 1.5 1.6 1.5-3.6 1 .8 1.5-1.4 .5 1.2 .5-.8 .5 .2 1.5-.8 1 2 .5 .3 .5-.6 .5 .2 2.5 3.8 1.5-1.8 .5-.2 .5 .6 .5-.6 .5 .7 .5-.2 1 2.5 .5 .2 1-2.2 1.5 3.1 1-.7 1 .1 .5 1 2-.4 .5 1 1.5-2 1 .4 1-1 .5 .7 .5-.3 1.5-3 1 .1 1 .9 1.5-.5 1-1 1 .8 1-.3 .5-1.1 .5 .4 2.5-3.4 1-2.6 1.5-6.9 1-2.3 5.5-26 1 1.4 1 3.1 2.5 12.3 3 9.9 2.5 5.1 1 .7 1 2.2 .5 .2 .5-.5 1.5 3 1.5 0 2 3.6 1 .1 .5-1.3 .5 1.7 2 2.7 2 1.6 .5-.7 1.5 1.4 1-1.2 .5 .3 .5-.7 .5 .7 .5-.8 .5 .9 .5-.7 1 .8 1.5-2.7 .5 .4 1-1 1.5 1.2 1.5-2.6 .5 .7 2.5-1.6 1.5-2.1 1 .5 .5 1.1 .5-.1 .5 1.2 1.5-1.2 1 .6 1 .7 1.5 2.7 1-.1 .5 .6 .5-.4 .5 .2 .5-.8 2 3.5 .5-.1 .5 .5 1.5-.6 1-1.4 .5 0 1.5 1.9 .5 .2 1.5-.6 .5 1 1.5-2.6 .5 1.2 .5-.8 .5 .5 .5-1 .5 .7 1.5-1.1 .5 1.7 .5-.2 .5 .3 .5-1.5 1.5 1.7 2-2.3 .5 .1 1.5 3.6 1.5-3.3 .5 .9 1.5 .5 1-.7 .5-1.5 .5-.3 1.5 1.1 1.5 2.3 2-2 1 .1 1 1 .5 0 .5-.9 1.5 1.3 1.5-1.2 1 .2 .5 .7 2-2.1 1 .4 1 1.3 2 1 1.5-2.8 1 .5 1.5-.2 1 1.2 1 .4 .5-.8 1.5 1.6 1.5-1.5 .5 .9 1.5-2.2 1.5 3.4 2-2.4 1.5 .8 .5-.8 1 1.8 1.5-2 1 0 1.5 1.8 1-.7 .5-1.3 1.5 1.5 1-.5 .5-1 .5 1.3 .5-.2 .5 1 .5-.7 .5 .7 1-1.1 1.5 1.7 .5-.6 2.5 .1 .5-.7 1-.3 1 1.3 .5-.8 .5 .5 1.5-1.3 1 1.5 1.5-3.1 1 .6 1 1.5 2.5 1.1 1-1.1 1.5 1.1 2-1.1 1.5 .9 .5-.9 1.5 2.9 1-2.4 1-.5 .5 .6 .5-.6" stroke="#6a9edc" stroke-width="1.4" fill="none" stroke-linejoin="round"/>
<path d="M43 382.2l2-1.1 .5 .3 .5-1.2 .5-.2 1 1 .5 0 .5-1.3 1.5 1 .5-1.5 .5 .9 1 .3 2-1.6 2.5 1.9 .5-1.1 1-.3 1 1.1 .5 .2 .5-.6 1.5 1.2 1-1.8 1 1.7 .5 .1 .5-1.1 .5-.1 1.5 .9 1.5-1.9 1 .7 .5 1.1 1-.6 1 .2 .5-.6 1.5 1.2 .5-.5 1.5 .5 .5-.8 2.5 .8 1-.6 1 .4 .5-.6 1.5 0 .5-.7 1.5 1.6 .5-.1 1.5-1.9 2 1.8 1.5-1.2 1.5-.3 1.5 1.3 1-1.3 1.5 0 .5-.6 1.5 2.3 1.5-3.1 1.5 1.2 .5-.9 .5 .1 1 1.3 1-.6 1 1.3 1.5-3.4 1.5 1.7 1.5-2.3 1 .8 .5-.2 1-1.9 2.5-2.8 1 .1 2.5-2.2 1.5-.4 2 1.5 .5-1.7 .5 1.2 .5-.3 .5 1.5 1.5 2 .5-1.1 1.5 1.9 2 .9 1.5 1.4 .5-.6 1 .6 1 1.8 1.5-.8 1 1.5 1.5-.5 1.5 1.3 1.5-.4 1.5 2.4 1.5-2.8 .5 .9 1-.1 1 .6 .5-.5 1.5 .7 1.5-1.4 1.5 1 .5-1.3 .5 .3 .5-.3 .5 .9 .5-.3 .5 .8 3-.9 1 1 1-1 1.5 .8 2.5-.5 1-2.1 1.5 2.2 .5-.8 .5 1.3 .5-1 .5 .3 .5-1.7 .5 .9 .5-.3 2 3 .5-1.2 1-.5 1 .6 .5-.7 .5 .2 .5-1.2 1 .5 1.5-.7 .5 1.1 1.5-.7 .5 .6 .5-.3 1 .8 1 0 .5-1.5 .5 1.2 .5-.7 .5 .5 .5-.8 1 2.3 1 .6 1-2.2 1.5 .5 1-.4 .5 .9 .5-.6 .5 .1 .5-1.8 2 1.4 1 2 1-1.7 2-.9 .5-.8 3 .2 .5-.6 2-.3 1-1 .5 .4 .5-1 .5 .2 1.5-2.7 1.5 1.8 1-.7 2 3.5 1 .2 1 1.3 1.5-.2 1.5 2.8 1.5-2.4 2 .7 1-.1 .5-.8 .5 .4 1-.1 1-1.7 .5 .1 .5-.7 .5 .6 1-1.1 1.5 .8 .5-1.1 .5 0 1 1.8 1-1 1-2.3 1.5 .6 1-.9 .5 .4 .5-.2 .5 1 1.5-2 .5 .4 1-.8 1 1.2 2-2.8 2.5-1 .5 1 1-.2 .5-1.2 1.5-.3 1.5-2.6 1.5 1.5 .5-.4 2 1.6 1.5-.6 1 .9 .5 1.6 3 2.4 2.5 3.6 1 .1 1.5-2.3 2 1.4 1 1.9 1.5 .5 2-2.6 .5 1.3 .5-.9 .5 1 2-1 .5 .9 1 .5 2-1.7 1 1 .5-.2 1-1.7 1.5 3.4 .5-1 1.5 .2 .5-.8 1 .5 1-.5 1.5 1.5 1.5-2.6 1 .9 .5 1.1 .5-.8 .5 .6 .5-.7 .5 1.2 2-.1 1 1 1.5-1.4 1 .4 .5-.3 1.5 1.1 1-.2 1.5 1.9 .5-1 1.5-.8 1-1.7 2.5-.3 1-2.2 1-.3 1.5 1 1-2.2 .5 .2 .5 1.1 1-.2 1-3.1 1.5-.4 1-2.8 .5 .2 .5-1 .5 .2 2-3.8 .5 .1 1-1.5 4-15.6 .5 .1 2-4.2 .5 .3 2-.8 2 8 1 1.4 1.5 6.2 1.5 4.1 .5 1.2 .5 .2 .5-.6 1.5 3.2 1 .9 .5 .1 1-.6 1.5-3 1.5-.5 1 .3 1 1.3 1 2.7 .5 .4 1-.6 .5-1.3 1 1.5 .5 2 .5-.5 .5 1.1 .5-.6 .5 1.4 .5-.5 .5 1.8 .5-1.3 .5 .3 .5-.6 .5 1 1.5-1.1 .5 .3 .5-.7 1.5 .4 1-1.1 1.5 2.2 2 .7 .5-1 1.5 3.9 1.5 .4 .5 .8 1-.4 2 1.6 1.5-.1 1.5 1.9 1.5-1.4 1.5 2.1 1 .3 2.5-1.2 1.5-2.3 2 .6 .5-.2 .5-1.3 1.5 .1 1-.6 .5 0 1 1.2 1-2.8 1.5 1.9 .5-.7 1.5-.4 1 .7 1-1 2 .3 1 .8 1-.8 1 .2 2 .5 1 1.7 1 .3 2-1.4 1.5 .1 1-1.5 .5-.2 .5 .4 1-.5 1.5-4 1.5 .8 .5-.9 2-.8 1 .2 1.5 3.1 1-1.4 .5 .4 4.5 6 1.5-1.6 1 1.8 1-.9 1.5 1.9 1 .1 1.5 1.3 2-.8 1 .3 1.5-1.8 .5 1.2 .5-1 1 .1 1 1.4 2-3.5 1.5-.2 .5-.9 2-.9 1 1.6 1-.2 1.5 .9 1-.7 2.5 1.2 .5-.8 1.5 1.6 1 .2 1.5 2 .5 .1 1.5-2.5 4 .6 1.5-.9 .5 1.5 .5-.6 .5 .2 .5-1 .5 0 1.5-2.2 1.5 1 1-.3 1.5-2.8 1 .2 .5 1.4 .5-.5 .5 .4 .5-1.3 1 .1 .5 1.4 1 1.2 .5-.2 .5 .9 2-.4 1.5-2.2 2.5 4.4 1.5-1.1 1 1.6 1 .6 .5-.6 1 .3 1-.5 .5-1.1 2 1.6 1 1.8 2-1.7 .5 .6 1 .1 1-1.4 1-.4 1-2.4 .5-.2 1 .9 2.5-2.6 .5 .8 .5-.9 .5 1 .5-.1 .5 .6 1.5-2.4 .5 1 2.5-6.4 .5-2.7 .5-.2 1-2.8 1-6.5 3-12.6 1-3.6 1-1.7 .5 .8 .5-.6 .5 1 5 23.8 1 .2 5 8.1 1.5 .8 1 .1 .5-.3 1.5 2.4 .5-.4 1 1.7 1 .1 1 1.7 1 .7 .5 1.7 1 .9 .5-.7 .5 1 .5-.4 .5 .5 2-1.6 .5 .9 1.5-1.3 1 .8 1.5-1.1 1 .9 1.5-3.4 1.5-.4 .5 .5 .5-.7 .5 .1 .5-1.3 1-.4 1 .8 .5-.2 1-2 1-.3 .5 .8 1-.1 1.5 2 .5-.3 3.5 3.2 1-1.3 1.5 2.9 1.5 .3 1.5-1 1-.1 1.5 2.3 1-2 1-.7 .5 .9 1.5 .3 1.5-1.3 1.5 1.3 1 .5 .5-.3 .5 1.1 1.5-2 2.5 1.3 1-.8 1.5 .7 2-1.9 2 1.3 1-.8 .5 .1 1 1.3 .5-1.7 1-.7 1.5 2.5 .5-1.3 .5 .4 .5-.9 .5 .7 .5-1.2 3 1.9 1.5-2.2 .5 .5 .5-.6 .5 .8 1-1.3 1.5 1.6 .5-.7 1.5 .4 1.5 2.4 .5-1.4 1-.5 .5 1 .5-1.2 1-.7 .5 .6 1.5-1.1 2 2.5 1.5-1.5 1 1.8 2.5-1.3 1.5 1.2 .5-.6 1.5 1.4 1.5-2.2 1 1.8 1.5-2.9 1.5 2.6 .5-.1 .5 .9 1.5-1.8 1 .2 .5-.6 1 1.4 1.5-.5 1 1.1 1.5-1.5 .5 .2 1 1.5 1-.2 1.5-1.4 1.5 .9 2-1.5 .5 .4 .5-.5 1.5 1.4 1.5 .2 .5 1.3 .5-.8 .5 1 .5-1.6 .5 .1 .5-1.2 1 1.1 1.5-2.1 2 2.1 1-1.5 .5-.1 1 1.6 1-2.1 .5 0 .5 .2 1 2.4 .5 .1 2-1.4 1.5 .9" stroke="#5890d6" stroke-width="1.4" fill="none" stroke-linejoin="round"/>
<path d="M43 379.8l.5 .5 1 .1 .5-.6 1.5 .7 .5-.5 1.5 1.8 .5-1.2 1-.7 1 0 1.5 1.6 .5-1 1.5-.3 1.5 1.1 1-1.7 1 .5 .5-.3 1 1 1 2.5 1.5-3.5 1-1.1 1 1 1.5 .2 1.5 1.1 1.5-1.9 .5 .9 1-.6 1.5 .8 1-1 .5 1.1 1 .3 .5-.4 1 .4 1-1 .5 1 2 0 1.5 .6 1.5-2.5 1.5 1.1 1.5 2.7 2.5-3.7 2 .7 1-.6 1.5 2.5 .5-.2 1-2.1 1 .6 1 1.8 1.5-2.3 1 .5 .5-.4 1-2 2.5 2.4 .5 0 1-2.4 1.5-.4 .5-.7 .5 1.3 1 .6 .5-1 .5 .1 .5-.9 2-1.3 1 1.2 3-5 1 0 1 .9 1-1.5 1.5 1.5 .5-1.4 1 .5 .5 1 .5-.6 1.5 2.4 1-.7 .5 1.4 2 1.4 .5 1.5 1 .8 .5-1.1 1 .9 1 .3 .5-.4 .5 .8 2.5 .9 .5-1 1 .2 1 1.5 1.5-1.5 .5 .3 .5-.5 .5 1 .5-.8 1.5 .5 1-.5 2 3.1 .5 .1 1.5-2.6 .5-.1 1 1.1 1.5 .4 1.5-1.9 2 1.8 .5-1 .5 .3 .5-.5 .5 1 .5-1.3 1-.1 .5 1.2 2.5-1.2 2 2.2 1-.7 1-2.4 1.5 1.1 1.5-.2 .5-.6 .5 .5 .5-.9 1 .8 .5 1.4 1.5-.9 1 .5 1-.7 1.5 2.3 .5 0 1.5-1.7 .5-.2 .5 .7 1.5-3.3 1.5 3 2 1.7 1-.5 1.5-2.7 2 2.1 1.5-1.5 1 .8 .5-.7 1.5 1.7 1-.6 .5 .4 .5-.5 1 .7 3.5-3.6 1.5 3 2-3.2 .5 1.2 1 .7 2-3.6 1-.7 1.5 1.1 .5-.5 1 .6 1.5 2.9 1-.2 2 1.9 .5-.8 .5 .5 1 0 .5-.7 1.5 1 2.5-1.5 1.5 1.6 .5-1.1 .5 .4 .5-.8 .5 .7 1.5-.5 1 .2 1.5-1.2 1.5 .4 1-1.1 1 0 1.5-2 2 .6 1-.2 1 1.1 1-1.1 2-.9 2-.2 2-2.9 .5 .7 1-.1 .5-1.4 .5 .7 1.5-1 1 .1 .5-.8 1-.3 .5 1.1 .5-.4 .5 .7 1 .1 2.5 3.4 1.5-.8 2.5 1.9 1 2.6 1-.6 1 .8 1-1.8 .5 1.5 1 1.2 2-1.3 1 1.3 1.5-1 1.5 0 1 .6 1.5-1.2 1.5 3 2-3.3 2.5 2.6 1-.6 1 .8 1 .1 2-2.3 1 1.3 1 .4 .5-.5 .5 .8 2-2 .5 .7 2 .9 .5 1.4 1.5-2.9 1 .8 .5-.5 2 .3 1 1.4 .5-.5 .5 .7 2-.7 .5 .3 .5-1.8 .5-.3 .5 .1 1 2.4 .5-.4 .5 .4 .5-1.4 .5 .4 .5-1.4 1-.9 1 .4 1-1.9 1 1.9 .5-.2 1-2.6 1.5 2 1-.6 .5 .6 1.5-3.3 1-.4 .5-1.2 1-1.1 .5 .1 .5-1 .5 0 .5-.7 .5 .2 1-1.1 3-6.2 2-5.6 1.5-.8 1.5-2.2 1 .8 2 5 1.5 .7 2 6.7 1.5 2.4 .5 0 1.5 1.6 1.5-2.5 1.5 1.2 .5-1.4 .5 .1 1-1 .5 .6 .5-.3 1-1.7 .5 .1 3 5.1 .5-.4 1 .9 1.5 2.1 1.5 .2 .5 .9 1.5-2.5 1 1.7 2.5-1.3 .5 .6 1-.2 .5 .4 1.5-1.8 2 2.6 .5 .1 .5-.9 .5 .6 .5-.3 1.5 3.1 1-.3 .5-.7 .5 1.4 1 .6 .5-.3 .5 1.5 .5-.4 .5 .7 .5-.8 .5 .4 1.5 3 .5-.6 1.5-.3 1-1 1 0 1.5-2.1 .5 .9 1.5-1.3 .5 .5 .5-.3 1.5 1 2-1.7 1 .3 1-1.3 1 .7 1.5-1 .5 .9 1.5-1.3 .5 .2 .5-.9 .5 .1 1 1.8 .5 .1 .5-1.3 .5 .2 .5-.6 .5 .8 .5-.4 .5 1.5 1 0 1.5 2.2 1.5-1.1 .5-1.1 1.5 1.6 2-3.7 1 2.1 .5 .1 1-2.4 .5-.5 .5 .5 1-.6 1-2.3 1-.9 .5 .9 .5-1.1 1.5 1.1 1 .1 .5 1 .5 0 .5 1.6 1 .7 .5-.9 1 .4 .5-.4 1.5 3 2.5-.6 1.5 3.1 1-.9 1.5-.1 .5 1.6 1 .3 1-2.2 2.5 .1 1.5 .8 1-1.2 2 1.4 2-1.4 1 .4 1-.6 .5 .7 .5-.6 .5 .4 .5-.3 .5 1 1.5-1.3 .5 .7 1.5-1.9 .5 1.2 1.5-1.1 .5 .4 1 2.8 1 0 1 1.3 1-3.1 1.5 3.4 1-1.6 .5 0 1 1.4 1.5-2.7 1.5 1 2-.2 .5 .8 .5-.1 1-2.6 .5-.2 1 1.3 1-.2 2.5-4 1 1.8 2.5-1.9 1.5 3.4 2-1.8 1.5 .8 .5 .8 1 .5 .5-.6 .5 1 1 .2 1-1.9 1.5 2.7 .5-.3 .5 .9 .5-.4 .5 .9 2 .4 1.5-2.7 .5 .2 1.5 3.2 .5 0 1.5-3 .5 1.1 .5-1 .5 1.6 1 .3 2-2.3 1.5 .4 .5-.3 1.5-2.2 1.5 1.5 1.5-2 1.5 .1 .5-.8 .5 0 1.5-3 .5-.8 .5 .1 2-5.4 1.5-8.1 4-16.4 1 .9 2 3.7 3.5 14.6 2.5 6.7 .5 .7 1.5 .3 1.5 2.2 .5 .4 .5-.2 1 1.4 1.5 .8 1.5 2.7 1-.1 1.5 3.8 2-2 .5 1.6 1 1.3 2-1 .5 1 1 .5 .5-.8 1.5 .4 .5-.5 .5 .6 2 0 .5 .7 3-4.1 2.5 .2 1.5-1.9 .5 .3 1.5-1 3 .5 1.5 2.1 1.5-.6 1.5 2.1 .5-.9 .5 .5 .5-.4 .5 .8 1-.2 .5 1.8 .5 .3 1-1.4 .5 .2 1 2.3 1-1 .5 0 .5 .7 1.5-.8 1.5-.1 .5 .9 .5-.8 .5 .7 2 .3 1.5-2.8 1-.1 1.5 1.2 .5-.7 .5 .6 .5-.8 .5 .8 .5-.3 .5 .4 .5-.4 1 .3 .5 .8 1.5-2.7 1.5 2.2 .5-.9 1 .7 .5 1.3 .5-1 1-.5 .5 1.3 1.5-1.6 .5 .2 1.5-1.8 1.5 .1 3 3.1 1.5-2.2 .5 1.3 .5-.2 .5 .9 .5-1 1 .5 .5 1.1 1.5-2.1 1 1.2 1.5-1.5 1 1.1 1.5-.8 .5 .9 1.5-1.4 1.5 1.4 .5-.9 1 0 .5 1.5 1.5-1.1 .5 .6 1.5-1.7 .5 .7 2 .5 .5 .6 .5-.7 .5 .4 .5-.6 .5 .6 .5-.4 .5 1.2 1-.1 .5-.7 .5 .6 1-.4 1.5-2 1 .8 1 2.3 .5 .1 .5-.3 .5-2.3 1.5 1.9 1.5-1.1 .5 1 1.5-2.4 1.5 3.3 2-2 1.5 1.2 1.5-2.1 2 .9 1 2 1-1.3 .5 .1 .5 1.3 1.5-1.6 .5 .6 .5-.7 1.5 .3 .5-.3 1.5 1.2 1.5-2 .5 .5 2-.2 1.5 .6 1-.5 .5 .6 .5-.6 2 1.5 .5-1.5 1 1.4 1.5-1.1" stroke="#74a6e0" stroke-width="1.4" fill="none" stroke-linejoin="round"/>
<path d="M43 380.4l1-2.1 .5 1.9 1 .9 2-2.6 .5 1.1 1 .6 .5-.9 1-.6 .5 .6 1.5 .3 1 1.8 1-.3 .5 .4 1.5-1.7 1 .9 1 0 .5-1.2 .5 .2 .5-.8 .5 .8 1.5 .4 2-1.7 1.5 1.1 1-.4 1.5 1.5 1.5-2.8 1.5 1.9 1.5-.6 1 1.7 .5 .1 1-1.8 1 1.4 1 0 .5-1.4 1 .5 .5 1.4 1.5-3 1-.1 1.5 2.5 .5-.7 1.5-.3 1-1.4 1 1 1-.5 1 3.8 .5 0 .5-2.4 1-1.8 .5 .3 2.5-.6 1.5 3.7 .5-.9 1.5-.6 2-2.9 3 3 1.5-1.3 .5 .5 .5-1.2 1-.2 1 .5 .5-.4 2-3 1.5 2.1 .5-1.4 1.5-.1 .5-1.5 1 .1 1.5-1.8 .5 .7 .5-.7 1.5-.4 .5 .4 .5-.9 1.5 1.3 1-.7 1.5 2.5 2-1.2 3 3.9 .5-.1 .5 .8 .5-.7 .5 .5 1-.5 1-1.9 1.5 3.9 1-.5 1.5 1.1 .5-.6 1 0 1.5-1.6 1 1 .5-.4 1 .7 1 1.3 .5-1.1 1.5 1.7 1.5-1.1 .5 .5 1-.1 1-.8 .5-1.2 1.5 3 1-2.1 2.5-.7 2 1.3 .5-.3 1 .3 .5-.8 2.5 1 1.5-1 1 1.4 1.5-1.1 1 .9 2.5-.3 .5 .3 2-.9 .5 .9 1-.5 .5-1 1.5 1.9 1.5-3.1 1 .5 1-1.2 .5 0 1.5 2.9 1-.4 .5 .7 .5-.6 .5 .2 .5-.4 .5 .8 1 .1 .5-.7 .5 .7 2-1.1 .5 .6 .5-.2 1.5 .7 1.5-.8 .5 .5 .5-.3 1 1 1.5-1.6 1.5 2.6 1-1.4 3-1.9 1 1.3 .5 0 2-2.4 1-.7 .5 .7 .5-1.4 .5 .3 1-1.3 2 2 .5-.3 1 .7 1 1.3 .5 .1 .5-.6 1.5 2.1 .5-.8 1.5 .8 1-.1 .5 .9 1.5-2.8 .5 1.3 1 .7 .5-.4 .5 .3 1.5-1.8 1.5 1.8 .5-.2 .5-1.5 1.5 .9 1-2 1 .2 .5 1 1-.5 .5-1.3 2 .8 .5-1.2 1-.1 1.5 1.6 1-.8 1 .1 1.5-2.1 1.5-.1 1 1 .5-.1 1-1.5 1 .4 1-.8 .5 .5 1-.3 .5-1.2 2-1.1 .5 .3 1 2.7 .5-1.1 1-.4 1 1.4 1.5-.8 .5 1.6 .5 0 .5 .6 .5-.6 .5 1.5 1.5-1.3 1 2.8 1 1.4 .5-1.7 1-1 .5 .9 .5-.3 .5 .5 1.5 2.1 1-1.3 .5 .7 1-.4 .5-1.6 .5 .6 .5-.8 .5 .7 .5-.7 .5 1.2 .5-.8 .5 0 2.5 2.2 2-.7 2 1.3 .5-.7 2-1.1 1 .2 .5 .9 .5-.3 .5 .2 .5-.9 2 .8 1-.4 1 .7 1-1.5 1 1.7 .5-.1 1-2 .5 .5 .5-.3 .5 .3 1-.6 1.5 2.9 .5 .1 1-2.7 1-.4 2.5 2.2 .5-.8 1.5 1.2 1-1.3 1 1.3 1.5-2.3 1 1.2 1-.9 .5 .6 1.5-3.9 1.5 2.3 1-.1 1.5-.5 1 .2 1-1.5 1.5 .6 1.5-2.3 .5 .7 1-.4 .5-2.5 .5-.4 1 .2 1.5-4.4 3-5.2 1-3.6 3-2.5 1.5 2.2 .5-.1 1.5 4 1 .8 1.5 3.5 .5-.1 1.5 3.7 1.5 1.8 1.5-1 1.5 2.1 .5-1.4 1.5-.5 .5-.6 1 0 4 1.8 .5 1 .5-.6 1.5 1.3 .5-.6 1.5 2.3 1.5-.2 .5-1.1 .5 .7 1.5-1.7 1 1 1-.3 2 .8 1-1.9 .5-.1 .5 1.2 1 .7 .5-1 2 4.4 1.5 .2 1-.7 1.5 1.6 1.5-.2 1.5 1.1 1.5-1.2 2 1.4 1.5-1.1 .5 .9 2 .1 1-1.1 .5-1.5 .5 .9 .5-.5 .5 .8 .5-.5 .5 .3 1.5-2.6 .5 .9 .5-.8 1 .2 1 1.5 1 .4 1-1.5 1.5-.5 .5-1 1.5 .8 1-.7 2.5 2.7 .5-.7 .5 .3 .5-1 1 .4 2 2.3 1 .4 .5-.8 1 .7 1.5-3.2 1 1.1 1.5-1.7 .5 .8 1-.1 .5-1.3 2-2 2-3.6 2 2.4 1-.7 1 1.4 .5 1.9 .5-.1 .5 1.4 .5-.2 .5 .9 .5-.7 .5 .2 .5-.4 1.5 4.2 .5-1.4 1-1 2 2.7 1-2.1 .5-.2 1 .7 .5-.6 1.5 2.2 1-.5 1.5 1.3 1-2.2 1-.3 .5 1.3 .5-.5 .5 .8 2-3 1.5 1.4 .5-.6 1.5 .2 .5-.7 1 .1 .5 .5 .5-.4 1 .4 1-1.4 1.5 1.4 1-.8 1 .4 .5 1.6 .5-.5 2 1.8 1.5-2.5 2 2.4 1.5-.5 .5-.8 .5 .6 1-.1 1-1 .5 1.2 1 .7 .5-.5 2-.3 1.5-3.3 1.5-1.3 1.5 1.4 1.5-2 3 1.2 1.5-.6 1 .9 .5 1.3 1 .6 1.5-.2 1.5 .7 .5-.5 1 1.4 1 .2 .5-1.1 1 .5 .5-.4 1.5 1.7 1-.7 .5 .4 .5-1.2 .5 1.6 .5-1.1 .5 .5 .5-1.3 1.5 1.6 1.5-.3 .5-.7 .5 1 1.5-1.5 .5 .7 1.5-1.7 .5 1.3 1-.2 .5-1.6 2 2.6 1.5-1.9 2.5 .2 3.5-5.1 2.5-8.3 1.5-3 2-10.2 2.5-6.6 2 7.7 5.5 16.8 1 1.4 .5-.4 1.5 3.1 1 .1 1-.6 1 .4 1.5 2.5 2-.3 1.5 3.8 1-.1 1 .6 1.5-.6 1 1.4 .5 0 1-1.9 .5 .1 1 1.6 .5-.8 1.5 2.3 1.5-2.8 1 .3 .5-.4 .5 .6 2-1.4 .5 .3 2-1.3 .5 1.7 .5-1.6 .5 .2 .5-1.3 .5 .8 1-1.2 1-.2 1.5 1.9 2-2.2 1.5 1.4 1.5-.4 1.5 2.6 1-1.2 1.5 1.4 1-.5 1.5 .9 1-.3 1 .9 .5-.9 1 .3 .5 1.1 .5-.5 .5 .6 .5-1.4 1-1.1 1.5 1.8 1 .2 .5-.6 1.5-.2 .5 1.8 .5-1.6 .5 .4 .5-1.5 1 1.4 .5-.7 .5 .6 .5-1 1 1.4 2-1.6 1 1.9 .5 .2 1-2 1 1.2 1.5-1.1 1.5 2.2 1-.7 .5-1.4 1 .1 .5 .6 2.5 .2 .5-.8 1.5 .8 1-1.7 .5 .1 1.5 3 1-1.3 .5-1.9 1 .8 .5 1.3 .5-.5 .5 .3 .5-.9 .5 .7 .5-.9 1.5 1.6 .5-.9 1-.1 .5 .7 1-1.4 1.5 .1 1-.6 2 2.8 1-.9 1-2 1.5 3.4 .5-1.4 1.5 .5 1-1.6 .5 1.1 1 .2 .5-.8 1.5 1 1-.8 1.5 .8 1.5-.4 1 1.3 .5 0 2.5-2.8 1 0 2 1.3 .5-.7 2.5 1.1 1.5-.9 1 1.6 .5 0 1.5-2.6 1 .2 .5 1.2 2 .9 1.5-1.4 2 1.7 .5-1.3 .5 .5 2-.4 1.5-1.1 .5 1.5 1 .4 1-1.8 2.5 .9 .5-.9 .5 .7 .5-1.1 .5 1.6 .5-.9 .5 .3 .5-2.1 2 3.5 1.5-1.9" stroke="#6298da" stroke-width="1.4" fill="none" stroke-linejoin="round"/>
<path d="M43 381.4l2.5-2.1 3 1.2 .5-1.2 1.5 1.6 1.5-1.1 1 .6 .5-.5 1.5 1.8 .5-1.1 1-.3 .5 .6 .5-.6 .5 1.2 1-.6 .5-1.3 .5 0 .5 1.7 .5-.7 .5 .1 1 1.8 .5 .1 1-2.4 1-.1 1-1.5 1.5 2.7 1-1.2 1 2.1 1.5-2.3 2 .1 .5 .5 1-.3 2 1.7 .5-1.3 1-.6 1.5 .5 .5 1.4 .5-.9 1.5-.3 1-.9 .5 .1 .5 1.3 .5-.8 .5 .2 .5-.7 1.5-.5 2 1.3 1-1.2 1.5 2 1.5-1.9 2 .3 1.5 1.8 .5 0 1.5-2.3 1 1.4 .5-.5 1-2.3 1 1.4 .5-.1 .5 1 1-.2 .5-1 1.5 1.3 1.5-2.6 1 .6 1.5-.7 1 .2 .5-.8 .5 1 .5-.5 .5 1.5 3-4.2 2-.1 .5 .8 1.5-3 2 3.6 1 .6 .5-.4 1 1 .5-.2 .5 .9 .5-.4 .5 .2 .5-1 2-.4 1 1.8 2 1.9 1.5-.5 .5 1.3 2.5-1.2 1-1 1.5 2.8 1.5-2.9 1 1.5 .5-.5 1 .6 1.5-1.6 1.5 1.5 .5-.7 .5 .3 1-.7 .5-.9 1 1.9 1.5-1.4 .5 1 1.5 .5 .5-.8 .5 1.9 .5-.7 .5 .9 .5-1.5 .5 .7 2-.6 1.5 .2 .5-.9 2 1.1 .5-.9 .5 .6 1-.8 .5-1 2.5 1.5 .5 2.1 .5-.6 .5 .3 .5-2.2 .5-.4 1.5 1 1-.2 .5 .7 .5-1.1 1.5 .3 1-.5 .5 .4 2-1.5 2 1.7 .5-.5 1-.1 1 1.3 1.5-1.5 1 1.4 2.5-.8 .5 1.2 1 .3 1.5-1.6 2 1.4 2-1.4 1.5 1.5 1.5-2.2 1.5 1.1 .5-.6 1 .5 2-1 1-1.2 1 1.1 1-.3 2-2.6 1 1.6 .5 .4 .5-.4 1 1.2 .5 0 1-1 .5 1.4 1.5 .9 1.5 1.8 2-2 1 0 .5 .6 .5-.7 .5 1.6 1.5-1.3 1 .7 .5-1.9 1-1.2 1.5 3.3 1.5-3.3 1 .1 1.5 1.9 1-1.6 1.5 1.3 .5-.4 1 1.3 2.5-2.8 1.5 2.2 1.5-3.2 1-.4 1.5 2.2 .5-.2 1.5-3.7 .5 .6 .5-1 1.5 2.5 1-1.8 2-1.2 1 1.2 .5-.2 .5 .6 .5-1.2 1 0 1 2.4 .5-.4 .5 .2 .5-.7 .5 .8 2 .3 .5 .7 1.5-1.1 1 1.2 1.5 3.5 1-.3 1-1.6 3 2 .5-1 1.5-.3 .5 1.3 .5-1.2 1.5 1.3 1.5-2.7 .5 1.2 .5-.9 .5 .9 1.5 .5 .5-.6 .5 .3 1-1.5 1 .9 1 2.5 1 0 .5-1.3 1 .6 1.5-1.4 2 1.5 1-2.8 1.5 2.1 .5-.6 .5 .2 .5 1.2 .5-.1 .5 .8 1.5-2.5 .5 1.3 1 .5 1.5-1 .5 .2 1.5-1.5 .5 .1 .5 1.1 .5-.1 .5 1.1 .5-1 .5 .9 .5-.3 .5 .8 2-.7 .5-1.7 1.5 1.7 1-2.1 1 .2 1 1.2 3-2.4 .5 1 1 .7 .5-1.2 .5 .4 1-.4 .5-1.5 1.5-1.2 .5 .3 .5-.6 1.5-.4 .5 1.4 1-.8 .5-1.6 1.5 1 1-.9 3.5-9.1 2-1.3 1.5-2.9 .5 .2 1-.6 .5 .1 2 2.7 .5 1.8 1 1.8 .5 .1 1.5 4.5 1 .4 .5-.4 1.5 2.6 .5 .1 1.5-1.5 2-.3 1-1.3 1 .9 .5-.8 .5 .1 1 3.2 .5 0 .5-1.4 .5 .6 .5-.8 1 .5 1 2.4 1 1 1-1.6 1.5 1.6 1-.3 1 .8 1 .1 .5-.6 1 .6 1.5-2 1-.1 2 1.5 .5 1.2 .5-1.1 1 0 .5 1.4 .5 .2 .5-.6 1 .2 2.5 2.2 1-.4 2.5 .6 .5-1.4 1.5 2.3 1.5 .6 2-.6 .5-.8 1 1 1.5-2.3 .5 1.7 .5-.2 .5 .6 1-.5 1.5-1.6 1 1.1 .5 0 1-1.5 2 .9 .5-.9 1.5-.3 .5-1.2 1 .8 .5 0 .5-.9 1 .7 1-.3 1 2 .5 .2 1-2 .5 .4 1-.1 1 1.3 1 .2 .5-.7 1.5 1.1 1-1.4 1.5 1.2 1-.8 1.5 .8 1-1.5 .5 .1 1.5-3.5 .5 1 .5-.7 .5 .5 .5-1.6 .5 .7 3-1 1 1.2 1 2.6 1.5-.2 2 2.2 .5-.4 1 .4 1 1.6 1.5-.1 1.5-1.8 1.5 2.1 3.5-.9 .5 .3 .5-.3 1 .8 1.5-1.4 1 .1 .5-.8 1 1.2 1 .2 .5-.7 1 .2 1-.6 .5-.9 1.5 1.1 2-1.5 1 1.6 .5-.6 .5 .2 .5-1.2 .5 .6 .5-.5 1 2.6 1.5-1.5 .5 1.2 1.5-1.2 .5 .4 .5-.8 1 .2 .5 1.4 .5-.7 .5 .4 1-.5 1.5 1.4 1-.8 1.5 .8 .5-.2 1-2 2.5 2.5 1.5-2.3 .5 1.1 .5-1.6 .5-.1 .5-1 .5 .4 .5-.5 .5 .3 1-.2 1-1.1 .5 .4 1.5-.7 1.5 3.4 2-1.7 1.5 1.4 .5-.4 .5 .6 .5-.2 .5-.8 1 .6 .5 1.2 1-1.3 1 .2 .5 1.5 .5 .2 .5-.6 .5 .4 .5-.5 .5 .5 .5-.8 .5 1.1 2 .2 1-2.2 .5-.2 1 .9 2 .9 1.5-.5 .5-.9 .5 .8 .5-.1 1-1.7 .5-.1 .5 .6 1-.5 1 1.2 1.5-.8 1.5 1.3 1.5-3.5 .5 .5 .5-.1 1.5-3.1 1.5 .9 4.5-15.3 1.5-1.7 1.5-3.2 .5 .6 .5-.1 1.5 3.8 2 8.6 .5 1.6 1 1.3 1.5 .9 2.5 3.5 1-.1 2 1.3 .5 .9 1.5-1.1 .5 .2 2.5 3.2 1.5-.2 .5 .8 .5-.3 2 1.3 .5-.2 1.5 2.4 .5-.2 .5-1.4 .5 .5 1.5-1.9 1 1.9 1 .2 2-1.3 2 .2 3.5-3.6 .5 .4 .5-.6 .5 .9 .5-.1 .5 .6 1.5-1.3 .5 .7 1.5-2.5 1.5 3.2 .5-1 1.5 2.8 2-1.4 2 .6 1 1.2 1.5-1.6 1.5 1.2 1-.1 1 2.3 1-1 1.5 .7 .5-1.3 2 .9 1.5-1.3 1.5 .5 .5-1.4 1-.1 1 2.6 1.5-2.8 .5 .8 2 1 .5-.8 .5 .6 .5-1.2 .5 .2 .5-.7 2 1.9 1 .2 1.5-2.7 1 2 .5 .2 1-1.4 1 1.1 .5 .1 .5-.6 1.5 .7 .5-.9 1 .1 .5 .8 1.5-1.1 1 .7 .5 1.1 1.5-2.3 .5 .8 .5-.3 1 .7 1 1.3 .5-.5 .5 .8 1.5-2.3 1 1 1-.5 1 .5 1-1 1 1.8 .5 0 .5-.2 .5-1.6 .5 0 .5-1 .5 1 .5-1.2 .5 1.7 .5-.4 1.5 2.1 .5 .1 1-.8 1.5-2.4 .5 1.2 1 .9 .5-.2 1.5 1.6 1-1.9 1-.6 1.5 .7 .5-.9 1 .6 .5 1.2 1.5-.9 .5 .9 .5-1.4 1 0 .5 1.2 .5 .1 .5-1.1 1.5 .4 1-1.4 1 1 1 .2 1.5 1.8 1.5-2.7 2.5 1.5 1-.9 .5 .8 .5-.5 .5 1.3 2-1.7 1.5 0 .5 .7 .5-1.2 1 .8 .5 1.3 2-2.4 1.5 1.6 1.5-.2 .5 .6 .5-.9 1 .3 1 2.3 1.5-1.6 1 1.4 1-1.9 1-.3" stroke="#6ca0dc" stroke-width="1.4" fill="none" stroke-linejoin="round"/>
<path d="M43 379.7l.5 .6 .5-1.6 .5 .9 1.5-.3 1 1.1 .5 .2 .5-.8 1.5 .8 1-1.5 1.5 1.7 .5-1 1 0 .5 .9 1-1.2 .5 .1 2.5 2 1-1.3 1.5-.6 1-1.9 1.5 2.2 .5-.4 1.5 .5 .5-.2 .5 .8 1-1.2 .5-1.6 1.5 2.7 1-.9 .5 .4 1.5-1.1 1.5 1.5 .5-.2 1.5 .7 .5 0 .5-1.3 1-.2 .5 .4 1.5-1.2 2-.5 1.5 1.3 2.5-.6 1.5 1.6 2-.3 .5-.7 1 1 .5 2 1.5-4.2 .5 .9 1.5 .8 .5-.8 1.5 .7 1-1 .5 .2 1-.4 .5 1.4 1-.3 .5-1.5 .5 .5 1 0 .5-.6 1.5 .8 1-1.3 .5-.2 .5 .4 .5-1 .5 .7 .5-.1 .5 1.3 1.5-1.5 1-.3 .5 .5 2-.2 1.5-1.6 .5 1.1 1 .5 .5-1.6 1-1.2 3 1.6 2-.9 2.5 2 1-.4 1 1.5 1.5-.7 1 1.2 3-1.3 1 1.7 .5 .2 1-1 1.5 1.8 .5-1.2 1.5 1.5 1-1.4 1.5 1.2 .5-.9 1.5 1 1-1.3 1.5 2.4 .5-.3 .5 .4 .5-1.3 1-.8 .5 1.6 .5 .1 1.5-2.2 1-.4 1.5 2 2-1.5 1 1.7 1-2.4 .5-.4 .5 .9 1 0 1-1.1 .5 0 .5 1.3 1 .8 2-.6 2 2.1 1.5-2 .5 .4 1-1.4 .5-.2 1.5 2 1.5-1.6 1.5-.6 .5 1.3 .5-.9 .5 .7 .5-.8 .5 1.4 1-.7 3 1.1 1-.6 .5-1.1 3 2.5 1-2.5 .5-.2 1.5 1.3 .5-.7 .5 .9 1-.1 1-.7 .5 .6 .5-.2 1.5-1.5 1.5 2.2 2-.6 1-1.2 1 .7 .5-.9 1 .4 .5 1.5 .5 0 1.5-2.2 1 .3 .5-.5 .5-1.2 1 .1 2 2.9 .5-1.8 1-1.4 .5 1.1 1 .9 .5-.1 .5 1 .5 .3 .5-.5 1.5 1.9 1-.5 1.5 1 1-.9 3 0 .5-.6 2.5-.7 1 .8 3-1.7 .5 .9 1-1.3 1.5 3.1 1.5-3.5 .5-.5 .5 1.1 1 .4 .5-1.5 .5 .2 .5-1.4 .5 .6 .5-.9 .5 1 2 0 .5 .5 1.5-1.3 1.5 .6 .5-.3 1 .8 1.5-2.5 .5 .5 .5-.3 1.5 1.8 1-1.9 .5-.1 1.5 1.5 .5 .1 .5-.6 .5 1.2 .5-.3 .5 1.2 .5-2.3 1 .4 1 1.7 1.5-1 1 2.4 .5 0 .5-.6 1 .5 1-.4 1 1.2 .5-1.3 .5 .3 .5-.8 .5 1.6 1 0 1-1.2 1 1.3 1.5-1.1 1.5 1.7 1-.1 .5-1.2 1-.9 1 .3 .5 1.8 .5-1.3 .5 .7 .5-1.1 1.5 2.8 1-1 .5-1.5 1 1.2 .5-.4 1 .7 .5 1.7 .5-1.7 1-1.4 1.5 1.5 1.5-.7 1.5 1.3 .5-.7 1 .2 .5 .6 .5-.6 2 .4 .5 .6 1-.2 .5-.8 .5 .5 .5-.8 1.5 1 1.5-1.7 .5 .8 .5-.3 .5 .7 .5-.4 1.5 1 .5-.2 .5-2.3 1-.6 .5 1.8 1 1 .5-.2 1-1.7 1.5-.1 .5-.8 .5 .1 .5-.5 1 .3 .5 1.3 2-2.2 .5 .2 .5-.3 .5 1 .5-.5 .5 .5 .5-1.1 .5 .4 .5-1.6 .5 .6 1-.6 1.5-1.9 .5 .1 .5 1.4 .5 .1 1-2.2 1.5-.3 .5-.8 2-4.9 .5 1.3 .5-1.2 .5 .6 .5-1.4 .5 .8 1.5-.3 1.5 1.3 1-.5 3 5.7 .5-1.3 1 .2 1 3 1-.3 1-1.5 1 .7 .5 1.5 .5-.8 .5 .1 .5-1.9 .5 .8 1 .1 1-.8 2.5 1.3 1-1.1 .5 .1 1 1.8 1 0 .5-.5 1.5 1.8 .5-.7 .5 .1 1 1.9 1-1.2 1.5 .9 2-2.2 .5 .5 1-.2 1-1.4 1.5 1.9 .5-.9 1 .3 1 1.2 3 .1 .5 .7 1-.4 1 .9 .5 1.3 .5-.4 1 .6 1 1.5 1 0 1.5-1.6 .5 .5 1 0 1-1.5 2 1.9 .5-1.1 .5 .9 .5-.9 .5 .6 .5-.7 .5 .1 .5 1.2 2-.3 1-1.1 1.5 .7 2-2.2 1.5 1.5 1.5-1.9 1 .9 1.5-1.5 1.5 2.1 .5-.7 .5 .1 1 2.1 3-1 1.5 .6 .5-.9 .5 .5 2 .2 1-.7 1.5-2.3 .5 1.3 1 .9 .5-2.3 1-.3 .5 .7 1-1.1 1 .4 1-.6 2 .6 1.5-.6 .5 1.4 1.5-.2 .5 1 1.5-.1 1 1.3 2 .7 1-1.2 1-.3 .5 1 .5-.2 .5 2.1 1.5-.1 .5-.6 .5 .6 .5-1.5 2 2.3 2-2.4 1 1.1 1.5-1.7 .5 .1 .5 1.4 .5 .2 1-1 1 .8 1-.4 .5 .2 1-.5 1-1.6 .5 .2 1-.7 2 1 1.5 1.9 1-2 1 .5 .5-.5 1 .5 .5 1.7 1.5-1.7 2 1.5 1-.2 .5 .9 .5-1.4 .5 1 .5-.6 .5 .8 1-1.5 1 .6 1.5-1.1 .5 .4 .5-.8 1 1.3 1.5-1.7 .5 .7 1.5-.8 1.5-1.7 .5 .6 1.5-.5 1 1.1 .5-.6 1 .6 1.5-.5 .5 1.2 1 .9 1-.1 1-.9 1 2.4 1.5-2.9 2 2.2 1-.2 1.5 1.9 1-2.3 1.5 1.9 1-.8 .5 1.2 1 0 .5-1.9 1 .6 1.5-1.3 .5 .8 1-1.2 1.5 1.8 3-2 1.5 .9 1-1.2 1.5 .9 .5-1.6 2 .7 .5-1.2 1.5-.9 1.5-2.4 .5 .1 3-8.4 1 .3 .5-.4 .5-2.2 2.5-2.9 .5 1.5 .5 .1 .5 1.5 1.5 2 1.5 4 .5-.4 1.5 3.8 1.5 .2 1.5 2.8 .5-.6 2.5 1.8 1-.1 .5 1.5 .5 .1 1-1.6 .5 0 2 3.5 1-1.8 1 .8 .5-1 .5 .2 1 1.9 .5 .1 1.5-1.1 2 2.8 1.5-1.4 1 1.6 1.5-2.5 .5 .6 .5-.6 1 .8 .5-.2 1-2.1 1-.4 1 .8 1.5-1.6 .5 .6 1-.3 .5 1.1 1 .4 .5-1.2 1.5-.8 1 .3 .5 .8 .5-.9 1.5 1.6 2-.1 1.5 .6 .5 1.1 1.5 .4 1 .8 3-.6 1-1.6 2 1.6 1 .1 1-1.3 1 1.2 1-1 .5-1.5 1 .6 .5 1.7 .5-.1 .5 .4 .5-.9 .5 .2 .5-.6 .5 1 .5-.4 .5 .7 1-1.1 1-3.3 1.5 4.4 .5 .3 1.5-1.3 1-.1 1.5 1.3 1.5-2.5 .5 .6 .5-.1 .5 1 2 .3 .5-.7 1-.2 .5 .9 1-.6 1-2.2 1 1.4 1 0 1 2.6 1-.3 .5-.9 .5 .9 .5-1.1 .5 .4 1-.3 2.5 .5 1-.5 .5-1.5 .5 .5 .5-.3 .5 1.3 1.5-.6 1.5 1.3 1.5-2 .5 1.9 1.5-1.4 1.5 1.5 .5-.3 .5 .4 .5-.9 1.5-.5 .5 .4 .5-.8 .5 .5 .5-1.1 1.5 .9 1-.6 1 .9 .5-.2 1 1.7 .5-1 1 0 .5 1.5 1-1.4 1-.1 .5-.8 .5 .4 .5-.8 .5 1.2 .5-.8 .5 .9 2 .5 1-1 .5-1.5 1 .2 2 2.4 2-1.7 1.5 2.2 2-1.1 .5 .5 .5-.2 .5 1 2-1.3 .5 .2 .5-1 .5 0 .5-.6 .5 0 2 2.5 1-.8 .5-1.7 1.5 2.1 1-1.8 1.5 1 1-.2 .5 1.2 .5-1.5 1-.8 .5 .8 1.5-.8 1.5 1.4" stroke="#5d95d8" stroke-width="1.4" fill="none" stroke-linejoin="round"/>
<path d="M43 380.3l.5 .8 .5-.6 .5 .6 1-.6 1 .9 1.5-1.6 1 .3 1 1.4 .5 0 1-1.8 1.5 .8 .5-.7 1.5 .3 1 .9 1.5-1.5 .5 1.3 1 .7 1-.3 .5 .6 2-1.7 .5 1 .5-.9 .5 .2 .5-.6 1-.2 .5 .4 1.5-.7 .5 .6 .5-.6 3 1.2 .5-.6 1.5 1.4 1-1 1-.2 1 1.2 1 .3 .5-1.1 1.5-1.1 .5 1.2 .5-.1 .5 .8 1-2.1 1.5 2.2 .5 0 2-1.1 .5 .9 .5 0 1-1.5 1 .7 .5-.2 .5-1.3 1 2.6 .5-.2 1-2.3 .5 1.4 1.5-1.3 .5 1 1.5 .5 1 1.4 2.5-2.7 1 1.6 1-1.4 1-.6 1.5 1.1 1-.8 1.5 .8 1.5-2.6 2 3.2 1-2.6 1 1.1 .5 0 1-1.9 .5 1 1 .3 .5-1.4 1 0 1 1 .5-1.1 1-.6 1 .1 1 2.2 1 .8 .5-1.8 1-.6 .5 1 1 .6 1 0 .5-.7 1.5 2.2 .5 .1 .5-1 1-.4 1 2 1-.7 1.5 1.2 1.5-1.6 2 .5 1-.9 1 .8 .5 1.5 1.5-2.2 1 .3 1.5 1.6 1-1.9 1-.9 1 1.6 2 1.3 2-1.6 1 .4 .5 1.5 1.5-2 1 0 1-.6 1 1.5 1.5-1 1 1.3 1 0 1 1.2 2.5-2.3 1.5 .1 2 1.4 .5-.6 .5 .5 .5-.8 .5 .7 .5-.6 2-.3 .5-.5 1 1.4 .5 0 1-2.2 2 .2 1 .8 .5-.4 .5 .5 1 0 .5-.7 1-.2 .5 .6 .5-.4 .5 .9 .5-.9 1-.2 1 1.5 1.5 .6 1-2.7 .5-.1 1 1.7 1 .2 1-.7 .5 .3 .5-.3 .5 .9 .5-1.3 1-.2 2 1.3 1-.4 .5 .5 1-.3 .5-1.2 1 .9 .5 0 1-2 1.5 2.7 2.5-2.6 1.5 1.1 1.5-.8 .5 1.5 1 1.1 1.5-2 1 .3 1 1.6 2-1.5 1.5 .8 .5-.7 2 2.5 1-.8 1.5-.2 .5-.9 1 .3 1 1.1 2-3.7 1.5 1 1-1 1.5 3.3 1.5-2.6 1 1.1 1 .3 2-.8 1.5-1.3 .5 .1 .5 1.7 .5 0 .5 .9 .5-1.5 .5 .3 .5-.9 1 .7 2-1.3 1-2.1 1.5 1.7 1-1.1 1 .6 1-1.4 .5 .1 .5 1.5 1.5 .1 2 1.1 1.5-1.9 1.5 1.6 1.5 .4 .5 1 1-1.1 1 .1 .5 1 .5-.1 2 2.3 1.5-2.3 1 .7 1-.7 1 .9 1.5-1.1 1.5 2.4 1.5-2.2 .5 1 .5-.5 .5 .4 .5-1.6 1.5 2.1 1.5-2.1 1.5 2.8 1-1.5 1-.7 .5 .4 1-1.1 1.5 1.7 .5-1.7 1.5 2 1-1.5 3 1.2 .5-.7 1.5 1.8 1.5-1.5 1.5 1.6 1 0 1.5-1.3 2 2.4 1.5-2.4 .5 .4 .5-.5 .5 .7 .5-.3 .5 .3 1-.9 .5-1.3 2.5 1.8 1.5-1.6 1 1.4 .5-.4 .5 .3 2-2.5 3 1.6 2-2.9 .5 .6 .5-.5 1.5 2.1 1.5-3.1 .5 1 1.5-2.8 2-.5 1-1.9 .5-.3 .5 .4 1.5-1.8 1 0 .5 .8 1-.2 .5-.9 1.5 3.6 .5-.3 1 .3 .5 1.6 .5-.1 .5 .8 .5-.5 .5 .4 1-1.5 2 3.2 .5 0 1-.9 .5 .9 1-.4 .5-1.7 1-1.2 1 1.6 1.5 .9 1.5-1.1 1.5 1.9 .5 0 .5 1.1 .5-.4 .5 .8 .5-1 .5 .3 2-1.4 .5 1.3 .5-.8 1-.3 .5 .6 2.5 .2 1.5 1 .5-.9 1.5 2.4 2-2 1 1.4 1.5-1.7 1 .9 1 2 1 .3 1.5-.1 1.5-1 1.5 1.3 3-1 1.5 1.1 .5-1.3 2 1.9 1.5-2.5 1 1.4 .5-.9 .5 .5 .5-.6 .5 .1 1-1.4 1 1.6 1.5-.5 .5 .4 1-.6 1.5 0 1.5 .7 .5 1.2 1-1.1 .5-1.6 2-.3 1.5 2.7 1-2.9 .5 0 1.5 2 1-1.7 .5-.1 1.5 1.5 1.5-1.5 2 1.8 2 .2 2.5-3.4 1.5 .7 1.5-.5 1 1.5 .5-.1 1.5 1 .5-.7 1.5 1.7 .5-.7 1 .2 1-1.1 1.5 .7 .5-1.2 1 .5 .5 1.5 .5 .1 1-1.3 1 1.5 1.5-1 1.5 2.7 1-.5 1-2.9 .5 0 1.5 1.9 .5-.3 .5 .4 1-.2 1-1.5 1.5 2.7 1-3.2 1 .7 .5 1.4 .5-.5 .5 .3 .5-.8 1 .3 1.5-1.3 1 .6 1.5 2.4 2-2.7 .5 1.2 1 .1 .5-.6 .5 .6 1.5-1.6 1.5 1.4 1-.4 .5 .7 1.5-.7 .5 .8 1.5-.1 .5 .4 1.5-1.3 1 .6 1-.7 1 .5 .5-.9 1.5 1.1 1-1.1 1.5 .9 1-2.7 .5-.4 1 2.5 .5 .1 1-1.2 1 .7 1-.2 1.5 2.6 3-2.4 1 .7 .5 1.1 1.5-1.2 1.5 1.4 .5 1.3 1.5-2.3 1 .4 1-.4 1.5 1.4 1.5-.4 1 1 1.5-2.2 1 1.3 1.5-1 .5 .5 .5-.5 1 .4 .5-.7 1 .6 1.5-.6 1 .5 .5-1 .5 .1 .5-.8 1.5 0 .5 .5 .5-.6 1-.1 .5 .5 .5-1 1-.6 .5 .8 .5-.5 1-3.6 .5-.8 .5 .4 .5-1 .5 0 1.5-3.1 1-.3 1-3 .5-.3 1 1 .5-.4 1.5 .4 2 4.9 .5 .1 .5 1.1 .5-.3 1 .7 1 2 2 2.3 4 0 1 1.1 1.5-1.1 .5 1 .5 .3 .5-.3 1 1.4 1-.6 1 1.6 2-2.2 1.5 1.5 .5-.6 1-.1 .5 .8 1 .1 .5-.8 .5 .3 .5-.6 .5 .4 1-1 1 1 1 2.4 .5 .1 .5-1.2 1.5-1.2 1-2 1.5 2.6 .5-1.1 .5 .5 1.5-1.6 1.5 .5 .5 .8 2-.5 .5 .4 3-1.6 1 .6 1 2.8 .5 .2 1-2 1.5 1.9 1.5-1.5 1 .4 2-.6 2 2.4 1.5-2.2 2 2.5 .5 .1 1.5-1.6 1.5 .4 .5 .6 .5-1.5 1-.5 .5 .8 .5-.6 .5 .3 .5-.4 .5 .5 .5-.7 1.5 2 1.5-2.9 .5-.2 .5 1.1 1-.4 1.5 3.2 .5 0 1.5-2.9 1.5 1.5 .5-1 1-.6 .5 .7 3 1.2 2.5-2.8 1.5 2.5 1.5-.3 1.5 .4 .5-.8 1.5-.2 .5-.5 1.5 1.9 .5-.3 1-2.1 .5 0 1 1.5 1.5-.9 1 2 1-.3 .5-.7 1-.1 1.5 1.9 3-3.3 .5 0 1 2 .5 .1 .5-.9 1-.4 .5 .7 .5-.7 2 1.8 .5-1.8 1 .1 .5 1.2 1.5-1.5 1.5 2.6 .5-.1 1-2.3 1.5 0 1 1.2 .5-.9 .5 .5 .5-.4 .5 .3 .5-1.2 1.5 1.3 .5-.3 1 .4 1.5-1.6 .5 .9 1.5-.4 1 1.1 2-.9 .5 1.1 1 .2 1-1.5 1 .4 .5 1.7 .5 .2 1-1.1 1.5-.3 1.5 1.8 2-3.1 1 1.2 1 .3 2-1.3 3 1.8 .5-.6 .5 .5" stroke="#6a9edc" stroke-width="1.4" fill="none" stroke-linejoin="round"/>
</g>
<g stroke="#555" stroke-width="1">
<line x1="146.3" y1="380.5" x2="146.3" y2="391"/>
<line x1="355.0" y1="380.5" x2="355.0" y2="391"/>
<line x1="459.0" y1="380.5" x2="459.0" y2="391"/>
<line x1="562.3" y1="380.5" x2="562.3" y2="391"/>
</g>
<g stroke-dasharray="3.6 1.753">
<line x1="118.6" y1="53.3" x2="118.6" y2="730" stroke="#111" stroke-width="2.0"/>
<line x1="208.7" y1="53.3" x2="208.7" y2="730" stroke="#111" stroke-width="2.0"/>
<line x1="250.8" y1="53.3" x2="250.8" y2="730" stroke="#474747" stroke-width="1.5"/>
<line x1="332.0" y1="53.3" x2="332.0" y2="730" stroke="#474747" stroke-width="1.5"/>
<line x1="346.5" y1="53.3" x2="346.5" y2="730" stroke="#474747" stroke-width="1.5"/>
<line x1="362.7" y1="53.3" x2="362.7" y2="730" stroke="#474747" stroke-width="1.5"/>
<line x1="389.9" y1="53.3" x2="389.9" y2="730" stroke="#474747" stroke-width="1.5"/>
<line x1="399.7" y1="53.3" x2="399.7" y2="730" stroke="#111" stroke-width="2.0"/>
<line x1="421.0" y1="53.3" x2="421.0" y2="730" stroke="#474747" stroke-width="1.5"/>
<line x1="452.8" y1="53.3" x2="452.8" y2="730" stroke="#474747" stroke-width="1.5"/>
<line x1="480.3" y1="53.3" x2="480.3" y2="730" stroke="#474747" stroke-width="1.5"/>
<line x1="490.0" y1="53.3" x2="490.0" y2="730" stroke="#111" stroke-width="2.0"/>
<line x1="505.6" y1="53.3" x2="505.6" y2="730" stroke="#2a2a2a" stroke-width="1.75"/>
<line x1="524.0" y1="53.3" x2="524.0" y2="730" stroke="#111" stroke-width="2.0"/>
<line x1="542.0" y1="53.3" x2="542.0" y2="730" stroke="#2a2a2a" stroke-width="1.75"/>
<line x1="565.8" y1="53.3" x2="565.8" y2="730" stroke="#2a2a2a" stroke-width="1.75"/>
<line x1="577.9" y1="53.3" x2="577.9" y2="730" stroke="#111" stroke-width="2.0"/>
</g>
<rect x="42" y="1.8" width="637.8" height="729" fill="none" stroke="#111" stroke-width="2.1"/>
<g stroke="#555" stroke-width="1.3">
<line x1="43.2" y1="731" x2="43.2" y2="740"/>
<line x1="146.1" y1="731" x2="146.1" y2="740"/>
<line x1="250.5" y1="731" x2="250.5" y2="740"/>
<line x1="354.3" y1="731" x2="354.3" y2="740"/>
<line x1="458.5" y1="731" x2="458.5" y2="740"/>
<line x1="562.6" y1="731" x2="562.6" y2="740"/>
<line x1="679.0" y1="731" x2="679.0" y2="740"/>
</g>
<g font-size="17.2" fill="#1a1a1a" stroke="#1a1a1a" stroke-width="0.2">
<g transform="translate(122.1,51.0) rotate(-90) scale(1.0105,1)"><text x="0.00">7</text><text x="9.57">4</text><text x="19.13">7</text></g>
<g transform="translate(213.0,51.0) rotate(-90) scale(1.0105,1)"><text x="0.00">9</text><path transform="translate(9.57,0) scale(0.00840,-0.00840)" stroke-width="23.8" d="M575 0L756 0L756 1409L590 1409L257 1180L257 1010L575 1237Z"/><text x="19.13">5</text></g>
<g transform="translate(255.9,50.2) rotate(-90) scale(1.0140,1)"><path transform="translate(0.00,0) scale(0.00840,-0.00840)" stroke-width="23.8" d="M575 0L756 0L756 1409L590 1409L257 1180L257 1010L575 1237Z"/><text x="9.57">0</text><text x="19.13">0</text><text x="28.70">0</text></g>
<g transform="translate(334.3,50.2) rotate(-90) scale(1.0140,1)"><path transform="translate(0.00,0) scale(0.00840,-0.00840)" stroke-width="23.8" d="M575 0L756 0L756 1409L590 1409L257 1180L257 1010L575 1237Z"/><path transform="translate(9.57,0) scale(0.00840,-0.00840)" stroke-width="23.8" d="M575 0L756 0L756 1409L590 1409L257 1180L257 1010L575 1237Z"/><text x="19.13">5</text><text x="28.70">5</text></g>
<g transform="translate(350.5,50.2) rotate(-90) scale(1.0140,1)"><path transform="translate(0.00,0) scale(0.00840,-0.00840)" stroke-width="23.8" d="M575 0L756 0L756 1409L590 1409L257 1180L257 1010L575 1237Z"/><path transform="translate(9.57,0) scale(0.00840,-0.00840)" stroke-width="23.8" d="M575 0L756 0L756 1409L590 1409L257 1180L257 1010L575 1237Z"/><text x="19.13">8</text><text x="28.70">4</text></g>
<g transform="translate(367.6,50.2) rotate(-90) scale(1.0140,1)"><path transform="translate(0.00,0) scale(0.00840,-0.00840)" stroke-width="23.8" d="M575 0L756 0L756 1409L590 1409L257 1180L257 1010L575 1237Z"/><text x="9.57">2</text><path transform="translate(19.13,0) scale(0.00840,-0.00840)" stroke-width="23.8" d="M575 0L756 0L756 1409L590 1409L257 1180L257 1010L575 1237Z"/><text x="28.70">8</text></g>
<g transform="translate(387.7,50.2) rotate(-90) scale(1.0140,1)"><path transform="translate(0.00,0) scale(0.00840,-0.00840)" stroke-width="23.8" d="M575 0L756 0L756 1409L590 1409L257 1180L257 1010L575 1237Z"/><text x="9.57">2</text><text x="19.13">6</text><text x="28.70">7</text></g>
<g transform="translate(404.6,50.2) rotate(-90) scale(1.0140,1)"><path transform="translate(0.00,0) scale(0.00840,-0.00840)" stroke-width="23.8" d="M575 0L756 0L756 1409L590 1409L257 1180L257 1010L575 1237Z"/><text x="9.57">2</text><text x="19.13">8</text><text x="28.70">8</text></g>
<g transform="translate(421.9,50.2) rotate(-90) scale(1.0140,1)"><path transform="translate(0.00,0) scale(0.00840,-0.00840)" stroke-width="23.8" d="M575 0L756 0L756 1409L590 1409L257 1180L257 1010L575 1237Z"/><text x="9.57">3</text><text x="19.13">2</text><text x="28.70">6</text></g>
<g transform="translate(453.4,50.2) rotate(-90) scale(1.0140,1)"><path transform="translate(0.00,0) scale(0.00840,-0.00840)" stroke-width="23.8" d="M575 0L756 0L756 1409L590 1409L257 1180L257 1010L575 1237Z"/><text x="9.57">3</text><text x="19.13">8</text><text x="28.70">2</text></g>
<g transform="translate(479.5,50.2) rotate(-90) scale(1.0140,1)"><path transform="translate(0.00,0) scale(0.00840,-0.00840)" stroke-width="23.8" d="M575 0L756 0L756 1409L590 1409L257 1180L257 1010L575 1237Z"/><text x="9.57">4</text><text x="19.13">4</text><text x="28.70">0</text></g>
<g transform="translate(495.4,50.2) rotate(-90) scale(1.0140,1)"><path transform="translate(0.00,0) scale(0.00840,-0.00840)" stroke-width="23.8" d="M575 0L756 0L756 1409L590 1409L257 1180L257 1010L575 1237Z"/><text x="9.57">4</text><text x="19.13">5</text><text x="28.70">5</text></g>
<g transform="translate(510.2,50.2) rotate(-90) scale(1.0140,1)"><path transform="translate(0.00,0) scale(0.00840,-0.00840)" stroke-width="23.8" d="M575 0L756 0L756 1409L590 1409L257 1180L257 1010L575 1237Z"/><text x="9.57">4</text><text x="19.13">8</text><text x="28.70">8</text></g>
<g transform="translate(527.6,50.2) rotate(-90) scale(1.0140,1)"><path transform="translate(0.00,0) scale(0.00840,-0.00840)" stroke-width="23.8" d="M575 0L756 0L756 1409L590 1409L257 1180L257 1010L575 1237Z"/><text x="9.57">5</text><text x="19.13">2</text><text x="28.70">5</text></g>
<g transform="translate(547.1,50.2) rotate(-90) scale(1.0140,1)"><path transform="translate(0.00,0) scale(0.00840,-0.00840)" stroke-width="23.8" d="M575 0L756 0L756 1409L590 1409L257 1180L257 1010L575 1237Z"/><text x="9.57">5</text><text x="19.13">5</text><path transform="translate(28.70,0) scale(0.00840,-0.00840)" stroke-width="23.8" d="M575 0L756 0L756 1409L590 1409L257 1180L257 1010L575 1237Z"/></g>
<g transform="translate(569.6,50.2) rotate(-90) scale(1.0140,1)"><path transform="translate(0.00,0) scale(0.00840,-0.00840)" stroke-width="23.8" d="M575 0L756 0L756 1409L590 1409L257 1180L257 1010L575 1237Z"/><text x="9.57">6</text><path transform="translate(19.13,0) scale(0.00840,-0.00840)" stroke-width="23.8" d="M575 0L756 0L756 1409L590 1409L257 1180L257 1010L575 1237Z"/><text x="28.70">0</text></g>
<g transform="translate(585.4,50.2) rotate(-90) scale(1.0140,1)"><path transform="translate(0.00,0) scale(0.00840,-0.00840)" stroke-width="23.8" d="M575 0L756 0L756 1409L590 1409L257 1180L257 1010L575 1237Z"/><text x="9.57">6</text><text x="19.13">3</text><text x="28.70">0</text></g>
</g>
<g font-size="15" fill="#2a2a2a">
<g transform="translate(30.09,752.4)"><text x="0.00">6</text><text x="8.34">0</text><text x="16.68">0</text></g>
<g transform="translate(132.99,752.4)"><text x="0.00">8</text><text x="8.34">0</text><text x="16.68">0</text></g>
<g transform="translate(233.22,752.4)"><path transform="translate(0.00,0) scale(0.00732,-0.00732)" d="M575 0L756 0L756 1409L590 1409L257 1180L257 1010L575 1237Z"/><text x="8.34">0</text><text x="16.68">0</text><text x="25.03">0</text></g>
<g transform="translate(337.02,752.4)"><path transform="translate(0.00,0) scale(0.00732,-0.00732)" d="M575 0L756 0L756 1409L590 1409L257 1180L257 1010L575 1237Z"/><text x="8.34">2</text><text x="16.68">0</text><text x="25.03">0</text></g>
<g transform="translate(441.22,752.4)"><path transform="translate(0.00,0) scale(0.00732,-0.00732)" d="M575 0L756 0L756 1409L590 1409L257 1180L257 1010L575 1237Z"/><text x="8.34">4</text><text x="16.68">0</text><text x="25.03">0</text></g>
<g transform="translate(545.32,752.4)"><path transform="translate(0.00,0) scale(0.00732,-0.00732)" d="M575 0L756 0L756 1409L590 1409L257 1180L257 1010L575 1237Z"/><text x="8.34">6</text><text x="16.68">0</text><text x="25.03">0</text></g>
<g transform="translate(648.13,752.4)"><path transform="translate(0.00,0) scale(0.00732,-0.00732)" d="M575 0L756 0L756 1409L590 1409L257 1180L257 1010L575 1237Z"/><text x="8.34">8</text><text x="16.68">0</text><text x="25.03">0</text></g>
</g>
<text x="3.9" y="30" font-size="36" font-weight="bold" fill="#000" textLength="27.4" lengthAdjust="spacingAndGlyphs">A</text>
<text x="5.6" y="434" font-size="36" font-weight="bold" fill="#000" textLength="24.3" lengthAdjust="spacingAndGlyphs">B</text>
<text transform="translate(31.3,239.0) rotate(-90)" font-size="21.3" font-weight="bold" textLength="93.2" lengthAdjust="spacingAndGlyphs">Intensity</text>
<text transform="translate(31.3,615.4) rotate(-90)" font-size="21.3" font-weight="bold" textLength="92.3" lengthAdjust="spacingAndGlyphs">Intensity</text>
<text x="274.6" y="786.4" font-size="22" font-weight="bold" fill="#000" textLength="176" lengthAdjust="spacingAndGlyphs">Raman Shift (cm</text>
<g transform="translate(451.3,780.6)" font-weight="bold" fill="#000"><text x="0" font-size="15">-</text><path transform="translate(5.0,0) scale(0.007324,-0.007324)" d="M538 0L819 0L819 1409L553 1409L200 1180L200 959L538 1170Z"/></g>
<text x="464.6" y="786.4" font-size="22" font-weight="bold" fill="#000">)</text>
</svg>
</body></html>
